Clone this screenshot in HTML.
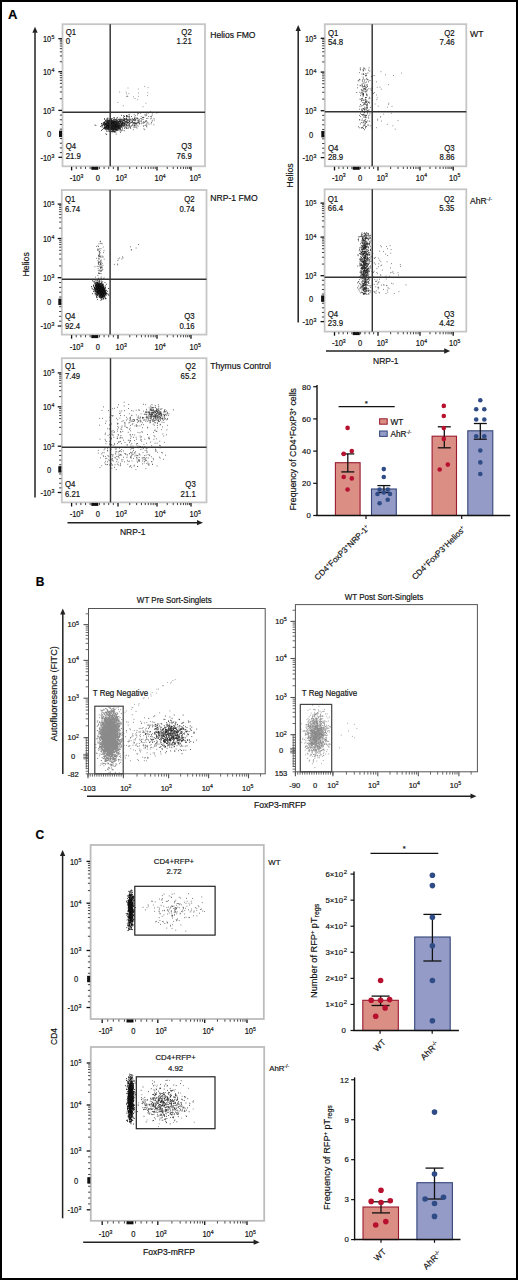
<!DOCTYPE html>
<html><head><meta charset="utf-8"><style>
html,body{margin:0;padding:0;background:#fff;}
text{font-variant-ligatures:none;stroke:#111;stroke-width:0.18px;paint-order:stroke;}
#fig{position:relative;width:518px;height:1280px;overflow:hidden;background:#fff;}
#fig svg{position:absolute;left:0;top:0;}
#brd{position:absolute;left:0;top:0;width:518px;height:1280px;box-sizing:border-box;border:2px solid #000;}
text{font-family:"Liberation Sans", sans-serif;}
</style></head><body><div id="fig">
<svg width="518" height="1280" viewBox="0 0 518 1280" font-family="Liberation Sans, sans-serif">
<text x="8.00" y="18.50" font-size="13" text-anchor="start" font-weight="bold" fill="#000">A</text>
<text x="35.70" y="586.10" font-size="12" text-anchor="start" font-weight="bold" fill="#000">B</text>
<text x="35.50" y="839.00" font-size="12" text-anchor="start" font-weight="bold" fill="#000">C</text>
<line x1="35.00" y1="32.30" x2="35.00" y2="497.50" stroke="#222" stroke-width="1.5"/>
<path d="M32.35,32.80 L35.00,26.80 L37.65,32.80 Z" fill="#222"/>
<line x1="67.50" y1="522.70" x2="197.50" y2="522.70" stroke="#222" stroke-width="1.5"/>
<path d="M197.00,520.05 L203.00,522.70 L197.00,525.35 Z" fill="#222"/>
<text x="0" y="0" font-size="9.9" text-anchor="middle" font-weight="normal" fill="#111" transform="translate(28.85 264.40) rotate(-90) scale(0.89 1)">Helios</text>
<text x="0" y="0" font-size="9.9" text-anchor="middle" font-weight="normal" fill="#111" transform="translate(132.70 534.80) rotate(0) scale(0.86 1)">NRP-1</text>
<rect x="62.50" y="24.20" width="142.50" height="142.10" fill="none" stroke="#c6c6c6" stroke-width="1.8"/>
<line x1="58.40" y1="157.30" x2="62.00" y2="157.30" stroke="#111" stroke-width="1.3"/>
<line x1="58.40" y1="110.40" x2="62.00" y2="110.40" stroke="#111" stroke-width="1.3"/>
<line x1="58.40" y1="71.70" x2="62.00" y2="71.70" stroke="#111" stroke-width="1.3"/>
<line x1="58.40" y1="38.70" x2="62.00" y2="38.70" stroke="#111" stroke-width="1.3"/>
<line x1="59.80" y1="129.16" x2="62.00" y2="129.16" stroke="#111" stroke-width="0.8"/>
<line x1="59.80" y1="138.54" x2="62.00" y2="138.54" stroke="#111" stroke-width="0.8"/>
<line x1="59.80" y1="124.47" x2="62.00" y2="124.47" stroke="#111" stroke-width="0.8"/>
<line x1="59.80" y1="143.23" x2="62.00" y2="143.23" stroke="#111" stroke-width="0.8"/>
<line x1="59.80" y1="119.78" x2="62.00" y2="119.78" stroke="#111" stroke-width="0.8"/>
<line x1="59.80" y1="147.92" x2="62.00" y2="147.92" stroke="#111" stroke-width="0.8"/>
<line x1="59.80" y1="115.09" x2="62.00" y2="115.09" stroke="#111" stroke-width="0.8"/>
<line x1="59.80" y1="152.61" x2="62.00" y2="152.61" stroke="#111" stroke-width="0.8"/>
<line x1="59.80" y1="131.97" x2="62.00" y2="131.97" stroke="#111" stroke-width="0.8"/>
<line x1="59.80" y1="135.73" x2="62.00" y2="135.73" stroke="#111" stroke-width="0.8"/>
<line x1="59.80" y1="98.75" x2="62.00" y2="98.75" stroke="#111" stroke-width="0.8"/>
<line x1="59.80" y1="61.77" x2="62.00" y2="61.77" stroke="#111" stroke-width="0.8"/>
<line x1="59.80" y1="91.94" x2="62.00" y2="91.94" stroke="#111" stroke-width="0.8"/>
<line x1="59.80" y1="55.95" x2="62.00" y2="55.95" stroke="#111" stroke-width="0.8"/>
<line x1="59.80" y1="87.10" x2="62.00" y2="87.10" stroke="#111" stroke-width="0.8"/>
<line x1="59.80" y1="51.83" x2="62.00" y2="51.83" stroke="#111" stroke-width="0.8"/>
<line x1="59.80" y1="83.35" x2="62.00" y2="83.35" stroke="#111" stroke-width="0.8"/>
<line x1="59.80" y1="48.63" x2="62.00" y2="48.63" stroke="#111" stroke-width="0.8"/>
<line x1="59.80" y1="80.29" x2="62.00" y2="80.29" stroke="#111" stroke-width="0.8"/>
<line x1="59.80" y1="46.02" x2="62.00" y2="46.02" stroke="#111" stroke-width="0.8"/>
<line x1="59.80" y1="77.69" x2="62.00" y2="77.69" stroke="#111" stroke-width="0.8"/>
<line x1="59.80" y1="43.81" x2="62.00" y2="43.81" stroke="#111" stroke-width="0.8"/>
<line x1="59.80" y1="75.45" x2="62.00" y2="75.45" stroke="#111" stroke-width="0.8"/>
<line x1="59.80" y1="41.90" x2="62.00" y2="41.90" stroke="#111" stroke-width="0.8"/>
<line x1="59.80" y1="73.47" x2="62.00" y2="73.47" stroke="#111" stroke-width="0.8"/>
<line x1="59.80" y1="40.21" x2="62.00" y2="40.21" stroke="#111" stroke-width="0.8"/>
<rect x="59.00" y="130.65" width="3.00" height="6.40" fill="#111" stroke="none" stroke-width="1"/>
<line x1="71.60" y1="166.80" x2="71.60" y2="170.40" stroke="#111" stroke-width="1.3"/>
<line x1="118.00" y1="166.80" x2="118.00" y2="170.40" stroke="#111" stroke-width="1.3"/>
<line x1="157.00" y1="166.80" x2="157.00" y2="170.40" stroke="#111" stroke-width="1.3"/>
<line x1="191.00" y1="166.80" x2="191.00" y2="170.40" stroke="#111" stroke-width="1.3"/>
<line x1="99.44" y1="166.80" x2="99.44" y2="169.00" stroke="#111" stroke-width="0.8"/>
<line x1="90.16" y1="166.80" x2="90.16" y2="169.00" stroke="#111" stroke-width="0.8"/>
<line x1="104.08" y1="166.80" x2="104.08" y2="169.00" stroke="#111" stroke-width="0.8"/>
<line x1="85.52" y1="166.80" x2="85.52" y2="169.00" stroke="#111" stroke-width="0.8"/>
<line x1="108.72" y1="166.80" x2="108.72" y2="169.00" stroke="#111" stroke-width="0.8"/>
<line x1="80.88" y1="166.80" x2="80.88" y2="169.00" stroke="#111" stroke-width="0.8"/>
<line x1="113.36" y1="166.80" x2="113.36" y2="169.00" stroke="#111" stroke-width="0.8"/>
<line x1="76.24" y1="166.80" x2="76.24" y2="169.00" stroke="#111" stroke-width="0.8"/>
<line x1="96.66" y1="166.80" x2="96.66" y2="169.00" stroke="#111" stroke-width="0.8"/>
<line x1="92.94" y1="166.80" x2="92.94" y2="169.00" stroke="#111" stroke-width="0.8"/>
<line x1="129.74" y1="166.80" x2="129.74" y2="169.00" stroke="#111" stroke-width="0.8"/>
<line x1="167.24" y1="166.80" x2="167.24" y2="169.00" stroke="#111" stroke-width="0.8"/>
<line x1="136.61" y1="166.80" x2="136.61" y2="169.00" stroke="#111" stroke-width="0.8"/>
<line x1="173.22" y1="166.80" x2="173.22" y2="169.00" stroke="#111" stroke-width="0.8"/>
<line x1="141.48" y1="166.80" x2="141.48" y2="169.00" stroke="#111" stroke-width="0.8"/>
<line x1="177.47" y1="166.80" x2="177.47" y2="169.00" stroke="#111" stroke-width="0.8"/>
<line x1="145.26" y1="166.80" x2="145.26" y2="169.00" stroke="#111" stroke-width="0.8"/>
<line x1="180.76" y1="166.80" x2="180.76" y2="169.00" stroke="#111" stroke-width="0.8"/>
<line x1="148.35" y1="166.80" x2="148.35" y2="169.00" stroke="#111" stroke-width="0.8"/>
<line x1="183.46" y1="166.80" x2="183.46" y2="169.00" stroke="#111" stroke-width="0.8"/>
<line x1="150.96" y1="166.80" x2="150.96" y2="169.00" stroke="#111" stroke-width="0.8"/>
<line x1="185.73" y1="166.80" x2="185.73" y2="169.00" stroke="#111" stroke-width="0.8"/>
<line x1="153.22" y1="166.80" x2="153.22" y2="169.00" stroke="#111" stroke-width="0.8"/>
<line x1="187.71" y1="166.80" x2="187.71" y2="169.00" stroke="#111" stroke-width="0.8"/>
<line x1="155.22" y1="166.80" x2="155.22" y2="169.00" stroke="#111" stroke-width="0.8"/>
<line x1="189.44" y1="166.80" x2="189.44" y2="169.00" stroke="#111" stroke-width="0.8"/>
<rect x="91.30" y="166.80" width="7.00" height="3.00" fill="#111" stroke="none" stroke-width="1"/>
<text x="0" y="0" font-size="8.3" text-anchor="end" font-weight="normal" fill="#111" transform="translate(51.30 42.09) rotate(0) scale(0.91 1)">10</text>
<text x="0" y="0" font-size="5.8100000000000005" text-anchor="start" font-weight="normal" fill="#111" transform="translate(51.50 39.10) rotate(0) scale(0.91 1)">5</text>
<text x="0" y="0" font-size="8.3" text-anchor="end" font-weight="normal" fill="#111" transform="translate(51.30 75.09) rotate(0) scale(0.91 1)">10</text>
<text x="0" y="0" font-size="5.8100000000000005" text-anchor="start" font-weight="normal" fill="#111" transform="translate(51.50 72.10) rotate(0) scale(0.91 1)">4</text>
<text x="0" y="0" font-size="8.3" text-anchor="end" font-weight="normal" fill="#111" transform="translate(51.30 113.79) rotate(0) scale(0.91 1)">10</text>
<text x="0" y="0" font-size="5.8100000000000005" text-anchor="start" font-weight="normal" fill="#111" transform="translate(51.50 110.80) rotate(0) scale(0.91 1)">3</text>
<text x="0" y="0" font-size="8.3" text-anchor="end" font-weight="normal" fill="#111" transform="translate(51.30 137.24) rotate(0) scale(0.91 1)">0</text>
<text x="0" y="0" font-size="8.3" text-anchor="end" font-weight="normal" fill="#111" transform="translate(51.30 160.69) rotate(0) scale(0.91 1)">-10</text>
<text x="0" y="0" font-size="5.8100000000000005" text-anchor="start" font-weight="normal" fill="#111" transform="translate(51.50 157.70) rotate(0) scale(0.91 1)">3</text>
<text x="0" y="0" font-size="8.3" text-anchor="middle" font-weight="normal" fill="#111" transform="translate(76.50 181.49) rotate(0) scale(0.91 1)">-10<tspan font-size="5.64" dy="-3.15">3</tspan></text>
<text x="0" y="0" font-size="8.3" text-anchor="middle" font-weight="normal" fill="#111" transform="translate(97.90 181.49) rotate(0) scale(0.91 1)">0</text>
<text x="0" y="0" font-size="8.3" text-anchor="middle" font-weight="normal" fill="#111" transform="translate(121.20 181.49) rotate(0) scale(0.91 1)">10<tspan font-size="5.64" dy="-3.15">3</tspan></text>
<text x="0" y="0" font-size="8.3" text-anchor="middle" font-weight="normal" fill="#111" transform="translate(160.10 181.49) rotate(0) scale(0.91 1)">10<tspan font-size="5.64" dy="-3.15">4</tspan></text>
<text x="0" y="0" font-size="8.3" text-anchor="middle" font-weight="normal" fill="#111" transform="translate(195.20 181.49) rotate(0) scale(0.91 1)">10<tspan font-size="5.64" dy="-3.15">5</tspan></text>
<path d="M111.0,126.6h0M111.1,124.6h0M108.4,124.6h0M116.3,126.7h0M116.0,126.3h0M113.5,126.0h0M105.5,127.1h0M114.0,126.8h0M105.4,120.6h0M108.5,124.0h0M113.2,125.4h0M114.0,123.9h0M113.2,126.5h0M109.4,129.5h0M114.2,128.5h0M109.6,123.4h0M110.7,125.0h0M114.5,126.2h0M110.3,122.9h0M110.0,128.3h0M108.8,125.8h0M113.7,121.8h0M112.2,128.7h0M104.1,124.1h0M111.6,123.3h0M113.9,125.4h0M106.3,127.1h0M114.6,127.9h0M117.6,126.7h0M112.5,122.2h0M114.4,124.0h0M110.2,122.1h0M108.2,123.8h0M117.0,120.7h0M106.3,125.6h0M117.6,127.2h0M104.6,118.7h0M113.4,123.7h0M107.6,127.6h0M116.3,126.1h0M113.0,126.5h0M118.2,127.3h0M114.0,126.9h0M105.9,128.2h0M115.7,127.0h0M104.3,123.3h0M115.3,121.1h0M111.3,127.9h0M106.9,129.1h0M114.2,125.2h0M113.3,127.1h0M112.5,128.3h0M109.4,124.2h0M116.1,125.7h0M108.6,127.5h0M117.7,124.7h0M106.6,124.7h0M111.4,124.6h0M117.5,123.2h0M116.9,122.6h0M108.9,126.8h0M116.4,127.8h0M113.3,125.8h0M112.6,126.9h0M111.3,126.0h0M114.2,125.5h0M115.0,127.0h0M119.8,126.7h0M110.3,124.4h0M111.9,127.7h0M110.7,126.3h0M119.2,119.5h0M107.6,125.7h0M113.6,126.1h0M110.3,126.9h0M113.1,124.2h0M121.5,126.9h0M109.8,125.0h0M111.1,125.2h0M101.4,123.5h0M115.9,122.7h0M111.7,127.8h0M115.3,129.3h0M105.4,124.1h0M110.7,126.9h0M116.3,119.0h0M116.2,122.1h0M114.7,121.9h0M112.7,128.4h0M111.4,125.8h0M115.1,126.0h0M111.7,129.2h0M116.1,124.9h0M122.7,123.2h0M115.6,125.0h0M112.5,127.2h0M112.9,127.0h0M106.0,121.3h0M114.4,123.2h0M108.0,121.5h0M116.9,127.6h0M117.7,123.4h0M112.0,122.6h0M115.0,129.5h0M108.5,129.1h0M115.9,125.2h0M104.3,128.4h0M111.6,123.9h0M113.6,126.5h0M117.8,123.2h0M116.4,129.4h0M117.7,125.3h0M109.1,127.7h0M112.4,125.7h0M117.6,125.1h0M103.0,123.9h0M104.8,127.0h0M113.2,124.0h0M112.0,127.5h0M112.3,128.7h0M111.8,128.0h0M117.8,129.8h0M109.4,127.4h0M104.7,122.2h0M104.3,127.6h0M107.2,125.1h0M111.3,125.3h0M109.7,125.8h0M119.0,126.0h0M114.1,128.0h0M111.2,122.2h0M109.8,127.9h0M105.6,123.5h0M115.9,127.6h0M112.0,127.4h0M112.6,122.5h0M105.9,123.4h0M115.6,124.2h0M108.5,123.3h0M106.0,124.7h0M107.4,126.0h0M102.8,125.6h0M109.5,120.4h0M114.8,124.9h0M103.3,122.7h0M113.1,124.3h0M115.0,127.5h0M114.6,126.4h0M117.2,127.4h0M113.8,120.3h0M115.5,128.9h0M110.8,124.2h0M119.6,121.5h0M113.8,131.5h0M108.4,126.9h0M119.4,125.6h0M114.2,127.8h0M108.5,125.0h0M113.1,127.5h0M111.9,124.9h0M108.0,124.3h0M115.5,125.9h0M108.7,123.1h0M122.4,128.9h0M114.5,119.1h0M114.4,126.8h0M118.6,126.9h0M111.7,126.7h0M104.4,127.5h0M113.3,123.7h0M117.2,130.2h0M106.5,123.4h0M113.1,125.9h0M110.4,122.9h0M120.3,128.5h0M107.3,121.8h0M118.6,128.3h0M119.1,127.9h0M108.6,125.8h0M103.6,123.0h0M111.8,126.7h0M109.2,124.9h0M113.8,126.5h0M114.5,126.1h0M110.7,127.3h0M112.2,123.4h0M109.6,125.2h0M111.6,125.8h0M112.0,125.8h0M111.5,122.2h0M113.6,128.1h0M113.7,125.0h0M113.7,123.1h0M104.6,125.1h0M108.4,127.0h0M107.8,118.6h0M107.9,129.1h0M110.5,121.9h0M109.0,126.5h0M113.9,126.0h0M117.8,127.5h0M111.9,126.9h0M118.5,128.2h0M116.0,123.0h0M111.4,127.2h0M110.8,128.0h0M114.3,127.8h0M111.2,131.7h0M116.8,125.2h0M112.4,131.9h0M110.7,127.5h0M115.8,125.7h0M107.4,125.6h0M113.4,128.3h0M115.1,125.7h0M115.3,127.0h0M112.8,125.6h0M111.1,127.0h0M107.9,123.6h0M112.0,121.8h0M110.3,120.3h0M109.3,126.6h0M114.2,125.4h0M111.1,121.8h0M119.1,127.1h0M116.3,123.5h0M111.3,120.8h0M115.0,127.9h0M104.6,124.8h0M114.5,121.2h0M104.9,122.3h0M109.5,121.8h0M112.1,126.0h0M114.5,127.3h0M117.9,128.7h0M106.9,123.8h0M107.9,122.5h0M111.7,125.4h0M113.9,121.6h0M107.2,125.0h0M111.2,124.6h0M111.8,123.5h0M114.7,126.5h0M111.7,123.7h0M111.3,118.6h0M108.2,125.2h0M106.1,125.5h0M112.6,122.0h0M111.0,124.6h0M113.8,127.0h0M111.9,123.3h0M111.4,125.2h0M114.9,126.3h0M109.2,121.9h0M110.5,123.5h0M107.7,124.8h0M110.1,125.5h0M114.0,124.5h0M121.1,125.2h0M116.3,126.0h0M116.4,119.8h0M109.1,125.8h0M114.3,131.4h0M113.3,128.7h0M115.0,127.9h0M114.0,125.1h0M114.0,122.8h0M116.6,123.2h0M113.0,130.7h0M111.1,125.4h0M116.5,125.8h0M108.9,125.8h0M114.3,127.3h0M109.0,129.6h0M118.5,125.9h0M113.0,124.4h0M117.5,124.0h0M114.6,124.4h0M109.3,127.0h0M117.2,125.7h0M109.4,127.2h0M111.8,126.2h0M117.9,128.6h0M110.0,131.0h0M112.0,127.4h0M109.5,125.1h0M105.2,129.4h0M117.3,122.7h0M106.1,121.0h0M116.6,124.6h0M111.8,124.6h0M111.5,122.7h0M112.1,121.8h0M111.7,126.2h0M113.8,124.9h0M108.5,125.6h0M110.1,129.2h0M115.0,125.3h0M110.2,123.5h0M108.3,124.3h0M113.1,126.8h0M114.2,130.8h0M109.3,125.3h0M122.9,121.5h0M110.0,125.7h0M112.6,126.5h0M111.1,126.3h0M112.2,127.3h0M104.6,122.7h0M112.0,122.8h0M107.9,126.7h0M109.5,126.8h0M114.9,126.3h0M114.0,125.3h0M106.5,125.0h0M113.8,124.2h0M111.6,127.2h0M108.6,126.8h0M119.3,124.5h0M112.6,125.1h0M118.0,126.6h0M115.5,123.9h0M111.9,125.4h0M105.1,128.5h0M115.5,121.3h0M114.9,125.3h0M113.7,126.4h0M106.2,124.5h0M117.8,124.3h0M108.0,121.8h0M107.2,125.9h0M118.6,126.9h0M113.0,131.0h0M110.0,123.6h0M114.1,126.9h0M108.0,122.2h0M113.1,126.1h0M106.9,124.6h0M109.9,126.4h0M111.5,125.2h0M110.6,127.9h0M117.4,124.8h0M115.3,123.7h0M112.3,127.3h0M117.9,124.8h0M111.7,125.9h0M106.2,125.1h0M109.4,126.2h0M107.6,120.2h0M112.1,126.1h0M109.9,127.5h0M110.9,123.8h0M113.9,121.6h0M109.4,125.2h0M115.3,125.2h0M113.2,123.8h0M113.2,129.6h0M109.3,131.1h0M109.5,125.3h0M112.7,128.0h0M107.2,119.9h0M114.4,127.5h0M114.4,132.1h0M112.8,126.1h0M115.6,126.5h0M118.5,122.7h0M110.5,116.7h0M115.2,124.7h0M115.6,131.0h0M112.0,124.8h0M110.1,123.2h0M109.5,126.8h0M112.1,125.6h0M111.3,127.6h0M113.9,125.2h0M114.6,125.2h0M107.5,128.7h0M113.8,123.1h0M116.2,126.5h0M105.9,129.0h0M113.3,127.7h0M112.8,125.1h0M106.0,127.4h0M112.1,124.7h0M113.4,125.7h0M114.6,124.6h0M111.9,120.1h0M110.3,127.0h0M117.2,124.8h0M111.5,129.3h0M110.7,127.1h0M118.5,125.9h0M116.8,123.9h0M112.8,125.3h0M112.4,128.2h0M121.3,124.3h0M109.8,126.5h0M107.9,126.4h0M114.2,124.9h0M114.1,121.7h0M115.0,121.7h0M109.3,123.8h0M110.4,127.4h0M112.3,124.4h0M114.1,129.5h0M112.0,126.3h0M116.8,126.4h0M107.0,131.3h0M120.6,121.0h0M111.8,126.4h0M115.8,127.3h0M110.9,122.7h0M112.4,128.0h0M107.8,122.6h0M111.9,120.6h0M111.0,124.2h0M113.8,123.8h0M108.6,124.2h0M111.8,123.7h0M112.0,127.3h0M116.6,129.9h0M108.9,124.2h0M102.3,129.5h0M109.2,125.1h0M114.0,122.2h0M113.8,125.5h0M104.9,125.7h0M116.7,121.1h0M115.1,126.1h0M113.9,126.6h0M117.1,125.2h0M115.4,124.6h0M114.8,123.6h0M111.6,129.7h0M113.7,125.1h0M107.5,123.1h0M112.8,127.8h0M113.7,126.8h0M111.8,128.8h0M110.5,123.9h0M115.5,125.8h0M110.9,123.9h0M111.0,126.9h0M113.4,122.5h0M113.7,126.0h0M108.1,127.1h0M110.9,124.5h0M115.1,128.9h0M109.3,126.3h0M108.6,130.9h0M110.1,128.2h0M109.5,127.3h0M120.7,119.6h0M110.3,126.5h0M111.6,123.7h0M120.4,126.1h0M105.6,127.1h0M105.3,127.8h0M109.7,125.6h0M116.9,126.0h0M106.6,120.8h0M116.6,127.5h0M108.8,127.3h0M113.9,127.1h0M103.2,124.1h0M115.5,127.4h0M115.4,119.5h0M112.7,126.7h0M122.0,123.7h0M110.7,125.4h0M115.5,124.5h0M116.5,123.7h0M113.0,124.2h0M112.6,123.7h0M105.8,127.7h0M113.2,124.1h0M112.8,127.9h0M108.2,124.9h0M114.1,126.8h0M110.7,120.1h0M116.8,126.5h0M112.1,124.7h0M113.0,124.4h0M108.0,123.3h0M109.7,123.7h0M107.5,126.7h0M106.9,126.7h0M108.0,126.0h0M117.4,126.2h0M109.1,125.3h0M112.6,121.1h0M109.6,125.7h0M110.2,125.5h0M114.9,127.5h0M115.5,127.1h0M110.9,125.3h0M110.9,124.6h0M111.3,121.1h0M110.7,125.3h0M108.2,125.1h0M114.0,125.1h0M120.1,119.4h0M111.2,120.8h0M115.8,132.2h0M102.2,125.1h0M114.0,124.8h0M114.2,120.0h0M115.3,126.5h0M112.1,123.9h0M114.5,124.4h0M112.9,124.2h0M103.2,124.8h0M112.8,127.3h0M108.6,125.1h0M114.4,125.9h0M116.8,130.7h0M108.5,120.4h0M115.3,129.4h0M115.6,127.7h0M109.6,123.5h0M115.5,123.4h0M104.9,122.5h0M121.7,130.8h0M109.3,123.4h0M112.9,123.6h0M117.1,125.5h0M107.8,128.4h0M109.7,125.8h0M112.0,124.6h0M113.3,123.8h0M104.8,119.4h0M107.1,123.2h0M111.9,125.5h0M114.2,125.8h0M108.9,123.4h0M103.7,124.4h0M113.9,126.8h0M111.5,124.9h0M115.7,125.7h0M114.9,127.0h0M112.8,128.7h0M109.8,124.4h0M108.8,123.2h0M118.1,130.2h0M112.1,126.8h0M116.6,127.7h0M116.7,122.6h0M109.5,126.4h0M117.6,126.0h0M108.7,124.3h0M109.4,123.1h0M117.9,124.2h0M112.1,130.8h0M116.6,126.5h0M109.6,126.3h0M118.3,127.4h0M116.9,126.0h0M114.0,125.0h0M113.7,128.7h0M106.4,124.9h0M112.9,124.0h0M110.8,127.3h0M119.8,127.5h0M113.3,121.6h0M119.5,126.1h0M111.9,122.6h0M111.8,122.7h0M112.3,126.6h0M112.1,126.1h0M108.7,128.7h0M109.5,120.7h0M111.3,123.5h0M108.1,124.3h0M113.1,122.5h0M111.5,128.9h0M114.7,125.2h0M112.5,125.1h0M111.8,127.2h0M111.6,119.4h0M111.9,123.2h0M114.5,124.0h0M112.6,130.9h0M107.9,122.3h0M106.5,119.1h0M104.7,125.8h0M109.5,120.6h0M106.2,126.6h0M109.0,124.3h0M113.3,128.9h0M119.6,128.5h0M112.6,125.9h0M119.0,129.4h0M110.8,126.5h0M113.1,125.6h0M110.0,122.0h0M109.9,121.4h0M116.8,127.0h0M107.3,128.6h0M115.5,120.9h0M119.2,127.9h0M120.1,122.9h0M114.1,126.6h0M112.8,125.9h0M116.1,121.9h0M107.2,121.6h0M109.8,123.8h0M113.4,126.2h0M112.1,123.7h0M110.3,127.7h0M115.0,125.8h0M110.7,129.2h0M109.7,126.9h0M116.5,125.0h0M115.2,122.8h0M115.9,126.1h0M105.8,126.7h0M108.5,128.4h0M109.4,124.8h0M113.1,124.6h0M113.0,124.1h0M114.6,125.6h0M112.8,118.6h0M116.5,125.8h0M105.0,125.2h0M113.8,128.2h0M107.8,129.0h0M111.4,131.3h0M111.4,127.1h0M110.6,122.5h0M116.3,127.9h0M118.0,127.9h0M109.8,121.1h0M109.5,123.6h0M108.8,126.6h0M113.3,124.8h0M112.7,125.1h0M112.8,127.3h0M115.7,123.9h0M106.1,128.6h0M112.4,128.2h0M105.6,124.2h0M112.1,121.8h0M110.0,127.1h0M116.2,129.6h0M108.6,121.7h0M114.0,127.9h0M112.8,122.2h0M115.1,127.6h0M114.2,124.3h0M113.2,127.4h0M109.8,120.7h0M113.3,126.7h0M112.1,127.6h0M109.7,125.0h0M110.8,126.7h0M118.2,125.2h0M120.0,129.7h0M115.1,127.1h0M118.9,125.4h0M111.6,122.7h0M113.8,128.9h0M114.1,126.6h0M111.2,125.8h0M106.4,127.7h0M110.4,122.5h0M109.1,123.2h0M115.3,128.2h0M106.7,127.4h0M115.5,124.2h0M106.2,123.2h0M109.5,126.1h0M110.6,120.3h0M112.9,121.6h0M115.5,122.6h0M109.3,123.1h0M109.9,128.5h0M115.3,127.1h0M113.2,121.6h0M110.0,123.9h0M108.2,126.4h0M109.1,123.4h0M107.9,120.0h0M114.3,128.9h0M112.7,123.0h0M101.5,125.2h0M116.7,126.4h0M115.6,129.3h0M116.4,124.6h0M116.1,127.6h0M106.0,124.0h0M106.4,124.8h0M114.3,122.9h0M104.0,128.1h0M113.5,129.2h0M106.8,127.7h0M120.1,130.9h0M111.2,126.0h0M111.4,127.8h0M116.0,125.9h0M106.7,126.9h0M110.2,126.8h0M113.0,129.5h0M116.4,124.6h0M113.4,129.9h0M109.9,126.3h0M116.6,128.8h0M114.0,122.2h0M107.1,125.7h0M113.5,131.8h0M108.6,128.0h0M115.0,121.4h0M108.8,125.6h0M110.1,124.9h0M113.8,123.5h0M113.8,123.9h0M109.9,126.6h0M109.8,126.0h0M118.2,125.9h0M111.4,127.2h0M110.6,128.0h0M107.0,126.6h0M110.0,123.3h0M118.9,123.7h0M118.9,127.5h0M117.7,123.3h0M116.7,129.3h0M111.5,125.0h0M121.6,126.5h0M110.4,123.7h0M113.7,126.3h0M112.7,129.7h0M110.7,126.5h0M117.7,123.3h0M116.1,130.2h0M106.7,122.3h0M108.0,120.5h0M113.8,120.9h0M113.9,129.1h0M105.7,124.2h0M104.5,126.9h0M109.1,124.6h0M112.2,126.8h0M110.6,125.4h0M109.9,125.5h0M107.4,125.3h0M104.5,123.7h0M119.5,126.1h0M107.1,125.7h0M108.2,121.0h0M109.1,127.0h0" stroke="#111" stroke-width="1.00" stroke-linecap="round" opacity="1.0"/>
<path d="M123.9,122.7h0M114.1,121.0h0M131.1,122.6h0M113.9,117.6h0M110.7,133.6h0M112.4,124.7h0M122.6,122.7h0M118.9,119.2h0M113.1,130.5h0M115.3,127.3h0M108.3,124.7h0M123.0,126.7h0M112.6,126.9h0M123.9,120.5h0M124.6,119.9h0M115.0,124.4h0M100.6,126.5h0M113.5,119.8h0M117.8,126.6h0M118.0,128.3h0M112.3,120.5h0M132.6,122.9h0M128.1,119.5h0M127.0,123.4h0M125.9,122.8h0M130.0,119.8h0M113.8,119.7h0M129.7,119.5h0M113.2,121.6h0M117.7,119.8h0M118.8,121.8h0M116.9,121.0h0M121.3,121.9h0M121.9,124.2h0M123.6,115.7h0M117.0,121.5h0M126.8,117.2h0M115.6,123.4h0M118.5,127.3h0M117.7,127.3h0M110.0,119.2h0M130.1,123.4h0M124.7,123.3h0M124.6,118.8h0M128.1,120.5h0M128.4,122.6h0M106.2,121.6h0M129.5,121.6h0M118.0,124.8h0M117.8,122.2h0M121.8,123.9h0M132.4,121.7h0M135.1,127.2h0M133.9,124.9h0M122.0,123.8h0M119.9,121.2h0M120.5,121.4h0M133.3,123.2h0M117.7,117.6h0M120.6,122.2h0M112.9,121.0h0M104.1,128.3h0M120.5,132.3h0M120.8,123.0h0M131.8,122.1h0M122.3,122.0h0M116.5,129.3h0M128.5,128.0h0M118.4,124.0h0M114.4,127.9h0M110.6,127.2h0M129.2,126.9h0M114.0,128.4h0M115.6,121.8h0M111.1,129.1h0M133.4,119.4h0M115.3,123.3h0M139.8,123.7h0M116.9,118.1h0M116.0,128.4h0M135.0,120.2h0M115.8,122.7h0M106.9,128.9h0M112.9,128.5h0M108.2,121.4h0M123.2,120.6h0M126.9,122.5h0M112.2,127.1h0M127.3,116.0h0M134.7,122.9h0M126.7,116.3h0M115.6,123.2h0M129.1,117.2h0M114.4,117.8h0M119.2,125.0h0M108.4,123.6h0M124.8,128.2h0M126.0,121.6h0M112.2,121.8h0M116.0,124.8h0M120.6,129.2h0M123.2,119.5h0M132.6,124.8h0M121.8,120.9h0M107.0,122.4h0M127.8,119.6h0M111.1,125.8h0M122.8,125.2h0M125.9,127.4h0M114.7,127.9h0M113.6,127.1h0M122.3,124.1h0M128.3,122.2h0M129.3,125.1h0M122.0,121.4h0M115.3,122.7h0M119.5,123.7h0M143.4,121.9h0M126.8,119.6h0M115.7,123.3h0M122.4,119.8h0M133.1,119.6h0M129.1,114.3h0M120.9,124.4h0M122.4,125.3h0M123.1,123.7h0M106.8,123.5h0M103.4,128.6h0M123.3,122.5h0M114.8,122.6h0M134.8,127.0h0M120.6,127.9h0M109.1,119.0h0M117.4,121.2h0M116.8,124.8h0M143.7,117.5h0M121.4,124.4h0M120.7,126.7h0M134.3,117.1h0M122.2,122.4h0M123.7,117.9h0M107.8,117.9h0M124.9,123.5h0M121.6,115.4h0M118.2,121.4h0M110.4,122.2h0M126.2,124.5h0M120.8,125.3h0M116.5,124.5h0M121.3,125.3h0M120.5,123.1h0M120.0,121.5h0M137.8,122.4h0M124.2,130.7h0M131.5,116.5h0M126.2,125.4h0M135.1,125.6h0M126.8,118.6h0M114.5,125.5h0M124.8,119.4h0M118.1,122.6h0M121.5,124.6h0M118.8,119.7h0M130.3,127.3h0M120.2,127.1h0M124.3,125.2h0M124.6,120.3h0M125.3,126.2h0M114.3,131.3h0M136.7,127.0h0M135.9,123.5h0M118.5,121.9h0M114.9,124.9h0M120.8,125.8h0M105.9,133.8h0M138.1,120.5h0M126.1,124.3h0M123.1,122.5h0M120.1,120.9h0M122.3,123.2h0M123.4,120.2h0M121.3,123.6h0M125.5,119.2h0M124.1,126.3h0M125.5,121.5h0M117.3,123.3h0M126.5,127.8h0M119.8,121.5h0M123.8,123.7h0M114.2,122.2h0M120.2,125.9h0M112.1,121.6h0M124.7,118.7h0M121.8,124.6h0M120.2,120.2h0M120.6,122.5h0M123.5,120.2h0M129.2,116.5h0M119.7,123.7h0M128.2,120.2h0M125.1,120.9h0M126.5,128.4h0M118.0,125.5h0M114.0,128.0h0M130.1,122.1h0M112.5,126.3h0M129.6,125.7h0M127.1,116.3h0M115.9,129.2h0M111.8,128.9h0M135.1,123.7h0M129.4,121.0h0M111.8,124.7h0M119.5,123.6h0M126.2,122.1h0M122.4,124.7h0M121.0,129.7h0M124.3,123.2h0M119.4,121.7h0M131.1,122.3h0M112.9,123.0h0M120.0,122.2h0M129.1,118.2h0M124.7,123.4h0M112.2,125.1h0M120.3,125.3h0M117.6,125.1h0M108.5,121.9h0M126.9,126.0h0M120.9,121.5h0M129.1,115.1h0M115.0,126.8h0M125.9,119.2h0M106.8,130.8h0M122.1,120.3h0M121.4,126.5h0M101.6,130.5h0M126.6,115.5h0M126.8,116.5h0M129.5,123.4h0M137.9,118.6h0M121.0,127.0h0M116.2,121.9h0M118.2,123.7h0M112.9,126.5h0M125.1,123.1h0M133.8,120.3h0M130.8,120.0h0M126.7,116.0h0M122.5,122.7h0M117.3,122.1h0M118.4,121.5h0M104.6,124.3h0M116.9,122.4h0M113.1,124.4h0M126.9,121.7h0M117.3,128.7h0M128.3,125.4h0M129.7,120.9h0M120.0,127.4h0M116.8,123.8h0M123.8,124.3h0M118.9,127.2h0M119.7,126.2h0M129.0,124.4h0M126.5,118.7h0M111.2,123.1h0M124.6,128.0h0M111.8,126.1h0M114.6,122.1h0M118.9,126.2h0M122.6,127.2h0M113.6,127.7h0M128.0,122.6h0M124.6,121.0h0M112.8,123.5h0M116.2,134.1h0M117.4,129.7h0M122.5,124.3h0M126.6,119.9h0M127.9,123.6h0M109.6,127.4h0M125.1,124.3h0M132.9,120.1h0M124.8,125.4h0M114.2,128.7h0M110.1,120.9h0M124.9,119.2h0M120.1,118.1h0M121.5,119.6h0M123.6,117.9h0M124.4,122.0h0M121.5,123.2h0M122.0,118.9h0M101.8,126.8h0M114.0,123.1h0M124.2,116.3h0M115.3,122.4h0M113.1,125.9h0M119.9,120.9h0M113.6,127.5h0M116.1,126.3h0M124.4,116.5h0M112.9,124.9h0M123.6,125.7h0M127.0,126.0h0M118.2,123.3h0M126.8,121.1h0M128.9,116.8h0M125.9,122.1h0M106.2,129.3h0M123.3,123.2h0M112.9,123.3h0M132.3,118.8h0M95.0,125.0h0M112.0,124.6h0M118.1,120.9h0M114.7,128.1h0M110.2,131.9h0M116.9,120.5h0M126.9,124.4h0M113.2,127.3h0M107.2,122.7h0M129.4,121.2h0M111.2,126.9h0M127.9,122.3h0M107.4,124.6h0M124.1,125.6h0M134.9,120.3h0M117.4,124.0h0M130.0,118.8h0M130.8,112.6h0M127.0,120.2h0M124.4,125.2h0M112.1,124.7h0M122.8,125.2h0M114.0,121.3h0M106.6,134.5h0M119.6,123.0h0M109.8,128.5h0M117.0,129.0h0M127.4,122.5h0M126.5,118.8h0M118.6,122.0h0M111.5,125.2h0M119.9,128.5h0M95.9,125.5h0M114.1,123.1h0M124.2,124.3h0M121.2,121.9h0M124.7,124.1h0M107.2,124.9h0M110.7,121.2h0M122.1,123.5h0M121.9,120.4h0M119.5,120.7h0M123.9,125.3h0M134.2,125.6h0M115.0,123.0h0M114.0,125.7h0M135.9,123.4h0M104.5,122.0h0M111.3,126.9h0M121.0,124.5h0M134.4,118.5h0M114.6,131.2h0M123.6,120.4h0M105.8,120.9h0M102.7,126.8h0M121.3,126.8h0M120.0,121.3h0M115.4,130.8h0M107.8,126.3h0M121.2,125.5h0M118.0,125.7h0M127.1,122.0h0M117.6,123.4h0M113.8,124.0h0M118.7,124.6h0M131.0,126.2h0" stroke="#222" stroke-width="0.90" stroke-linecap="round" opacity="1.0"/>
<path d="M135.0,124.0h0M141.7,123.7h0M139.2,122.0h0M134.8,118.4h0M146.8,125.1h0M145.0,121.9h0M141.4,118.9h0M123.0,125.9h0M140.8,118.5h0M130.3,127.3h0M122.8,130.3h0M144.8,129.7h0M132.5,121.8h0M134.4,122.3h0M137.1,118.3h0M148.7,116.5h0M134.4,123.9h0M134.2,119.9h0M142.2,119.1h0M127.8,122.2h0M137.0,128.1h0M129.1,126.3h0M131.9,120.6h0M136.1,122.5h0M146.8,126.9h0M133.3,127.1h0M148.0,123.0h0M132.2,125.6h0M138.0,122.6h0M136.6,124.0h0M149.0,124.1h0M137.2,125.2h0M152.1,115.4h0M152.3,113.8h0M143.9,122.7h0M152.3,120.2h0M134.7,118.4h0M127.7,125.6h0M136.9,118.4h0M143.8,117.3h0M135.1,119.7h0M153.9,124.8h0M137.6,114.9h0M141.5,120.9h0M142.1,122.8h0M136.1,125.1h0M146.5,120.8h0M135.3,119.6h0M145.2,115.7h0M137.6,118.2h0M126.5,125.2h0M138.8,121.2h0M146.9,113.9h0M138.4,122.2h0M146.5,115.6h0M145.4,121.0h0M151.2,123.9h0M143.9,128.9h0M139.0,119.3h0M135.9,117.7h0M138.7,113.5h0M138.2,122.8h0M147.9,118.4h0M151.5,116.6h0M137.8,113.6h0M132.1,118.8h0M152.1,121.2h0M129.3,124.4h0M143.2,119.5h0M139.2,119.8h0M134.2,114.7h0M138.2,126.1h0M151.6,118.1h0M132.4,121.1h0M146.9,121.3h0M133.9,123.1h0M137.2,123.3h0M135.4,115.7h0M139.5,123.9h0M129.3,121.9h0M146.7,118.5h0M133.3,129.7h0M146.3,124.0h0M130.7,128.5h0M124.5,121.0h0M145.5,125.3h0M130.9,119.6h0M140.7,113.2h0M144.6,122.4h0M135.1,123.6h0M145.8,121.3h0M143.6,126.3h0M134.8,122.2h0M134.4,125.7h0M135.4,123.3h0M140.2,121.1h0M154.0,118.6h0M151.4,122.5h0M150.5,118.8h0M147.1,122.8h0M133.7,122.8h0M137.9,121.0h0M150.3,116.6h0M124.4,116.3h0M135.1,119.1h0M139.1,123.2h0M154.3,120.1h0M143.0,117.6h0M144.0,125.5h0M150.6,111.8h0M146.7,126.0h0M146.2,114.2h0M136.3,123.6h0M142.6,117.4h0M131.3,125.8h0M127.4,128.2h0M139.2,122.1h0M127.4,120.3h0M145.0,114.5h0M156.9,113.1h0M128.4,122.6h0M143.2,123.2h0M135.8,120.7h0M137.0,119.1h0M116.7,127.8h0M141.2,121.3h0M133.6,122.7h0M138.9,120.7h0M148.6,113.0h0M141.2,116.6h0" stroke="#333" stroke-width="0.80" stroke-linecap="round" opacity="1.0"/>
<path d="M126.1,92.0h0M133.5,96.9h0M127.8,96.5h0M138.3,89.0h0M145.9,103.2h0M126.5,96.4h0M135.0,98.5h0M123.3,105.7h0M127.4,96.1h0M148.1,87.6h0M144.7,86.4h0M147.8,92.8h0M143.0,106.7h0M138.6,93.0h0M126.5,93.8h0M147.5,95.6h0M137.7,99.7h0M128.0,88.0h0M117.9,102.5h0M138.7,96.3h0M119.7,92.0h0M128.9,93.6h0" stroke="#666" stroke-width="0.80" stroke-linecap="round" opacity="1.0"/>
<line x1="110.20" y1="24.20" x2="110.20" y2="166.30" stroke="#333" stroke-width="1.45"/>
<line x1="62.50" y1="112.30" x2="205.00" y2="112.30" stroke="#333" stroke-width="1.45"/>
<text x="0" y="0" font-size="8.4" text-anchor="start" font-weight="normal" fill="#111" transform="translate(65.70 34.62) rotate(0) scale(0.93 1)">Q1</text>
<text x="0" y="0" font-size="8.4" text-anchor="start" font-weight="normal" fill="#111" transform="translate(65.70 44.12) rotate(0) scale(0.93 1)">0</text>
<text x="0" y="0" font-size="8.4" text-anchor="end" font-weight="normal" fill="#111" transform="translate(191.80 34.62) rotate(0) scale(0.93 1)">Q2</text>
<text x="0" y="0" font-size="8.4" text-anchor="end" font-weight="normal" fill="#111" transform="translate(191.80 44.12) rotate(0) scale(0.93 1)">1.21</text>
<text x="0" y="0" font-size="8.4" text-anchor="end" font-weight="normal" fill="#111" transform="translate(191.80 149.22) rotate(0) scale(0.93 1)">Q3</text>
<text x="0" y="0" font-size="8.4" text-anchor="end" font-weight="normal" fill="#111" transform="translate(191.80 158.92) rotate(0) scale(0.93 1)">76.9</text>
<text x="0" y="0" font-size="8.4" text-anchor="start" font-weight="normal" fill="#111" transform="translate(65.70 149.22) rotate(0) scale(0.93 1)">Q4</text>
<text x="0" y="0" font-size="8.4" text-anchor="start" font-weight="normal" fill="#111" transform="translate(65.70 158.92) rotate(0) scale(0.93 1)">21.9</text>
<text x="210.20" y="38.10" font-size="8.6" text-anchor="start" font-weight="normal" fill="#111">Helios FMO</text>
<rect x="61.80" y="190.00" width="144.70" height="144.60" fill="none" stroke="#c6c6c6" stroke-width="1.8"/>
<line x1="57.70" y1="326.00" x2="61.30" y2="326.00" stroke="#111" stroke-width="1.3"/>
<line x1="57.70" y1="277.70" x2="61.30" y2="277.70" stroke="#111" stroke-width="1.3"/>
<line x1="57.70" y1="238.50" x2="61.30" y2="238.50" stroke="#111" stroke-width="1.3"/>
<line x1="57.70" y1="204.10" x2="61.30" y2="204.10" stroke="#111" stroke-width="1.3"/>
<line x1="59.10" y1="297.02" x2="61.30" y2="297.02" stroke="#111" stroke-width="0.8"/>
<line x1="59.10" y1="306.68" x2="61.30" y2="306.68" stroke="#111" stroke-width="0.8"/>
<line x1="59.10" y1="292.19" x2="61.30" y2="292.19" stroke="#111" stroke-width="0.8"/>
<line x1="59.10" y1="311.51" x2="61.30" y2="311.51" stroke="#111" stroke-width="0.8"/>
<line x1="59.10" y1="287.36" x2="61.30" y2="287.36" stroke="#111" stroke-width="0.8"/>
<line x1="59.10" y1="316.34" x2="61.30" y2="316.34" stroke="#111" stroke-width="0.8"/>
<line x1="59.10" y1="282.53" x2="61.30" y2="282.53" stroke="#111" stroke-width="0.8"/>
<line x1="59.10" y1="321.17" x2="61.30" y2="321.17" stroke="#111" stroke-width="0.8"/>
<line x1="59.10" y1="299.92" x2="61.30" y2="299.92" stroke="#111" stroke-width="0.8"/>
<line x1="59.10" y1="303.78" x2="61.30" y2="303.78" stroke="#111" stroke-width="0.8"/>
<line x1="59.10" y1="265.90" x2="61.30" y2="265.90" stroke="#111" stroke-width="0.8"/>
<line x1="59.10" y1="228.14" x2="61.30" y2="228.14" stroke="#111" stroke-width="0.8"/>
<line x1="59.10" y1="259.00" x2="61.30" y2="259.00" stroke="#111" stroke-width="0.8"/>
<line x1="59.10" y1="222.09" x2="61.30" y2="222.09" stroke="#111" stroke-width="0.8"/>
<line x1="59.10" y1="254.10" x2="61.30" y2="254.10" stroke="#111" stroke-width="0.8"/>
<line x1="59.10" y1="217.79" x2="61.30" y2="217.79" stroke="#111" stroke-width="0.8"/>
<line x1="59.10" y1="250.30" x2="61.30" y2="250.30" stroke="#111" stroke-width="0.8"/>
<line x1="59.10" y1="214.46" x2="61.30" y2="214.46" stroke="#111" stroke-width="0.8"/>
<line x1="59.10" y1="247.20" x2="61.30" y2="247.20" stroke="#111" stroke-width="0.8"/>
<line x1="59.10" y1="211.73" x2="61.30" y2="211.73" stroke="#111" stroke-width="0.8"/>
<line x1="59.10" y1="244.57" x2="61.30" y2="244.57" stroke="#111" stroke-width="0.8"/>
<line x1="59.10" y1="209.43" x2="61.30" y2="209.43" stroke="#111" stroke-width="0.8"/>
<line x1="59.10" y1="242.30" x2="61.30" y2="242.30" stroke="#111" stroke-width="0.8"/>
<line x1="59.10" y1="207.43" x2="61.30" y2="207.43" stroke="#111" stroke-width="0.8"/>
<line x1="59.10" y1="240.29" x2="61.30" y2="240.29" stroke="#111" stroke-width="0.8"/>
<line x1="59.10" y1="205.67" x2="61.30" y2="205.67" stroke="#111" stroke-width="0.8"/>
<rect x="58.30" y="298.65" width="3.00" height="6.40" fill="#111" stroke="none" stroke-width="1"/>
<line x1="71.60" y1="335.10" x2="71.60" y2="338.70" stroke="#111" stroke-width="1.3"/>
<line x1="118.00" y1="335.10" x2="118.00" y2="338.70" stroke="#111" stroke-width="1.3"/>
<line x1="157.00" y1="335.10" x2="157.00" y2="338.70" stroke="#111" stroke-width="1.3"/>
<line x1="191.00" y1="335.10" x2="191.00" y2="338.70" stroke="#111" stroke-width="1.3"/>
<line x1="99.44" y1="335.10" x2="99.44" y2="337.30" stroke="#111" stroke-width="0.8"/>
<line x1="90.16" y1="335.10" x2="90.16" y2="337.30" stroke="#111" stroke-width="0.8"/>
<line x1="104.08" y1="335.10" x2="104.08" y2="337.30" stroke="#111" stroke-width="0.8"/>
<line x1="85.52" y1="335.10" x2="85.52" y2="337.30" stroke="#111" stroke-width="0.8"/>
<line x1="108.72" y1="335.10" x2="108.72" y2="337.30" stroke="#111" stroke-width="0.8"/>
<line x1="80.88" y1="335.10" x2="80.88" y2="337.30" stroke="#111" stroke-width="0.8"/>
<line x1="113.36" y1="335.10" x2="113.36" y2="337.30" stroke="#111" stroke-width="0.8"/>
<line x1="76.24" y1="335.10" x2="76.24" y2="337.30" stroke="#111" stroke-width="0.8"/>
<line x1="96.66" y1="335.10" x2="96.66" y2="337.30" stroke="#111" stroke-width="0.8"/>
<line x1="92.94" y1="335.10" x2="92.94" y2="337.30" stroke="#111" stroke-width="0.8"/>
<line x1="129.74" y1="335.10" x2="129.74" y2="337.30" stroke="#111" stroke-width="0.8"/>
<line x1="167.24" y1="335.10" x2="167.24" y2="337.30" stroke="#111" stroke-width="0.8"/>
<line x1="136.61" y1="335.10" x2="136.61" y2="337.30" stroke="#111" stroke-width="0.8"/>
<line x1="173.22" y1="335.10" x2="173.22" y2="337.30" stroke="#111" stroke-width="0.8"/>
<line x1="141.48" y1="335.10" x2="141.48" y2="337.30" stroke="#111" stroke-width="0.8"/>
<line x1="177.47" y1="335.10" x2="177.47" y2="337.30" stroke="#111" stroke-width="0.8"/>
<line x1="145.26" y1="335.10" x2="145.26" y2="337.30" stroke="#111" stroke-width="0.8"/>
<line x1="180.76" y1="335.10" x2="180.76" y2="337.30" stroke="#111" stroke-width="0.8"/>
<line x1="148.35" y1="335.10" x2="148.35" y2="337.30" stroke="#111" stroke-width="0.8"/>
<line x1="183.46" y1="335.10" x2="183.46" y2="337.30" stroke="#111" stroke-width="0.8"/>
<line x1="150.96" y1="335.10" x2="150.96" y2="337.30" stroke="#111" stroke-width="0.8"/>
<line x1="185.73" y1="335.10" x2="185.73" y2="337.30" stroke="#111" stroke-width="0.8"/>
<line x1="153.22" y1="335.10" x2="153.22" y2="337.30" stroke="#111" stroke-width="0.8"/>
<line x1="187.71" y1="335.10" x2="187.71" y2="337.30" stroke="#111" stroke-width="0.8"/>
<line x1="155.22" y1="335.10" x2="155.22" y2="337.30" stroke="#111" stroke-width="0.8"/>
<line x1="189.44" y1="335.10" x2="189.44" y2="337.30" stroke="#111" stroke-width="0.8"/>
<rect x="91.30" y="335.10" width="7.00" height="3.00" fill="#111" stroke="none" stroke-width="1"/>
<text x="0" y="0" font-size="8.3" text-anchor="end" font-weight="normal" fill="#111" transform="translate(51.30 207.49) rotate(0) scale(0.91 1)">10</text>
<text x="0" y="0" font-size="5.8100000000000005" text-anchor="start" font-weight="normal" fill="#111" transform="translate(51.50 204.50) rotate(0) scale(0.91 1)">5</text>
<text x="0" y="0" font-size="8.3" text-anchor="end" font-weight="normal" fill="#111" transform="translate(51.30 241.89) rotate(0) scale(0.91 1)">10</text>
<text x="0" y="0" font-size="5.8100000000000005" text-anchor="start" font-weight="normal" fill="#111" transform="translate(51.50 238.90) rotate(0) scale(0.91 1)">4</text>
<text x="0" y="0" font-size="8.3" text-anchor="end" font-weight="normal" fill="#111" transform="translate(51.30 281.09) rotate(0) scale(0.91 1)">10</text>
<text x="0" y="0" font-size="5.8100000000000005" text-anchor="start" font-weight="normal" fill="#111" transform="translate(51.50 278.10) rotate(0) scale(0.91 1)">3</text>
<text x="0" y="0" font-size="8.3" text-anchor="end" font-weight="normal" fill="#111" transform="translate(51.30 305.24) rotate(0) scale(0.91 1)">0</text>
<text x="0" y="0" font-size="8.3" text-anchor="end" font-weight="normal" fill="#111" transform="translate(51.30 329.39) rotate(0) scale(0.91 1)">-10</text>
<text x="0" y="0" font-size="5.8100000000000005" text-anchor="start" font-weight="normal" fill="#111" transform="translate(51.50 326.40) rotate(0) scale(0.91 1)">3</text>
<text x="0" y="0" font-size="8.3" text-anchor="middle" font-weight="normal" fill="#111" transform="translate(76.50 349.69) rotate(0) scale(0.91 1)">-10<tspan font-size="5.64" dy="-3.15">3</tspan></text>
<text x="0" y="0" font-size="8.3" text-anchor="middle" font-weight="normal" fill="#111" transform="translate(97.90 349.69) rotate(0) scale(0.91 1)">0</text>
<text x="0" y="0" font-size="8.3" text-anchor="middle" font-weight="normal" fill="#111" transform="translate(121.20 349.69) rotate(0) scale(0.91 1)">10<tspan font-size="5.64" dy="-3.15">3</tspan></text>
<text x="0" y="0" font-size="8.3" text-anchor="middle" font-weight="normal" fill="#111" transform="translate(160.10 349.69) rotate(0) scale(0.91 1)">10<tspan font-size="5.64" dy="-3.15">4</tspan></text>
<text x="0" y="0" font-size="8.3" text-anchor="middle" font-weight="normal" fill="#111" transform="translate(195.20 349.69) rotate(0) scale(0.91 1)">10<tspan font-size="5.64" dy="-3.15">5</tspan></text>
<path d="M97.3,290.8h0M97.7,287.4h0M101.6,292.1h0M103.0,288.5h0M104.5,296.4h0M100.3,291.5h0M98.2,288.5h0M96.7,288.7h0M100.8,294.7h0M102.8,293.9h0M99.3,288.8h0M99.4,290.3h0M95.1,290.2h0M96.1,286.3h0M100.4,288.3h0M104.8,291.7h0M104.5,295.9h0M99.0,290.7h0M103.8,290.5h0M100.5,288.3h0M100.5,288.9h0M100.5,293.4h0M104.0,292.2h0M100.8,293.1h0M99.5,286.1h0M103.3,288.3h0M102.8,287.9h0M105.2,288.8h0M102.6,296.0h0M97.7,293.7h0M98.1,283.1h0M102.2,293.2h0M99.8,281.3h0M100.2,288.9h0M99.3,288.6h0M95.5,285.9h0M105.1,297.4h0M99.3,287.2h0M101.4,294.0h0M102.2,287.0h0M100.7,290.7h0M104.2,295.8h0M101.7,294.7h0M99.2,294.6h0M99.2,290.8h0M102.8,288.1h0M98.4,283.3h0M100.7,290.0h0M99.4,291.3h0M94.6,287.3h0M100.5,289.2h0M102.4,296.8h0M99.1,286.3h0M98.7,289.6h0M101.9,287.9h0M103.0,287.8h0M102.5,292.4h0M101.5,297.8h0M99.6,289.1h0M101.6,293.5h0M96.7,289.3h0M98.3,291.2h0M104.0,291.9h0M100.0,290.5h0M92.4,288.9h0M101.8,291.2h0M99.2,287.1h0M99.8,293.8h0M100.0,294.4h0M93.4,285.3h0M101.0,290.3h0M95.8,285.7h0M103.7,287.3h0M97.6,285.1h0M98.8,291.5h0M101.9,284.0h0M104.2,289.8h0M98.7,294.8h0M100.1,285.8h0M98.6,286.8h0M97.6,287.6h0M102.7,292.3h0M96.6,297.6h0M97.6,289.2h0M100.4,292.6h0M99.4,291.1h0M106.0,292.9h0M97.4,289.7h0M98.1,287.8h0M100.8,291.4h0M99.5,292.5h0M99.8,285.4h0M102.7,289.9h0M103.6,289.3h0M101.8,291.8h0M93.1,281.7h0M97.3,293.3h0M95.2,290.7h0M103.2,293.0h0M102.1,289.2h0M100.3,290.7h0M101.4,292.9h0M99.7,287.4h0M98.8,290.7h0M95.8,283.8h0M99.2,287.6h0M99.6,280.8h0M99.4,288.7h0M102.4,284.4h0M99.5,291.2h0M101.6,294.6h0M103.1,287.8h0M102.0,289.7h0M98.1,294.1h0M98.6,286.4h0M99.2,286.7h0M103.0,292.5h0M104.1,293.1h0M98.6,292.7h0M98.5,287.6h0M99.8,289.9h0M103.5,289.5h0M101.2,290.3h0M96.9,284.8h0M99.7,291.1h0M101.2,292.0h0M100.4,288.6h0M101.4,287.2h0M96.7,287.2h0M96.4,286.5h0M98.3,287.2h0M100.2,287.3h0M99.2,283.8h0M100.7,287.2h0M101.4,281.1h0M98.1,289.8h0M93.7,285.7h0M100.6,290.5h0M96.3,288.9h0M100.7,286.9h0M102.3,290.8h0M100.4,288.5h0M101.8,291.0h0M103.4,292.9h0M98.6,288.5h0M102.8,289.9h0M101.3,292.2h0M99.8,282.0h0M100.7,290.9h0M100.7,287.6h0M103.6,291.1h0M98.6,286.8h0M101.3,286.8h0M97.6,295.5h0M103.8,295.2h0M104.0,293.7h0M95.7,291.9h0M103.7,293.2h0M95.0,291.7h0M104.0,290.1h0M100.6,292.8h0M100.1,293.6h0M100.5,292.4h0M100.5,285.1h0M97.6,299.4h0M101.1,294.8h0M103.4,297.2h0M101.8,288.7h0M100.4,283.6h0M99.8,292.8h0M94.4,287.9h0M102.5,295.5h0M97.8,286.6h0M95.2,284.2h0M101.8,297.6h0M97.2,293.2h0M101.5,288.9h0M106.3,284.3h0M100.1,290.7h0M106.1,298.7h0M106.5,293.3h0M103.0,295.8h0M101.7,291.9h0M99.8,288.4h0M97.0,295.0h0M99.1,282.4h0M101.0,290.2h0M100.8,296.3h0M100.0,289.0h0M98.3,289.0h0M99.1,290.1h0M108.8,295.3h0M98.0,295.4h0M102.7,293.8h0M102.2,293.7h0M102.1,295.6h0M103.0,295.8h0M98.9,289.4h0M98.3,292.3h0M102.6,289.5h0M101.9,299.6h0M103.7,287.8h0M100.0,292.0h0M100.2,291.3h0M103.5,292.6h0M97.3,291.0h0M100.0,290.3h0M98.8,284.6h0M96.9,287.2h0M97.4,279.5h0M103.4,287.5h0M98.3,290.9h0M93.7,291.5h0M98.2,291.3h0M99.0,290.4h0M100.6,290.1h0M95.3,282.7h0M100.2,294.7h0M98.8,291.1h0M100.7,291.8h0M103.0,286.2h0M101.0,289.7h0M99.4,286.7h0M98.2,285.5h0M97.3,297.1h0M104.9,292.2h0M102.3,287.6h0M92.7,280.3h0M100.7,295.0h0M100.2,286.6h0M99.6,286.3h0M96.5,287.5h0M99.2,286.8h0M97.9,285.7h0M100.9,295.0h0M99.7,297.3h0M95.9,288.9h0M97.1,288.0h0M100.6,292.0h0M103.4,289.6h0M96.9,287.8h0M101.1,288.0h0M102.7,296.8h0M96.4,289.4h0M103.1,284.8h0M100.9,289.5h0M96.4,292.6h0M100.9,288.7h0M101.5,292.7h0M102.4,292.9h0M101.4,286.5h0M99.2,289.9h0M92.7,293.7h0M99.3,286.0h0M95.3,288.5h0M100.4,288.1h0M99.2,286.5h0M98.3,288.7h0M98.5,291.5h0M99.9,290.3h0M101.4,294.8h0M101.9,291.5h0M99.9,287.1h0M99.4,291.9h0M100.9,289.0h0M96.7,283.1h0M101.2,293.9h0M101.3,285.8h0M99.7,290.5h0M97.8,290.0h0M99.8,286.9h0M96.9,291.2h0M101.3,287.5h0M97.5,291.7h0M101.9,289.7h0M104.6,291.0h0M97.4,292.4h0M99.8,290.9h0M100.4,286.7h0M97.1,287.8h0M104.1,288.4h0M104.0,292.5h0M97.3,289.5h0M101.8,287.7h0M94.5,288.5h0M97.3,290.1h0M95.1,287.1h0M98.1,284.0h0M99.6,290.3h0M98.8,285.3h0M100.9,284.4h0M101.8,292.3h0M104.9,295.1h0M101.3,291.3h0M100.4,285.6h0M104.3,293.6h0M99.5,285.8h0M104.3,293.7h0M97.1,290.8h0M105.5,292.3h0M101.4,289.1h0M98.6,292.8h0M108.7,294.3h0M100.0,292.5h0M99.5,292.1h0M102.6,287.6h0M97.4,288.4h0M102.6,292.0h0M103.7,286.9h0M101.6,288.5h0M100.6,291.2h0M97.7,288.0h0M97.1,289.4h0M98.0,287.3h0M100.9,288.1h0M103.4,289.3h0M102.6,292.0h0M97.5,288.0h0M98.0,287.7h0M99.6,295.8h0M99.2,294.7h0M101.5,286.2h0M94.0,289.4h0M94.9,289.9h0M103.1,292.6h0M99.7,288.9h0M101.0,289.3h0M98.8,288.1h0M103.5,289.4h0M101.3,286.6h0M98.4,284.5h0M99.8,292.0h0M101.1,288.7h0M102.0,289.6h0M101.3,291.4h0M101.8,282.4h0M96.8,291.0h0M100.0,297.4h0M99.7,287.9h0M104.3,293.7h0M105.4,294.1h0M99.7,292.2h0M98.2,287.5h0M98.8,288.6h0M102.4,289.4h0M101.2,288.7h0M102.7,281.9h0M99.7,290.3h0M97.4,292.0h0M100.9,294.6h0M102.9,293.4h0M99.9,286.2h0M99.7,288.2h0M101.0,288.8h0M108.6,288.5h0M103.5,289.9h0M99.6,292.8h0M100.3,285.9h0M101.4,289.9h0M94.7,288.1h0M97.4,286.2h0M101.6,291.6h0M99.5,296.9h0M101.4,288.5h0M100.9,289.9h0M94.3,282.0h0M96.5,295.2h0M99.8,288.8h0M98.8,292.6h0M100.4,295.7h0M102.4,296.5h0M100.0,291.1h0M99.1,288.9h0M95.6,285.9h0M97.7,286.6h0M103.6,292.4h0M103.6,294.4h0M102.8,294.5h0M98.7,291.9h0M99.4,287.8h0M103.5,298.7h0M97.7,294.6h0M102.5,288.2h0M101.0,291.6h0M101.3,289.3h0M96.8,288.5h0M102.6,293.7h0M102.1,294.5h0M97.6,288.6h0M101.2,293.8h0M100.7,291.9h0M100.7,297.2h0M94.4,287.2h0M107.0,293.9h0M95.4,288.2h0M96.4,285.9h0M100.9,296.0h0M101.5,292.8h0M103.0,291.9h0M98.0,288.6h0M101.2,289.5h0M98.5,288.0h0M96.3,284.7h0M100.1,288.7h0M100.4,294.7h0M101.1,290.3h0M97.1,284.9h0M101.3,287.6h0M101.5,287.0h0M100.7,289.9h0M103.0,289.9h0M99.3,290.4h0M100.4,295.7h0M99.6,287.9h0M99.4,291.2h0M100.9,292.6h0M96.6,296.5h0M105.3,292.2h0M97.0,289.0h0M101.4,283.1h0M100.3,285.1h0M101.5,295.2h0M103.1,286.3h0M104.0,294.7h0M99.3,291.2h0M104.4,290.8h0M100.3,288.1h0M103.4,284.3h0M104.1,288.5h0M102.8,285.7h0M97.8,286.8h0M102.5,285.6h0M101.9,288.6h0M103.6,290.5h0M101.6,290.0h0M105.1,291.0h0M100.2,296.6h0M100.5,292.4h0M98.3,289.7h0M94.2,287.5h0M98.6,284.2h0M96.5,292.0h0M101.4,285.5h0M105.2,289.9h0M99.3,290.4h0M97.2,283.2h0M98.3,293.0h0M102.9,285.9h0M103.5,291.6h0M101.6,290.8h0M101.4,287.2h0M97.9,286.5h0M99.3,291.6h0M97.0,293.8h0M98.6,287.2h0M102.2,292.3h0M99.4,286.0h0M97.6,283.4h0M103.4,295.0h0M105.3,294.0h0M101.2,292.9h0M102.9,290.3h0M101.2,297.6h0M95.7,283.2h0M97.7,291.3h0M103.5,290.4h0M102.1,290.7h0M101.1,288.6h0M100.2,290.0h0M103.3,298.9h0M95.4,289.5h0M100.3,293.2h0M103.2,293.9h0M102.5,287.8h0M95.7,293.4h0M103.6,288.3h0M103.8,293.8h0M93.7,289.9h0M97.6,292.7h0M98.5,286.7h0M96.1,287.3h0M103.0,289.0h0M95.3,294.8h0M105.3,294.6h0M98.9,285.3h0M95.9,289.8h0M103.8,288.1h0M100.3,289.1h0M99.6,291.4h0M105.9,290.5h0M102.6,294.7h0M99.5,289.1h0M96.7,291.9h0M98.9,287.2h0M100.5,287.2h0M97.5,287.7h0M104.3,291.2h0M101.7,285.8h0M95.0,293.6h0M99.2,284.4h0M100.0,291.9h0M95.6,284.9h0M101.0,287.2h0M102.5,294.2h0M101.5,289.1h0M100.2,287.8h0M99.9,290.9h0M99.5,292.9h0M107.3,291.4h0M101.2,293.2h0M102.0,290.0h0M99.0,292.8h0M102.0,292.5h0M98.1,291.1h0M102.4,290.4h0M102.0,298.1h0M95.2,289.7h0M97.1,284.0h0M99.7,291.5h0M100.4,286.2h0M96.4,286.3h0M100.3,287.2h0M96.2,294.0h0M98.0,288.4h0M98.8,287.4h0M100.4,289.1h0M102.0,286.8h0M96.3,294.7h0M100.1,292.5h0M103.5,293.3h0M100.4,284.8h0M96.0,291.3h0M102.1,292.8h0M95.8,280.8h0M97.4,284.7h0M100.7,286.8h0M104.6,289.9h0M98.8,292.2h0M101.2,287.4h0M102.5,297.5h0M97.0,287.6h0M97.4,282.1h0M102.0,293.1h0M102.9,292.7h0M94.8,287.4h0M98.5,285.2h0M97.3,291.2h0M99.5,296.2h0M101.6,284.2h0M102.7,295.3h0M100.4,286.0h0M105.1,287.8h0M100.1,283.5h0M96.9,282.7h0M103.3,295.3h0M99.2,284.9h0M100.1,291.2h0M96.1,284.2h0M100.0,292.2h0M100.5,291.6h0M96.9,280.0h0M101.2,287.3h0M100.0,288.6h0M101.6,288.0h0M104.2,291.9h0M101.7,292.8h0M103.1,292.7h0M95.5,285.7h0M105.4,294.0h0M101.8,292.3h0M98.5,286.9h0M98.5,293.1h0M101.3,296.5h0M101.7,297.0h0M101.6,286.6h0M105.1,293.4h0M103.6,292.2h0M99.4,290.2h0M97.2,284.5h0M97.9,287.1h0M96.6,287.9h0M101.1,297.3h0M105.4,292.2h0M102.7,290.4h0M101.4,290.4h0M98.8,289.6h0M96.2,289.6h0M99.5,285.9h0M99.3,291.4h0M98.4,290.8h0M101.9,296.0h0M97.3,288.2h0M101.7,295.8h0M101.0,292.9h0M96.3,286.1h0M104.9,291.1h0M106.3,290.3h0M99.5,284.2h0M102.1,291.7h0M105.9,293.1h0M99.6,284.9h0M100.1,293.1h0M102.3,295.1h0M102.7,290.9h0M102.0,291.4h0M96.6,294.2h0M101.3,286.9h0M101.4,291.5h0M103.1,296.2h0M91.9,288.0h0M104.5,288.7h0M95.2,288.6h0M101.2,291.6h0M97.2,287.0h0M100.8,292.8h0M106.4,293.8h0M98.6,281.1h0M103.3,290.9h0M100.0,286.5h0M102.3,284.8h0M100.6,290.6h0M101.1,294.9h0M100.0,290.2h0M102.7,285.8h0M99.5,289.9h0M103.0,288.5h0M102.5,292.4h0M96.2,283.0h0M96.3,288.6h0M100.9,292.8h0M102.6,289.2h0M103.3,294.2h0M101.6,292.3h0M96.7,289.6h0M97.4,284.6h0M99.3,290.0h0M100.2,288.8h0M97.5,289.4h0M98.2,284.2h0M100.6,295.1h0M99.2,285.8h0M104.2,297.7h0M99.5,288.9h0M100.9,300.4h0M100.7,293.6h0M101.5,284.3h0M97.2,284.3h0M101.5,290.9h0M105.3,291.4h0M101.2,290.7h0M100.7,298.2h0M101.1,295.4h0M103.9,289.6h0M102.2,289.6h0M100.6,290.7h0M100.4,288.4h0M104.6,291.1h0M102.3,296.7h0M102.0,294.4h0M104.2,295.6h0M105.1,287.3h0M105.8,292.6h0M95.4,285.5h0M96.4,288.1h0M96.1,284.6h0M101.1,290.9h0M98.1,288.2h0M100.0,290.1h0M100.3,289.2h0M102.8,285.6h0M98.9,289.8h0M99.2,287.6h0M99.1,290.2h0M103.8,291.0h0M99.6,290.9h0M99.6,283.0h0M101.1,289.0h0M98.7,291.4h0M100.4,288.1h0M94.2,281.2h0M100.3,289.6h0M101.5,291.3h0M99.0,285.0h0M97.2,288.1h0M97.1,291.1h0M96.6,282.1h0M99.8,283.6h0M104.9,288.7h0M100.2,289.1h0M98.0,282.8h0M95.1,290.6h0M103.2,298.8h0M96.2,290.0h0M100.3,292.9h0M98.9,291.8h0M102.8,293.3h0M104.4,291.3h0M104.6,289.6h0M105.0,282.6h0M100.3,287.2h0M100.3,293.6h0M102.3,291.3h0M105.1,287.1h0M98.0,294.2h0M101.2,283.2h0M101.3,286.3h0M104.4,295.9h0M98.8,293.8h0M98.0,292.1h0M101.9,290.3h0M96.3,287.2h0M93.9,285.1h0M95.1,291.8h0M97.6,280.3h0M101.9,292.0h0M98.9,296.7h0M102.5,291.2h0M98.5,278.9h0M101.6,293.9h0M98.6,284.3h0M100.2,284.2h0M100.3,292.7h0M104.5,292.9h0M100.9,292.9h0M104.2,290.7h0M96.9,285.7h0M96.8,285.3h0M100.0,291.0h0M100.7,290.4h0M99.3,291.0h0M102.8,293.8h0M104.5,290.9h0M99.6,295.5h0M100.9,291.7h0M99.4,292.9h0M99.2,286.0h0M100.1,288.4h0M102.6,289.8h0M100.6,289.4h0M101.3,288.3h0M103.4,286.5h0M99.2,287.0h0M102.1,291.0h0M101.7,289.5h0M98.3,285.2h0M99.4,287.7h0M101.1,291.6h0M103.0,290.9h0M98.2,285.4h0M100.5,291.3h0M105.8,293.2h0M105.2,298.8h0M97.4,292.8h0M103.5,296.1h0M100.3,293.3h0M99.0,289.1h0M100.4,296.2h0M99.7,293.0h0M100.5,287.6h0M101.0,292.6h0M98.3,291.3h0M98.3,286.0h0M100.9,289.5h0M97.5,283.1h0M100.4,290.9h0M99.0,290.1h0M96.0,289.4h0M101.5,291.5h0M98.6,289.5h0M100.7,293.9h0M101.1,291.2h0M98.3,292.1h0M103.6,289.8h0M102.1,291.9h0M100.2,285.5h0M105.2,285.8h0M101.1,289.1h0M103.5,290.0h0M100.4,292.2h0M101.6,288.8h0M102.2,292.2h0M103.1,289.5h0M100.2,288.6h0M98.0,289.8h0M101.4,295.4h0M99.4,290.9h0M103.5,291.1h0M100.5,290.5h0M98.4,285.7h0M103.4,292.0h0M100.1,285.6h0M100.6,294.2h0M97.1,285.4h0M103.4,296.4h0M104.6,290.1h0M102.0,288.2h0M101.8,289.4h0M100.8,294.9h0M101.2,289.6h0M100.5,291.0h0M98.9,290.1h0M102.0,296.2h0M94.6,283.2h0M96.9,291.4h0M107.1,293.8h0M100.6,294.1h0M93.5,286.2h0M91.6,286.5h0M98.9,287.7h0M101.2,288.4h0M103.4,291.4h0M101.4,299.2h0M99.1,292.6h0M98.0,293.2h0M103.0,291.7h0M103.1,296.8h0M104.1,291.8h0M100.1,293.7h0M96.2,286.0h0M101.6,292.6h0M105.5,298.4h0M101.2,291.9h0M96.6,287.7h0M101.0,289.6h0M100.5,292.2h0M97.7,286.8h0M95.4,291.7h0M97.4,282.8h0M102.4,290.3h0M103.0,290.0h0M106.2,295.2h0M100.7,290.6h0M99.7,292.5h0M105.8,291.1h0M97.3,290.7h0M103.3,286.3h0M98.4,285.7h0M101.9,292.5h0M98.3,285.2h0M102.2,283.8h0M102.1,290.3h0M105.6,295.9h0M98.7,288.3h0M99.5,287.2h0M100.5,293.4h0M96.1,287.3h0M104.4,294.4h0M98.1,286.2h0M97.9,283.4h0M103.5,291.7h0" stroke="#111" stroke-width="0.94" stroke-linecap="round" opacity="1.0"/>
<path d="M98.4,246.5h0M99.0,256.5h0M103.2,257.0h0M100.0,273.6h0M101.1,260.0h0M95.5,277.2h0M101.0,257.3h0M99.6,251.7h0M98.0,245.9h0M100.8,267.6h0M100.1,270.4h0M100.9,263.3h0M98.1,268.4h0M102.1,268.8h0M102.3,256.9h0M97.9,275.5h0M98.7,264.6h0M99.4,262.2h0M99.3,256.2h0M100.2,241.2h0M98.0,249.8h0M100.9,279.7h0M99.3,270.0h0M101.0,248.6h0M102.2,243.8h0M98.7,258.1h0M102.3,263.3h0M99.6,253.3h0M100.0,262.5h0M101.2,277.0h0M101.2,262.2h0M99.5,279.3h0M100.2,261.8h0M103.3,278.9h0M100.9,260.8h0M98.6,273.5h0M98.9,272.3h0M98.3,263.1h0M100.6,263.6h0M100.3,266.1h0M97.6,250.1h0M99.5,281.4h0M99.6,252.0h0M98.5,262.4h0M102.1,255.9h0M100.9,264.0h0M99.1,251.8h0M99.5,254.2h0M100.9,243.1h0M102.0,270.2h0M100.9,278.1h0M101.0,243.6h0M99.9,266.8h0M98.5,249.9h0M100.6,267.5h0M99.0,259.4h0M98.8,255.9h0M99.7,273.5h0M96.7,258.3h0M103.0,265.4h0M100.1,271.0h0M97.8,249.0h0M96.6,246.4h0M100.3,271.1h0M99.0,254.7h0M100.6,268.6h0M100.3,241.6h0M100.3,252.9h0M98.5,278.1h0M102.4,267.2h0M100.3,263.9h0M98.7,261.5h0M103.5,252.6h0M98.5,263.7h0M101.5,270.9h0M97.9,260.6h0M99.3,248.8h0M100.0,256.9h0M101.6,266.6h0M98.3,262.9h0M99.1,255.2h0M98.9,273.4h0M99.0,243.7h0M98.3,270.6h0M104.0,250.7h0M99.1,258.5h0M97.1,266.3h0M99.7,265.0h0M104.2,259.2h0M101.3,270.9h0M98.6,255.7h0M102.8,269.7h0M100.1,250.3h0M101.5,267.6h0M104.1,277.8h0M101.4,264.9h0M99.9,256.1h0M100.4,264.6h0M101.1,273.6h0M100.4,256.2h0M101.4,278.6h0M98.2,266.5h0M100.9,267.7h0M100.8,261.0h0M99.6,280.0h0M103.2,247.0h0M94.9,266.7h0" stroke="#333" stroke-width="0.80" stroke-linecap="round" opacity="1.0"/>
<path d="M131.3,249.6h0M121.9,259.1h0M122.6,256.9h0M130.4,246.8h0M131.3,250.1h0M117.7,264.9h0M114.3,264.4h0M138.5,244.5h0M117.6,264.1h0M136.1,248.0h0M119.7,258.0h0M117.9,260.4h0M118.2,258.8h0M123.0,257.8h0" stroke="#444" stroke-width="0.90" stroke-linecap="round" opacity="1.0"/>
<line x1="110.10" y1="190.00" x2="110.10" y2="334.60" stroke="#333" stroke-width="1.45"/>
<line x1="61.80" y1="279.30" x2="206.50" y2="279.30" stroke="#333" stroke-width="1.45"/>
<text x="0" y="0" font-size="8.4" text-anchor="start" font-weight="normal" fill="#111" transform="translate(65.00 201.92) rotate(0) scale(0.93 1)">Q1</text>
<text x="0" y="0" font-size="8.4" text-anchor="start" font-weight="normal" fill="#111" transform="translate(65.00 211.52) rotate(0) scale(0.93 1)">6.74</text>
<text x="0" y="0" font-size="8.4" text-anchor="end" font-weight="normal" fill="#111" transform="translate(194.70 201.92) rotate(0) scale(0.93 1)">Q2</text>
<text x="0" y="0" font-size="8.4" text-anchor="end" font-weight="normal" fill="#111" transform="translate(194.70 211.52) rotate(0) scale(0.93 1)">0.74</text>
<text x="0" y="0" font-size="8.4" text-anchor="end" font-weight="normal" fill="#111" transform="translate(194.70 319.32) rotate(0) scale(0.93 1)">Q3</text>
<text x="0" y="0" font-size="8.4" text-anchor="end" font-weight="normal" fill="#111" transform="translate(194.70 329.02) rotate(0) scale(0.93 1)">0.16</text>
<text x="0" y="0" font-size="8.4" text-anchor="start" font-weight="normal" fill="#111" transform="translate(65.00 319.32) rotate(0) scale(0.93 1)">Q4</text>
<text x="0" y="0" font-size="8.4" text-anchor="start" font-weight="normal" fill="#111" transform="translate(65.00 329.02) rotate(0) scale(0.93 1)">92.4</text>
<text x="210.30" y="201.40" font-size="8.6" text-anchor="start" font-weight="normal" fill="#111">NRP-1 FMO</text>
<rect x="61.80" y="358.20" width="144.70" height="144.20" fill="none" stroke="#c6c6c6" stroke-width="1.8"/>
<line x1="57.70" y1="492.50" x2="61.30" y2="492.50" stroke="#111" stroke-width="1.3"/>
<line x1="57.70" y1="446.20" x2="61.30" y2="446.20" stroke="#111" stroke-width="1.3"/>
<line x1="57.70" y1="406.80" x2="61.30" y2="406.80" stroke="#111" stroke-width="1.3"/>
<line x1="57.70" y1="372.90" x2="61.30" y2="372.90" stroke="#111" stroke-width="1.3"/>
<line x1="59.10" y1="464.72" x2="61.30" y2="464.72" stroke="#111" stroke-width="0.8"/>
<line x1="59.10" y1="473.98" x2="61.30" y2="473.98" stroke="#111" stroke-width="0.8"/>
<line x1="59.10" y1="460.09" x2="61.30" y2="460.09" stroke="#111" stroke-width="0.8"/>
<line x1="59.10" y1="478.61" x2="61.30" y2="478.61" stroke="#111" stroke-width="0.8"/>
<line x1="59.10" y1="455.46" x2="61.30" y2="455.46" stroke="#111" stroke-width="0.8"/>
<line x1="59.10" y1="483.24" x2="61.30" y2="483.24" stroke="#111" stroke-width="0.8"/>
<line x1="59.10" y1="450.83" x2="61.30" y2="450.83" stroke="#111" stroke-width="0.8"/>
<line x1="59.10" y1="487.87" x2="61.30" y2="487.87" stroke="#111" stroke-width="0.8"/>
<line x1="59.10" y1="467.50" x2="61.30" y2="467.50" stroke="#111" stroke-width="0.8"/>
<line x1="59.10" y1="471.20" x2="61.30" y2="471.20" stroke="#111" stroke-width="0.8"/>
<line x1="59.10" y1="434.34" x2="61.30" y2="434.34" stroke="#111" stroke-width="0.8"/>
<line x1="59.10" y1="396.60" x2="61.30" y2="396.60" stroke="#111" stroke-width="0.8"/>
<line x1="59.10" y1="427.40" x2="61.30" y2="427.40" stroke="#111" stroke-width="0.8"/>
<line x1="59.10" y1="390.63" x2="61.30" y2="390.63" stroke="#111" stroke-width="0.8"/>
<line x1="59.10" y1="422.48" x2="61.30" y2="422.48" stroke="#111" stroke-width="0.8"/>
<line x1="59.10" y1="386.39" x2="61.30" y2="386.39" stroke="#111" stroke-width="0.8"/>
<line x1="59.10" y1="418.66" x2="61.30" y2="418.66" stroke="#111" stroke-width="0.8"/>
<line x1="59.10" y1="383.10" x2="61.30" y2="383.10" stroke="#111" stroke-width="0.8"/>
<line x1="59.10" y1="415.54" x2="61.30" y2="415.54" stroke="#111" stroke-width="0.8"/>
<line x1="59.10" y1="380.42" x2="61.30" y2="380.42" stroke="#111" stroke-width="0.8"/>
<line x1="59.10" y1="412.90" x2="61.30" y2="412.90" stroke="#111" stroke-width="0.8"/>
<line x1="59.10" y1="378.15" x2="61.30" y2="378.15" stroke="#111" stroke-width="0.8"/>
<line x1="59.10" y1="410.62" x2="61.30" y2="410.62" stroke="#111" stroke-width="0.8"/>
<line x1="59.10" y1="376.19" x2="61.30" y2="376.19" stroke="#111" stroke-width="0.8"/>
<line x1="59.10" y1="408.60" x2="61.30" y2="408.60" stroke="#111" stroke-width="0.8"/>
<line x1="59.10" y1="374.45" x2="61.30" y2="374.45" stroke="#111" stroke-width="0.8"/>
<rect x="58.30" y="466.15" width="3.00" height="6.40" fill="#111" stroke="none" stroke-width="1"/>
<line x1="71.60" y1="502.90" x2="71.60" y2="506.50" stroke="#111" stroke-width="1.3"/>
<line x1="118.00" y1="502.90" x2="118.00" y2="506.50" stroke="#111" stroke-width="1.3"/>
<line x1="157.00" y1="502.90" x2="157.00" y2="506.50" stroke="#111" stroke-width="1.3"/>
<line x1="191.00" y1="502.90" x2="191.00" y2="506.50" stroke="#111" stroke-width="1.3"/>
<line x1="99.44" y1="502.90" x2="99.44" y2="505.10" stroke="#111" stroke-width="0.8"/>
<line x1="90.16" y1="502.90" x2="90.16" y2="505.10" stroke="#111" stroke-width="0.8"/>
<line x1="104.08" y1="502.90" x2="104.08" y2="505.10" stroke="#111" stroke-width="0.8"/>
<line x1="85.52" y1="502.90" x2="85.52" y2="505.10" stroke="#111" stroke-width="0.8"/>
<line x1="108.72" y1="502.90" x2="108.72" y2="505.10" stroke="#111" stroke-width="0.8"/>
<line x1="80.88" y1="502.90" x2="80.88" y2="505.10" stroke="#111" stroke-width="0.8"/>
<line x1="113.36" y1="502.90" x2="113.36" y2="505.10" stroke="#111" stroke-width="0.8"/>
<line x1="76.24" y1="502.90" x2="76.24" y2="505.10" stroke="#111" stroke-width="0.8"/>
<line x1="96.66" y1="502.90" x2="96.66" y2="505.10" stroke="#111" stroke-width="0.8"/>
<line x1="92.94" y1="502.90" x2="92.94" y2="505.10" stroke="#111" stroke-width="0.8"/>
<line x1="129.74" y1="502.90" x2="129.74" y2="505.10" stroke="#111" stroke-width="0.8"/>
<line x1="167.24" y1="502.90" x2="167.24" y2="505.10" stroke="#111" stroke-width="0.8"/>
<line x1="136.61" y1="502.90" x2="136.61" y2="505.10" stroke="#111" stroke-width="0.8"/>
<line x1="173.22" y1="502.90" x2="173.22" y2="505.10" stroke="#111" stroke-width="0.8"/>
<line x1="141.48" y1="502.90" x2="141.48" y2="505.10" stroke="#111" stroke-width="0.8"/>
<line x1="177.47" y1="502.90" x2="177.47" y2="505.10" stroke="#111" stroke-width="0.8"/>
<line x1="145.26" y1="502.90" x2="145.26" y2="505.10" stroke="#111" stroke-width="0.8"/>
<line x1="180.76" y1="502.90" x2="180.76" y2="505.10" stroke="#111" stroke-width="0.8"/>
<line x1="148.35" y1="502.90" x2="148.35" y2="505.10" stroke="#111" stroke-width="0.8"/>
<line x1="183.46" y1="502.90" x2="183.46" y2="505.10" stroke="#111" stroke-width="0.8"/>
<line x1="150.96" y1="502.90" x2="150.96" y2="505.10" stroke="#111" stroke-width="0.8"/>
<line x1="185.73" y1="502.90" x2="185.73" y2="505.10" stroke="#111" stroke-width="0.8"/>
<line x1="153.22" y1="502.90" x2="153.22" y2="505.10" stroke="#111" stroke-width="0.8"/>
<line x1="187.71" y1="502.90" x2="187.71" y2="505.10" stroke="#111" stroke-width="0.8"/>
<line x1="155.22" y1="502.90" x2="155.22" y2="505.10" stroke="#111" stroke-width="0.8"/>
<line x1="189.44" y1="502.90" x2="189.44" y2="505.10" stroke="#111" stroke-width="0.8"/>
<rect x="91.30" y="502.90" width="7.00" height="3.00" fill="#111" stroke="none" stroke-width="1"/>
<text x="0" y="0" font-size="8.3" text-anchor="end" font-weight="normal" fill="#111" transform="translate(51.30 376.29) rotate(0) scale(0.91 1)">10</text>
<text x="0" y="0" font-size="5.8100000000000005" text-anchor="start" font-weight="normal" fill="#111" transform="translate(51.50 373.30) rotate(0) scale(0.91 1)">5</text>
<text x="0" y="0" font-size="8.3" text-anchor="end" font-weight="normal" fill="#111" transform="translate(51.30 410.19) rotate(0) scale(0.91 1)">10</text>
<text x="0" y="0" font-size="5.8100000000000005" text-anchor="start" font-weight="normal" fill="#111" transform="translate(51.50 407.20) rotate(0) scale(0.91 1)">4</text>
<text x="0" y="0" font-size="8.3" text-anchor="end" font-weight="normal" fill="#111" transform="translate(51.30 449.59) rotate(0) scale(0.91 1)">10</text>
<text x="0" y="0" font-size="5.8100000000000005" text-anchor="start" font-weight="normal" fill="#111" transform="translate(51.50 446.60) rotate(0) scale(0.91 1)">3</text>
<text x="0" y="0" font-size="8.3" text-anchor="end" font-weight="normal" fill="#111" transform="translate(51.30 472.74) rotate(0) scale(0.91 1)">0</text>
<text x="0" y="0" font-size="8.3" text-anchor="end" font-weight="normal" fill="#111" transform="translate(51.30 495.89) rotate(0) scale(0.91 1)">-10</text>
<text x="0" y="0" font-size="5.8100000000000005" text-anchor="start" font-weight="normal" fill="#111" transform="translate(51.50 492.90) rotate(0) scale(0.91 1)">3</text>
<text x="0" y="0" font-size="8.3" text-anchor="middle" font-weight="normal" fill="#111" transform="translate(76.50 516.99) rotate(0) scale(0.91 1)">-10<tspan font-size="5.64" dy="-3.15">3</tspan></text>
<text x="0" y="0" font-size="8.3" text-anchor="middle" font-weight="normal" fill="#111" transform="translate(97.90 516.99) rotate(0) scale(0.91 1)">0</text>
<text x="0" y="0" font-size="8.3" text-anchor="middle" font-weight="normal" fill="#111" transform="translate(121.20 516.99) rotate(0) scale(0.91 1)">10<tspan font-size="5.64" dy="-3.15">3</tspan></text>
<text x="0" y="0" font-size="8.3" text-anchor="middle" font-weight="normal" fill="#111" transform="translate(160.10 516.99) rotate(0) scale(0.91 1)">10<tspan font-size="5.64" dy="-3.15">4</tspan></text>
<text x="0" y="0" font-size="8.3" text-anchor="middle" font-weight="normal" fill="#111" transform="translate(195.20 516.99) rotate(0) scale(0.91 1)">10<tspan font-size="5.64" dy="-3.15">5</tspan></text>
<path d="M104.1,452.7h0M163.6,412.0h0M140.1,420.5h0M119.9,418.1h0M139.9,426.0h0M111.9,431.2h0M142.5,417.7h0M142.5,427.7h0M117.5,407.3h0M107.7,428.8h0M110.7,468.6h0M137.9,455.6h0M133.0,446.1h0M130.4,440.5h0M138.0,420.9h0M141.1,439.5h0M132.1,421.4h0M109.4,441.3h0M120.5,464.9h0M154.4,420.8h0M164.5,414.9h0M122.8,431.4h0M105.6,433.1h0M124.7,423.0h0M118.2,451.9h0M164.3,442.4h0M98.2,450.4h0M123.5,440.2h0M138.5,416.0h0M138.4,421.3h0M111.5,444.7h0M139.1,453.8h0M114.4,467.4h0M144.7,461.5h0M163.8,436.0h0M137.3,422.6h0M158.7,421.1h0M134.4,440.6h0M120.6,431.5h0M103.6,406.9h0M104.1,449.8h0M131.9,453.7h0M107.7,448.7h0M122.6,437.9h0M154.9,436.7h0M134.5,452.8h0M118.2,434.6h0M142.5,463.9h0M124.1,402.3h0M140.0,432.7h0M157.4,427.8h0M140.8,440.3h0M143.5,404.3h0M149.7,455.0h0M111.9,468.2h0M133.5,450.6h0M146.1,455.2h0M118.0,423.4h0M141.9,449.1h0M146.5,443.3h0M121.6,459.9h0M144.1,459.0h0M117.3,438.6h0M121.8,429.3h0M137.6,443.5h0M114.6,447.7h0M113.1,445.3h0M124.3,415.6h0M130.6,434.9h0M155.7,407.2h0M112.3,460.6h0M154.3,425.3h0M114.6,443.6h0M99.6,425.2h0M147.0,452.6h0M158.3,404.7h0M102.5,418.3h0M109.8,429.2h0M137.9,445.9h0M167.5,412.3h0M153.9,439.3h0M105.1,439.3h0M115.6,457.9h0M164.0,422.5h0M111.6,438.9h0M108.0,455.6h0M137.2,419.3h0M116.7,451.8h0M114.3,431.7h0M152.6,464.5h0M148.6,438.0h0M143.4,448.6h0M150.6,442.1h0M118.6,441.8h0M125.0,442.4h0M161.0,409.6h0M140.9,437.8h0M136.6,439.2h0M124.2,406.0h0M143.9,444.5h0M146.8,463.4h0M111.1,444.8h0M132.6,452.0h0M128.9,422.9h0M138.9,447.4h0M109.7,465.0h0M160.5,445.8h0M130.4,430.8h0M109.6,425.0h0M156.9,415.8h0M120.5,454.9h0M159.5,421.6h0M142.3,446.6h0M105.7,458.6h0M139.5,410.2h0M102.4,452.8h0M117.3,423.3h0M119.4,448.2h0M116.2,469.7h0M130.5,466.1h0M113.8,437.2h0M141.8,431.7h0M157.1,466.0h0M111.3,424.0h0M142.4,432.2h0M134.9,425.9h0M131.0,446.7h0M150.9,418.8h0M130.3,419.2h0M128.7,404.4h0M155.9,450.8h0M130.1,421.0h0M122.0,421.4h0M105.0,448.7h0M121.1,437.9h0M132.9,423.7h0M129.6,429.4h0M162.9,434.0h0M132.2,424.4h0M117.8,419.8h0M159.8,441.2h0M138.0,432.4h0M106.7,441.5h0M138.1,447.0h0M137.8,425.8h0M144.1,459.8h0M125.6,447.3h0M157.6,425.4h0M137.1,419.7h0M147.5,427.9h0M160.5,419.2h0M112.8,416.1h0M148.9,417.2h0M145.4,404.7h0M132.4,420.0h0M152.4,464.2h0M109.9,428.5h0M139.4,446.4h0M105.5,440.8h0M130.4,456.9h0M120.9,429.0h0M150.3,422.2h0M153.2,458.4h0M156.2,431.5h0M113.1,430.4h0M149.0,438.7h0M147.0,448.6h0M111.8,415.4h0M167.6,425.3h0M113.0,415.5h0M156.2,411.1h0M112.1,459.1h0M136.1,437.2h0M117.6,431.1h0M121.0,435.5h0M151.5,408.0h0M132.7,434.7h0M157.1,443.1h0M153.4,432.3h0M130.1,434.8h0M149.1,437.2h0M111.9,434.1h0M156.9,431.3h0M130.1,428.2h0M163.5,459.3h0M131.3,448.3h0M109.8,460.4h0M166.5,434.8h0M124.9,425.3h0M128.4,408.5h0M132.6,448.2h0M140.4,446.5h0M148.2,458.0h0M105.5,423.3h0M107.4,450.4h0M141.3,436.7h0M117.4,443.6h0M133.8,419.6h0M141.0,421.4h0M155.8,449.8h0M116.5,448.9h0M134.6,420.5h0M105.9,443.6h0M162.0,422.2h0M136.8,443.6h0M151.7,445.7h0M162.4,452.9h0M114.7,444.7h0M133.5,448.7h0M125.8,454.3h0M164.7,417.5h0M120.0,441.7h0M144.8,439.2h0M152.9,410.0h0M151.6,461.7h0M159.6,445.4h0M127.3,444.8h0M118.5,435.1h0M120.6,415.5h0M127.4,427.8h0M134.7,434.9h0M137.1,457.9h0M136.3,444.9h0M123.4,450.9h0M124.9,422.3h0M103.2,455.6h0M120.3,441.4h0M160.1,447.8h0M155.9,451.3h0M117.3,437.0h0M119.4,413.5h0M140.2,419.0h0M119.9,438.0h0M120.6,437.2h0M118.4,404.7h0M136.7,425.8h0M129.5,442.6h0M99.7,418.4h0M111.6,463.7h0M107.6,461.8h0M131.1,436.7h0M165.4,455.2h0M155.5,412.5h0M130.5,425.4h0M106.8,458.4h0M140.1,436.1h0M154.0,435.6h0M154.2,414.0h0M166.9,429.9h0M162.4,426.9h0M142.6,461.1h0M111.4,438.1h0M112.9,454.7h0M118.5,427.8h0M128.1,461.6h0M108.0,435.4h0M125.1,423.9h0M114.1,432.5h0M138.6,409.9h0M109.8,434.5h0M126.9,457.6h0M139.1,459.5h0M120.1,450.7h0M107.5,464.5h0M131.3,421.1h0M112.7,408.7h0M108.6,410.6h0M131.8,443.7h0M129.1,440.3h0M161.4,429.7h0M138.8,421.0h0M127.0,445.0h0M110.0,437.6h0M129.5,461.2h0M109.7,444.6h0M138.7,447.8h0M146.0,420.2h0M118.9,442.3h0M136.3,414.9h0M110.6,444.2h0M117.8,426.5h0M156.7,438.8h0M130.4,438.3h0M104.9,462.9h0M115.0,464.8h0M122.0,426.0h0M117.7,424.2h0M147.7,427.3h0M106.1,421.2h0M130.1,441.4h0M117.3,464.2h0M110.0,420.3h0M144.9,446.6h0M123.6,457.2h0M134.3,465.2h0M128.2,440.3h0M155.1,443.2h0M137.7,466.5h0M110.3,429.5h0M136.5,426.2h0M155.5,449.2h0M133.4,437.4h0M141.7,441.3h0M115.6,453.2h0M113.2,435.1h0M124.4,410.7h0M147.5,434.5h0M105.1,434.3h0M100.0,467.5h0M119.4,451.5h0M109.8,417.3h0M130.9,445.0h0M155.1,430.1h0M159.4,457.2h0M112.0,432.1h0M119.8,455.4h0M154.9,430.4h0M121.4,443.6h0M114.5,408.3h0M109.9,443.4h0M105.4,461.3h0M149.6,438.8h0M120.3,413.0h0M117.3,438.5h0M149.1,464.0h0M126.6,420.0h0M125.0,426.6h0M121.8,427.2h0M112.2,434.9h0M120.8,432.3h0M99.9,439.2h0M146.7,450.2h0M119.9,411.1h0M102.0,410.4h0M117.7,429.2h0M115.8,454.1h0M126.5,427.4h0M128.2,432.3h0M130.4,418.8h0M141.5,424.7h0M146.7,412.4h0M121.8,410.9h0M143.5,424.7h0" stroke="#444" stroke-width="0.90" stroke-linecap="round" opacity="1.0"/>
<path d="M159.6,412.1h0M160.5,415.1h0M157.5,415.2h0M153.5,412.9h0M158.0,417.6h0M153.2,424.2h0M164.9,409.5h0M161.5,414.2h0M156.8,411.1h0M164.6,410.9h0M155.0,411.4h0M166.2,419.9h0M148.2,412.6h0M157.5,412.6h0M153.5,409.8h0M156.9,409.8h0M160.1,424.9h0M153.7,421.6h0M157.6,411.6h0M153.6,410.3h0M156.1,417.5h0M160.6,413.3h0M148.9,414.2h0M164.7,415.7h0M155.2,405.5h0M153.1,416.9h0M150.3,420.3h0M152.4,410.7h0M152.3,414.1h0M161.0,412.1h0M145.7,414.2h0M158.4,421.2h0M149.3,420.9h0M159.2,416.5h0M151.3,410.7h0M150.2,418.5h0M156.7,419.1h0M165.5,414.6h0M155.2,422.8h0M148.3,412.6h0M153.5,412.9h0M156.3,410.9h0M161.9,408.6h0M151.0,407.2h0M147.8,417.1h0M159.0,413.7h0M160.2,417.2h0M152.3,414.3h0M157.5,423.2h0M153.1,416.1h0M158.5,419.8h0M157.8,419.1h0M149.6,413.4h0M144.8,414.3h0M168.3,415.6h0M156.0,415.7h0M156.3,408.8h0M151.7,413.8h0M156.4,410.8h0M154.9,411.4h0M148.2,411.7h0M151.1,418.1h0M162.9,417.0h0M154.3,412.1h0M146.9,412.3h0M164.1,419.5h0M156.7,413.5h0M155.5,416.3h0M155.5,416.4h0M151.3,414.7h0M153.6,419.2h0M148.7,420.1h0M155.0,412.4h0M155.6,415.1h0M154.2,416.3h0M152.3,407.3h0M159.3,414.4h0M164.7,416.2h0M144.5,419.9h0M151.7,416.9h0M167.7,419.2h0M149.5,414.1h0M146.7,417.4h0M158.6,410.1h0M158.0,418.5h0M159.9,411.7h0M151.7,409.7h0M148.4,415.9h0M155.7,420.1h0M157.0,413.2h0M147.7,421.2h0M156.4,414.4h0M150.0,410.0h0M159.0,410.4h0M158.7,417.2h0M153.4,407.6h0M157.8,420.6h0M151.0,409.1h0M161.5,415.2h0M152.1,419.8h0M154.0,416.5h0M153.3,411.3h0M156.7,410.9h0M145.7,412.2h0M162.3,419.2h0M167.5,418.8h0M164.4,415.6h0M153.1,416.5h0M150.3,417.7h0M153.0,415.6h0M150.8,414.0h0M160.9,413.6h0M151.8,415.8h0M160.3,413.7h0M149.1,407.9h0M148.1,419.1h0M155.0,416.6h0M161.4,415.8h0M158.1,412.4h0M146.7,417.2h0M155.0,417.0h0M149.6,413.9h0M166.6,411.0h0M156.0,420.1h0M154.2,415.1h0M143.8,417.9h0M153.1,420.0h0M155.0,413.0h0M157.9,413.5h0M152.7,421.1h0M160.9,415.0h0M159.9,418.1h0M158.7,414.7h0M155.9,416.3h0M158.6,416.1h0M152.5,414.2h0M158.0,410.4h0M155.5,417.8h0M156.4,413.3h0M155.4,412.5h0M160.9,413.0h0M146.4,409.4h0M157.1,415.4h0M152.9,409.0h0M154.7,411.0h0M151.9,414.6h0M151.3,415.9h0M151.4,412.6h0M154.3,420.7h0M164.1,418.5h0M151.5,414.6h0M160.5,418.0h0M146.6,414.3h0M151.4,417.7h0M159.0,412.3h0M167.2,413.4h0M168.9,413.9h0M155.0,422.6h0M152.6,412.6h0M163.6,414.4h0M158.1,409.3h0M165.3,418.7h0M157.5,417.5h0M152.8,412.6h0M146.9,416.1h0M162.3,418.2h0M160.5,417.6h0M150.5,409.1h0M159.0,415.3h0M160.9,413.4h0M150.7,416.4h0M152.4,407.7h0M152.2,410.9h0M149.4,412.3h0M160.7,424.4h0M165.0,412.8h0M161.8,414.3h0M157.7,411.7h0M155.1,407.5h0M165.3,411.4h0M158.7,412.1h0M157.0,409.6h0M153.4,418.4h0M158.8,406.4h0M160.2,409.1h0M157.1,416.7h0M152.0,413.2h0M154.2,416.3h0M160.5,420.3h0M157.3,422.9h0M150.3,422.0h0M154.1,417.8h0M154.8,414.9h0M150.5,416.2h0M166.6,415.2h0M155.4,414.6h0M159.4,413.7h0M155.5,415.5h0M162.6,418.6h0M149.7,411.9h0M155.6,418.1h0M160.8,413.7h0M167.2,413.9h0M163.2,420.5h0M164.2,415.4h0M158.7,408.2h0M145.7,412.0h0M159.4,419.0h0M154.9,418.9h0M158.7,420.9h0M146.8,411.1h0M150.3,410.2h0M164.5,410.7h0M151.0,412.9h0M160.3,412.6h0M159.5,416.9h0M152.0,404.7h0M150.5,409.4h0M164.5,411.6h0M149.6,416.1h0M155.8,410.7h0M161.5,418.4h0M157.0,411.4h0M150.7,406.0h0M157.6,416.2h0M150.5,414.7h0M173.5,409.9h0M146.1,417.1h0M153.2,412.5h0M158.9,414.0h0M161.0,416.7h0M161.9,415.1h0M143.7,420.2h0M146.2,418.9h0M156.9,408.8h0M155.9,418.2h0M149.9,414.7h0M151.4,410.4h0M152.1,419.9h0M159.3,414.4h0" stroke="#333" stroke-width="0.90" stroke-linecap="round" opacity="1.0"/>
<path d="M139.2,418.4h0M142.8,418.6h0M123.2,420.7h0M131.6,410.6h0M146.9,414.6h0M138.6,417.8h0M134.2,419.6h0M137.3,417.2h0M130.6,417.2h0M129.8,418.2h0M153.0,420.9h0M144.2,414.1h0M150.1,420.7h0M160.2,411.6h0M140.2,417.1h0M150.7,414.9h0M136.3,424.7h0M149.8,412.3h0M140.2,421.9h0M133.9,419.7h0M141.0,413.9h0M133.8,421.3h0M151.6,416.3h0M151.1,416.0h0M142.4,418.0h0M127.7,418.9h0M136.2,410.2h0M131.9,415.6h0M131.8,415.2h0M133.2,411.0h0M148.8,418.2h0M142.5,417.3h0M140.6,417.3h0M129.3,413.7h0M140.7,420.9h0M142.3,422.6h0M126.6,417.3h0M133.9,421.5h0M156.7,416.5h0M147.2,417.3h0M130.2,417.7h0M129.8,422.5h0M145.8,421.4h0M143.5,411.1h0M147.9,418.3h0M116.6,418.3h0M149.9,422.9h0M129.9,420.3h0M143.3,417.5h0M137.2,419.5h0" stroke="#444" stroke-width="0.84" stroke-linecap="round" opacity="1.0"/>
<path d="M137.1,461.2h0M121.6,451.7h0M148.8,464.2h0M119.1,457.9h0M140.7,449.6h0M135.9,469.6h0M132.3,454.6h0M160.2,458.1h0M131.3,456.0h0M130.8,449.4h0M107.8,451.0h0M142.2,457.6h0M146.1,448.3h0M118.6,465.0h0M115.5,449.1h0M116.3,456.4h0M127.8,464.3h0M148.9,465.4h0M137.1,455.6h0M120.2,450.9h0M148.0,464.0h0M129.4,453.7h0M138.6,460.4h0M130.4,452.4h0M131.8,455.3h0M139.6,460.9h0M134.9,456.0h0M152.0,461.7h0M147.9,462.0h0M138.4,459.9h0M111.2,449.3h0M113.3,461.0h0M142.3,458.9h0M129.4,466.8h0M121.8,449.5h0M103.7,456.5h0M139.0,461.5h0M124.5,461.9h0M127.2,454.5h0M122.1,461.6h0M143.0,452.6h0M112.5,458.6h0M161.4,452.4h0M108.3,460.0h0M136.0,455.1h0M127.6,460.3h0M100.6,457.9h0M137.4,462.4h0M146.3,457.7h0M105.4,464.4h0M140.1,455.0h0M144.2,463.0h0M120.7,454.4h0M114.9,457.6h0M111.0,459.9h0M157.6,452.3h0M144.3,455.5h0M136.5,457.4h0M148.1,454.6h0M139.5,454.3h0M131.6,457.9h0M145.1,450.4h0M106.9,464.7h0M134.1,466.1h0M111.9,459.0h0M137.5,466.5h0M127.2,455.9h0M139.2,457.5h0M116.3,461.7h0M98.2,453.1h0M149.3,455.6h0M122.9,459.8h0M145.6,460.5h0M112.9,455.3h0M144.4,457.4h0M118.1,462.2h0M145.9,468.4h0M111.2,454.6h0M117.2,459.7h0M120.5,463.3h0M117.9,456.7h0M136.9,459.0h0M112.2,465.2h0M137.0,455.6h0M131.3,452.7h0M108.8,456.6h0M133.7,458.5h0M115.9,451.4h0M101.8,465.7h0M133.8,454.2h0M146.5,460.6h0M121.5,455.1h0M145.8,459.6h0M153.5,459.7h0M118.9,455.1h0M117.0,459.2h0M132.0,460.9h0M135.0,453.0h0M124.8,453.5h0M135.5,451.7h0M118.9,453.9h0M118.4,456.8h0M151.6,456.8h0M105.6,456.6h0M139.7,460.7h0M131.7,467.6h0M145.3,458.4h0M147.0,451.6h0M125.4,453.8h0M130.8,465.8h0M120.3,465.6h0M112.1,464.8h0M101.6,453.9h0M143.5,457.6h0M130.3,457.9h0M130.8,457.1h0M112.8,456.6h0M129.7,453.7h0" stroke="#444" stroke-width="0.84" stroke-linecap="round" opacity="1.0"/>
<line x1="110.50" y1="358.20" x2="110.50" y2="502.40" stroke="#333" stroke-width="1.45"/>
<line x1="61.80" y1="447.30" x2="206.50" y2="447.30" stroke="#333" stroke-width="1.45"/>
<text x="0" y="0" font-size="8.4" text-anchor="start" font-weight="normal" fill="#111" transform="translate(65.00 369.12) rotate(0) scale(0.93 1)">Q1</text>
<text x="0" y="0" font-size="8.4" text-anchor="start" font-weight="normal" fill="#111" transform="translate(65.00 378.92) rotate(0) scale(0.93 1)">7.49</text>
<text x="0" y="0" font-size="8.4" text-anchor="end" font-weight="normal" fill="#111" transform="translate(195.80 369.12) rotate(0) scale(0.93 1)">Q2</text>
<text x="0" y="0" font-size="8.4" text-anchor="end" font-weight="normal" fill="#111" transform="translate(195.80 378.92) rotate(0) scale(0.93 1)">65.2</text>
<text x="0" y="0" font-size="8.4" text-anchor="end" font-weight="normal" fill="#111" transform="translate(195.80 487.02) rotate(0) scale(0.93 1)">Q3</text>
<text x="0" y="0" font-size="8.4" text-anchor="end" font-weight="normal" fill="#111" transform="translate(195.80 497.02) rotate(0) scale(0.93 1)">21.1</text>
<text x="0" y="0" font-size="8.4" text-anchor="start" font-weight="normal" fill="#111" transform="translate(65.00 487.02) rotate(0) scale(0.93 1)">Q4</text>
<text x="0" y="0" font-size="8.4" text-anchor="start" font-weight="normal" fill="#111" transform="translate(65.00 497.02) rotate(0) scale(0.93 1)">6.21</text>
<text x="210.30" y="369.40" font-size="8.6" text-anchor="start" font-weight="normal" fill="#111">Thymus Control</text>
<line x1="298.20" y1="30.50" x2="298.20" y2="322.50" stroke="#222" stroke-width="1.5"/>
<path d="M295.55,31.00 L298.20,25.00 L300.85,31.00 Z" fill="#222"/>
<line x1="326.00" y1="351.00" x2="444.70" y2="351.00" stroke="#222" stroke-width="1.5"/>
<path d="M444.20,348.35 L450.20,351.00 L444.20,353.65 Z" fill="#222"/>
<text x="0" y="0" font-size="9.9" text-anchor="middle" font-weight="normal" fill="#111" transform="translate(293.10 175.50) rotate(-90) scale(0.89 1)">Helios</text>
<text x="0" y="0" font-size="9.9" text-anchor="middle" font-weight="normal" fill="#111" transform="translate(385.80 364.00) rotate(0) scale(0.86 1)">NRP-1</text>
<rect x="324.80" y="24.20" width="141.50" height="142.10" fill="none" stroke="#c6c6c6" stroke-width="1.8"/>
<line x1="320.70" y1="157.60" x2="324.30" y2="157.60" stroke="#111" stroke-width="1.3"/>
<line x1="320.70" y1="110.70" x2="324.30" y2="110.70" stroke="#111" stroke-width="1.3"/>
<line x1="320.70" y1="72.10" x2="324.30" y2="72.10" stroke="#111" stroke-width="1.3"/>
<line x1="320.70" y1="38.30" x2="324.30" y2="38.30" stroke="#111" stroke-width="1.3"/>
<line x1="322.10" y1="129.46" x2="324.30" y2="129.46" stroke="#111" stroke-width="0.8"/>
<line x1="322.10" y1="138.84" x2="324.30" y2="138.84" stroke="#111" stroke-width="0.8"/>
<line x1="322.10" y1="124.77" x2="324.30" y2="124.77" stroke="#111" stroke-width="0.8"/>
<line x1="322.10" y1="143.53" x2="324.30" y2="143.53" stroke="#111" stroke-width="0.8"/>
<line x1="322.10" y1="120.08" x2="324.30" y2="120.08" stroke="#111" stroke-width="0.8"/>
<line x1="322.10" y1="148.22" x2="324.30" y2="148.22" stroke="#111" stroke-width="0.8"/>
<line x1="322.10" y1="115.39" x2="324.30" y2="115.39" stroke="#111" stroke-width="0.8"/>
<line x1="322.10" y1="152.91" x2="324.30" y2="152.91" stroke="#111" stroke-width="0.8"/>
<line x1="322.10" y1="132.27" x2="324.30" y2="132.27" stroke="#111" stroke-width="0.8"/>
<line x1="322.10" y1="136.03" x2="324.30" y2="136.03" stroke="#111" stroke-width="0.8"/>
<line x1="322.10" y1="99.08" x2="324.30" y2="99.08" stroke="#111" stroke-width="0.8"/>
<line x1="322.10" y1="61.93" x2="324.30" y2="61.93" stroke="#111" stroke-width="0.8"/>
<line x1="322.10" y1="92.28" x2="324.30" y2="92.28" stroke="#111" stroke-width="0.8"/>
<line x1="322.10" y1="55.97" x2="324.30" y2="55.97" stroke="#111" stroke-width="0.8"/>
<line x1="322.10" y1="87.46" x2="324.30" y2="87.46" stroke="#111" stroke-width="0.8"/>
<line x1="322.10" y1="51.75" x2="324.30" y2="51.75" stroke="#111" stroke-width="0.8"/>
<line x1="322.10" y1="83.72" x2="324.30" y2="83.72" stroke="#111" stroke-width="0.8"/>
<line x1="322.10" y1="48.47" x2="324.30" y2="48.47" stroke="#111" stroke-width="0.8"/>
<line x1="322.10" y1="80.66" x2="324.30" y2="80.66" stroke="#111" stroke-width="0.8"/>
<line x1="322.10" y1="45.80" x2="324.30" y2="45.80" stroke="#111" stroke-width="0.8"/>
<line x1="322.10" y1="78.08" x2="324.30" y2="78.08" stroke="#111" stroke-width="0.8"/>
<line x1="322.10" y1="43.54" x2="324.30" y2="43.54" stroke="#111" stroke-width="0.8"/>
<line x1="322.10" y1="75.84" x2="324.30" y2="75.84" stroke="#111" stroke-width="0.8"/>
<line x1="322.10" y1="41.58" x2="324.30" y2="41.58" stroke="#111" stroke-width="0.8"/>
<line x1="322.10" y1="73.87" x2="324.30" y2="73.87" stroke="#111" stroke-width="0.8"/>
<line x1="322.10" y1="39.85" x2="324.30" y2="39.85" stroke="#111" stroke-width="0.8"/>
<rect x="321.30" y="130.95" width="3.00" height="6.40" fill="#111" stroke="none" stroke-width="1"/>
<line x1="334.50" y1="166.80" x2="334.50" y2="170.40" stroke="#111" stroke-width="1.3"/>
<line x1="378.00" y1="166.80" x2="378.00" y2="170.40" stroke="#111" stroke-width="1.3"/>
<line x1="420.00" y1="166.80" x2="420.00" y2="170.40" stroke="#111" stroke-width="1.3"/>
<line x1="453.20" y1="166.80" x2="453.20" y2="170.40" stroke="#111" stroke-width="1.3"/>
<line x1="360.60" y1="166.80" x2="360.60" y2="169.00" stroke="#111" stroke-width="0.8"/>
<line x1="351.90" y1="166.80" x2="351.90" y2="169.00" stroke="#111" stroke-width="0.8"/>
<line x1="364.95" y1="166.80" x2="364.95" y2="169.00" stroke="#111" stroke-width="0.8"/>
<line x1="347.55" y1="166.80" x2="347.55" y2="169.00" stroke="#111" stroke-width="0.8"/>
<line x1="369.30" y1="166.80" x2="369.30" y2="169.00" stroke="#111" stroke-width="0.8"/>
<line x1="343.20" y1="166.80" x2="343.20" y2="169.00" stroke="#111" stroke-width="0.8"/>
<line x1="373.65" y1="166.80" x2="373.65" y2="169.00" stroke="#111" stroke-width="0.8"/>
<line x1="338.85" y1="166.80" x2="338.85" y2="169.00" stroke="#111" stroke-width="0.8"/>
<line x1="357.99" y1="166.80" x2="357.99" y2="169.00" stroke="#111" stroke-width="0.8"/>
<line x1="354.51" y1="166.80" x2="354.51" y2="169.00" stroke="#111" stroke-width="0.8"/>
<line x1="390.64" y1="166.80" x2="390.64" y2="169.00" stroke="#111" stroke-width="0.8"/>
<line x1="429.99" y1="166.80" x2="429.99" y2="169.00" stroke="#111" stroke-width="0.8"/>
<line x1="398.04" y1="166.80" x2="398.04" y2="169.00" stroke="#111" stroke-width="0.8"/>
<line x1="435.84" y1="166.80" x2="435.84" y2="169.00" stroke="#111" stroke-width="0.8"/>
<line x1="403.29" y1="166.80" x2="403.29" y2="169.00" stroke="#111" stroke-width="0.8"/>
<line x1="439.99" y1="166.80" x2="439.99" y2="169.00" stroke="#111" stroke-width="0.8"/>
<line x1="407.36" y1="166.80" x2="407.36" y2="169.00" stroke="#111" stroke-width="0.8"/>
<line x1="443.21" y1="166.80" x2="443.21" y2="169.00" stroke="#111" stroke-width="0.8"/>
<line x1="410.68" y1="166.80" x2="410.68" y2="169.00" stroke="#111" stroke-width="0.8"/>
<line x1="445.83" y1="166.80" x2="445.83" y2="169.00" stroke="#111" stroke-width="0.8"/>
<line x1="413.49" y1="166.80" x2="413.49" y2="169.00" stroke="#111" stroke-width="0.8"/>
<line x1="448.06" y1="166.80" x2="448.06" y2="169.00" stroke="#111" stroke-width="0.8"/>
<line x1="415.93" y1="166.80" x2="415.93" y2="169.00" stroke="#111" stroke-width="0.8"/>
<line x1="449.98" y1="166.80" x2="449.98" y2="169.00" stroke="#111" stroke-width="0.8"/>
<line x1="418.08" y1="166.80" x2="418.08" y2="169.00" stroke="#111" stroke-width="0.8"/>
<line x1="451.68" y1="166.80" x2="451.68" y2="169.00" stroke="#111" stroke-width="0.8"/>
<rect x="352.75" y="166.80" width="7.00" height="3.00" fill="#111" stroke="none" stroke-width="1"/>
<text x="0" y="0" font-size="8.3" text-anchor="end" font-weight="normal" fill="#111" transform="translate(313.30 41.69) rotate(0) scale(0.91 1)">10</text>
<text x="0" y="0" font-size="5.8100000000000005" text-anchor="start" font-weight="normal" fill="#111" transform="translate(313.50 38.70) rotate(0) scale(0.91 1)">5</text>
<text x="0" y="0" font-size="8.3" text-anchor="end" font-weight="normal" fill="#111" transform="translate(313.30 75.49) rotate(0) scale(0.91 1)">10</text>
<text x="0" y="0" font-size="5.8100000000000005" text-anchor="start" font-weight="normal" fill="#111" transform="translate(313.50 72.50) rotate(0) scale(0.91 1)">4</text>
<text x="0" y="0" font-size="8.3" text-anchor="end" font-weight="normal" fill="#111" transform="translate(313.30 114.09) rotate(0) scale(0.91 1)">10</text>
<text x="0" y="0" font-size="5.8100000000000005" text-anchor="start" font-weight="normal" fill="#111" transform="translate(313.50 111.10) rotate(0) scale(0.91 1)">3</text>
<text x="0" y="0" font-size="8.3" text-anchor="end" font-weight="normal" fill="#111" transform="translate(313.30 137.54) rotate(0) scale(0.91 1)">0</text>
<text x="0" y="0" font-size="8.3" text-anchor="end" font-weight="normal" fill="#111" transform="translate(313.30 160.99) rotate(0) scale(0.91 1)">-10</text>
<text x="0" y="0" font-size="5.8100000000000005" text-anchor="start" font-weight="normal" fill="#111" transform="translate(313.50 158.00) rotate(0) scale(0.91 1)">3</text>
<text x="0" y="0" font-size="8.3" text-anchor="middle" font-weight="normal" fill="#111" transform="translate(338.80 180.59) rotate(0) scale(0.91 1)">-10<tspan font-size="5.64" dy="-3.15">3</tspan></text>
<text x="0" y="0" font-size="8.3" text-anchor="middle" font-weight="normal" fill="#111" transform="translate(360.00 180.59) rotate(0) scale(0.91 1)">0</text>
<text x="0" y="0" font-size="8.3" text-anchor="middle" font-weight="normal" fill="#111" transform="translate(382.30 180.59) rotate(0) scale(0.91 1)">10<tspan font-size="5.64" dy="-3.15">3</tspan></text>
<text x="0" y="0" font-size="8.3" text-anchor="middle" font-weight="normal" fill="#111" transform="translate(421.40 180.59) rotate(0) scale(0.91 1)">10<tspan font-size="5.64" dy="-3.15">4</tspan></text>
<text x="0" y="0" font-size="8.3" text-anchor="middle" font-weight="normal" fill="#111" transform="translate(454.70 180.59) rotate(0) scale(0.91 1)">10<tspan font-size="5.64" dy="-3.15">5</tspan></text>
<path d="M360.1,85.7h0M363.8,104.6h0M364.9,79.7h0M364.5,104.2h0M360.3,123.9h0M363.7,83.2h0M360.9,93.7h0M364.4,81.0h0M366.7,122.4h0M365.4,116.6h0M366.7,93.2h0M362.6,93.9h0M371.3,76.7h0M367.1,106.6h0M363.8,125.0h0M369.9,113.9h0M364.4,109.4h0M366.4,87.6h0M364.9,120.9h0M363.7,117.1h0M365.5,128.0h0M361.9,86.0h0M362.1,108.8h0M363.6,94.0h0M369.8,71.0h0M368.9,115.4h0M365.9,75.9h0M360.5,104.5h0M366.8,111.2h0M365.8,117.4h0M362.9,100.2h0M364.9,88.9h0M366.0,121.5h0M366.9,90.9h0M366.0,89.2h0M358.2,80.4h0M363.6,94.5h0M365.9,99.8h0M370.9,125.9h0M359.6,115.4h0M367.8,110.4h0M363.3,70.9h0M371.3,90.4h0M365.7,100.1h0M364.2,100.1h0M367.3,86.7h0M360.3,67.9h0M364.5,112.4h0M366.6,91.1h0M366.1,108.8h0M369.2,102.1h0M365.0,123.1h0M367.9,73.0h0M363.3,94.8h0M367.5,104.8h0M368.8,118.2h0M361.3,105.8h0M365.1,86.4h0M366.7,78.4h0M364.4,129.7h0M360.7,116.6h0M359.3,72.7h0M361.3,101.0h0M366.5,102.3h0M367.1,107.3h0M364.0,120.6h0M364.0,108.6h0M367.4,84.8h0M360.6,69.9h0M366.0,101.6h0M364.9,120.1h0M361.0,99.5h0M368.2,79.9h0M359.9,106.3h0M363.3,95.9h0M362.0,120.4h0M361.3,122.5h0M362.2,119.0h0M365.8,101.3h0M369.1,109.9h0M362.2,127.4h0M362.4,85.7h0M364.6,110.1h0M364.2,114.9h0M361.9,110.6h0M369.0,98.8h0M363.1,109.0h0M368.8,125.1h0M363.0,69.8h0M363.6,93.3h0M362.1,84.7h0M364.4,86.3h0M362.4,90.3h0M359.8,127.8h0M367.0,94.7h0M363.5,93.5h0M362.9,79.5h0M366.0,107.8h0M363.0,96.0h0M367.3,79.4h0M365.8,126.7h0M365.5,123.7h0M365.9,121.9h0M364.8,68.5h0M361.8,109.5h0M360.4,95.6h0M363.0,122.9h0M361.3,114.5h0M365.1,125.1h0M364.4,103.4h0M363.9,67.8h0M366.6,115.4h0M362.2,94.4h0M363.8,89.9h0M366.2,109.8h0M362.7,115.1h0M369.3,97.3h0M364.1,113.0h0M366.7,100.9h0M365.4,89.7h0M363.1,77.0h0M366.4,85.1h0M366.1,117.8h0M368.3,117.0h0M363.5,122.2h0M364.6,125.0h0M362.8,102.5h0M365.6,91.9h0M365.6,127.1h0M361.4,100.6h0M360.3,85.4h0M367.1,79.7h0M369.7,121.2h0M367.0,107.5h0M364.9,86.0h0M364.1,88.4h0M363.2,115.1h0M363.3,78.2h0M365.7,119.6h0M363.4,114.5h0M361.9,92.6h0M365.0,89.7h0M366.2,122.1h0M363.3,100.2h0M364.0,121.9h0M362.8,127.2h0M359.6,119.7h0M360.0,99.2h0M366.5,82.0h0M363.6,70.6h0M362.1,92.7h0M365.4,75.6h0M366.2,115.7h0M365.4,101.8h0M361.3,89.5h0M361.6,127.9h0M365.8,115.5h0M365.4,99.2h0M366.7,105.7h0M364.9,84.2h0M359.9,92.3h0M368.4,70.1h0M362.0,127.9h0M359.6,109.2h0M363.4,68.9h0M359.9,79.7h0M357.6,87.8h0M370.6,107.4h0M365.5,87.9h0M365.8,73.7h0M368.6,102.1h0M366.0,109.0h0M367.8,125.0h0M363.6,128.5h0M363.5,108.6h0M369.1,67.8h0M361.8,90.3h0M368.9,88.7h0M365.1,91.7h0M366.4,126.6h0M369.9,98.2h0M366.5,97.6h0M364.7,111.5h0M364.5,115.8h0M362.3,98.8h0M362.7,87.0h0M362.4,110.5h0M367.6,113.8h0M363.3,89.0h0M362.9,105.6h0M366.0,102.4h0M367.2,105.3h0M360.2,69.1h0M367.8,120.9h0M365.8,97.6h0M357.7,84.9h0M364.6,112.0h0M366.7,94.9h0M362.1,91.7h0M370.0,80.5h0M367.5,108.2h0M366.6,94.8h0M363.9,91.2h0M365.5,97.5h0M363.7,73.4h0M365.3,115.1h0M369.6,103.1h0M359.8,119.9h0M370.9,88.9h0M362.4,98.3h0M356.8,92.5h0M366.2,74.1h0M359.5,79.4h0M368.0,110.7h0M363.2,95.1h0M367.3,86.3h0M362.1,83.9h0M365.8,104.3h0M364.3,85.9h0M364.7,107.2h0M364.2,109.1h0M362.7,114.7h0M364.9,117.4h0M364.1,88.3h0M367.1,101.3h0M363.8,74.5h0M365.1,82.6h0M358.6,126.8h0M363.3,74.5h0M360.4,113.2h0M362.3,80.7h0M358.9,81.0h0M368.2,102.5h0M363.7,125.9h0M367.4,103.8h0M367.4,89.9h0M365.6,102.7h0M368.4,81.8h0M365.7,104.1h0M367.5,112.5h0M368.0,111.2h0M363.3,86.6h0M366.4,75.6h0M367.2,95.8h0M362.0,74.1h0M366.7,104.7h0M363.8,104.0h0M365.1,88.3h0M365.1,69.8h0M361.7,98.5h0M365.1,111.3h0M362.9,81.8h0M364.1,102.6h0" stroke="#333" stroke-width="0.90" stroke-linecap="round" opacity="1.0"/>
<path d="M385.5,74.9h0M372.4,113.0h0M380.4,117.1h0M393.4,75.5h0M377.7,120.2h0M372.5,119.4h0M381.5,121.1h0M373.0,75.5h0M372.4,128.9h0M372.7,93.7h0M375.1,104.0h0M395.2,129.2h0M376.6,127.7h0M401.4,73.1h0M372.0,88.1h0M381.3,89.2h0M376.6,95.0h0M372.3,75.9h0M387.2,111.5h0M372.2,100.2h0M373.3,93.6h0M383.7,114.2h0M380.0,87.2h0M398.0,120.6h0M373.4,93.3h0M388.9,103.2h0M377.2,87.3h0M374.7,75.6h0M391.7,113.3h0M378.2,106.2h0M377.7,119.2h0M392.0,106.4h0M374.4,92.5h0M388.6,84.7h0M387.5,107.2h0M392.9,125.8h0M376.8,99.6h0M381.0,71.7h0M377.2,97.9h0M387.3,124.4h0M388.4,104.3h0M380.7,116.7h0M372.3,128.8h0M372.3,117.1h0M376.4,81.8h0" stroke="#555" stroke-width="0.80" stroke-linecap="round" opacity="1.0"/>
<line x1="372.20" y1="24.20" x2="372.20" y2="166.30" stroke="#333" stroke-width="1.45"/>
<line x1="324.80" y1="111.70" x2="466.30" y2="111.70" stroke="#333" stroke-width="1.45"/>
<text x="0" y="0" font-size="8.4" text-anchor="start" font-weight="normal" fill="#111" transform="translate(328.00 35.92) rotate(0) scale(0.93 1)">Q1</text>
<text x="0" y="0" font-size="8.4" text-anchor="start" font-weight="normal" fill="#111" transform="translate(328.00 45.32) rotate(0) scale(0.93 1)">54.8</text>
<text x="0" y="0" font-size="8.4" text-anchor="end" font-weight="normal" fill="#111" transform="translate(454.60 35.92) rotate(0) scale(0.93 1)">Q2</text>
<text x="0" y="0" font-size="8.4" text-anchor="end" font-weight="normal" fill="#111" transform="translate(454.60 45.32) rotate(0) scale(0.93 1)">7.46</text>
<text x="0" y="0" font-size="8.4" text-anchor="end" font-weight="normal" fill="#111" transform="translate(454.60 150.62) rotate(0) scale(0.93 1)">Q3</text>
<text x="0" y="0" font-size="8.4" text-anchor="end" font-weight="normal" fill="#111" transform="translate(454.60 160.32) rotate(0) scale(0.93 1)">8.86</text>
<text x="0" y="0" font-size="8.4" text-anchor="start" font-weight="normal" fill="#111" transform="translate(328.00 150.62) rotate(0) scale(0.93 1)">Q4</text>
<text x="0" y="0" font-size="8.4" text-anchor="start" font-weight="normal" fill="#111" transform="translate(328.00 160.32) rotate(0) scale(0.93 1)">28.9</text>
<text x="470.10" y="37.00" font-size="8.6" text-anchor="start" font-weight="normal" fill="#111">WT</text>
<rect x="324.60" y="189.30" width="141.70" height="142.30" fill="none" stroke="#c6c6c6" stroke-width="1.8"/>
<line x1="320.50" y1="321.60" x2="324.10" y2="321.60" stroke="#111" stroke-width="1.3"/>
<line x1="320.50" y1="275.70" x2="324.10" y2="275.70" stroke="#111" stroke-width="1.3"/>
<line x1="320.50" y1="237.10" x2="324.10" y2="237.10" stroke="#111" stroke-width="1.3"/>
<line x1="320.50" y1="203.10" x2="324.10" y2="203.10" stroke="#111" stroke-width="1.3"/>
<line x1="321.90" y1="294.06" x2="324.10" y2="294.06" stroke="#111" stroke-width="0.8"/>
<line x1="321.90" y1="303.24" x2="324.10" y2="303.24" stroke="#111" stroke-width="0.8"/>
<line x1="321.90" y1="289.47" x2="324.10" y2="289.47" stroke="#111" stroke-width="0.8"/>
<line x1="321.90" y1="307.83" x2="324.10" y2="307.83" stroke="#111" stroke-width="0.8"/>
<line x1="321.90" y1="284.88" x2="324.10" y2="284.88" stroke="#111" stroke-width="0.8"/>
<line x1="321.90" y1="312.42" x2="324.10" y2="312.42" stroke="#111" stroke-width="0.8"/>
<line x1="321.90" y1="280.29" x2="324.10" y2="280.29" stroke="#111" stroke-width="0.8"/>
<line x1="321.90" y1="317.01" x2="324.10" y2="317.01" stroke="#111" stroke-width="0.8"/>
<line x1="321.90" y1="296.81" x2="324.10" y2="296.81" stroke="#111" stroke-width="0.8"/>
<line x1="321.90" y1="300.49" x2="324.10" y2="300.49" stroke="#111" stroke-width="0.8"/>
<line x1="321.90" y1="264.08" x2="324.10" y2="264.08" stroke="#111" stroke-width="0.8"/>
<line x1="321.90" y1="226.86" x2="324.10" y2="226.86" stroke="#111" stroke-width="0.8"/>
<line x1="321.90" y1="257.28" x2="324.10" y2="257.28" stroke="#111" stroke-width="0.8"/>
<line x1="321.90" y1="220.88" x2="324.10" y2="220.88" stroke="#111" stroke-width="0.8"/>
<line x1="321.90" y1="252.46" x2="324.10" y2="252.46" stroke="#111" stroke-width="0.8"/>
<line x1="321.90" y1="216.63" x2="324.10" y2="216.63" stroke="#111" stroke-width="0.8"/>
<line x1="321.90" y1="248.72" x2="324.10" y2="248.72" stroke="#111" stroke-width="0.8"/>
<line x1="321.90" y1="213.34" x2="324.10" y2="213.34" stroke="#111" stroke-width="0.8"/>
<line x1="321.90" y1="245.66" x2="324.10" y2="245.66" stroke="#111" stroke-width="0.8"/>
<line x1="321.90" y1="210.64" x2="324.10" y2="210.64" stroke="#111" stroke-width="0.8"/>
<line x1="321.90" y1="243.08" x2="324.10" y2="243.08" stroke="#111" stroke-width="0.8"/>
<line x1="321.90" y1="208.37" x2="324.10" y2="208.37" stroke="#111" stroke-width="0.8"/>
<line x1="321.90" y1="240.84" x2="324.10" y2="240.84" stroke="#111" stroke-width="0.8"/>
<line x1="321.90" y1="206.39" x2="324.10" y2="206.39" stroke="#111" stroke-width="0.8"/>
<line x1="321.90" y1="238.87" x2="324.10" y2="238.87" stroke="#111" stroke-width="0.8"/>
<line x1="321.90" y1="204.66" x2="324.10" y2="204.66" stroke="#111" stroke-width="0.8"/>
<rect x="321.10" y="295.45" width="3.00" height="6.40" fill="#111" stroke="none" stroke-width="1"/>
<line x1="334.50" y1="332.10" x2="334.50" y2="335.70" stroke="#111" stroke-width="1.3"/>
<line x1="378.00" y1="332.10" x2="378.00" y2="335.70" stroke="#111" stroke-width="1.3"/>
<line x1="420.00" y1="332.10" x2="420.00" y2="335.70" stroke="#111" stroke-width="1.3"/>
<line x1="453.20" y1="332.10" x2="453.20" y2="335.70" stroke="#111" stroke-width="1.3"/>
<line x1="360.60" y1="332.10" x2="360.60" y2="334.30" stroke="#111" stroke-width="0.8"/>
<line x1="351.90" y1="332.10" x2="351.90" y2="334.30" stroke="#111" stroke-width="0.8"/>
<line x1="364.95" y1="332.10" x2="364.95" y2="334.30" stroke="#111" stroke-width="0.8"/>
<line x1="347.55" y1="332.10" x2="347.55" y2="334.30" stroke="#111" stroke-width="0.8"/>
<line x1="369.30" y1="332.10" x2="369.30" y2="334.30" stroke="#111" stroke-width="0.8"/>
<line x1="343.20" y1="332.10" x2="343.20" y2="334.30" stroke="#111" stroke-width="0.8"/>
<line x1="373.65" y1="332.10" x2="373.65" y2="334.30" stroke="#111" stroke-width="0.8"/>
<line x1="338.85" y1="332.10" x2="338.85" y2="334.30" stroke="#111" stroke-width="0.8"/>
<line x1="357.99" y1="332.10" x2="357.99" y2="334.30" stroke="#111" stroke-width="0.8"/>
<line x1="354.51" y1="332.10" x2="354.51" y2="334.30" stroke="#111" stroke-width="0.8"/>
<line x1="390.64" y1="332.10" x2="390.64" y2="334.30" stroke="#111" stroke-width="0.8"/>
<line x1="429.99" y1="332.10" x2="429.99" y2="334.30" stroke="#111" stroke-width="0.8"/>
<line x1="398.04" y1="332.10" x2="398.04" y2="334.30" stroke="#111" stroke-width="0.8"/>
<line x1="435.84" y1="332.10" x2="435.84" y2="334.30" stroke="#111" stroke-width="0.8"/>
<line x1="403.29" y1="332.10" x2="403.29" y2="334.30" stroke="#111" stroke-width="0.8"/>
<line x1="439.99" y1="332.10" x2="439.99" y2="334.30" stroke="#111" stroke-width="0.8"/>
<line x1="407.36" y1="332.10" x2="407.36" y2="334.30" stroke="#111" stroke-width="0.8"/>
<line x1="443.21" y1="332.10" x2="443.21" y2="334.30" stroke="#111" stroke-width="0.8"/>
<line x1="410.68" y1="332.10" x2="410.68" y2="334.30" stroke="#111" stroke-width="0.8"/>
<line x1="445.83" y1="332.10" x2="445.83" y2="334.30" stroke="#111" stroke-width="0.8"/>
<line x1="413.49" y1="332.10" x2="413.49" y2="334.30" stroke="#111" stroke-width="0.8"/>
<line x1="448.06" y1="332.10" x2="448.06" y2="334.30" stroke="#111" stroke-width="0.8"/>
<line x1="415.93" y1="332.10" x2="415.93" y2="334.30" stroke="#111" stroke-width="0.8"/>
<line x1="449.98" y1="332.10" x2="449.98" y2="334.30" stroke="#111" stroke-width="0.8"/>
<line x1="418.08" y1="332.10" x2="418.08" y2="334.30" stroke="#111" stroke-width="0.8"/>
<line x1="451.68" y1="332.10" x2="451.68" y2="334.30" stroke="#111" stroke-width="0.8"/>
<rect x="352.75" y="332.10" width="7.00" height="3.00" fill="#111" stroke="none" stroke-width="1"/>
<text x="0" y="0" font-size="8.3" text-anchor="end" font-weight="normal" fill="#111" transform="translate(313.30 206.49) rotate(0) scale(0.91 1)">10</text>
<text x="0" y="0" font-size="5.8100000000000005" text-anchor="start" font-weight="normal" fill="#111" transform="translate(313.50 203.50) rotate(0) scale(0.91 1)">5</text>
<text x="0" y="0" font-size="8.3" text-anchor="end" font-weight="normal" fill="#111" transform="translate(313.30 240.49) rotate(0) scale(0.91 1)">10</text>
<text x="0" y="0" font-size="5.8100000000000005" text-anchor="start" font-weight="normal" fill="#111" transform="translate(313.50 237.50) rotate(0) scale(0.91 1)">4</text>
<text x="0" y="0" font-size="8.3" text-anchor="end" font-weight="normal" fill="#111" transform="translate(313.30 279.09) rotate(0) scale(0.91 1)">10</text>
<text x="0" y="0" font-size="5.8100000000000005" text-anchor="start" font-weight="normal" fill="#111" transform="translate(313.50 276.10) rotate(0) scale(0.91 1)">3</text>
<text x="0" y="0" font-size="8.3" text-anchor="end" font-weight="normal" fill="#111" transform="translate(313.30 302.04) rotate(0) scale(0.91 1)">0</text>
<text x="0" y="0" font-size="8.3" text-anchor="end" font-weight="normal" fill="#111" transform="translate(313.30 324.99) rotate(0) scale(0.91 1)">-10</text>
<text x="0" y="0" font-size="5.8100000000000005" text-anchor="start" font-weight="normal" fill="#111" transform="translate(313.50 322.00) rotate(0) scale(0.91 1)">3</text>
<text x="0" y="0" font-size="8.3" text-anchor="middle" font-weight="normal" fill="#111" transform="translate(338.80 345.89) rotate(0) scale(0.91 1)">-10<tspan font-size="5.64" dy="-3.15">3</tspan></text>
<text x="0" y="0" font-size="8.3" text-anchor="middle" font-weight="normal" fill="#111" transform="translate(360.00 345.89) rotate(0) scale(0.91 1)">0</text>
<text x="0" y="0" font-size="8.3" text-anchor="middle" font-weight="normal" fill="#111" transform="translate(382.30 345.89) rotate(0) scale(0.91 1)">10<tspan font-size="5.64" dy="-3.15">3</tspan></text>
<text x="0" y="0" font-size="8.3" text-anchor="middle" font-weight="normal" fill="#111" transform="translate(421.40 345.89) rotate(0) scale(0.91 1)">10<tspan font-size="5.64" dy="-3.15">4</tspan></text>
<text x="0" y="0" font-size="8.3" text-anchor="middle" font-weight="normal" fill="#111" transform="translate(454.70 345.89) rotate(0) scale(0.91 1)">10<tspan font-size="5.64" dy="-3.15">5</tspan></text>
<path d="M365.8,258.6h0M363.6,290.5h0M365.2,282.0h0M364.9,254.0h0M366.1,282.1h0M364.8,265.8h0M367.3,247.1h0M366.2,263.1h0M365.3,283.8h0M360.9,263.3h0M364.8,270.0h0M370.8,250.6h0M365.3,284.7h0M359.5,283.7h0M367.1,254.8h0M364.3,252.1h0M368.3,250.7h0M361.3,249.4h0M362.9,268.6h0M365.0,288.0h0M360.0,272.2h0M364.2,266.6h0M363.1,256.6h0M366.3,290.9h0M360.8,275.7h0M362.4,280.7h0M364.0,235.6h0M362.9,267.2h0M367.7,269.8h0M366.2,259.5h0M368.7,247.5h0M362.2,287.3h0M361.1,271.8h0M368.2,272.9h0M366.6,270.3h0M365.7,238.0h0M369.5,259.8h0M363.8,270.7h0M368.5,260.0h0M364.7,288.6h0M366.8,257.8h0M364.1,267.3h0M362.7,242.1h0M363.0,236.5h0M370.5,246.7h0M363.9,271.0h0M368.3,250.2h0M365.6,268.1h0M362.9,258.6h0M361.7,234.1h0M366.7,254.5h0M364.8,262.2h0M365.0,245.4h0M365.7,289.5h0M365.3,246.5h0M364.3,285.0h0M366.8,277.2h0M365.5,245.9h0M365.7,238.0h0M364.8,256.0h0M365.8,293.0h0M365.2,282.6h0M364.4,253.5h0M366.8,263.8h0M361.5,265.6h0M364.5,275.0h0M366.2,249.9h0M369.6,238.3h0M361.9,262.0h0M365.5,291.2h0M363.9,257.9h0M364.3,264.3h0M362.1,253.8h0M363.0,283.4h0M363.5,257.5h0M370.7,268.0h0M365.4,276.3h0M366.1,267.5h0M367.3,255.9h0M368.8,239.9h0M365.8,248.2h0M365.1,280.1h0M367.5,277.5h0M365.3,285.3h0M362.2,273.2h0M363.6,240.5h0M365.2,278.4h0M362.7,234.9h0M359.5,259.1h0M364.3,274.1h0M363.6,265.7h0M366.3,236.0h0M364.5,241.0h0M365.6,287.2h0M368.2,246.6h0M364.2,291.1h0M361.0,284.8h0M366.0,248.9h0M365.5,263.1h0M358.7,281.8h0M363.6,255.1h0M365.2,239.4h0M365.7,268.1h0M363.0,253.3h0M367.7,272.5h0M370.5,266.0h0M365.7,272.5h0M369.6,243.6h0M368.3,290.9h0M365.5,255.3h0M364.5,244.0h0M363.3,245.6h0M369.5,261.0h0M363.5,270.7h0M365.4,262.4h0M363.3,272.5h0M363.7,274.7h0M366.4,256.0h0M364.0,267.5h0M366.2,241.3h0M362.3,267.0h0M365.3,263.7h0M367.0,272.2h0M363.8,277.5h0M359.0,237.1h0M364.9,236.5h0M361.6,254.2h0M364.7,270.5h0M368.8,274.2h0M365.4,264.8h0M369.8,245.2h0M364.0,293.3h0M364.0,267.0h0M368.4,278.0h0M362.7,238.5h0M364.5,277.2h0M368.2,254.2h0M367.7,264.0h0M364.2,245.9h0M361.8,234.6h0M365.6,260.9h0M366.9,237.9h0M364.6,271.2h0M369.5,244.4h0M364.8,264.0h0M361.0,265.1h0M365.9,261.7h0M364.3,285.5h0M361.5,252.7h0M367.4,259.7h0M363.3,239.4h0M368.5,252.7h0M361.4,277.3h0M366.0,264.8h0M365.5,246.7h0M362.0,289.9h0M363.2,286.6h0M363.3,247.2h0M366.3,263.6h0M364.8,256.1h0M366.3,246.3h0M365.8,265.7h0M365.6,238.7h0M362.5,259.1h0M366.4,259.7h0M369.1,252.3h0M364.3,251.5h0M358.7,286.0h0M361.8,268.3h0M366.0,258.3h0M366.1,287.8h0M361.5,273.0h0M360.9,287.8h0M367.1,273.2h0M367.1,279.5h0M366.0,236.1h0M360.0,266.0h0M363.7,283.7h0M362.2,288.6h0M366.9,294.4h0M363.3,245.5h0M364.9,246.9h0M361.0,247.9h0M365.4,234.4h0M366.9,266.7h0M366.4,232.9h0M365.2,281.0h0M365.7,282.1h0M364.4,267.6h0M362.4,286.8h0M366.5,291.0h0M366.1,246.7h0M362.6,251.4h0M361.9,278.9h0M368.7,278.1h0M366.5,282.0h0M364.5,243.4h0M364.9,260.6h0M364.6,261.3h0M364.6,257.7h0M363.4,276.0h0M363.0,275.8h0M361.0,236.4h0M362.0,260.4h0M363.6,274.0h0M363.0,247.4h0M367.5,255.0h0M363.2,283.7h0M365.9,254.4h0M361.6,248.0h0M364.8,270.5h0M368.9,237.0h0M360.5,260.6h0M368.1,281.5h0M366.4,288.2h0M363.5,253.4h0M366.5,271.6h0M364.4,289.3h0M367.7,251.7h0M362.6,238.1h0M363.9,280.5h0M365.1,245.8h0M361.5,272.8h0M365.3,281.8h0M366.1,275.6h0M368.5,291.2h0M366.2,264.1h0M363.2,268.6h0M357.4,282.9h0M363.3,275.7h0M361.1,258.3h0M363.3,254.7h0M366.9,289.2h0M361.0,247.2h0M373.5,272.3h0M365.2,260.9h0M365.8,284.7h0M368.4,234.6h0M364.0,242.3h0M365.9,282.1h0M364.2,240.2h0M364.3,272.8h0M364.6,258.0h0M365.2,276.0h0M364.2,270.0h0M364.2,257.7h0M363.5,263.5h0M367.7,265.8h0M361.8,245.6h0M366.2,247.3h0M364.5,278.7h0M364.3,283.7h0M367.4,244.1h0M369.6,257.7h0M367.6,253.8h0M368.0,258.7h0M368.9,235.7h0M367.1,258.7h0M363.2,251.6h0M362.4,274.2h0M365.5,273.5h0M366.2,278.2h0M368.6,239.0h0M369.9,266.7h0M366.9,270.0h0M366.2,253.0h0M361.4,264.7h0M369.9,254.5h0M362.2,239.9h0M362.2,256.0h0M369.9,243.0h0M367.3,279.0h0M362.8,246.7h0M367.2,264.8h0M366.7,288.2h0M363.0,276.5h0M363.9,242.2h0M362.2,243.7h0M365.9,281.9h0M367.6,263.3h0M366.2,284.7h0M362.1,278.1h0M363.2,249.3h0M363.8,272.3h0M363.1,248.2h0M361.9,260.9h0M365.8,238.3h0M365.1,271.2h0M363.1,272.4h0M367.0,270.2h0M362.9,261.3h0M367.0,254.2h0M365.9,243.2h0M367.1,242.1h0M366.4,247.2h0M363.6,262.0h0M362.6,243.4h0M367.4,251.1h0M365.7,279.8h0M367.9,269.6h0M364.9,281.5h0M359.2,250.7h0M366.2,249.8h0M365.1,257.8h0M365.4,251.5h0M363.8,260.9h0M363.1,253.7h0M361.2,252.2h0M358.1,255.6h0M368.4,282.0h0M360.6,251.1h0M360.8,284.0h0M364.0,279.5h0M361.0,286.2h0M360.5,243.8h0M365.6,274.1h0M363.4,268.5h0M364.9,255.3h0M365.1,270.2h0M363.8,276.6h0M363.5,289.5h0M368.3,255.1h0M362.2,242.0h0M362.8,289.8h0M363.7,241.3h0M364.0,236.4h0M367.1,290.8h0M362.7,245.2h0M364.1,272.9h0M363.4,274.3h0M363.5,264.8h0M365.5,272.7h0M364.4,247.3h0M365.6,279.7h0M362.7,251.3h0M365.3,244.1h0M367.9,261.6h0M364.8,282.6h0M362.8,267.1h0M365.8,268.5h0M366.4,280.8h0M362.1,281.9h0M365.4,251.4h0M364.7,248.5h0M370.5,249.9h0M365.5,256.2h0M364.0,233.5h0M364.3,288.5h0M366.7,251.7h0M360.7,254.1h0M363.7,278.5h0M368.8,267.9h0M363.9,249.5h0M363.1,266.7h0M362.6,249.3h0M363.0,238.3h0M365.4,258.3h0M363.3,271.9h0M363.4,248.5h0M369.8,285.9h0M364.6,270.8h0M364.6,279.2h0M365.8,284.4h0M368.8,276.3h0M364.9,259.2h0M365.7,245.1h0M365.3,263.2h0M363.6,288.4h0M370.3,287.4h0M362.6,251.8h0M364.5,258.3h0M366.6,275.1h0M368.4,248.0h0M367.6,233.9h0M364.6,267.5h0M369.1,235.8h0M367.3,254.6h0M364.0,253.5h0M363.6,253.1h0M365.5,288.6h0M366.3,263.2h0M368.5,264.1h0M366.7,270.4h0M370.7,235.3h0M369.2,263.4h0M362.6,262.3h0M364.7,293.3h0M363.2,285.2h0M364.9,253.2h0M370.8,258.9h0M364.0,284.1h0M359.5,253.4h0M369.0,294.0h0M367.1,265.4h0M369.8,255.4h0M364.5,232.9h0M362.8,254.3h0M362.3,238.8h0M364.8,268.7h0M366.9,288.8h0M360.3,254.1h0M360.8,236.4h0M364.6,263.7h0M367.4,271.8h0M367.8,279.9h0M365.8,267.5h0M364.2,276.9h0M360.0,276.5h0M363.2,284.3h0M366.9,233.0h0M363.6,266.7h0M365.0,264.0h0M366.1,272.5h0M363.7,277.4h0M368.9,253.8h0M367.2,271.7h0M361.2,257.7h0M362.4,278.6h0M366.6,263.2h0M361.2,275.8h0M366.4,261.3h0M364.9,288.1h0M369.2,290.3h0M368.2,270.3h0M362.5,248.9h0M362.9,281.9h0M364.5,283.2h0M364.1,248.1h0M366.0,238.7h0M360.1,259.8h0M364.6,288.2h0M367.2,273.5h0M360.1,261.3h0M363.9,247.8h0M365.1,247.8h0M363.0,238.7h0M361.7,261.5h0M367.0,269.3h0M366.1,293.9h0M359.7,279.6h0M363.6,262.3h0M365.8,265.1h0M368.1,281.8h0M365.5,271.4h0M366.0,260.4h0M365.9,272.4h0M365.7,278.9h0M366.1,282.7h0M361.4,252.4h0M369.7,270.9h0M365.2,279.9h0M362.4,274.4h0M365.2,257.5h0M363.5,248.5h0M361.2,267.9h0M368.0,275.5h0M370.3,242.0h0M361.7,259.4h0M364.1,293.9h0M361.6,235.7h0M365.0,247.6h0M364.3,249.8h0M364.6,291.7h0M364.9,289.1h0M361.6,271.7h0M368.0,239.9h0M363.0,239.6h0M365.6,247.8h0M364.3,260.3h0M363.5,263.9h0M367.2,249.4h0M367.4,243.7h0M374.2,262.9h0M362.1,249.5h0M358.7,281.7h0M368.1,285.6h0M364.1,293.5h0M361.3,259.8h0M366.2,272.9h0M362.1,250.5h0M367.3,258.6h0M362.4,274.5h0M367.2,279.7h0M364.9,257.6h0M366.3,253.4h0M365.0,252.0h0M362.4,265.6h0M369.1,262.7h0M365.3,284.4h0M360.8,278.2h0M363.2,262.0h0M370.6,249.2h0M361.9,282.0h0M368.4,283.1h0M368.3,264.3h0M359.7,264.9h0M363.0,265.3h0M365.6,256.4h0M364.4,270.1h0M362.4,252.0h0M372.1,271.5h0M366.1,235.8h0M363.4,261.7h0M365.5,293.7h0M364.6,270.6h0M366.9,275.3h0M370.1,261.3h0M363.2,264.1h0M364.0,248.4h0M365.3,268.2h0M360.4,259.1h0M365.9,264.0h0M364.4,289.8h0M359.7,247.9h0M367.4,235.8h0M359.6,249.4h0M362.1,268.0h0M361.6,292.1h0M365.5,248.0h0M366.1,252.8h0M366.0,251.2h0M369.1,283.3h0M362.8,271.4h0M364.3,269.2h0M362.1,292.6h0M371.0,240.2h0M362.2,258.9h0M365.9,244.7h0M363.6,290.0h0M362.2,266.0h0M361.2,265.2h0M363.3,294.0h0M364.7,253.3h0M363.8,293.9h0M367.2,260.2h0M360.7,264.2h0M368.0,268.6h0M360.8,273.0h0M364.1,265.6h0M364.3,245.8h0M362.4,285.5h0M366.1,243.2h0M359.9,288.2h0M366.4,268.1h0M360.7,256.7h0M366.4,274.5h0M366.4,234.9h0M366.9,290.9h0M363.4,287.2h0M363.9,264.8h0M364.8,260.9h0M365.1,292.0h0M368.6,279.0h0M366.4,238.5h0M364.2,275.5h0M365.1,255.0h0M362.2,286.0h0M372.7,278.2h0M365.3,289.8h0M363.6,285.9h0M370.8,257.0h0M361.1,264.0h0M367.8,243.8h0M364.3,256.2h0M368.7,243.9h0M366.8,265.9h0M359.7,263.2h0M362.1,261.5h0M363.0,262.1h0M364.5,269.8h0M366.4,243.4h0M368.5,293.8h0M363.6,293.2h0M365.9,242.3h0M360.9,270.4h0M365.7,235.3h0M364.2,259.7h0M361.8,264.2h0M363.8,243.7h0M365.9,253.9h0M365.1,280.9h0M365.8,286.8h0M370.1,235.9h0M362.5,292.6h0M362.1,249.4h0M365.5,247.5h0M363.9,268.1h0M364.1,251.9h0M362.9,240.9h0M370.3,290.9h0M363.9,251.6h0M364.1,271.2h0M361.7,268.8h0M358.5,240.8h0M361.8,253.9h0M364.4,257.4h0M365.1,291.1h0M371.9,256.3h0M365.8,257.9h0M365.2,252.6h0M363.5,271.4h0M368.7,268.2h0M364.6,258.7h0M361.2,242.1h0M365.0,285.4h0M365.0,245.3h0M364.4,285.0h0M364.7,287.7h0M360.6,272.1h0M364.8,276.6h0M366.1,290.5h0M366.8,285.4h0M363.6,254.6h0M364.8,265.5h0M361.4,287.2h0M369.8,278.9h0M366.2,276.2h0M366.5,270.1h0M362.3,268.9h0M364.6,266.4h0M367.2,270.9h0M363.7,243.9h0M364.0,289.0h0M365.8,267.2h0M366.2,266.6h0M369.4,254.6h0M364.1,263.2h0M366.0,279.8h0M364.5,264.6h0M366.6,244.5h0M364.2,246.2h0M364.3,238.7h0M358.8,289.2h0M365.8,288.3h0M367.0,238.1h0M358.6,239.0h0M364.0,259.6h0M365.9,272.0h0M361.8,236.7h0M359.0,236.5h0M361.9,252.1h0M367.0,254.2h0M365.2,248.9h0M364.0,261.5h0M370.5,238.1h0M361.7,274.6h0M362.1,242.7h0M365.7,241.1h0M368.6,278.8h0M363.2,261.3h0M365.0,268.2h0M364.7,249.0h0M369.1,271.7h0M363.5,285.0h0M363.2,261.7h0M367.5,238.5h0M364.2,262.9h0M365.7,241.2h0M361.5,257.5h0M362.2,267.6h0M364.4,267.9h0M365.2,239.8h0M363.7,268.8h0M368.2,271.0h0M363.4,294.1h0M366.5,237.7h0M364.6,282.0h0M363.3,274.4h0M364.1,273.5h0M363.8,244.3h0M367.0,266.5h0M363.9,237.4h0M363.9,261.0h0M362.3,236.8h0M362.0,240.5h0M367.7,282.4h0M363.3,240.0h0M364.3,274.2h0M362.9,260.1h0M367.5,257.7h0M363.5,290.8h0M364.4,262.2h0M361.9,286.4h0M365.3,256.4h0M364.3,294.0h0M364.3,259.9h0M365.0,265.4h0M367.3,257.0h0M363.4,247.6h0M365.0,234.2h0M364.3,258.4h0M364.0,251.0h0M362.1,267.9h0M358.2,239.5h0M369.2,269.0h0M365.0,242.2h0M365.8,243.8h0M364.8,269.2h0M369.1,259.9h0M364.1,258.5h0M371.2,261.2h0M367.1,246.3h0M362.2,275.8h0M366.2,276.4h0M367.5,258.0h0M368.9,271.4h0M364.1,275.6h0M365.0,260.7h0M366.2,246.0h0M365.9,256.8h0M357.6,287.8h0M364.4,257.7h0M361.1,274.1h0M363.8,288.9h0M370.0,252.9h0M360.3,292.9h0M365.5,270.4h0M364.8,251.9h0M366.7,287.0h0M358.0,254.7h0M366.3,288.2h0M364.7,247.2h0M365.7,255.1h0M365.9,246.3h0M366.5,283.8h0M357.8,266.1h0M360.4,288.0h0M359.2,290.9h0M363.8,263.0h0M365.0,244.7h0M364.8,247.0h0M370.9,285.7h0M365.1,271.9h0M360.7,253.1h0M367.7,266.8h0M362.9,240.0h0M365.2,263.2h0M362.3,268.5h0M362.1,255.1h0M360.9,268.7h0M362.1,251.1h0M367.2,260.4h0M360.5,259.1h0M360.4,265.4h0M368.5,290.2h0M361.7,270.2h0M368.0,244.2h0M364.6,240.7h0M363.9,281.6h0M369.1,243.2h0M363.0,254.6h0M368.8,238.8h0M368.4,233.4h0M365.0,282.8h0M365.0,233.7h0M364.2,287.4h0M370.2,237.6h0M367.7,275.3h0M362.5,246.6h0M366.1,252.6h0M367.2,269.5h0M364.5,235.6h0M363.3,253.5h0M369.3,280.2h0M362.8,249.5h0M364.8,264.8h0M370.3,250.0h0M362.4,256.0h0M363.4,285.7h0M364.9,252.5h0M364.0,246.2h0M364.2,262.2h0M369.4,241.8h0M368.3,264.9h0M365.9,237.5h0M363.6,254.1h0M361.6,267.4h0M368.2,288.5h0M365.0,240.5h0M366.7,270.7h0M363.5,275.6h0M362.8,265.0h0M365.6,278.6h0M363.6,273.6h0M366.8,243.0h0M367.7,245.1h0M368.1,268.9h0M365.5,234.0h0M362.6,269.6h0M365.5,261.0h0M362.9,277.0h0M367.2,273.9h0M365.2,238.1h0M362.3,246.1h0M362.0,232.9h0M364.5,242.9h0M364.9,274.7h0M362.8,237.5h0M367.2,284.7h0M364.2,244.6h0M366.0,270.1h0M367.3,268.5h0M363.0,247.2h0M362.5,284.0h0M366.9,277.1h0M368.5,258.2h0M363.0,267.3h0M367.2,243.0h0M370.0,292.4h0M361.3,245.9h0M366.7,272.4h0M367.8,274.2h0M364.4,253.6h0M365.9,275.5h0" stroke="#222" stroke-width="0.90" stroke-linecap="round" opacity="1.0"/>
<path d="M380.4,275.1h0M389.4,276.2h0M377.9,287.3h0M375.5,264.2h0M391.5,263.6h0M375.1,291.9h0M374.2,284.4h0M383.4,251.6h0M372.5,277.9h0M372.9,253.5h0M377.9,283.1h0M392.9,271.7h0M376.0,293.4h0M379.4,277.2h0M379.6,279.2h0M393.1,283.8h0M378.8,287.9h0M372.3,277.5h0M386.2,279.1h0M393.8,273.4h0M374.2,257.9h0M381.4,285.1h0M384.1,285.1h0M391.1,249.6h0M390.5,267.9h0M380.8,261.7h0M386.6,246.4h0M376.9,277.3h0M377.6,273.7h0M373.8,276.8h0M372.4,263.7h0M375.4,257.4h0M374.2,271.2h0M378.7,258.2h0M383.6,284.9h0M379.5,251.1h0M379.5,292.9h0M387.0,285.7h0M380.8,274.9h0M377.2,284.4h0M376.3,290.9h0M390.6,272.8h0M386.1,276.1h0M378.8,263.8h0M381.5,246.8h0M373.9,291.7h0M378.3,266.7h0M391.5,283.3h0M398.0,272.7h0M381.0,265.7h0M379.0,292.3h0M400.3,264.6h0M387.4,248.7h0M375.8,286.8h0M374.8,279.6h0M376.8,272.5h0M394.2,293.5h0M398.9,291.7h0M382.3,270.0h0M379.0,281.9h0M390.1,245.6h0M379.7,260.2h0M390.8,253.2h0M385.7,254.1h0M378.2,288.9h0M406.0,284.9h0M392.0,272.5h0M377.2,280.0h0M383.5,289.4h0M380.3,245.7h0M378.7,282.3h0M378.6,287.3h0M388.0,287.7h0M387.7,255.5h0M387.8,292.2h0M374.7,258.5h0M376.6,281.4h0M381.7,265.1h0M398.5,275.0h0M400.5,266.4h0M372.6,290.4h0M374.6,292.2h0M387.4,290.1h0M372.1,248.3h0M387.1,261.8h0M375.5,281.4h0M376.9,268.6h0M389.0,288.7h0M386.5,285.4h0M386.0,293.5h0" stroke="#444" stroke-width="0.80" stroke-linecap="round" opacity="1.0"/>
<line x1="372.30" y1="189.30" x2="372.30" y2="331.60" stroke="#333" stroke-width="1.45"/>
<line x1="324.60" y1="277.20" x2="466.30" y2="277.20" stroke="#333" stroke-width="1.45"/>
<text x="0" y="0" font-size="8.4" text-anchor="start" font-weight="normal" fill="#111" transform="translate(327.80 202.02) rotate(0) scale(0.93 1)">Q1</text>
<text x="0" y="0" font-size="8.4" text-anchor="start" font-weight="normal" fill="#111" transform="translate(327.80 211.22) rotate(0) scale(0.93 1)">66.4</text>
<text x="0" y="0" font-size="8.4" text-anchor="end" font-weight="normal" fill="#111" transform="translate(454.40 202.02) rotate(0) scale(0.93 1)">Q2</text>
<text x="0" y="0" font-size="8.4" text-anchor="end" font-weight="normal" fill="#111" transform="translate(454.40 211.22) rotate(0) scale(0.93 1)">5.35</text>
<text x="0" y="0" font-size="8.4" text-anchor="end" font-weight="normal" fill="#111" transform="translate(454.40 316.82) rotate(0) scale(0.93 1)">Q3</text>
<text x="0" y="0" font-size="8.4" text-anchor="end" font-weight="normal" fill="#111" transform="translate(454.40 326.42) rotate(0) scale(0.93 1)">4.42</text>
<text x="0" y="0" font-size="8.4" text-anchor="start" font-weight="normal" fill="#111" transform="translate(327.80 316.82) rotate(0) scale(0.93 1)">Q4</text>
<text x="0" y="0" font-size="8.4" text-anchor="start" font-weight="normal" fill="#111" transform="translate(327.80 326.42) rotate(0) scale(0.93 1)">23.9</text>
<text x="470.10" y="204.10" font-size="8.6" text-anchor="start" font-weight="normal" fill="#111">AhR<tspan font-size="5.5" dy="-3">-/-</tspan></text>
<rect x="335.40" y="462.70" width="24.70" height="52.80" fill="#da8e84" stroke="#9a1a30" stroke-width="1.1"/>
<rect x="371.50" y="489.00" width="24.80" height="26.50" fill="#939bc6" stroke="#34467a" stroke-width="1.1"/>
<rect x="432.10" y="436.20" width="24.40" height="79.30" fill="#da8e84" stroke="#9a1a30" stroke-width="1.1"/>
<rect x="467.80" y="430.80" width="25.00" height="84.70" fill="#939bc6" stroke="#34467a" stroke-width="1.1"/>
<line x1="347.80" y1="453.90" x2="347.80" y2="471.90" stroke="#111" stroke-width="1.3"/>
<line x1="341.30" y1="453.90" x2="354.30" y2="453.90" stroke="#111" stroke-width="1.3"/>
<line x1="341.30" y1="471.90" x2="354.30" y2="471.90" stroke="#111" stroke-width="1.3"/>
<line x1="383.90" y1="485.60" x2="383.90" y2="492.50" stroke="#111" stroke-width="1.3"/>
<line x1="377.40" y1="485.60" x2="390.40" y2="485.60" stroke="#111" stroke-width="1.3"/>
<line x1="377.40" y1="492.50" x2="390.40" y2="492.50" stroke="#111" stroke-width="1.3"/>
<line x1="444.30" y1="426.80" x2="444.30" y2="447.80" stroke="#111" stroke-width="1.3"/>
<line x1="437.80" y1="426.80" x2="450.80" y2="426.80" stroke="#111" stroke-width="1.3"/>
<line x1="437.80" y1="447.80" x2="450.80" y2="447.80" stroke="#111" stroke-width="1.3"/>
<line x1="480.30" y1="423.50" x2="480.30" y2="439.20" stroke="#111" stroke-width="1.3"/>
<line x1="473.80" y1="423.50" x2="486.80" y2="423.50" stroke="#111" stroke-width="1.3"/>
<line x1="473.80" y1="439.20" x2="486.80" y2="439.20" stroke="#111" stroke-width="1.3"/>
<circle cx="347.6" cy="427.9" r="2.3" fill="#b8102f"/>
<circle cx="343.7" cy="453.9" r="2.3" fill="#b8102f"/>
<circle cx="351.8" cy="451.1" r="2.3" fill="#b8102f"/>
<circle cx="343.7" cy="477.0" r="2.3" fill="#b8102f"/>
<circle cx="351.8" cy="478.4" r="2.3" fill="#b8102f"/>
<circle cx="347.6" cy="489.5" r="2.3" fill="#b8102f"/>
<circle cx="383.8" cy="469.1" r="2.3" fill="#2f4c86"/>
<circle cx="383.8" cy="477.0" r="2.3" fill="#2f4c86"/>
<circle cx="379.6" cy="489.5" r="2.3" fill="#2f4c86"/>
<circle cx="387.9" cy="489.5" r="2.3" fill="#2f4c86"/>
<circle cx="383.8" cy="492.5" r="2.3" fill="#2f4c86"/>
<circle cx="377.5" cy="494.0" r="2.3" fill="#2f4c86"/>
<circle cx="390.0" cy="494.0" r="2.3" fill="#2f4c86"/>
<circle cx="379.6" cy="503.2" r="2.3" fill="#2f4c86"/>
<circle cx="387.7" cy="499.7" r="2.3" fill="#2f4c86"/>
<circle cx="443.8" cy="405.9" r="2.3" fill="#b8102f"/>
<circle cx="443.8" cy="416.0" r="2.3" fill="#b8102f"/>
<circle cx="443.8" cy="428.1" r="2.3" fill="#b8102f"/>
<circle cx="443.8" cy="438.9" r="2.3" fill="#b8102f"/>
<circle cx="447.8" cy="464.6" r="2.3" fill="#b8102f"/>
<circle cx="439.7" cy="469.5" r="2.3" fill="#b8102f"/>
<circle cx="480.3" cy="400.3" r="2.3" fill="#2f4c86"/>
<circle cx="476.2" cy="409.2" r="2.3" fill="#2f4c86"/>
<circle cx="484.3" cy="409.2" r="2.3" fill="#2f4c86"/>
<circle cx="476.2" cy="419.5" r="2.3" fill="#2f4c86"/>
<circle cx="484.3" cy="419.5" r="2.3" fill="#2f4c86"/>
<circle cx="476.2" cy="436.2" r="2.3" fill="#2f4c86"/>
<circle cx="484.3" cy="436.2" r="2.3" fill="#2f4c86"/>
<circle cx="480.3" cy="450.5" r="2.3" fill="#2f4c86"/>
<circle cx="480.3" cy="462.4" r="2.3" fill="#2f4c86"/>
<circle cx="480.3" cy="474.0" r="2.3" fill="#2f4c86"/>
<line x1="317.00" y1="385.00" x2="317.00" y2="516.10" stroke="#111" stroke-width="1.4"/>
<line x1="316.30" y1="515.50" x2="510.20" y2="515.50" stroke="#111" stroke-width="1.5"/>
<line x1="313.20" y1="515.50" x2="317.00" y2="515.50" stroke="#111" stroke-width="1.2"/>
<text x="310.80" y="518.30" font-size="7.8" text-anchor="end" font-weight="normal" fill="#111">0</text>
<line x1="313.20" y1="483.30" x2="317.00" y2="483.30" stroke="#111" stroke-width="1.2"/>
<text x="310.80" y="486.10" font-size="7.8" text-anchor="end" font-weight="normal" fill="#111">20</text>
<line x1="313.20" y1="451.10" x2="317.00" y2="451.10" stroke="#111" stroke-width="1.2"/>
<text x="310.80" y="453.90" font-size="7.8" text-anchor="end" font-weight="normal" fill="#111">40</text>
<line x1="313.20" y1="418.90" x2="317.00" y2="418.90" stroke="#111" stroke-width="1.2"/>
<text x="310.80" y="421.70" font-size="7.8" text-anchor="end" font-weight="normal" fill="#111">60</text>
<line x1="313.20" y1="386.70" x2="317.00" y2="386.70" stroke="#111" stroke-width="1.2"/>
<text x="310.80" y="389.50" font-size="7.8" text-anchor="end" font-weight="normal" fill="#111">80</text>
<line x1="366.00" y1="515.50" x2="366.00" y2="519.00" stroke="#111" stroke-width="1.2"/>
<line x1="461.70" y1="515.50" x2="461.70" y2="519.00" stroke="#111" stroke-width="1.2"/>
<line x1="338.60" y1="406.60" x2="394.70" y2="406.60" stroke="#111" stroke-width="1.2"/>
<text x="366.40" y="406.00" font-size="8" text-anchor="middle" font-weight="normal" fill="#111">*</text>
<rect x="379.60" y="418.80" width="7.60" height="5.40" fill="#da8e84" stroke="#9a1a30" stroke-width="1"/>
<rect x="379.60" y="431.00" width="7.60" height="5.40" fill="#939bc6" stroke="#34467a" stroke-width="1"/>
<text x="390.50" y="424.80" font-size="8.2" text-anchor="start" font-weight="normal" fill="#111">WT</text>
<text x="390.50" y="436.60" font-size="8.2" text-anchor="start" font-weight="normal" fill="#111">AhR<tspan font-size="5.3" dy="-3">-/-</tspan></text>
<text x="0" y="0" font-size="9.6" text-anchor="middle" font-weight="normal" fill="#111" transform="translate(295.70 449.25) rotate(-90) scale(0.915 1)">Frequency of CD4<tspan font-size="5.6" dy="-3">+</tspan><tspan dy="3">FoxP3</tspan><tspan font-size="5.6" dy="-3">+</tspan><tspan dy="3"> cells</tspan></text>
<text x="370.00" y="528.50" font-size="8.2" text-anchor="end" font-weight="normal" fill="#111" transform="rotate(-45 370.00 528.50)">CD4<tspan font-size="5.2" dy="-2.8">+</tspan><tspan dy="2.8">FoxP3</tspan><tspan font-size="5.2" dy="-2.8">+</tspan><tspan dy="2.8">NRP-1</tspan><tspan font-size="5.2" dy="-2.8">+</tspan></text>
<text x="466.00" y="529.50" font-size="8.2" text-anchor="end" font-weight="normal" fill="#111" transform="rotate(-45 466.00 529.50)">CD4<tspan font-size="5.2" dy="-2.8">+</tspan><tspan dy="2.8">FoxP3</tspan><tspan font-size="5.2" dy="-2.8">+</tspan><tspan dy="2.8">Helios</tspan><tspan font-size="5.2" dy="-2.8">+</tspan></text>
<line x1="62.80" y1="614.10" x2="62.80" y2="774.00" stroke="#222" stroke-width="1.5"/>
<path d="M60.15,614.60 L62.80,608.60 L65.45,614.60 Z" fill="#222"/>
<line x1="87.00" y1="796.20" x2="471.00" y2="796.20" stroke="#222" stroke-width="1.5"/>
<path d="M470.50,793.55 L476.50,796.20 L470.50,798.85 Z" fill="#222"/>
<text x="0" y="0" font-size="8.9" text-anchor="middle" font-weight="normal" fill="#111" transform="translate(57.40 693.70) rotate(-90) scale(1.03 1)">Autofluoresence (FITC)</text>
<text x="280.00" y="807.60" font-size="8.6" text-anchor="middle" font-weight="normal" fill="#111">FoxP3-mRFP</text>
<rect x="88.50" y="608.50" width="176.70" height="165.30" fill="none" stroke="#555" stroke-width="1"/>
<line x1="83.50" y1="737.70" x2="88.50" y2="737.70" stroke="#555" stroke-width="1.1"/>
<line x1="83.50" y1="698.20" x2="88.50" y2="698.20" stroke="#555" stroke-width="1.1"/>
<line x1="83.50" y1="660.40" x2="88.50" y2="660.40" stroke="#555" stroke-width="1.1"/>
<line x1="83.50" y1="624.60" x2="88.50" y2="624.60" stroke="#555" stroke-width="1.1"/>
<line x1="85.70" y1="725.81" x2="88.50" y2="725.81" stroke="#555" stroke-width="0.9"/>
<line x1="85.70" y1="718.85" x2="88.50" y2="718.85" stroke="#555" stroke-width="0.9"/>
<line x1="85.70" y1="713.92" x2="88.50" y2="713.92" stroke="#555" stroke-width="0.9"/>
<line x1="85.70" y1="710.09" x2="88.50" y2="710.09" stroke="#555" stroke-width="0.9"/>
<line x1="85.70" y1="706.96" x2="88.50" y2="706.96" stroke="#555" stroke-width="0.9"/>
<line x1="85.70" y1="704.32" x2="88.50" y2="704.32" stroke="#555" stroke-width="0.9"/>
<line x1="85.70" y1="702.03" x2="88.50" y2="702.03" stroke="#555" stroke-width="0.9"/>
<line x1="85.70" y1="700.01" x2="88.50" y2="700.01" stroke="#555" stroke-width="0.9"/>
<line x1="85.70" y1="686.82" x2="88.50" y2="686.82" stroke="#555" stroke-width="0.9"/>
<line x1="85.70" y1="680.16" x2="88.50" y2="680.16" stroke="#555" stroke-width="0.9"/>
<line x1="85.70" y1="675.44" x2="88.50" y2="675.44" stroke="#555" stroke-width="0.9"/>
<line x1="85.70" y1="671.78" x2="88.50" y2="671.78" stroke="#555" stroke-width="0.9"/>
<line x1="85.70" y1="668.79" x2="88.50" y2="668.79" stroke="#555" stroke-width="0.9"/>
<line x1="85.70" y1="666.26" x2="88.50" y2="666.26" stroke="#555" stroke-width="0.9"/>
<line x1="85.70" y1="664.06" x2="88.50" y2="664.06" stroke="#555" stroke-width="0.9"/>
<line x1="85.70" y1="662.13" x2="88.50" y2="662.13" stroke="#555" stroke-width="0.9"/>
<line x1="85.70" y1="649.62" x2="88.50" y2="649.62" stroke="#555" stroke-width="0.9"/>
<line x1="85.70" y1="643.32" x2="88.50" y2="643.32" stroke="#555" stroke-width="0.9"/>
<line x1="85.70" y1="638.85" x2="88.50" y2="638.85" stroke="#555" stroke-width="0.9"/>
<line x1="85.70" y1="635.38" x2="88.50" y2="635.38" stroke="#555" stroke-width="0.9"/>
<line x1="85.70" y1="632.54" x2="88.50" y2="632.54" stroke="#555" stroke-width="0.9"/>
<line x1="85.70" y1="630.15" x2="88.50" y2="630.15" stroke="#555" stroke-width="0.9"/>
<line x1="85.70" y1="628.07" x2="88.50" y2="628.07" stroke="#555" stroke-width="0.9"/>
<line x1="85.70" y1="626.24" x2="88.50" y2="626.24" stroke="#555" stroke-width="0.9"/>
<line x1="85.70" y1="613.82" x2="88.50" y2="613.82" stroke="#555" stroke-width="0.9"/>
<line x1="85.70" y1="737.70" x2="88.50" y2="737.70" stroke="#555" stroke-width="0.9"/>
<line x1="85.70" y1="740.28" x2="88.50" y2="740.28" stroke="#555" stroke-width="0.9"/>
<line x1="85.70" y1="742.86" x2="88.50" y2="742.86" stroke="#555" stroke-width="0.9"/>
<line x1="85.70" y1="745.44" x2="88.50" y2="745.44" stroke="#555" stroke-width="0.9"/>
<line x1="85.70" y1="748.01" x2="88.50" y2="748.01" stroke="#555" stroke-width="0.9"/>
<line x1="85.70" y1="750.59" x2="88.50" y2="750.59" stroke="#555" stroke-width="0.9"/>
<line x1="85.70" y1="753.17" x2="88.50" y2="753.17" stroke="#555" stroke-width="0.9"/>
<line x1="85.70" y1="755.75" x2="88.50" y2="755.75" stroke="#555" stroke-width="0.9"/>
<line x1="85.70" y1="758.33" x2="88.50" y2="758.33" stroke="#555" stroke-width="0.9"/>
<line x1="85.70" y1="760.91" x2="88.50" y2="760.91" stroke="#555" stroke-width="0.9"/>
<line x1="85.70" y1="763.49" x2="88.50" y2="763.49" stroke="#555" stroke-width="0.9"/>
<line x1="85.70" y1="766.06" x2="88.50" y2="766.06" stroke="#555" stroke-width="0.9"/>
<line x1="85.70" y1="768.64" x2="88.50" y2="768.64" stroke="#555" stroke-width="0.9"/>
<line x1="85.70" y1="771.22" x2="88.50" y2="771.22" stroke="#555" stroke-width="0.9"/>
<line x1="85.70" y1="773.80" x2="88.50" y2="773.80" stroke="#555" stroke-width="0.9"/>
<line x1="86.30" y1="737.70" x2="86.30" y2="768.80" stroke="#555" stroke-width="0.8"/>
<line x1="83.30" y1="754.40" x2="88.50" y2="754.40" stroke="#555" stroke-width="0.8"/>
<line x1="83.30" y1="755.80" x2="88.50" y2="755.80" stroke="#555" stroke-width="0.8"/>
<line x1="83.30" y1="757.40" x2="88.50" y2="757.40" stroke="#555" stroke-width="0.8"/>
<line x1="83.30" y1="758.80" x2="88.50" y2="758.80" stroke="#555" stroke-width="0.8"/>
<line x1="123.40" y1="773.80" x2="123.40" y2="778.30" stroke="#555" stroke-width="1.1"/>
<line x1="168.60" y1="773.80" x2="168.60" y2="778.30" stroke="#555" stroke-width="1.1"/>
<line x1="208.60" y1="773.80" x2="208.60" y2="778.30" stroke="#555" stroke-width="1.1"/>
<line x1="248.50" y1="773.80" x2="248.50" y2="778.30" stroke="#555" stroke-width="1.1"/>
<line x1="137.01" y1="773.80" x2="137.01" y2="776.60" stroke="#555" stroke-width="0.9"/>
<line x1="144.97" y1="773.80" x2="144.97" y2="776.60" stroke="#555" stroke-width="0.9"/>
<line x1="150.61" y1="773.80" x2="150.61" y2="776.60" stroke="#555" stroke-width="0.9"/>
<line x1="154.99" y1="773.80" x2="154.99" y2="776.60" stroke="#555" stroke-width="0.9"/>
<line x1="158.57" y1="773.80" x2="158.57" y2="776.60" stroke="#555" stroke-width="0.9"/>
<line x1="161.60" y1="773.80" x2="161.60" y2="776.60" stroke="#555" stroke-width="0.9"/>
<line x1="164.22" y1="773.80" x2="164.22" y2="776.60" stroke="#555" stroke-width="0.9"/>
<line x1="166.53" y1="773.80" x2="166.53" y2="776.60" stroke="#555" stroke-width="0.9"/>
<line x1="180.64" y1="773.80" x2="180.64" y2="776.60" stroke="#555" stroke-width="0.9"/>
<line x1="187.68" y1="773.80" x2="187.68" y2="776.60" stroke="#555" stroke-width="0.9"/>
<line x1="192.68" y1="773.80" x2="192.68" y2="776.60" stroke="#555" stroke-width="0.9"/>
<line x1="196.56" y1="773.80" x2="196.56" y2="776.60" stroke="#555" stroke-width="0.9"/>
<line x1="199.73" y1="773.80" x2="199.73" y2="776.60" stroke="#555" stroke-width="0.9"/>
<line x1="202.40" y1="773.80" x2="202.40" y2="776.60" stroke="#555" stroke-width="0.9"/>
<line x1="204.72" y1="773.80" x2="204.72" y2="776.60" stroke="#555" stroke-width="0.9"/>
<line x1="206.77" y1="773.80" x2="206.77" y2="776.60" stroke="#555" stroke-width="0.9"/>
<line x1="220.61" y1="773.80" x2="220.61" y2="776.60" stroke="#555" stroke-width="0.9"/>
<line x1="227.64" y1="773.80" x2="227.64" y2="776.60" stroke="#555" stroke-width="0.9"/>
<line x1="232.62" y1="773.80" x2="232.62" y2="776.60" stroke="#555" stroke-width="0.9"/>
<line x1="236.49" y1="773.80" x2="236.49" y2="776.60" stroke="#555" stroke-width="0.9"/>
<line x1="239.65" y1="773.80" x2="239.65" y2="776.60" stroke="#555" stroke-width="0.9"/>
<line x1="242.32" y1="773.80" x2="242.32" y2="776.60" stroke="#555" stroke-width="0.9"/>
<line x1="244.63" y1="773.80" x2="244.63" y2="776.60" stroke="#555" stroke-width="0.9"/>
<line x1="246.67" y1="773.80" x2="246.67" y2="776.60" stroke="#555" stroke-width="0.9"/>
<line x1="260.51" y1="773.80" x2="260.51" y2="776.60" stroke="#555" stroke-width="0.9"/>
<line x1="88.00" y1="773.80" x2="88.00" y2="776.60" stroke="#555" stroke-width="0.9"/>
<line x1="90.21" y1="773.80" x2="90.21" y2="776.60" stroke="#555" stroke-width="0.9"/>
<line x1="92.42" y1="773.80" x2="92.42" y2="776.60" stroke="#555" stroke-width="0.9"/>
<line x1="94.64" y1="773.80" x2="94.64" y2="776.60" stroke="#555" stroke-width="0.9"/>
<line x1="96.85" y1="773.80" x2="96.85" y2="776.60" stroke="#555" stroke-width="0.9"/>
<line x1="99.06" y1="773.80" x2="99.06" y2="776.60" stroke="#555" stroke-width="0.9"/>
<line x1="101.28" y1="773.80" x2="101.28" y2="776.60" stroke="#555" stroke-width="0.9"/>
<line x1="103.49" y1="773.80" x2="103.49" y2="776.60" stroke="#555" stroke-width="0.9"/>
<line x1="105.70" y1="773.80" x2="105.70" y2="776.60" stroke="#555" stroke-width="0.9"/>
<line x1="107.91" y1="773.80" x2="107.91" y2="776.60" stroke="#555" stroke-width="0.9"/>
<line x1="110.12" y1="773.80" x2="110.12" y2="776.60" stroke="#555" stroke-width="0.9"/>
<line x1="112.34" y1="773.80" x2="112.34" y2="776.60" stroke="#555" stroke-width="0.9"/>
<line x1="114.55" y1="773.80" x2="114.55" y2="776.60" stroke="#555" stroke-width="0.9"/>
<line x1="116.76" y1="773.80" x2="116.76" y2="776.60" stroke="#555" stroke-width="0.9"/>
<line x1="118.98" y1="773.80" x2="118.98" y2="776.60" stroke="#555" stroke-width="0.9"/>
<line x1="121.19" y1="773.80" x2="121.19" y2="776.60" stroke="#555" stroke-width="0.9"/>
<line x1="123.40" y1="773.80" x2="123.40" y2="776.60" stroke="#555" stroke-width="0.9"/>
<line x1="88.00" y1="773.80" x2="88.00" y2="778.30" stroke="#555" stroke-width="1.1"/>
<text x="73.20" y="627.34" font-size="7.6" text-anchor="middle" font-weight="normal" fill="#111">10<tspan font-size="5.3" dy="-2.8">5</tspan></text>
<text x="73.20" y="663.14" font-size="7.6" text-anchor="middle" font-weight="normal" fill="#111">10<tspan font-size="5.3" dy="-2.8">4</tspan></text>
<text x="73.20" y="700.94" font-size="7.6" text-anchor="middle" font-weight="normal" fill="#111">10<tspan font-size="5.3" dy="-2.8">3</tspan></text>
<text x="73.20" y="740.44" font-size="7.6" text-anchor="middle" font-weight="normal" fill="#111">10<tspan font-size="5.3" dy="-2.8">2</tspan></text>
<text x="73.20" y="759.34" font-size="7.6" text-anchor="middle" font-weight="normal" fill="#111">0</text>
<text x="73.20" y="776.74" font-size="7.6" text-anchor="middle" font-weight="normal" fill="#111">-82</text>
<text x="88.20" y="790.74" font-size="7.6" text-anchor="middle" font-weight="normal" fill="#111">-103</text>
<text x="125.80" y="790.74" font-size="7.6" text-anchor="middle" font-weight="normal" fill="#111">10<tspan font-size="5.17" dy="-2.89">2</tspan></text>
<text x="166.30" y="790.74" font-size="7.6" text-anchor="middle" font-weight="normal" fill="#111">10<tspan font-size="5.17" dy="-2.89">3</tspan></text>
<text x="207.30" y="790.74" font-size="7.6" text-anchor="middle" font-weight="normal" fill="#111">10<tspan font-size="5.17" dy="-2.89">4</tspan></text>
<text x="247.70" y="790.74" font-size="7.6" text-anchor="middle" font-weight="normal" fill="#111">10<tspan font-size="5.17" dy="-2.89">5</tspan></text>
<path d="M111.9,750.6h0M107.2,758.3h0M114.7,742.0h0M110.6,732.4h0M107.4,736.9h0M103.0,749.3h0M118.7,753.3h0M109.9,757.0h0M109.1,715.4h0M111.4,752.9h0M107.3,746.1h0M112.2,733.4h0M105.8,742.9h0M114.4,744.8h0M114.0,751.6h0M114.3,742.7h0M120.5,749.2h0M114.1,731.7h0M107.6,726.4h0M105.8,731.0h0M108.0,714.9h0M111.3,730.2h0M107.7,724.6h0M118.2,748.9h0M111.7,724.3h0M109.6,742.0h0M110.0,743.4h0M105.8,733.2h0M114.9,741.0h0M110.6,745.7h0M103.2,739.8h0M113.8,745.4h0M111.9,717.4h0M109.0,714.2h0M109.7,751.4h0M109.9,742.5h0M110.7,733.7h0M107.9,739.6h0M109.1,772.3h0M115.2,724.3h0M113.2,731.7h0M108.7,730.9h0M113.8,735.0h0M102.0,734.0h0M107.3,711.7h0M112.5,741.4h0M113.8,708.4h0M100.0,753.9h0M111.1,722.8h0M111.4,739.3h0M108.3,728.3h0M107.7,737.1h0M102.7,730.8h0M111.3,738.1h0M102.9,719.0h0M107.0,744.7h0M108.9,728.8h0M102.3,734.0h0M119.9,725.3h0M120.6,709.7h0M103.9,751.5h0M104.7,727.7h0M113.7,718.7h0M105.7,715.2h0M114.9,739.4h0M115.5,740.8h0M112.2,735.6h0M111.4,722.0h0M107.3,720.2h0M115.0,719.8h0M108.0,745.3h0M112.1,743.2h0M110.4,740.1h0M108.0,727.3h0M107.5,725.6h0M101.8,750.8h0M99.6,747.8h0M109.0,755.9h0M109.4,734.7h0M114.0,714.5h0M108.7,756.2h0M115.6,729.1h0M104.6,727.1h0M112.5,721.4h0M114.1,719.5h0M112.6,740.0h0M108.6,763.7h0M111.3,743.8h0M117.9,729.7h0M111.8,748.6h0M110.4,733.4h0M109.1,745.9h0M110.3,750.5h0M104.8,736.0h0M114.7,720.9h0M113.6,734.2h0M114.2,728.0h0M109.9,719.3h0M113.3,732.6h0M110.0,727.8h0M114.9,737.8h0M114.5,726.3h0M108.4,746.1h0M118.6,759.4h0M114.0,748.6h0M113.3,725.2h0M108.7,719.7h0M103.2,734.8h0M111.5,743.8h0M119.0,720.8h0M105.5,728.7h0M112.6,731.0h0M104.5,742.3h0M108.6,726.8h0M115.9,747.2h0M107.2,737.8h0M107.8,729.9h0M106.8,733.1h0M106.4,740.0h0M113.4,733.5h0M102.8,746.6h0M107.5,755.7h0M113.3,735.8h0M117.3,724.1h0M110.3,744.6h0M110.6,736.4h0M104.9,751.9h0M107.2,748.1h0M110.1,732.8h0M109.7,741.0h0M108.1,728.5h0M108.2,727.0h0M113.5,734.8h0M112.7,728.5h0M104.4,763.5h0M116.0,742.9h0M112.0,734.4h0M114.3,711.7h0M110.6,748.6h0M113.6,730.2h0M107.5,728.8h0M113.9,751.6h0M104.8,732.2h0M110.2,723.2h0M116.6,726.0h0M111.8,734.4h0M109.0,726.0h0M104.4,745.6h0M113.1,742.0h0M107.2,726.1h0M109.2,725.7h0M108.5,721.9h0M118.7,721.7h0M114.4,721.2h0M116.9,724.8h0M115.1,742.9h0M115.2,733.4h0M120.1,717.5h0M118.5,726.9h0M108.3,711.3h0M106.6,729.0h0M102.0,721.9h0M107.4,750.3h0M116.7,725.9h0M104.9,730.0h0M117.4,726.5h0M109.3,756.3h0M109.6,727.0h0M102.1,732.7h0M105.7,760.5h0M107.2,730.7h0M105.7,733.0h0M110.0,753.1h0M104.4,725.8h0M107.1,737.3h0M109.1,729.4h0M112.0,728.1h0M107.3,717.3h0M103.9,731.7h0M111.2,758.3h0M110.7,724.3h0M111.0,741.8h0M110.4,761.0h0M110.0,746.2h0M111.2,721.7h0M111.0,739.4h0M116.5,715.2h0M99.8,744.5h0M112.1,744.1h0M112.3,737.2h0M111.1,739.7h0M106.5,735.8h0M101.6,737.2h0M109.0,717.3h0M105.4,725.9h0M105.4,717.4h0M113.9,726.0h0M109.1,723.5h0M110.1,743.1h0M116.3,745.0h0M104.2,748.2h0M110.3,737.1h0M107.6,719.1h0M109.8,726.4h0M109.1,754.3h0M110.8,744.3h0M115.4,718.3h0M108.9,760.2h0M118.0,736.2h0M100.7,743.8h0M116.7,723.6h0M114.9,732.7h0M105.5,748.2h0M108.4,718.7h0M111.5,750.7h0M118.0,724.6h0M118.4,740.1h0M111.9,729.3h0M108.2,729.4h0M111.1,733.5h0M102.6,734.1h0M107.7,751.0h0M111.8,752.4h0M113.6,711.0h0M106.9,743.5h0M103.9,742.9h0M105.2,735.5h0M111.6,731.6h0M103.5,727.2h0M105.9,711.7h0M112.9,732.0h0M111.8,755.1h0M107.7,763.1h0M101.9,730.3h0M111.0,723.2h0M110.2,721.1h0M115.3,736.5h0M122.2,738.7h0M113.7,740.5h0M107.1,735.1h0M106.4,725.6h0M112.8,737.0h0M118.6,760.9h0M106.2,737.9h0M110.9,718.9h0M112.8,708.5h0M106.6,753.9h0M109.5,735.7h0M114.7,747.1h0M111.8,736.6h0M106.0,742.2h0M115.3,749.7h0M106.0,745.9h0M113.1,739.3h0M118.3,725.7h0M112.4,743.4h0M114.1,731.5h0M115.4,730.3h0M106.7,728.2h0M106.5,743.7h0M104.9,734.3h0M104.1,732.8h0M105.7,743.0h0M113.5,735.6h0M110.7,738.2h0M104.4,718.7h0M110.9,741.9h0M111.0,735.8h0M108.7,745.8h0M106.0,758.8h0M108.1,727.7h0M112.3,718.5h0M113.2,718.7h0M111.7,755.6h0M109.6,717.6h0M109.4,721.3h0M110.2,712.9h0M115.2,751.4h0M109.5,731.5h0M109.2,712.2h0M105.8,737.5h0M117.9,736.0h0M117.3,733.4h0M116.1,737.0h0M108.8,744.0h0M105.3,736.9h0M113.9,718.7h0M107.5,738.4h0M111.6,738.4h0M116.5,720.5h0M114.5,734.9h0M105.6,731.0h0M108.6,723.7h0M105.8,737.9h0M116.8,756.3h0M119.4,711.7h0M106.9,732.6h0M107.2,734.7h0M103.7,723.7h0M114.9,737.6h0M103.1,742.4h0M121.7,746.8h0M107.4,769.2h0M103.5,732.3h0M112.5,737.0h0M115.3,741.7h0M112.7,736.3h0M109.1,727.5h0M107.0,734.3h0M106.6,728.6h0M110.4,759.4h0M110.9,730.1h0M112.9,746.6h0M108.2,730.4h0M109.4,716.6h0M114.9,746.1h0M102.4,743.7h0M108.3,742.2h0M110.8,728.0h0M105.3,724.1h0M115.3,739.5h0M116.2,731.0h0M111.3,737.7h0M107.1,742.5h0M102.6,724.8h0M112.0,738.3h0M112.4,732.8h0M105.8,726.3h0M108.3,735.8h0M112.7,737.5h0M105.1,749.9h0M117.7,741.2h0M112.7,744.6h0M114.9,737.0h0M108.9,752.4h0M106.7,742.4h0M105.8,731.8h0M110.8,734.7h0M119.3,731.1h0M119.7,749.5h0M101.0,744.2h0M113.7,741.5h0M106.6,736.6h0M110.9,722.3h0M108.8,738.6h0M113.5,731.7h0M107.9,741.7h0M100.9,731.2h0M111.2,727.8h0M108.3,750.8h0M114.4,728.0h0M108.7,736.8h0M117.4,745.8h0M107.9,729.5h0M108.3,721.7h0M111.3,731.2h0M115.9,733.2h0M109.6,745.2h0M113.2,745.2h0M114.6,723.1h0M106.4,748.3h0M105.8,737.3h0M107.7,755.0h0M102.4,718.4h0M105.3,724.8h0M108.5,743.5h0M114.5,731.8h0M102.0,747.4h0M106.6,746.9h0M108.5,748.5h0M110.6,717.3h0M108.0,736.8h0M111.0,735.2h0M107.0,745.4h0M105.2,745.7h0M114.2,737.6h0M106.8,740.3h0M109.6,745.7h0M115.0,729.5h0M104.4,743.3h0M108.6,750.2h0M111.6,729.6h0M113.7,717.6h0M115.8,732.6h0M116.9,727.9h0M108.5,744.0h0M108.1,734.1h0M112.9,731.1h0M103.3,732.7h0M111.7,727.9h0M107.6,720.6h0M107.9,740.0h0M110.0,746.2h0M101.6,743.5h0M111.7,717.0h0M113.9,726.1h0M120.7,757.5h0M115.4,751.1h0M112.2,754.6h0M108.7,745.7h0M107.8,760.4h0M107.2,733.5h0M117.8,743.4h0M108.4,721.2h0M115.0,713.5h0M105.4,725.0h0M112.0,741.1h0M113.2,742.8h0M107.5,753.0h0M105.0,727.7h0M108.3,742.3h0M110.0,750.2h0M99.8,745.6h0M109.1,747.9h0M108.1,719.5h0M117.4,743.8h0M103.7,735.3h0M112.1,740.2h0M113.3,741.8h0M115.6,733.3h0M112.9,744.4h0M106.9,738.1h0M110.0,733.8h0M109.6,734.0h0M109.6,720.8h0M111.2,728.7h0M109.2,752.8h0M99.5,746.9h0M100.2,747.3h0M109.2,725.1h0M108.7,738.1h0M107.3,738.4h0M106.1,736.0h0M110.3,718.6h0M116.1,748.0h0M113.2,718.7h0M104.8,729.2h0M115.6,765.9h0M106.4,726.9h0M108.3,725.6h0M104.0,729.2h0M103.8,722.8h0M114.8,731.5h0M112.7,748.3h0M113.4,741.0h0M113.3,733.2h0M114.2,709.5h0M116.2,722.2h0M109.0,724.8h0M113.4,742.0h0M104.9,725.8h0M109.7,739.7h0M112.9,744.5h0M112.0,748.0h0M111.2,731.4h0M109.0,737.0h0M105.0,727.8h0M106.6,741.3h0M103.3,747.0h0M114.0,734.7h0M117.6,730.9h0M112.4,769.4h0M112.8,742.9h0M112.4,739.9h0M109.4,726.1h0M112.6,728.0h0M102.7,746.4h0M109.4,743.4h0M111.6,745.6h0M110.1,718.8h0M103.3,743.9h0M112.1,748.2h0M106.1,732.9h0M111.0,744.1h0M111.1,733.5h0M108.9,715.3h0M109.9,746.0h0M110.1,723.0h0M113.3,735.0h0M103.1,726.9h0M111.7,727.6h0M106.4,749.2h0M107.6,721.9h0M106.5,723.2h0M110.6,728.5h0M104.7,746.3h0M110.4,742.3h0M104.6,734.1h0M112.7,726.0h0M112.4,728.4h0M111.5,721.6h0M110.7,750.0h0M114.0,734.6h0M107.1,736.5h0M111.3,719.5h0M111.2,723.5h0M113.2,733.8h0M109.2,749.4h0M111.8,752.5h0M106.7,728.1h0M111.2,747.7h0M114.9,737.6h0M105.4,744.5h0M111.9,731.3h0M102.4,717.0h0M115.6,734.6h0M110.6,743.3h0M119.3,735.2h0M108.1,733.9h0M114.5,733.9h0M110.1,749.0h0M107.3,736.2h0M111.2,712.4h0M105.4,732.1h0M101.1,748.4h0M105.1,745.8h0M111.4,726.1h0M107.7,737.4h0M111.7,747.8h0M104.9,732.6h0M114.9,741.0h0M108.2,730.7h0M107.6,753.6h0M105.4,747.2h0M108.6,726.4h0M109.8,719.6h0M119.2,772.7h0M107.2,747.7h0M107.1,723.1h0M101.5,713.1h0M114.3,739.3h0M106.4,725.3h0M115.4,741.0h0M113.0,738.4h0M112.1,770.0h0M101.3,742.3h0M105.1,736.1h0M103.0,723.5h0M112.0,742.4h0M112.5,730.5h0M113.6,731.9h0M107.1,738.3h0M119.3,741.8h0M99.5,737.9h0M107.0,714.8h0M110.7,739.4h0M106.9,721.3h0M110.7,745.1h0M110.2,735.6h0M103.2,722.4h0M112.0,726.1h0M109.3,752.8h0M113.9,738.2h0M105.1,739.1h0M101.4,729.0h0M102.2,739.7h0M109.7,748.3h0M108.2,739.8h0M102.6,748.9h0M113.5,752.3h0M114.0,730.6h0M113.8,733.5h0M118.3,730.4h0M107.0,736.1h0M107.1,741.5h0M104.1,738.1h0M103.7,754.2h0M109.4,721.5h0M111.4,727.9h0M108.5,729.4h0M117.7,748.8h0M99.1,731.2h0M105.0,722.3h0M114.4,720.2h0M101.1,736.3h0M105.5,735.9h0M111.4,738.8h0M105.2,733.5h0M110.9,711.9h0M110.3,733.3h0M117.5,737.4h0M103.3,729.3h0M108.0,729.5h0M104.6,750.0h0M108.9,721.2h0M117.9,729.0h0M107.0,732.6h0M107.9,745.5h0M118.9,716.4h0M111.9,739.4h0M115.1,738.2h0M118.3,727.1h0M107.4,730.6h0M112.1,740.8h0M116.8,734.4h0M112.0,727.0h0M113.3,747.8h0M109.7,711.3h0M117.0,734.2h0M105.0,729.9h0M112.0,744.0h0M114.3,733.0h0M108.3,729.5h0M110.4,728.0h0M107.5,726.4h0M103.1,727.2h0M112.6,743.5h0M111.5,721.4h0M104.2,756.7h0M119.6,745.9h0M107.7,719.8h0M108.3,731.3h0M113.9,734.2h0M104.8,722.9h0M112.3,746.2h0M113.5,734.6h0M112.7,718.8h0M108.9,723.2h0M109.1,730.7h0M105.8,744.4h0M109.6,751.4h0M110.3,732.7h0M105.7,728.0h0M112.5,737.4h0M118.1,742.6h0M107.2,724.8h0M108.0,749.2h0M107.2,757.5h0M104.7,736.1h0M112.2,738.5h0M108.0,733.8h0M107.4,735.4h0M108.5,756.2h0M114.8,724.0h0M109.5,756.3h0M108.6,739.2h0M117.1,726.8h0M113.4,733.3h0M113.0,733.5h0M113.5,745.3h0M118.7,725.8h0M114.1,743.0h0M103.6,752.2h0M119.5,756.5h0M106.3,726.1h0M117.6,734.7h0M109.1,723.7h0M115.0,709.6h0M106.9,742.0h0M101.5,747.0h0M109.5,737.2h0M109.8,738.0h0M108.1,724.1h0M110.0,751.2h0M112.9,738.4h0M106.8,737.1h0M117.9,734.3h0M109.8,726.9h0M120.3,735.0h0M113.8,713.6h0M112.9,740.6h0M105.8,735.1h0M109.1,746.7h0M111.8,732.3h0M108.1,758.2h0M112.4,738.0h0M111.4,740.5h0M111.0,733.1h0M115.9,731.3h0M106.9,726.2h0M109.6,731.7h0M108.9,736.3h0M109.9,743.5h0M108.5,729.5h0M109.0,728.0h0M111.2,723.9h0M103.8,753.9h0M99.7,722.5h0M111.6,730.9h0M109.4,754.4h0M112.6,729.6h0M115.6,734.7h0M117.3,726.6h0M110.1,735.5h0M110.1,757.0h0M115.8,746.6h0M112.3,735.0h0M108.9,743.6h0M108.7,748.4h0M108.8,723.1h0M106.8,748.1h0M112.9,736.4h0M101.9,734.8h0M103.1,744.7h0M113.4,733.2h0M109.9,737.0h0M107.9,728.2h0M108.6,751.3h0M119.7,722.9h0M104.9,724.9h0M106.3,739.4h0M108.8,730.7h0M112.2,727.0h0M107.4,743.9h0M108.4,733.4h0M120.2,734.3h0M105.2,723.4h0M115.3,747.4h0M115.9,739.5h0M118.2,759.3h0M114.6,738.2h0M109.2,750.2h0M118.6,740.5h0M106.5,741.3h0M104.2,736.8h0M117.0,731.0h0M111.3,747.4h0M104.1,737.0h0M114.9,732.0h0M106.0,735.8h0M115.6,741.4h0M109.4,736.3h0M115.3,772.4h0M108.6,753.0h0M110.3,741.6h0M112.4,745.4h0M114.1,766.4h0M109.5,720.0h0M117.3,734.8h0M108.3,744.0h0M107.9,742.6h0M109.7,747.7h0M106.8,729.2h0M109.7,717.1h0M105.5,712.2h0M107.9,749.0h0M115.6,717.2h0M104.4,729.9h0M114.4,739.9h0M106.7,721.1h0M116.4,728.6h0M105.7,755.9h0M110.8,729.2h0M111.7,731.8h0M111.6,747.6h0M103.1,753.3h0M108.5,742.9h0M114.1,737.0h0M110.0,732.9h0M112.2,740.9h0M113.2,733.4h0M108.8,744.7h0M106.4,739.0h0M111.9,726.0h0M109.3,731.0h0M110.0,728.1h0M114.3,748.2h0M112.7,744.8h0M104.8,747.7h0M114.7,742.0h0M111.3,750.6h0M110.3,740.6h0M113.3,754.2h0M116.7,747.0h0M115.5,740.8h0M105.3,727.5h0M107.9,743.8h0M103.6,752.3h0M113.4,744.8h0M114.1,741.9h0M114.8,726.0h0M103.8,734.7h0M111.4,712.2h0M113.1,721.4h0M107.9,738.1h0M103.5,763.6h0M106.4,735.0h0M101.7,742.2h0M112.8,732.8h0M104.1,749.3h0M104.0,733.0h0M112.5,733.4h0M108.1,727.3h0M110.1,722.9h0M113.9,725.9h0M105.3,759.1h0M113.6,729.5h0M100.4,723.9h0M105.7,751.0h0M105.1,734.3h0M109.0,754.6h0M111.1,743.0h0M106.3,739.5h0M114.8,747.0h0M103.5,741.8h0M112.3,741.5h0M117.3,736.4h0M119.6,730.1h0M111.6,731.1h0M111.3,738.3h0M109.3,726.8h0M112.2,744.4h0M110.8,759.2h0M109.4,716.0h0M114.5,755.5h0M105.0,734.3h0M104.1,718.3h0M109.5,711.7h0M102.6,746.9h0M118.9,736.9h0M105.0,742.0h0M106.9,724.8h0M113.8,744.9h0M109.4,746.2h0M104.5,745.0h0M108.1,724.1h0M101.8,749.8h0M105.3,745.2h0M104.5,729.4h0M108.5,739.7h0M109.6,733.7h0M113.2,740.5h0M107.6,737.2h0M107.0,720.0h0M120.4,747.2h0M114.3,733.5h0M117.6,752.3h0M112.8,735.1h0M121.5,728.4h0M116.0,763.3h0M112.0,719.5h0M102.4,736.3h0M108.4,736.1h0M105.5,743.9h0M119.2,731.0h0M106.3,751.5h0M112.9,744.4h0M111.2,743.2h0M110.8,736.4h0M106.4,745.8h0M109.7,742.2h0M102.8,726.8h0M105.1,750.3h0M116.7,749.0h0M107.4,738.4h0M111.8,735.4h0M122.3,732.7h0M113.4,733.5h0M109.8,741.4h0M102.2,735.5h0M111.1,753.4h0M105.1,737.2h0M106.8,752.3h0M108.1,768.3h0M112.6,734.2h0M107.2,748.5h0M106.1,734.7h0M109.2,741.1h0M117.9,744.0h0M110.3,750.3h0M112.6,749.6h0M116.1,717.3h0M112.4,762.8h0M103.6,740.4h0M114.1,739.3h0M106.0,746.1h0M108.4,730.3h0M107.5,734.9h0M106.3,720.2h0M113.5,739.5h0M107.8,740.2h0M112.8,738.4h0M103.2,732.2h0M101.8,737.9h0M115.4,747.2h0M110.1,729.3h0M107.9,738.7h0M106.9,720.2h0M112.5,739.5h0M116.7,733.6h0M110.8,749.7h0M114.1,744.1h0M103.8,747.6h0M104.8,740.4h0M101.4,724.8h0M106.8,741.0h0M112.9,741.3h0M111.1,729.1h0M112.4,716.6h0M106.7,733.6h0M119.7,740.3h0M107.4,730.1h0M108.4,743.9h0M111.3,736.9h0M110.5,757.1h0M111.3,751.7h0M103.1,738.7h0M110.4,743.5h0M106.5,726.4h0M115.9,726.4h0M109.2,739.8h0M111.8,730.6h0M100.3,744.4h0M110.8,727.6h0M109.4,723.0h0M110.4,736.0h0M112.3,718.2h0M114.1,745.7h0M114.4,742.1h0M104.4,721.4h0M118.7,744.2h0M115.0,715.5h0M112.7,725.9h0M106.0,712.4h0M109.1,732.8h0M111.9,740.3h0M113.1,762.5h0M117.1,717.2h0M107.2,723.1h0M111.6,740.2h0M119.6,726.2h0M112.3,735.4h0M100.7,749.7h0M109.9,717.4h0M114.0,729.6h0M111.4,726.8h0M110.5,735.6h0M117.9,727.1h0M115.2,734.7h0M112.1,740.4h0M102.2,732.1h0M103.9,742.7h0M114.8,746.5h0M103.0,722.8h0M106.5,738.4h0M111.4,737.8h0M109.3,736.2h0M114.6,731.0h0M103.2,754.2h0M102.1,735.3h0M113.4,743.9h0M112.9,759.9h0M117.1,724.6h0M107.6,760.2h0M113.6,737.1h0M117.9,739.1h0M113.5,745.8h0M114.3,733.3h0M115.9,734.7h0M106.8,745.9h0M114.1,726.4h0M112.9,731.8h0M112.0,749.8h0M115.2,724.8h0M104.8,727.6h0M105.8,744.9h0M119.6,724.0h0M109.0,735.7h0M114.5,748.2h0M109.4,738.5h0M107.8,729.1h0M107.9,737.5h0M113.9,723.4h0M114.0,717.4h0M115.0,749.2h0M117.5,717.7h0M113.2,729.5h0M112.2,749.4h0M106.0,734.1h0M104.5,729.4h0M98.8,734.7h0M97.9,730.8h0M113.1,752.7h0M104.2,745.9h0M106.8,712.6h0M115.8,738.5h0M112.7,741.1h0M113.4,726.7h0M112.2,733.5h0M110.3,729.0h0M114.6,748.9h0M111.8,750.4h0M106.2,758.0h0M107.0,734.1h0M110.0,750.5h0M112.2,742.2h0M106.6,749.6h0M115.7,724.0h0M108.7,746.7h0M114.2,720.3h0M106.8,740.2h0M108.9,741.4h0M106.5,727.4h0M112.1,740.9h0M105.4,748.2h0M112.3,737.7h0M110.7,747.2h0M111.4,736.1h0M110.1,752.7h0M106.5,708.9h0M107.0,732.4h0M105.8,742.7h0M110.8,741.0h0M103.5,734.5h0M112.6,719.6h0M101.8,736.9h0M109.3,744.0h0M116.6,743.5h0M108.6,737.0h0M112.5,738.6h0M113.2,729.1h0M111.7,732.1h0M107.1,735.3h0M114.8,738.3h0M111.3,737.5h0M110.2,734.8h0M108.7,712.6h0M111.2,729.1h0M107.4,726.6h0M112.8,734.9h0M111.4,740.0h0M112.1,739.2h0M114.0,749.2h0M113.8,740.8h0M115.2,731.8h0M104.9,735.4h0M102.0,729.0h0M111.0,753.5h0M111.9,730.1h0M112.8,742.8h0M111.5,746.6h0M106.7,749.2h0M102.7,736.6h0M113.3,742.9h0M107.8,714.5h0M103.7,724.7h0M111.0,758.6h0M107.6,752.7h0M106.8,737.1h0M111.4,762.3h0M111.4,713.5h0M107.5,744.7h0M109.1,745.5h0M109.3,740.4h0M113.3,763.7h0M109.7,728.6h0M114.2,745.8h0M102.6,745.2h0M107.4,738.0h0M115.5,751.0h0M107.4,741.8h0M107.8,710.9h0M109.5,718.1h0M106.5,740.9h0M105.3,729.9h0M103.4,723.6h0M112.1,745.3h0M101.2,747.5h0M109.6,730.0h0M104.8,741.6h0M107.3,727.8h0M110.7,742.4h0M103.2,742.0h0M110.1,746.2h0M114.8,738.2h0M105.8,749.9h0M112.9,727.3h0M106.8,735.1h0M114.2,738.8h0M118.4,723.1h0M114.9,728.6h0M109.0,733.3h0M116.7,753.3h0M102.2,741.6h0M112.9,742.5h0M111.7,722.7h0M114.8,749.8h0M106.9,743.3h0M113.5,742.3h0M112.9,724.4h0M107.5,740.8h0M113.3,749.4h0M106.1,728.4h0M107.6,730.6h0M117.4,753.2h0M110.6,752.2h0M108.2,739.4h0M110.4,738.1h0M107.1,721.8h0M113.1,732.2h0M106.6,726.0h0M100.7,725.2h0M110.9,727.3h0M101.4,726.3h0M100.3,742.2h0M98.7,736.5h0M116.9,737.9h0M112.2,721.4h0M119.3,733.8h0M113.8,765.7h0M104.2,737.0h0M105.7,738.4h0M108.5,740.6h0M110.1,732.2h0M112.9,744.4h0M106.1,744.4h0M105.7,729.2h0M113.0,748.6h0M111.5,765.8h0M106.3,741.2h0M109.1,716.1h0M113.1,738.9h0M111.4,737.8h0M111.9,735.4h0M102.7,740.2h0M109.9,730.5h0M102.2,738.5h0M111.7,756.7h0M109.0,743.2h0M111.2,732.7h0M107.6,730.5h0M111.0,747.6h0M112.9,715.0h0M107.6,747.3h0M110.1,749.6h0M112.6,741.7h0M113.6,752.8h0M108.7,728.8h0M104.5,741.7h0M116.7,741.4h0M109.6,742.1h0M106.4,741.6h0M116.4,740.6h0M107.8,740.9h0M115.1,740.3h0M115.2,739.1h0M109.9,729.6h0M111.4,744.2h0M115.3,748.8h0M108.3,719.9h0M107.4,755.5h0M100.7,732.9h0M112.5,750.1h0M106.9,741.3h0M108.3,737.9h0M107.8,740.4h0M111.7,728.8h0M113.6,721.6h0M100.9,722.8h0M112.6,726.9h0M112.4,736.4h0M110.5,735.8h0M117.4,741.8h0M103.3,725.5h0M111.7,739.7h0M113.2,751.8h0M109.9,724.8h0M113.2,726.9h0M110.2,725.9h0M112.4,755.9h0M104.2,733.5h0M114.9,741.5h0M121.2,745.1h0M114.0,749.2h0M110.4,734.6h0M110.2,744.3h0M114.4,726.9h0M110.6,746.1h0M111.4,733.4h0M111.8,729.9h0M108.1,718.8h0M108.6,749.9h0M110.5,720.6h0M102.6,728.5h0M101.8,732.2h0M107.2,744.0h0M102.9,710.4h0M110.9,760.4h0M113.0,727.5h0M114.5,738.5h0M107.3,734.5h0M110.0,764.5h0M112.6,738.8h0M114.8,755.9h0M117.3,713.9h0M109.6,734.7h0M115.1,736.8h0M116.1,732.5h0M104.2,728.0h0M108.0,738.7h0M109.7,745.0h0M115.9,758.5h0M108.5,737.1h0M121.0,722.1h0M111.6,726.9h0M104.9,754.4h0M103.2,726.7h0M118.9,729.5h0M116.4,745.5h0M115.5,724.9h0M106.1,742.0h0M109.5,736.2h0M103.3,749.2h0M110.5,772.1h0M113.8,730.8h0M109.4,750.3h0M107.6,729.9h0M107.6,742.3h0M113.4,744.0h0M110.7,725.1h0M110.1,736.9h0M107.5,740.3h0M115.4,732.7h0M106.3,738.1h0M112.3,729.1h0M113.4,739.0h0M106.7,726.3h0M116.4,737.4h0M111.2,761.6h0M108.2,732.7h0M113.4,728.8h0M110.8,741.9h0M100.7,733.8h0M105.5,751.0h0M100.9,743.4h0M116.3,752.2h0M121.9,739.8h0M105.5,736.0h0M106.2,749.2h0M112.1,747.8h0M112.3,745.6h0M105.2,735.7h0M113.2,723.7h0M108.0,742.3h0M108.4,724.3h0M111.1,731.2h0M112.1,725.8h0M113.8,740.0h0M113.8,709.6h0M108.2,726.0h0M110.5,750.1h0M111.2,733.3h0M111.9,720.8h0M111.0,725.4h0M116.0,733.7h0M108.8,749.9h0M111.7,724.9h0M106.4,737.9h0M114.2,734.2h0M105.5,728.4h0M109.4,727.4h0M106.2,755.8h0M110.1,747.6h0M97.2,753.2h0M107.5,727.7h0M110.7,733.1h0M105.4,734.0h0M112.1,722.2h0M105.5,737.3h0M107.4,741.1h0M116.3,753.0h0M117.0,751.1h0M107.1,735.4h0M115.9,737.6h0M105.8,727.3h0M105.0,753.2h0M105.7,729.5h0M105.0,748.5h0M106.0,732.8h0M106.3,748.0h0M113.7,741.7h0M122.0,740.9h0M119.6,732.7h0M112.6,727.5h0M108.1,752.4h0M109.7,744.5h0M112.3,746.7h0M113.5,726.6h0M109.3,730.7h0M105.6,743.9h0M103.7,735.3h0M118.6,744.8h0M110.6,764.3h0M112.0,715.0h0M108.0,741.5h0M109.9,738.4h0M109.4,730.3h0M102.2,718.4h0M116.4,737.9h0M104.6,735.2h0M112.7,749.2h0M112.6,729.2h0M109.5,731.9h0M109.6,731.0h0M116.5,744.6h0M114.6,752.4h0M117.1,742.9h0M120.3,762.4h0M104.2,733.0h0M116.8,764.3h0M115.2,735.4h0M108.8,740.0h0M111.7,720.9h0M118.8,739.0h0M106.0,737.1h0M109.4,725.5h0M108.7,759.5h0M114.7,715.7h0M97.3,726.3h0M105.1,745.6h0M113.8,748.2h0M106.4,728.3h0M106.1,735.4h0M110.5,737.9h0M112.9,739.7h0M110.8,737.8h0M101.8,742.1h0M118.7,720.0h0M116.2,737.2h0M113.9,728.4h0M109.5,735.5h0M117.4,744.5h0M97.3,730.5h0M106.5,721.5h0M111.2,715.0h0M104.4,709.7h0M105.2,724.1h0M110.7,746.5h0M110.7,734.8h0M110.1,731.2h0M110.8,733.9h0M119.5,741.4h0M108.9,725.2h0M107.2,745.6h0M111.3,724.7h0M109.0,732.7h0M109.3,724.5h0M105.9,742.0h0M115.5,758.7h0M106.1,726.1h0M106.3,736.5h0M104.9,733.5h0M105.7,718.9h0M107.5,723.1h0M106.8,728.5h0M112.8,729.5h0M105.9,726.0h0M111.6,732.4h0M116.2,742.0h0M107.9,728.2h0M105.4,725.4h0M104.9,735.1h0M110.4,727.4h0M114.2,718.4h0M102.4,727.3h0M104.4,724.4h0M116.6,752.9h0M117.0,723.9h0M110.3,731.4h0M104.6,742.3h0M109.9,750.7h0M112.4,737.7h0M113.3,750.6h0M109.9,733.6h0M114.2,737.8h0M113.5,757.3h0M119.4,735.5h0M105.7,760.8h0M117.9,740.5h0M108.7,746.4h0M105.7,748.8h0M109.5,735.1h0M110.2,729.0h0M108.4,742.5h0M107.8,744.2h0M107.2,742.8h0M103.2,750.2h0M107.6,730.8h0M112.8,737.0h0M112.1,733.5h0M113.8,737.1h0M109.5,722.8h0M109.9,746.1h0M115.9,741.5h0M117.3,747.9h0M118.3,734.6h0M111.9,741.1h0M112.5,743.2h0M112.9,747.5h0M109.2,721.4h0M114.8,740.9h0M110.9,743.5h0M107.0,739.8h0M112.6,735.2h0M97.3,721.9h0M114.3,729.0h0M110.7,732.4h0M113.8,736.5h0M118.2,746.1h0M112.5,736.2h0M108.8,752.0h0M108.6,732.2h0M107.5,742.9h0M118.5,738.5h0M109.9,739.6h0M107.2,750.2h0M112.9,754.7h0M115.0,741.8h0M106.9,745.0h0M114.4,736.5h0M108.7,734.8h0M107.7,731.5h0M111.9,748.9h0M112.8,728.8h0M119.6,751.7h0M105.8,720.0h0M109.5,730.1h0M114.5,725.0h0M108.6,715.4h0M113.1,755.2h0M109.5,742.7h0M107.0,743.8h0M111.5,716.9h0M110.0,733.9h0M99.8,738.3h0M106.2,748.9h0M111.8,725.3h0M118.1,748.4h0M106.8,739.3h0M102.7,724.2h0M109.4,756.2h0M104.1,748.2h0M116.3,726.9h0M108.7,747.1h0M114.3,741.4h0M107.9,763.7h0M101.9,741.5h0M115.5,726.1h0M110.4,743.1h0M112.5,757.1h0M106.8,749.4h0M108.4,732.4h0M110.0,722.9h0M112.7,740.7h0M109.9,734.5h0M108.8,744.1h0M109.5,730.9h0M103.9,740.0h0M114.9,730.1h0M111.3,733.2h0M111.0,728.4h0M98.2,725.3h0M108.8,730.1h0M109.8,735.3h0M103.0,745.4h0M112.7,749.3h0M115.0,759.6h0M110.9,756.6h0M113.5,741.5h0M115.3,730.0h0M99.4,741.2h0M108.1,733.9h0M105.2,742.8h0M114.4,738.6h0M109.7,732.0h0M104.5,746.2h0M106.5,736.6h0M119.0,750.2h0M114.4,735.5h0M111.5,747.6h0M117.8,750.7h0M118.6,752.4h0M118.4,752.5h0M112.2,721.4h0M108.7,743.9h0M108.5,751.4h0M109.8,739.7h0M106.7,754.9h0M109.9,728.6h0M110.6,747.2h0M105.9,760.3h0M109.4,736.4h0M102.6,747.2h0M117.5,735.4h0M108.0,741.3h0M110.9,740.3h0M117.7,738.4h0M103.0,718.1h0M118.0,741.3h0M112.7,728.2h0M111.3,734.6h0M101.3,736.1h0M105.9,727.7h0M108.1,723.0h0M108.3,749.3h0M117.3,744.1h0M102.6,743.5h0M111.8,736.4h0M101.6,716.7h0M102.8,729.1h0M111.5,726.9h0M110.6,721.8h0M115.5,728.4h0M116.5,734.5h0M109.5,713.4h0M109.4,723.0h0M102.8,712.6h0M98.6,748.2h0M111.2,742.7h0M117.3,731.8h0M116.5,735.3h0M109.3,728.8h0M107.3,736.2h0M116.6,731.1h0M107.6,735.4h0M108.2,759.1h0M113.3,761.6h0M105.2,755.4h0M109.8,723.7h0M107.6,709.6h0M107.6,748.5h0M109.0,740.8h0M115.5,718.0h0M113.9,750.6h0M107.0,748.9h0M112.8,746.4h0M114.1,743.7h0M103.8,729.9h0M110.5,757.6h0M106.1,732.7h0M110.1,731.3h0M105.8,727.5h0M112.7,735.5h0M112.5,728.4h0M105.5,719.1h0M113.2,729.7h0M110.0,734.8h0M115.8,728.3h0M104.4,736.2h0M105.7,738.1h0M104.0,736.3h0M112.4,720.8h0M103.7,756.7h0M107.4,743.3h0M104.5,736.8h0M113.9,742.4h0M107.2,722.1h0M110.6,742.1h0M110.2,742.8h0M117.8,737.6h0M108.1,754.2h0M121.5,746.9h0M117.1,716.5h0M105.2,736.1h0M107.9,738.7h0M102.8,763.0h0M112.8,733.1h0M115.0,722.0h0M109.1,732.7h0M109.3,745.0h0M105.5,747.6h0M113.2,741.0h0M114.5,732.8h0M102.4,741.5h0M113.2,752.4h0M108.7,742.7h0M115.8,736.6h0M111.8,733.4h0M108.1,747.5h0M115.3,740.7h0M109.6,736.5h0M107.4,738.5h0M110.3,755.0h0M110.9,738.1h0M109.6,738.6h0M111.2,728.0h0M112.2,744.0h0M117.9,749.4h0M114.0,746.9h0M115.3,741.7h0M112.2,745.5h0M109.8,720.4h0M112.0,751.0h0M110.0,749.2h0M114.6,730.3h0M104.4,720.5h0M115.6,749.8h0M112.2,711.8h0M107.2,738.1h0M106.7,725.0h0M114.2,733.5h0M111.1,749.1h0M109.8,740.7h0M112.0,761.7h0M111.0,746.0h0M114.6,755.0h0M107.3,728.6h0M108.0,726.9h0M102.6,738.7h0M113.2,723.3h0M113.3,748.3h0M106.1,734.5h0M117.4,739.7h0M111.8,751.5h0M110.4,725.2h0M107.6,729.5h0M109.0,740.3h0M115.9,725.4h0M113.1,747.6h0M107.4,736.3h0M108.4,732.7h0M110.1,738.9h0M112.8,731.4h0M111.8,745.4h0M108.4,735.0h0M111.7,722.8h0M115.9,713.2h0M107.2,724.3h0M105.6,716.9h0M113.9,730.5h0M110.8,739.8h0M118.1,743.3h0M111.0,724.3h0M105.0,720.2h0M111.4,723.1h0M113.0,748.0h0M111.1,751.3h0M109.0,727.8h0M115.4,749.2h0M109.2,718.0h0M114.3,741.4h0M107.3,731.7h0M106.6,724.0h0M116.6,719.9h0M117.7,713.5h0M110.8,744.6h0M113.4,758.7h0M111.9,746.7h0M112.7,729.1h0M112.6,753.2h0M117.8,741.0h0M104.7,733.7h0M101.3,733.8h0M108.1,722.6h0M102.5,724.5h0M110.7,731.9h0M107.6,739.2h0M116.9,742.1h0M109.9,729.6h0M105.3,743.1h0M110.6,730.5h0M116.6,744.0h0M113.3,722.5h0M104.7,758.4h0M109.8,741.8h0M115.5,725.0h0M106.4,727.2h0M107.4,737.8h0M116.8,748.7h0M105.0,720.7h0M100.3,736.1h0M116.0,744.3h0M104.1,750.3h0M110.0,739.7h0M107.2,710.8h0M118.1,722.7h0M111.6,718.2h0M104.9,712.8h0M112.7,733.3h0M105.5,729.2h0M107.4,749.1h0M111.7,745.8h0M111.1,753.4h0M99.8,738.7h0M112.6,728.9h0M114.0,749.6h0M116.5,744.4h0M114.8,734.2h0M116.6,746.5h0M113.6,737.7h0M109.3,738.1h0M111.7,745.3h0M104.1,737.7h0M119.9,742.7h0M114.7,734.5h0M103.8,739.8h0M110.6,747.7h0M120.2,744.3h0M107.7,752.1h0M111.9,744.2h0M119.2,754.0h0M106.1,739.9h0M102.1,742.0h0M106.1,736.2h0M109.3,732.2h0M105.3,756.6h0M109.2,719.3h0M112.1,722.8h0M106.7,744.7h0M110.2,735.7h0M117.2,750.5h0M106.7,737.3h0M103.5,741.9h0M112.8,719.7h0M106.2,721.0h0M113.4,731.5h0M113.5,742.3h0M114.2,731.6h0M108.9,737.8h0M109.7,735.3h0M105.8,745.2h0M108.6,753.9h0M111.1,721.2h0M115.9,730.3h0M105.7,727.3h0M104.1,732.9h0M112.7,728.0h0M105.1,743.0h0M110.8,732.0h0M110.8,725.1h0M109.3,731.1h0M117.4,736.2h0M108.3,706.9h0M101.8,710.4h0M101.7,737.4h0M113.2,732.6h0M113.0,741.2h0M113.0,715.5h0M109.9,737.0h0M108.7,738.2h0M103.5,736.4h0M110.5,740.4h0M108.1,736.3h0M113.9,744.5h0M99.4,755.8h0M105.5,743.8h0M105.7,744.4h0M111.2,740.1h0M111.8,743.2h0M113.0,745.6h0M111.2,741.8h0M107.3,714.1h0M109.5,754.9h0M110.7,733.8h0M109.7,752.3h0M104.8,760.1h0M117.0,722.0h0M107.0,737.2h0M111.1,731.4h0M103.0,737.8h0M111.1,727.7h0M108.2,723.5h0M117.7,731.2h0M109.1,730.7h0M103.0,710.6h0M105.3,720.0h0M111.0,745.6h0M111.3,732.7h0M114.6,730.8h0M109.8,735.1h0M108.6,736.3h0M116.1,746.7h0M110.6,743.3h0M103.1,731.6h0M112.0,736.5h0M100.7,746.9h0M112.3,719.6h0M107.9,742.8h0M118.2,720.6h0M104.8,753.0h0M107.8,731.9h0M106.6,734.9h0M114.4,742.2h0M104.2,732.1h0M108.7,725.8h0M103.9,716.5h0M121.8,719.4h0M110.9,725.0h0M113.2,741.4h0M113.9,720.3h0M113.9,740.7h0M112.6,728.4h0M105.9,738.2h0M109.4,716.2h0M113.1,736.8h0M105.7,725.0h0M109.5,741.2h0M110.1,739.7h0M119.2,739.9h0M113.5,719.9h0M107.5,730.6h0M106.8,735.5h0M110.6,739.6h0M105.7,734.5h0M113.0,730.0h0M110.1,734.0h0M111.9,741.7h0M115.2,733.9h0M111.9,739.3h0M108.8,728.3h0M112.0,745.5h0M111.4,720.1h0M112.5,735.9h0M114.5,749.7h0M106.2,729.0h0M111.1,742.4h0M99.6,737.9h0M119.0,727.3h0M113.7,745.0h0M110.6,737.0h0M113.1,749.5h0M100.0,727.8h0M117.5,731.7h0M115.8,745.1h0M119.5,721.2h0M109.4,740.3h0M104.6,718.4h0M110.5,721.6h0M111.0,734.5h0M112.5,741.6h0M122.1,734.6h0M109.5,742.3h0M109.0,740.1h0M109.0,747.8h0M97.7,735.8h0M98.6,724.6h0M114.4,728.3h0M102.5,732.0h0M101.7,725.8h0M117.0,712.5h0M103.3,729.3h0M115.7,749.0h0M104.0,734.4h0M107.6,742.1h0M113.3,734.8h0M109.0,733.4h0M108.0,739.7h0M113.5,719.0h0M107.8,744.3h0M108.9,756.0h0M114.7,714.7h0M104.5,735.2h0M107.6,731.3h0M112.5,727.5h0M111.2,752.3h0M102.5,754.1h0M108.9,756.0h0M102.1,735.4h0M105.7,723.0h0M104.3,729.5h0M114.4,742.2h0M111.4,739.3h0M106.2,732.9h0M105.3,734.2h0M106.3,751.1h0M113.5,736.2h0M113.1,723.4h0M111.2,750.2h0M105.5,725.1h0M112.0,731.6h0M108.6,731.8h0M116.0,751.0h0M107.7,744.0h0M121.7,738.8h0M106.9,734.5h0M110.9,737.1h0M106.8,745.0h0M103.5,738.9h0M104.1,736.6h0M111.2,734.9h0M109.6,716.8h0M109.0,744.3h0M113.8,730.1h0M109.3,741.2h0M116.0,739.6h0M112.3,741.4h0M120.6,741.0h0M108.7,725.9h0M107.9,745.1h0M110.7,735.2h0M109.3,745.6h0M109.0,720.3h0M119.2,740.4h0M111.9,726.7h0M110.7,730.1h0M115.5,747.8h0M108.5,747.2h0M111.2,743.9h0M106.1,744.6h0M111.3,738.1h0M114.2,729.4h0M116.2,735.8h0M108.6,749.5h0M116.8,750.9h0M104.3,744.3h0M116.3,751.9h0M113.1,740.4h0M118.7,743.6h0M105.7,732.3h0M99.1,749.5h0M105.9,728.4h0M107.1,733.9h0M107.7,731.8h0M110.5,750.8h0M113.7,729.5h0M111.4,745.5h0M108.8,723.6h0M108.7,751.1h0M100.3,728.8h0M119.6,759.7h0M104.1,739.4h0M112.4,740.8h0M111.0,735.4h0M108.6,726.0h0M110.9,736.0h0M108.6,731.2h0M98.6,733.1h0M114.5,735.9h0M106.1,758.4h0M97.3,738.7h0M115.1,745.4h0M114.7,712.3h0M117.6,731.3h0M95.8,744.4h0M102.0,723.9h0M114.6,744.6h0M112.8,764.8h0M103.9,742.7h0M114.8,723.3h0M113.6,729.1h0M108.0,745.7h0M106.6,739.4h0M102.7,750.2h0M109.3,719.7h0M105.8,736.9h0M111.4,743.3h0M103.5,736.5h0M101.7,743.7h0M119.0,718.9h0M101.5,714.9h0M106.8,743.0h0M111.0,720.4h0M107.8,733.1h0M111.2,739.8h0M108.8,742.9h0M107.8,732.3h0M104.1,737.4h0M114.1,737.3h0M115.7,734.0h0M115.7,735.3h0M112.3,733.6h0M106.6,747.6h0M108.5,735.1h0M117.3,745.5h0M107.4,735.4h0M105.9,746.2h0M109.9,737.5h0M110.1,721.0h0M108.3,733.8h0M114.6,727.3h0M112.4,741.9h0M115.4,735.1h0M109.1,743.0h0M107.6,728.5h0M110.5,731.1h0M105.8,726.2h0M107.7,731.6h0M109.9,748.5h0M109.4,725.6h0M117.8,730.9h0M117.8,731.4h0M111.1,728.2h0M108.3,747.0h0M108.0,742.6h0M103.6,734.5h0M112.3,730.0h0M108.5,737.0h0M103.8,740.2h0M117.8,749.4h0M108.9,748.8h0M109.1,749.2h0M110.6,721.1h0M118.2,707.5h0M108.4,742.4h0M113.9,740.2h0M110.1,735.8h0M108.8,738.6h0M114.8,743.9h0M108.4,754.4h0M110.2,734.4h0M107.6,757.2h0M106.0,756.2h0M106.7,719.4h0M107.9,748.3h0M114.6,730.2h0M113.3,734.7h0M111.7,743.8h0M102.7,750.3h0M110.3,750.8h0M110.8,751.1h0M120.2,730.6h0M115.1,734.6h0M119.9,746.3h0M110.2,739.4h0M117.5,720.7h0M116.6,733.7h0M112.1,731.8h0M110.5,744.6h0M114.6,729.4h0M108.6,742.5h0M115.0,724.1h0M111.8,733.5h0M107.8,740.7h0M110.1,741.5h0M103.1,742.4h0M113.4,727.2h0M119.7,721.0h0M113.8,739.4h0M110.7,739.1h0M116.5,714.5h0M113.1,744.0h0M103.9,765.7h0M109.8,740.2h0M108.7,731.3h0M111.5,726.1h0M106.5,740.4h0M111.0,720.8h0M111.4,725.7h0M112.9,724.7h0M104.7,733.4h0M105.4,747.5h0M118.2,744.1h0M110.8,742.1h0M115.8,732.7h0M108.5,721.5h0M109.5,734.8h0M108.3,735.2h0M106.4,732.1h0M111.6,745.2h0M104.7,741.8h0M104.9,745.5h0M113.0,741.1h0M111.0,736.5h0M110.0,733.9h0M110.9,739.7h0M96.0,747.2h0M110.9,745.1h0M109.5,724.0h0M107.8,726.7h0M102.8,736.0h0M110.2,724.1h0M115.0,748.6h0M108.9,727.0h0M112.4,734.6h0M109.4,760.9h0M104.1,737.7h0M110.1,734.0h0M112.4,739.3h0M100.8,710.0h0M106.9,737.5h0M113.0,727.1h0M113.4,744.8h0M119.8,736.6h0M106.2,737.9h0M113.7,723.2h0M114.1,741.1h0M98.9,743.1h0M111.5,715.9h0M117.8,718.8h0M111.9,742.6h0M105.5,722.2h0M115.6,713.5h0M98.8,732.8h0M121.3,713.4h0M110.8,727.1h0M105.4,739.4h0M108.5,734.0h0M115.2,739.6h0M107.3,737.4h0M108.1,728.9h0M114.2,733.5h0M104.5,746.8h0M104.3,726.1h0M113.7,718.6h0M116.0,734.1h0M112.7,736.8h0M113.5,742.9h0M103.5,736.9h0M114.8,759.6h0M102.8,741.2h0M116.0,724.2h0M120.3,753.7h0M111.4,755.4h0M106.1,730.5h0M108.8,738.7h0M121.0,741.9h0M107.6,727.7h0M115.3,733.9h0M113.0,740.3h0M108.4,728.6h0M106.5,713.6h0M111.7,736.0h0M102.1,757.4h0M110.9,736.6h0M109.8,739.3h0M117.4,746.3h0M105.8,740.3h0M108.7,735.2h0M118.5,738.7h0M106.9,725.3h0M107.9,735.7h0M105.4,728.3h0M117.1,732.9h0M105.9,734.5h0M106.5,729.1h0M110.0,729.8h0M114.0,744.9h0M112.1,730.4h0M113.3,711.9h0M109.6,742.1h0M106.9,739.8h0M111.5,751.1h0M104.9,734.7h0M100.0,730.8h0M111.6,746.3h0M112.5,737.1h0M108.1,732.1h0M110.7,739.8h0M115.7,720.3h0M101.1,732.9h0M113.0,743.4h0M111.1,737.1h0M110.1,747.2h0M113.8,712.4h0M112.7,731.6h0M110.2,747.4h0M115.7,755.5h0M109.0,737.5h0M114.2,725.2h0M111.9,735.1h0M112.6,759.9h0M111.6,767.9h0M108.0,723.7h0M114.8,738.0h0M112.2,746.8h0M110.1,740.7h0M104.6,737.8h0M115.2,729.2h0M109.2,711.5h0M114.5,735.5h0M107.6,751.9h0M106.5,729.5h0M111.0,732.4h0M107.5,730.1h0M110.6,710.7h0M116.2,725.2h0M106.8,724.2h0M105.5,729.0h0M107.7,740.2h0M116.1,757.5h0M106.0,726.9h0M110.3,733.5h0M109.3,716.4h0M110.2,741.4h0M109.6,740.5h0M115.0,713.5h0M102.5,741.2h0M111.5,716.2h0M110.8,747.6h0M110.8,733.6h0M105.3,738.4h0M111.6,737.4h0M104.5,719.6h0M108.3,737.4h0M105.4,719.4h0M117.7,754.2h0M113.7,722.7h0M111.4,736.4h0M121.0,733.1h0M113.8,759.1h0M113.5,738.3h0M108.7,742.2h0M113.0,749.8h0M111.0,747.1h0M109.8,733.1h0M113.8,734.9h0M116.2,730.7h0M110.6,748.0h0M105.5,745.1h0M106.0,718.8h0M110.2,741.1h0M115.9,726.8h0M110.0,729.3h0M110.0,733.0h0M108.2,732.8h0M110.5,731.5h0M109.5,737.5h0M109.2,739.9h0M106.4,746.3h0M108.8,747.0h0M115.4,737.4h0M118.4,727.5h0M110.5,729.6h0M108.2,736.1h0M111.9,737.1h0M113.2,743.0h0M114.0,721.8h0M111.9,720.0h0M107.8,726.7h0M106.6,740.4h0M108.0,736.2h0M110.7,756.5h0M104.9,718.0h0M114.8,711.9h0M106.0,744.9h0M107.6,734.3h0M114.7,748.9h0M108.6,734.9h0M110.8,716.9h0M116.9,718.6h0M114.0,758.1h0M103.5,735.0h0M104.6,728.1h0M120.4,742.9h0M102.9,752.1h0M112.3,734.2h0M107.7,730.6h0M114.5,736.4h0M112.2,743.8h0M114.2,756.8h0M110.7,728.4h0M111.9,736.4h0M114.0,721.7h0M105.8,720.0h0M113.1,717.7h0M106.3,733.9h0M102.2,747.1h0M110.7,752.7h0M115.8,749.9h0M118.9,732.9h0M112.2,734.1h0M107.2,728.4h0M113.7,727.2h0M105.9,726.0h0M103.0,752.2h0M108.7,724.4h0M112.4,724.0h0M117.1,719.5h0M108.0,744.0h0M103.6,746.1h0M106.7,728.7h0M101.0,715.2h0M110.7,735.3h0M112.7,745.2h0M105.3,751.6h0M108.5,736.2h0M112.3,743.6h0M107.9,743.6h0M114.9,733.5h0M104.1,755.7h0M112.4,731.9h0M106.4,748.4h0M107.5,737.1h0M108.0,729.7h0M117.2,729.3h0M103.5,735.5h0M109.0,738.6h0M108.9,737.0h0M113.9,731.3h0M110.0,730.8h0M111.1,731.1h0M113.6,752.2h0M115.4,744.1h0M110.6,745.7h0M107.1,745.8h0M108.7,722.5h0M109.3,707.8h0M117.8,719.7h0M114.7,725.9h0M109.8,751.3h0M101.4,752.0h0M110.6,736.8h0M104.5,721.4h0M114.2,743.7h0M114.4,743.6h0M118.7,739.1h0M105.5,739.7h0M104.4,731.7h0M107.2,738.8h0M103.4,745.5h0M109.9,720.2h0M114.6,735.4h0M117.8,740.6h0M107.8,735.2h0M106.2,735.0h0M114.2,739.4h0M103.5,723.5h0M114.6,739.4h0M107.2,745.7h0M105.8,721.5h0M103.1,739.4h0M115.0,736.0h0M109.2,725.3h0M113.6,723.6h0M111.7,739.4h0M108.1,734.7h0M106.3,747.6h0M112.6,745.3h0M113.7,742.6h0M114.3,761.5h0M121.6,739.6h0M114.8,722.8h0M105.8,751.8h0M116.5,733.2h0M111.4,722.0h0M112.7,724.6h0M115.7,728.5h0M117.8,755.8h0M106.5,747.6h0M111.8,725.4h0M109.1,742.5h0M115.6,741.6h0M117.7,714.3h0M118.0,728.8h0M104.1,749.5h0M106.9,735.6h0M104.8,743.1h0M101.0,763.3h0M110.1,752.6h0M111.3,753.8h0M113.4,730.8h0M111.0,741.3h0M107.1,745.7h0M107.4,724.9h0M108.2,737.3h0M105.7,728.2h0M109.7,733.6h0M111.9,735.8h0M113.7,734.1h0M107.6,754.1h0M120.2,733.4h0M108.5,749.3h0M104.2,713.8h0M102.5,730.3h0M109.5,741.5h0M110.1,722.3h0M111.3,738.7h0M108.5,741.1h0M110.9,718.9h0M118.2,737.2h0M108.6,730.4h0M108.4,738.1h0M114.0,736.7h0M113.9,738.2h0M114.2,724.1h0M106.8,735.3h0M106.3,751.3h0M111.0,733.5h0M112.9,713.1h0M116.0,721.6h0M105.7,750.4h0M111.6,729.4h0M101.3,736.7h0M108.5,738.6h0M109.9,738.1h0M104.9,761.6h0M105.2,736.4h0M108.1,733.0h0M108.2,731.1h0M111.1,735.3h0M111.4,731.6h0M109.5,737.3h0M118.0,732.4h0M115.8,747.3h0M105.1,747.7h0M100.3,736.7h0M113.0,762.2h0M109.6,725.0h0M119.4,743.6h0M111.7,740.0h0M108.4,741.8h0M107.5,737.2h0M107.6,721.5h0M110.0,715.1h0M106.7,754.1h0M111.6,744.9h0M105.5,738.3h0M118.2,728.4h0M111.5,739.3h0M102.3,742.5h0M105.2,739.0h0M110.1,733.5h0M109.6,732.1h0M108.3,736.9h0M109.1,733.5h0M107.0,749.5h0M110.0,714.3h0M109.1,730.1h0M122.0,735.6h0M111.2,734.5h0M114.3,733.0h0M109.0,753.0h0M105.5,735.6h0M96.3,753.1h0M112.3,741.0h0M107.7,730.0h0M111.6,748.1h0M107.7,740.7h0M106.9,721.2h0M105.5,731.5h0M113.0,750.4h0M113.3,730.0h0M111.6,732.2h0M113.6,747.4h0M114.4,741.0h0M112.7,714.4h0M120.5,734.5h0M106.9,751.7h0M101.0,726.6h0M117.2,726.5h0M105.7,750.7h0M106.1,720.3h0M101.3,731.3h0M110.6,754.9h0M110.3,713.4h0M111.8,745.2h0M109.4,741.2h0M115.7,741.8h0M110.3,745.1h0M111.7,729.4h0M111.1,729.1h0M102.8,743.7h0M105.0,737.1h0M101.8,735.1h0M106.0,717.4h0M106.1,736.7h0M114.3,752.1h0M110.4,745.9h0M113.3,738.7h0M112.1,744.3h0M107.3,754.7h0M108.0,725.2h0M107.2,724.1h0M103.2,741.8h0M115.3,735.6h0M112.9,740.5h0M118.0,747.7h0M108.0,739.8h0M112.6,732.6h0M114.2,747.0h0M106.3,720.4h0M110.4,741.4h0M114.0,732.6h0M110.6,731.3h0M115.6,729.3h0M107.8,749.9h0M112.6,737.1h0M110.3,754.7h0M108.3,745.8h0M108.4,739.4h0M101.1,734.4h0M109.1,734.8h0M114.4,722.6h0M112.3,739.7h0M113.0,748.0h0M110.6,742.7h0M112.3,758.5h0M111.0,738.4h0M115.4,733.6h0M109.4,716.7h0M107.6,737.7h0M116.5,734.2h0M104.2,727.9h0M114.3,730.4h0M105.7,734.9h0M102.4,736.6h0M105.1,740.8h0M112.3,732.3h0M115.7,745.7h0M111.4,745.1h0M114.6,743.0h0M118.2,746.5h0M111.7,736.1h0M101.3,715.1h0M116.9,747.2h0M105.9,732.9h0M112.6,735.0h0M108.5,731.6h0M107.3,742.6h0M115.9,733.5h0M111.0,748.6h0M116.5,721.2h0M115.2,735.8h0M109.8,728.0h0M115.2,736.7h0M112.5,746.7h0M110.0,729.8h0M105.8,744.7h0M109.8,752.8h0M111.3,728.9h0M101.8,742.0h0M111.8,727.3h0M110.6,740.9h0M111.8,748.2h0M111.3,738.3h0M110.8,751.3h0M114.0,730.1h0M106.6,737.7h0M108.7,713.2h0M115.3,742.7h0M110.9,725.9h0M110.5,756.5h0M113.6,740.4h0M104.1,723.8h0M112.9,721.6h0M110.0,727.5h0M117.6,728.1h0M109.6,719.3h0M105.9,726.3h0M110.0,719.6h0M108.1,746.4h0M118.7,726.4h0M112.6,717.2h0M109.1,740.0h0M112.6,734.5h0M110.1,731.0h0M111.0,740.0h0M114.2,749.1h0M106.2,733.4h0M116.4,735.8h0M110.0,719.9h0M112.6,747.0h0M98.8,750.2h0M110.6,727.4h0M113.4,741.7h0M105.5,717.8h0M107.9,746.9h0M105.5,731.3h0M109.6,731.2h0M112.1,738.9h0M103.2,746.4h0M114.6,752.2h0M103.7,728.7h0M113.1,724.8h0M109.1,758.7h0M97.6,758.4h0M116.8,730.7h0M112.7,727.2h0M107.3,744.4h0M122.1,738.5h0M111.8,719.7h0M115.4,740.8h0M105.2,731.3h0M111.4,742.2h0M102.6,739.9h0M116.7,745.0h0M107.3,738.7h0M117.5,728.3h0M106.8,746.7h0M110.1,734.4h0M107.2,716.9h0M110.9,733.1h0M111.9,728.6h0M103.7,717.0h0M103.7,727.0h0M114.0,714.9h0M112.7,732.4h0M113.0,722.0h0M116.3,736.2h0M107.0,750.4h0M97.6,726.0h0M116.9,730.9h0M104.0,736.6h0M110.2,743.5h0M107.0,746.5h0M101.9,748.1h0M104.1,733.3h0M101.6,760.6h0M106.3,743.9h0M107.2,740.9h0M109.0,745.8h0M118.5,709.2h0M106.7,734.4h0M111.5,750.5h0M117.7,740.9h0M105.5,734.7h0M109.0,745.2h0M108.5,740.7h0M115.0,723.3h0M110.7,735.1h0M107.1,739.4h0M106.1,716.7h0M115.8,735.2h0M102.6,739.8h0M105.4,728.5h0M114.6,740.6h0M107.7,732.6h0M105.0,753.5h0M107.5,747.0h0M107.8,728.0h0M110.8,739.1h0M113.8,740.2h0M116.3,719.4h0M106.9,736.6h0M97.8,720.8h0M108.9,723.6h0M109.0,731.2h0M113.3,729.7h0M114.8,722.9h0M112.0,719.9h0M102.9,730.1h0M115.8,725.5h0M107.5,728.3h0M110.9,741.0h0M109.8,741.1h0M105.1,730.9h0M113.2,746.3h0M108.6,726.0h0M107.7,728.8h0M105.0,731.2h0M109.6,752.9h0M111.1,750.4h0M110.1,733.0h0M117.4,734.9h0M111.3,742.1h0M113.5,725.6h0M104.3,750.7h0M100.0,733.2h0M109.5,731.1h0M106.3,730.9h0M108.2,729.6h0M112.1,724.4h0M100.0,727.3h0M114.0,723.7h0M104.1,730.8h0M112.8,730.9h0M106.7,720.3h0M110.1,707.5h0M105.7,731.9h0M112.6,716.1h0M115.4,739.0h0M108.7,740.4h0M113.0,739.8h0M103.1,746.8h0M117.0,750.5h0M103.7,724.2h0M116.9,734.7h0M120.6,743.8h0M113.6,729.4h0M118.0,737.8h0M104.4,727.2h0M109.1,733.4h0M109.3,731.5h0M98.7,724.1h0M111.4,726.8h0M107.7,743.7h0M108.6,718.9h0M110.6,736.3h0M106.1,749.2h0M114.9,751.6h0M116.1,760.0h0M111.1,741.9h0M105.0,751.9h0M104.9,732.3h0M106.9,741.3h0M111.2,750.7h0M113.9,728.2h0M99.4,728.4h0M112.9,749.6h0M103.8,738.1h0M109.9,747.9h0M108.7,738.8h0M107.0,717.9h0M108.0,733.2h0M103.0,758.2h0M115.4,756.5h0M112.9,721.8h0M107.4,740.0h0M118.0,737.0h0M106.5,747.3h0M108.0,741.8h0M107.4,730.9h0M112.3,742.7h0M110.5,744.4h0M114.6,731.1h0M110.2,750.6h0M106.7,727.4h0M109.6,714.5h0M115.0,724.4h0M112.5,746.8h0M107.8,739.1h0M108.6,735.0h0M107.7,735.8h0M111.9,754.3h0M103.4,740.1h0M104.8,747.2h0M113.6,751.3h0M105.6,770.5h0M110.2,751.0h0M108.1,754.5h0M111.0,735.8h0M109.7,734.5h0M110.3,752.5h0M112.6,737.5h0M105.9,741.6h0M113.1,738.5h0M115.8,732.8h0M120.0,744.8h0M110.3,727.6h0M106.5,746.4h0M112.3,732.5h0M118.1,737.6h0M116.6,731.1h0M105.7,750.2h0M111.6,743.1h0M112.1,742.9h0M108.7,743.0h0M109.3,739.3h0M110.2,749.5h0M101.7,735.0h0M114.2,727.7h0M115.5,732.2h0M114.9,731.2h0M107.0,747.6h0M115.0,735.9h0M109.7,716.2h0M113.6,722.2h0M106.2,744.2h0M109.5,731.4h0M111.6,748.8h0M106.4,748.3h0M105.2,726.8h0M116.1,734.7h0M115.4,722.6h0M104.3,737.0h0M117.7,720.9h0M108.3,748.1h0M113.2,750.1h0M113.6,739.5h0M105.6,721.8h0M105.4,746.1h0M104.1,734.2h0M111.3,732.9h0M107.1,731.8h0M103.6,739.1h0M108.8,726.1h0M110.5,731.7h0M113.0,742.8h0M105.6,731.0h0M109.3,721.2h0M107.8,743.9h0M112.9,735.0h0M115.8,765.3h0M116.3,716.4h0M116.7,755.2h0M111.6,746.5h0M107.1,725.2h0M114.6,733.5h0M113.2,750.7h0M106.6,723.7h0M110.0,741.8h0M102.8,734.6h0M113.9,733.2h0M110.8,731.5h0M111.1,731.3h0M106.4,732.8h0M112.9,736.5h0M113.3,746.1h0M106.7,726.8h0M108.8,751.4h0M108.2,744.9h0M110.1,736.0h0M106.8,713.7h0M114.3,739.5h0M102.0,729.8h0M108.5,727.7h0M105.1,738.8h0M111.3,711.2h0M108.3,728.8h0M115.8,755.2h0M115.7,743.9h0M107.5,732.8h0M102.6,715.0h0M114.0,745.6h0M111.1,752.5h0M115.8,735.9h0M106.7,729.1h0M105.4,725.6h0M108.0,723.0h0M107.6,731.9h0M114.0,744.9h0M115.6,740.0h0M107.0,726.8h0M107.6,738.2h0M111.5,755.0h0M111.7,742.7h0M112.8,728.9h0M109.8,725.1h0M107.5,739.4h0M116.8,718.5h0M101.3,726.3h0M116.8,725.8h0M105.8,746.1h0M110.9,733.3h0M110.6,753.9h0M115.0,747.8h0M113.8,737.5h0M115.6,729.5h0M112.3,727.6h0M111.0,748.5h0M108.3,749.7h0M115.4,746.2h0M116.5,740.6h0M99.7,717.6h0M109.1,741.9h0M101.8,717.3h0M104.0,736.1h0M105.5,721.5h0M116.5,746.5h0M108.0,754.6h0M106.2,733.0h0M106.1,735.0h0M113.8,731.5h0M105.3,737.6h0M112.6,739.2h0M107.2,743.2h0M115.0,747.5h0M111.6,743.1h0M118.7,723.9h0M108.2,734.3h0M110.2,751.9h0M100.8,751.3h0M110.3,741.5h0M101.3,760.5h0M107.4,741.4h0M108.3,769.8h0M109.5,721.9h0M102.6,735.7h0M114.9,746.6h0M113.3,754.4h0M109.6,726.8h0M111.0,739.4h0M114.7,733.3h0M115.2,725.9h0M108.0,726.6h0M107.4,723.2h0M110.1,750.0h0M101.9,719.8h0M106.1,734.3h0M112.6,734.0h0M112.3,739.0h0M99.8,731.4h0M107.5,749.9h0M115.8,730.7h0M108.8,755.7h0M109.7,768.5h0M106.9,742.1h0M99.7,742.9h0M109.1,728.3h0M114.7,732.2h0M108.0,733.8h0M117.8,749.3h0M108.9,757.9h0M106.1,742.5h0M108.3,723.8h0M114.5,744.8h0M102.0,749.1h0M114.7,746.3h0M110.6,749.5h0M111.8,748.4h0M114.8,719.0h0M114.6,720.8h0M111.3,722.9h0M110.0,738.0h0M109.1,740.1h0M113.1,717.0h0M113.4,732.1h0M107.1,721.5h0M115.1,731.3h0M109.2,734.9h0M110.8,728.5h0M110.9,733.2h0M114.0,739.7h0M108.6,741.7h0M111.3,725.4h0M112.1,753.3h0M106.9,735.8h0M112.4,715.7h0M107.4,739.6h0M117.7,717.5h0M118.7,743.3h0M109.2,741.8h0M104.2,725.9h0M113.6,747.4h0M107.0,724.1h0M107.9,755.7h0M111.2,756.0h0M116.0,751.4h0M110.3,735.9h0M117.0,723.1h0M104.6,751.0h0M97.6,742.7h0M112.2,710.2h0M111.0,730.3h0M111.9,726.6h0M109.4,754.9h0M114.0,715.2h0M112.4,744.8h0M112.5,753.0h0M116.0,721.7h0M112.1,748.3h0M111.6,722.8h0M114.6,739.4h0M114.9,726.1h0M110.8,739.5h0M110.5,764.0h0M103.4,731.9h0M108.4,740.0h0M113.8,746.8h0M110.9,734.4h0M114.0,744.2h0M105.0,746.3h0M110.0,754.1h0M113.3,733.6h0M101.6,721.9h0M116.1,751.4h0M114.3,731.3h0M104.4,726.9h0M106.6,724.7h0M112.2,719.2h0M104.4,729.0h0M115.0,731.1h0M111.8,736.1h0M109.5,739.1h0M109.0,745.8h0M116.6,727.6h0M111.6,710.0h0M110.8,729.9h0M106.5,744.7h0M108.9,752.0h0M114.2,743.2h0M102.2,722.6h0M114.2,738.7h0M113.5,757.5h0M106.8,750.2h0M108.0,733.8h0M105.8,715.5h0M116.3,735.7h0M99.1,743.4h0M113.9,759.4h0M104.8,746.6h0M101.3,734.9h0M117.2,746.5h0M113.1,748.7h0M110.4,740.5h0M114.4,728.2h0M103.9,756.3h0M102.8,732.9h0M113.9,728.8h0M111.7,747.8h0M103.2,727.9h0M104.3,734.0h0M113.6,736.8h0M108.0,742.9h0M109.9,741.5h0M117.5,742.2h0M108.6,749.3h0M108.0,746.7h0M114.1,738.4h0M116.6,721.4h0M103.7,756.6h0M105.6,728.0h0M103.4,751.4h0M103.6,709.2h0M110.3,743.9h0M109.3,740.3h0M116.2,724.9h0M108.6,728.6h0M110.0,723.1h0M113.1,736.8h0M102.8,742.8h0M111.9,716.8h0M110.8,733.4h0M117.4,737.8h0M113.9,741.0h0M107.5,744.4h0M105.1,749.3h0M110.8,730.8h0M109.4,727.2h0M113.8,710.9h0M111.7,718.0h0M116.4,731.5h0M117.3,745.0h0M115.0,736.1h0M101.4,754.5h0M112.4,753.4h0M119.9,728.9h0M118.5,753.8h0M121.6,728.6h0M109.2,754.0h0M105.9,734.5h0M105.2,738.4h0M116.5,747.4h0M103.9,735.5h0M108.4,727.2h0M110.9,719.8h0M108.6,735.8h0M109.8,733.2h0M113.5,728.2h0M111.8,739.4h0M113.1,712.8h0M110.5,742.6h0M121.5,723.9h0M101.6,750.9h0M104.9,743.0h0M108.5,729.1h0M106.8,741.1h0M113.2,732.8h0M108.0,754.2h0M115.4,737.6h0M108.9,736.8h0M107.3,745.2h0M114.9,719.2h0M112.7,720.7h0M106.0,761.4h0M117.9,737.7h0M107.8,757.5h0M110.5,738.3h0M105.6,751.2h0M107.2,733.2h0M109.9,725.3h0M110.4,726.8h0M111.6,742.9h0M106.4,743.7h0M112.0,743.7h0M105.2,722.6h0M117.6,748.4h0M109.5,743.0h0M113.1,754.3h0M116.0,734.1h0M106.1,723.3h0M102.8,743.6h0M109.9,720.4h0M111.7,723.3h0M112.0,725.1h0M111.3,726.2h0M108.0,733.1h0M114.6,737.8h0M107.4,728.3h0M110.6,737.8h0M109.7,719.4h0M119.7,734.5h0M106.7,735.2h0M104.6,741.0h0M111.2,745.6h0M111.0,710.7h0M116.6,747.7h0M106.3,728.5h0M104.4,740.7h0M105.9,731.7h0M107.4,737.8h0M113.6,728.6h0M112.2,733.8h0M109.2,730.2h0M115.7,742.1h0M102.2,721.9h0M112.7,762.3h0M111.7,726.2h0M103.0,745.8h0M112.9,729.8h0M118.4,736.9h0M107.3,744.2h0M109.4,746.3h0M114.4,710.1h0M114.3,760.5h0M112.9,734.2h0M106.1,746.9h0M115.9,745.9h0M110.7,745.7h0M112.1,758.7h0M109.6,720.8h0M107.9,722.8h0M104.1,750.9h0M99.6,746.4h0M108.6,744.8h0M108.9,749.1h0M114.4,759.0h0M112.7,757.0h0M108.9,735.8h0M115.6,748.3h0M111.7,739.9h0M107.3,742.4h0M113.6,730.3h0M113.3,734.5h0M111.6,728.1h0M105.8,728.7h0M107.4,752.8h0M105.5,725.9h0M108.5,743.9h0M106.1,723.6h0M113.0,749.1h0M111.9,758.8h0M115.2,738.0h0M107.7,740.6h0M116.6,725.2h0M108.7,729.6h0M111.8,733.4h0M110.8,744.2h0M111.4,744.9h0M110.6,739.9h0M114.1,706.9h0M102.2,730.5h0M101.8,718.4h0M107.2,735.5h0M109.6,732.4h0M111.8,732.2h0M106.0,730.4h0M111.1,745.6h0M109.3,743.6h0M113.4,733.4h0M112.7,732.5h0M105.4,764.5h0M110.8,753.2h0M116.4,750.9h0M109.5,736.6h0M109.5,742.7h0M117.8,734.5h0M107.8,736.0h0M111.8,740.8h0M103.6,727.8h0M114.8,727.5h0M110.0,735.1h0M109.9,730.8h0M98.7,742.8h0M114.2,722.0h0M106.1,738.0h0M105.9,736.6h0M105.7,738.9h0M104.6,714.7h0M105.7,742.5h0M114.8,734.2h0M111.3,737.9h0M107.0,739.6h0M112.1,739.7h0M102.9,730.2h0M114.7,728.2h0M114.2,745.7h0M110.9,746.3h0M108.9,731.6h0M103.9,720.9h0M111.4,731.5h0M104.3,738.7h0M106.2,738.1h0M115.1,739.7h0M104.8,749.3h0M110.2,742.0h0M108.3,728.0h0M108.3,717.7h0M108.0,733.1h0M114.2,746.1h0M110.7,739.1h0M115.1,739.8h0M104.2,729.5h0M108.3,717.8h0M108.4,735.4h0M110.8,749.9h0M109.0,751.9h0M108.6,732.6h0M112.4,754.3h0M106.8,734.5h0M109.6,732.7h0M114.6,747.4h0M112.8,728.9h0M110.6,708.5h0M108.2,751.5h0M103.9,733.7h0M113.2,710.0h0M111.5,737.6h0M111.8,737.5h0M109.1,735.1h0M109.7,730.2h0M117.2,734.4h0M108.2,723.7h0M111.2,739.6h0M112.1,732.1h0M114.3,746.3h0M108.8,738.3h0M109.4,730.1h0M110.5,745.4h0M111.4,731.2h0M104.1,732.1h0M117.2,730.0h0M101.2,734.7h0M108.1,742.3h0M98.8,748.6h0M105.3,752.7h0M116.6,717.9h0M110.3,743.6h0M108.6,763.2h0M111.6,740.3h0M108.8,714.6h0M112.4,726.0h0M106.3,739.3h0M110.0,731.8h0M111.9,751.3h0M108.6,734.8h0M119.2,747.8h0M107.3,744.1h0M109.0,723.3h0M96.4,738.7h0M117.1,747.4h0M101.9,735.3h0M114.5,746.8h0M113.6,742.7h0M107.1,743.1h0M107.5,719.9h0M111.3,746.9h0M99.8,729.4h0M113.6,737.7h0M101.8,738.7h0M106.5,749.3h0M104.1,727.8h0M107.7,735.8h0M108.3,735.7h0M105.2,737.6h0M103.9,730.2h0M113.1,730.3h0M110.0,735.6h0M116.5,745.2h0M119.7,726.5h0M109.3,740.6h0M113.3,731.6h0M111.5,725.8h0M121.0,759.9h0M106.1,753.5h0M107.7,752.6h0M108.6,730.6h0M111.5,719.4h0M100.3,765.2h0M105.3,720.2h0M112.5,754.9h0M110.0,750.8h0M102.7,714.5h0M106.8,723.5h0M116.8,729.2h0M111.3,746.0h0M102.8,728.0h0M106.1,734.8h0M118.8,727.8h0M104.1,737.7h0M109.0,742.8h0M101.3,738.8h0M111.1,742.4h0M107.3,710.6h0M107.7,741.2h0M115.0,758.2h0M113.4,744.4h0M106.2,738.3h0M107.5,743.8h0M102.2,736.1h0M108.8,731.5h0M116.5,743.2h0M105.4,731.6h0M105.3,728.3h0M108.1,743.6h0M118.9,726.9h0M108.7,733.6h0M114.0,729.8h0M109.7,726.3h0M111.3,728.2h0M112.9,759.5h0M112.7,730.3h0M117.2,747.1h0M108.5,726.5h0M115.6,749.8h0M108.0,733.2h0M108.2,731.7h0M114.7,730.0h0M106.3,734.8h0M101.2,736.7h0M115.6,744.6h0M112.4,717.4h0M105.9,743.8h0M117.7,725.1h0M102.8,749.2h0M112.2,748.7h0M116.3,732.9h0M107.0,760.9h0M109.4,730.3h0M112.0,738.1h0M105.9,742.5h0M107.2,743.0h0M106.6,728.0h0M107.9,733.6h0M108.9,729.5h0M113.3,719.1h0M105.5,708.2h0M110.5,747.0h0M116.2,730.2h0M111.9,730.9h0M113.8,723.2h0M110.4,741.8h0M102.1,720.6h0M114.6,734.0h0M109.3,747.7h0M101.6,727.8h0M105.8,763.6h0M103.0,733.1h0M109.2,728.8h0M109.7,721.2h0M111.3,737.3h0M111.7,719.1h0M110.2,715.6h0M108.7,767.4h0M109.9,730.1h0M114.3,729.4h0M108.5,754.8h0M107.1,747.6h0M109.0,722.5h0M109.9,743.6h0M112.1,722.0h0M101.3,746.1h0M111.6,724.7h0M109.7,735.9h0M112.8,735.0h0M111.5,735.7h0M111.6,748.6h0M105.5,726.4h0M110.1,731.9h0M106.2,748.2h0M102.4,737.9h0M115.5,715.0h0M120.0,736.8h0M111.3,741.1h0M120.8,722.9h0M104.9,718.6h0M110.5,723.8h0M112.4,724.6h0M103.4,751.8h0M107.6,739.6h0M107.6,743.8h0M119.7,748.2h0M112.0,737.1h0M115.8,728.4h0M119.4,753.7h0M115.2,747.8h0M108.7,742.0h0M104.0,738.6h0M115.5,743.4h0M112.8,743.0h0M111.3,746.8h0M106.4,745.0h0M106.2,731.8h0M115.0,716.4h0M119.6,744.0h0M110.7,739.1h0M115.4,732.0h0M111.5,718.2h0M103.9,726.5h0M108.8,727.9h0M110.0,745.9h0M111.0,721.8h0M115.4,716.8h0M115.1,743.8h0M112.7,745.5h0M117.3,743.9h0M115.1,717.8h0M109.8,727.1h0M109.4,749.0h0M108.3,743.9h0M114.9,731.4h0M109.8,749.5h0M111.4,734.3h0M105.7,731.0h0M107.2,733.5h0M101.9,711.3h0M107.8,727.1h0M112.4,747.7h0M110.3,738.3h0M102.1,725.2h0M112.1,733.5h0M109.0,714.4h0M108.8,739.7h0M111.3,720.7h0M110.1,727.9h0M113.3,769.8h0M104.2,743.5h0M109.7,732.7h0M113.3,749.8h0M106.5,731.9h0M109.3,745.4h0M97.9,737.8h0M113.8,758.6h0M110.6,737.1h0M112.8,748.4h0M105.0,728.5h0M111.2,746.6h0M108.9,735.3h0M103.4,712.9h0M118.0,728.8h0M111.8,736.9h0M111.2,711.2h0M113.2,735.1h0M105.8,729.8h0M117.9,740.8h0M106.4,736.5h0M113.6,741.5h0M105.2,728.6h0M103.8,740.9h0M104.5,753.2h0M111.1,737.7h0M119.0,721.3h0M106.5,727.8h0M101.7,747.0h0M100.6,740.5h0M106.9,736.2h0M105.7,736.8h0M104.1,732.0h0M109.1,739.0h0M112.2,755.4h0M115.4,745.5h0M107.7,722.1h0M111.7,734.9h0M108.2,739.3h0M109.8,750.4h0M114.8,728.7h0M115.8,724.2h0M108.1,715.5h0M109.1,720.3h0M114.4,716.2h0M104.9,744.1h0M112.4,739.3h0M110.2,724.3h0M108.6,739.2h0M112.4,743.9h0M119.2,725.4h0M108.2,725.4h0M108.0,732.0h0M110.1,751.7h0M109.4,732.5h0M100.3,739.8h0M111.0,737.7h0M112.8,740.4h0M114.3,743.9h0M104.6,734.1h0M104.7,757.6h0M105.7,748.3h0M115.0,756.8h0M107.4,725.5h0M108.5,744.3h0M112.0,740.2h0M110.9,738.9h0M104.6,724.4h0M115.4,725.8h0M119.3,737.4h0M113.0,741.7h0M121.2,742.3h0M107.9,739.2h0M109.5,732.4h0M105.2,738.7h0M116.1,738.8h0M115.5,736.1h0M105.2,756.4h0M104.4,739.8h0M112.9,747.2h0M110.3,745.2h0M111.8,746.0h0M113.6,735.2h0M120.5,739.6h0M105.9,731.8h0M109.6,756.2h0M113.2,745.9h0M112.3,737.1h0M113.2,738.2h0M113.2,744.3h0M108.6,731.5h0M107.2,758.6h0M105.9,708.8h0M109.3,732.7h0M100.3,731.9h0M109.7,756.1h0M114.0,748.1h0M108.8,755.6h0M103.5,728.8h0M117.1,739.6h0M103.3,736.9h0M111.5,732.0h0M113.2,725.9h0M109.4,728.4h0M112.3,742.6h0M112.8,731.8h0M106.8,754.8h0M104.2,727.2h0M111.0,722.8h0M102.1,739.7h0M107.1,737.3h0M111.4,745.2h0M108.7,721.2h0M114.9,731.8h0M117.1,748.2h0M110.5,757.5h0M111.4,731.8h0M118.2,736.7h0M107.8,730.2h0M117.8,731.7h0M105.6,741.2h0M112.1,728.7h0M114.4,723.3h0M102.4,731.2h0M104.5,720.9h0M108.9,739.8h0M110.4,724.8h0M108.7,742.1h0M107.5,731.5h0M112.9,724.7h0M103.2,745.7h0M112.7,728.5h0M103.2,737.3h0M107.3,734.2h0M105.0,742.3h0M108.0,750.1h0M101.3,731.0h0M108.2,730.2h0M113.6,741.7h0M108.1,727.0h0M112.3,718.3h0M108.5,744.7h0M110.6,748.2h0M112.6,724.4h0M103.5,735.5h0M107.3,738.6h0M110.0,742.0h0M116.1,729.5h0M106.4,731.2h0M105.4,732.6h0M113.7,731.5h0M111.0,734.9h0M107.3,713.4h0M104.9,744.7h0M102.2,744.7h0M117.6,744.7h0M110.3,733.8h0M116.8,744.4h0M109.6,727.0h0M110.0,736.2h0M109.3,744.6h0M107.8,745.9h0M117.7,733.8h0M102.0,745.7h0M106.5,718.1h0M113.5,727.9h0M110.1,727.2h0M106.8,738.3h0M100.7,737.7h0M108.3,724.7h0M108.4,745.6h0M111.1,754.5h0M110.3,738.1h0M112.8,742.5h0M107.3,729.9h0M103.7,733.4h0M108.6,741.0h0M118.4,729.0h0M112.5,733.4h0M110.0,731.7h0M102.3,746.3h0M109.2,726.5h0M99.9,744.7h0M106.1,750.3h0M108.4,722.7h0M107.6,741.0h0M114.2,716.3h0M109.8,726.7h0M108.4,741.1h0M109.7,741.2h0M113.8,749.3h0M109.3,719.1h0M115.0,738.9h0M118.2,750.2h0M112.8,751.0h0M107.7,736.8h0M113.2,739.6h0M106.6,747.5h0M107.9,751.5h0M114.4,735.3h0M103.2,747.5h0M110.3,711.0h0M110.6,746.6h0M112.7,727.0h0M115.2,726.9h0M111.2,722.2h0M110.6,746.3h0M111.0,736.4h0M113.7,730.7h0M112.9,724.8h0M115.2,739.4h0M121.3,745.0h0M111.8,734.0h0M103.4,733.3h0M113.5,734.0h0M105.6,745.1h0M100.6,746.5h0M115.6,738.1h0M115.9,749.4h0M106.0,744.0h0M107.1,733.4h0M115.6,727.6h0M114.3,736.3h0M113.1,732.1h0M108.6,737.1h0M112.0,734.0h0M107.5,733.1h0M119.0,723.7h0M109.3,730.0h0M114.9,738.3h0M105.7,741.2h0M112.2,732.5h0M105.0,743.9h0M108.6,733.9h0M105.5,732.8h0M117.2,733.0h0M112.9,725.0h0M111.5,765.3h0M116.7,727.7h0M112.6,741.0h0M111.9,738.3h0M111.6,720.7h0M108.0,741.8h0M107.1,742.9h0M102.8,743.6h0M111.1,743.5h0M118.9,736.4h0M108.3,736.8h0M112.7,728.0h0M106.5,757.1h0M107.0,734.5h0M113.6,724.8h0M110.0,738.6h0M107.1,746.8h0M105.4,712.9h0M117.5,725.0h0M116.4,760.1h0M107.8,748.9h0M109.5,739.8h0M101.4,732.8h0M114.8,754.1h0M106.1,729.7h0M117.5,745.1h0M113.1,727.7h0M108.2,751.5h0M110.4,723.7h0M105.5,738.7h0M111.5,750.3h0M111.6,744.1h0M110.7,725.3h0M110.0,734.1h0M107.7,724.5h0M109.5,744.9h0M119.5,763.6h0M105.1,736.5h0M111.0,728.4h0M100.6,730.9h0M113.1,741.5h0M104.5,721.3h0M106.0,715.4h0M108.9,718.8h0M107.4,749.7h0M110.4,747.5h0M107.0,731.4h0M104.7,740.7h0M109.2,735.1h0M112.7,758.0h0M100.9,739.9h0M113.5,736.8h0M116.3,734.3h0M106.6,742.4h0M105.5,725.5h0M110.1,733.6h0M110.3,765.7h0M112.9,733.9h0M114.1,746.3h0M109.5,755.9h0M115.1,723.1h0M113.9,734.7h0M112.3,740.3h0M117.7,720.1h0M108.3,734.6h0M104.1,733.3h0M107.3,741.5h0M114.5,740.9h0M107.2,740.4h0M101.5,736.0h0M107.8,750.9h0M116.1,737.0h0M111.0,721.1h0M106.4,744.6h0M103.5,727.6h0M107.5,744.6h0M108.4,731.2h0M110.7,720.9h0M106.8,725.4h0M109.6,752.2h0M111.8,755.2h0M112.1,719.6h0M103.8,726.1h0M103.4,731.1h0M120.7,724.1h0M107.0,720.0h0M115.9,726.6h0M105.7,721.2h0M104.7,744.1h0M109.8,745.6h0M109.1,719.3h0M113.0,740.5h0M106.1,731.5h0M115.3,724.9h0M110.6,736.0h0M110.7,746.2h0M108.2,750.4h0M106.7,742.1h0M111.8,731.1h0M112.2,752.0h0M114.8,729.9h0M110.1,719.2h0M109.3,742.8h0M105.8,737.3h0M111.2,724.6h0M107.0,745.2h0M109.9,749.8h0M111.9,733.6h0M106.8,735.3h0M112.9,744.9h0M105.0,734.8h0M114.3,736.4h0M111.0,746.1h0M103.1,732.3h0M113.9,744.7h0M108.5,728.9h0M100.2,729.8h0M117.6,723.4h0M121.7,740.9h0M112.2,733.0h0M106.0,714.7h0M112.4,740.9h0M112.8,730.2h0M107.7,728.8h0M111.0,725.4h0M105.0,755.8h0M112.4,745.5h0M108.5,738.8h0M106.2,759.6h0M103.2,733.3h0M105.4,732.4h0M112.4,756.1h0M102.8,729.8h0M100.1,734.1h0M112.2,718.4h0M105.1,729.5h0M106.2,728.0h0M110.3,714.0h0M117.4,750.4h0M107.0,733.8h0M106.1,721.2h0M102.2,764.3h0M115.8,738.1h0M111.2,748.1h0M110.7,735.9h0M106.6,754.9h0M107.3,749.4h0M116.1,740.8h0M117.1,756.1h0M112.5,726.3h0M115.7,748.8h0M112.3,731.6h0M111.7,709.3h0M115.8,765.1h0M112.6,725.2h0M117.0,742.4h0M104.4,713.9h0M101.8,716.9h0M112.9,726.4h0M110.4,742.8h0M109.9,754.6h0M107.8,747.4h0M118.6,754.3h0M111.8,755.5h0M108.2,752.0h0M106.5,733.3h0M100.1,746.4h0M108.1,741.7h0M114.0,756.3h0M116.1,708.0h0M115.4,746.3h0M113.2,727.7h0M107.3,734.2h0M106.5,760.1h0M111.8,726.6h0M109.0,737.7h0M107.9,732.1h0M115.1,746.0h0M105.2,720.8h0M111.6,746.6h0M108.2,742.0h0M115.3,742.2h0M112.6,729.7h0M105.8,736.8h0M110.2,758.3h0M108.5,726.8h0M111.6,764.4h0M109.3,726.4h0M104.6,744.0h0M108.5,721.6h0M110.2,729.6h0M115.5,713.9h0M104.8,725.1h0M111.1,735.7h0M109.9,739.2h0M110.2,753.2h0M103.6,736.9h0M106.4,731.6h0M108.3,722.9h0M108.6,733.9h0M107.9,750.2h0M107.3,741.6h0M110.0,733.4h0M101.6,744.9h0M109.9,725.3h0M118.6,734.8h0M107.9,728.9h0M107.6,738.2h0M107.9,734.5h0M105.4,741.3h0M113.0,745.0h0M99.4,739.7h0M109.7,748.5h0M105.7,734.0h0M110.8,733.6h0M104.4,739.5h0M115.6,760.7h0M115.3,747.2h0M103.9,743.7h0M109.9,708.0h0M111.1,750.0h0M106.2,746.8h0M113.4,723.0h0M108.1,734.6h0M113.2,733.7h0M113.3,743.3h0M109.3,745.3h0M110.9,725.1h0M113.7,723.8h0M102.3,738.2h0M109.6,739.1h0M106.9,719.9h0M104.5,746.9h0M114.0,747.2h0M108.0,724.0h0M104.0,732.9h0M111.7,735.7h0M109.1,748.3h0M107.7,730.5h0M109.2,724.4h0M108.9,733.6h0M108.3,733.2h0M115.6,738.9h0M103.3,763.4h0M111.8,723.6h0M114.0,758.3h0M109.1,730.9h0M112.7,723.0h0M109.7,747.0h0M114.7,740.5h0M107.6,725.9h0M106.2,741.8h0M118.8,749.5h0M116.1,758.1h0M114.3,734.0h0M117.0,727.7h0M104.1,737.7h0M106.4,722.2h0M112.2,733.7h0M105.4,726.7h0M115.1,748.5h0M113.1,722.3h0M114.1,734.7h0M111.4,733.2h0M106.2,739.6h0M110.6,749.4h0M108.3,739.2h0M111.3,725.0h0M108.2,750.3h0M111.6,721.4h0M109.7,737.5h0M110.3,736.0h0M109.8,725.1h0M109.7,745.9h0M105.8,740.4h0M112.1,740.1h0M107.0,727.7h0M107.6,732.8h0M114.1,728.6h0M107.0,731.0h0M113.7,754.9h0M99.8,737.9h0M102.2,722.9h0M115.1,720.5h0M97.9,736.5h0M110.3,718.5h0M109.5,723.8h0M121.2,741.8h0M116.2,756.4h0M99.3,722.4h0M114.9,744.9h0M114.2,749.6h0M116.0,732.6h0M109.7,749.7h0M109.2,752.1h0M101.8,726.0h0M107.4,730.7h0M105.1,736.7h0M110.2,738.8h0M99.8,733.4h0M104.5,742.0h0M106.5,732.7h0M117.9,747.5h0M106.1,720.9h0M108.9,727.2h0M113.1,750.4h0M112.6,740.1h0M106.0,731.0h0M102.9,733.8h0M107.4,721.8h0M112.1,738.3h0M109.4,742.5h0M111.8,738.3h0M107.4,727.0h0M109.1,732.3h0M105.5,734.5h0M115.6,754.3h0M104.2,718.7h0M108.4,752.5h0M106.7,721.9h0M104.7,747.8h0M113.9,735.5h0M115.4,744.6h0M111.9,715.5h0M109.1,767.5h0M108.4,721.4h0M104.2,732.0h0M111.5,730.4h0M116.5,731.3h0M109.1,740.1h0M116.9,748.1h0M108.2,712.2h0M108.9,735.5h0M103.1,716.1h0M107.8,734.8h0M111.4,742.9h0M103.6,758.6h0M116.4,724.1h0M111.2,742.2h0M111.2,742.8h0M103.3,723.7h0M107.6,724.0h0M116.4,741.4h0M109.7,734.6h0M117.9,729.1h0M102.5,744.2h0M113.6,734.1h0M110.2,730.2h0M108.9,716.9h0M110.0,759.2h0M115.9,736.3h0M105.6,751.0h0M116.4,720.9h0M111.2,733.1h0M112.2,729.7h0M111.7,727.8h0M109.9,732.9h0M101.0,732.4h0M106.6,754.6h0M112.5,711.1h0M117.4,748.0h0M114.4,742.7h0M106.9,729.5h0M112.2,765.8h0M111.2,719.0h0M115.0,761.2h0M110.3,714.9h0M110.6,733.7h0M113.2,725.0h0M111.2,733.0h0M112.5,738.8h0M110.2,741.2h0M112.5,745.1h0M104.1,732.4h0M109.3,725.4h0M120.4,755.9h0M104.0,725.9h0M115.1,736.5h0M116.6,721.5h0M108.7,744.4h0M111.1,733.7h0M115.4,732.3h0M114.1,721.7h0M110.1,729.8h0M113.3,722.0h0M107.2,735.5h0M103.5,744.3h0M113.0,724.9h0M104.4,752.0h0M105.9,723.6h0M106.3,734.7h0M116.0,729.6h0M113.1,741.6h0M121.3,746.1h0M109.2,732.2h0M109.8,740.8h0M106.8,741.5h0M107.3,719.0h0M109.4,715.9h0M104.3,735.2h0M104.8,727.6h0M112.9,715.9h0M112.4,746.1h0M110.7,734.8h0M107.9,739.8h0M105.9,742.8h0M107.7,739.7h0M101.0,729.7h0M115.3,740.8h0M99.2,714.7h0M105.7,760.1h0M102.2,740.0h0M114.9,724.6h0M105.8,748.5h0M113.6,749.1h0M107.2,740.7h0M113.6,746.6h0M107.4,744.7h0M111.9,730.3h0M108.8,723.3h0M110.3,731.7h0M106.8,741.3h0M114.8,742.6h0M115.4,718.9h0M115.6,742.1h0M115.2,735.4h0M112.5,746.2h0M114.4,720.7h0M109.2,734.6h0M108.3,763.1h0M108.0,736.1h0M112.8,737.8h0M108.1,730.2h0M106.9,742.5h0M109.5,730.5h0M110.1,749.1h0M115.3,738.1h0M107.4,743.0h0M109.9,734.0h0M113.3,736.1h0M116.2,757.3h0M110.6,748.0h0M99.5,732.8h0M108.0,735.0h0M112.4,750.8h0M107.4,732.3h0M102.3,736.6h0M97.9,741.0h0M114.0,720.9h0M111.1,727.8h0M110.0,729.7h0M116.3,755.6h0M114.0,746.8h0M112.5,741.7h0M107.9,728.7h0M109.6,748.5h0M114.1,746.0h0M107.2,745.3h0M108.0,726.5h0M101.6,744.7h0M116.7,734.2h0M114.5,751.7h0M117.7,733.7h0M114.5,743.2h0M106.1,722.9h0M107.2,739.5h0M105.1,742.7h0M107.8,738.2h0M110.0,741.9h0M104.9,741.3h0M108.1,753.2h0M114.2,728.6h0M111.9,745.3h0M104.9,740.3h0M115.8,733.6h0M109.1,721.1h0M109.1,746.0h0M119.1,726.1h0M114.2,731.5h0M114.5,747.7h0M109.4,727.8h0M110.7,728.7h0M112.1,762.6h0M107.4,748.6h0M116.2,749.9h0M105.8,745.0h0M108.7,753.7h0M105.9,731.1h0M105.4,732.0h0M99.1,737.7h0M111.0,733.8h0M108.7,754.6h0M104.6,742.6h0M109.9,732.8h0M110.7,734.8h0M107.8,742.5h0M112.0,748.8h0M117.9,752.2h0M106.6,732.7h0M105.3,738.7h0M112.9,740.8h0M111.0,733.6h0M115.7,749.9h0M112.5,726.7h0M110.0,746.8h0M112.2,747.7h0M103.9,734.1h0M106.2,745.9h0M116.9,747.5h0M112.6,731.7h0M112.3,745.8h0M111.2,724.3h0M107.6,743.0h0M104.0,744.5h0M109.2,733.0h0M114.0,742.3h0M112.9,725.1h0M110.0,731.3h0M117.7,733.0h0M99.7,721.9h0M108.3,715.1h0M104.0,725.8h0M117.9,716.8h0M109.7,738.5h0M106.3,726.0h0M107.2,742.3h0M113.9,746.5h0M108.8,748.4h0M115.1,720.9h0M111.1,746.3h0M114.0,722.3h0M111.9,722.1h0M110.9,742.2h0M109.8,746.6h0M111.4,738.7h0M110.8,736.3h0M101.3,743.9h0" stroke="#8a8a8a" stroke-width="1.10" stroke-linecap="round" opacity="1.0"/>
<path d="M170.7,735.5h0M179.5,736.6h0M170.3,727.9h0M178.0,735.8h0M178.7,731.2h0M156.7,736.9h0M156.4,732.2h0M174.9,743.6h0M172.0,736.9h0M156.3,728.7h0M164.6,740.8h0M173.5,738.1h0M175.6,734.8h0M157.9,744.1h0M158.8,731.3h0M148.6,740.1h0M183.3,728.5h0M161.6,739.5h0M178.2,742.5h0M162.1,744.2h0M163.5,740.0h0M174.4,739.8h0M158.0,726.9h0M171.2,729.1h0M176.2,729.5h0M179.0,730.8h0M167.5,738.5h0M182.2,727.3h0M165.6,728.0h0M169.4,739.5h0M170.4,728.6h0M168.9,729.6h0M165.7,732.2h0M171.9,730.2h0M179.3,725.7h0M159.6,739.4h0M173.1,734.3h0M181.0,746.5h0M158.4,731.5h0M148.6,725.0h0M170.4,740.9h0M181.9,733.2h0M182.5,734.9h0M181.8,723.4h0M182.4,723.0h0M168.2,733.6h0M181.7,728.5h0M169.1,732.9h0M171.5,737.4h0M177.4,730.4h0M159.1,733.3h0M166.5,737.0h0M191.8,736.6h0M174.9,727.2h0M166.9,742.9h0M157.1,727.9h0M165.3,716.0h0M180.2,739.7h0M177.5,734.8h0M156.4,743.8h0M180.3,743.7h0M163.6,740.5h0M188.4,734.7h0M171.8,731.0h0M156.6,735.5h0M159.0,735.6h0M171.6,727.3h0M157.7,727.7h0M183.8,728.8h0M177.7,730.1h0M157.1,731.9h0M166.3,729.8h0M155.1,734.1h0M157.1,730.0h0M166.6,751.4h0M169.8,733.5h0M184.4,734.1h0M159.8,732.5h0M179.1,740.5h0M166.2,738.3h0M196.7,729.1h0M160.8,735.9h0M172.7,730.7h0M170.6,730.8h0M165.3,742.3h0M164.0,746.3h0M176.2,732.1h0M164.5,727.1h0M180.6,739.1h0M164.5,739.6h0M149.4,742.6h0M166.6,735.1h0M167.1,731.1h0M152.4,726.8h0M185.6,726.8h0M185.1,730.0h0M181.1,731.6h0M167.2,739.2h0M174.9,725.6h0M176.1,749.0h0M165.0,741.1h0M181.2,735.8h0M172.8,745.2h0M182.4,732.0h0M159.4,726.0h0M164.3,739.8h0M177.1,735.4h0M169.2,733.4h0M166.9,730.0h0M169.2,736.1h0M172.1,718.4h0M181.8,738.3h0M178.6,731.9h0M179.0,735.3h0M179.9,737.5h0M169.8,739.6h0M155.7,724.4h0M174.2,715.1h0M161.3,744.4h0M175.7,738.1h0M158.0,736.1h0M169.9,725.8h0M160.3,741.2h0M175.7,738.0h0M157.6,725.2h0M182.4,738.0h0M167.0,734.0h0M188.1,734.2h0M160.4,751.8h0M169.1,728.7h0M165.3,734.9h0M171.3,728.6h0M176.8,738.0h0M173.9,741.1h0M158.7,732.1h0M174.0,746.8h0M162.0,734.8h0M156.2,731.9h0M163.6,733.6h0M170.3,732.2h0M176.0,742.0h0M180.3,728.7h0M173.4,735.8h0M157.2,727.6h0M152.2,736.8h0M180.0,743.6h0M177.2,734.0h0M168.1,732.6h0M173.6,737.6h0M158.7,734.2h0M185.2,746.1h0M162.5,732.9h0M171.8,730.5h0M176.0,732.4h0M162.3,737.0h0M164.2,745.7h0M157.0,732.3h0M169.8,737.1h0M152.3,741.0h0M181.9,738.8h0M175.1,733.1h0M175.9,722.1h0M148.8,718.4h0M170.0,733.7h0M175.5,731.6h0M187.7,731.2h0M178.3,740.1h0M161.1,723.5h0M182.2,736.7h0M175.5,728.4h0M163.1,729.2h0M154.5,732.4h0M165.1,733.2h0M163.6,738.5h0M175.0,728.2h0M178.0,740.8h0M179.5,719.6h0M190.1,721.8h0M172.8,737.1h0M158.4,732.6h0M167.1,748.3h0M157.1,736.4h0M168.6,735.2h0M178.6,736.3h0M177.0,741.1h0M177.8,738.1h0M164.3,740.7h0M154.1,722.4h0M162.0,733.8h0M183.6,733.7h0M169.8,739.0h0M169.9,722.6h0M168.6,730.7h0M171.2,747.1h0M169.3,728.3h0M170.9,739.6h0M170.8,744.8h0M168.5,739.7h0M181.5,740.5h0M176.2,735.5h0M169.9,717.0h0M170.3,739.8h0M176.5,737.9h0M153.1,725.7h0M167.8,724.6h0M166.9,743.5h0M168.6,734.7h0M177.3,724.4h0M171.3,735.4h0M163.2,735.0h0M174.3,734.1h0M168.1,741.0h0M171.2,740.4h0M145.4,733.4h0M179.3,736.7h0M173.7,737.8h0M186.4,731.5h0M156.2,734.7h0M164.2,741.8h0M168.2,732.9h0M187.6,734.0h0M172.3,734.2h0M165.5,746.4h0M169.5,725.4h0M191.8,727.2h0M164.0,731.0h0M190.5,729.9h0M165.4,731.9h0M177.9,726.8h0M190.2,725.9h0M164.3,733.9h0M167.1,725.0h0M160.4,747.1h0M181.2,732.8h0M170.6,740.6h0M168.9,742.3h0M147.0,739.1h0M172.1,728.5h0M171.0,732.5h0M161.7,727.4h0M171.8,735.4h0M158.8,724.1h0M183.1,715.1h0M181.5,736.0h0M173.6,729.5h0M151.7,739.6h0M173.2,732.6h0M155.5,724.7h0M165.6,739.9h0M161.5,730.8h0M175.0,728.0h0M185.6,737.9h0M163.5,735.7h0M196.7,740.1h0M173.7,725.6h0M178.6,743.5h0M174.1,738.3h0M172.0,723.7h0M176.3,737.3h0M183.5,737.7h0M171.3,733.1h0M174.1,737.0h0M158.9,737.5h0M161.1,732.5h0M169.7,739.2h0M167.2,726.1h0M156.1,729.0h0M175.3,735.0h0M153.4,739.6h0M165.3,729.9h0M180.1,726.0h0M162.5,738.4h0M158.7,733.8h0M186.9,736.0h0M152.6,739.3h0M176.1,737.9h0M162.9,735.0h0M172.7,733.5h0M168.2,729.9h0M179.2,737.5h0M179.7,733.8h0M166.8,729.6h0M183.1,727.9h0M162.1,732.7h0M179.2,740.8h0M166.1,732.2h0M180.9,740.3h0M178.7,742.8h0M165.5,746.5h0M171.0,734.6h0M172.9,732.6h0M182.0,753.7h0M171.0,733.3h0M171.2,726.6h0M146.6,737.8h0M171.3,738.6h0M176.5,732.8h0M172.1,744.8h0M166.7,732.1h0M183.6,722.4h0M172.8,735.0h0M194.2,732.9h0M157.3,725.4h0M164.9,747.5h0M173.4,729.7h0M171.0,727.4h0M182.3,735.0h0M164.0,719.4h0M189.4,740.0h0M174.2,744.0h0M166.1,727.0h0M169.2,743.8h0M177.2,732.6h0M173.6,736.7h0M169.7,724.2h0M173.4,727.7h0M168.0,733.7h0M163.4,732.0h0M161.0,746.4h0M166.5,736.4h0M190.2,728.4h0M173.5,736.4h0M175.2,738.5h0M172.0,726.5h0M179.8,742.2h0M162.3,749.3h0M165.2,737.6h0M164.7,742.4h0M173.9,721.7h0M190.4,749.5h0M174.1,732.0h0M184.5,733.0h0M159.7,735.8h0M152.5,742.5h0M182.8,746.1h0M168.9,726.6h0M163.5,740.8h0M177.5,732.6h0M177.1,738.6h0M167.4,738.1h0M188.3,721.0h0M166.2,740.4h0M188.7,722.2h0M180.2,729.4h0M165.0,732.1h0M174.1,731.6h0M169.3,738.1h0M166.4,731.3h0M179.0,719.3h0M173.5,739.4h0M174.7,726.4h0M167.5,739.7h0M162.1,729.2h0M158.2,729.1h0M177.9,734.8h0M175.0,743.4h0M167.0,743.3h0M182.8,728.3h0M175.8,735.3h0M162.8,729.4h0M155.4,732.1h0M165.5,741.9h0M181.5,729.2h0M164.8,741.6h0M165.9,738.1h0M170.1,742.9h0M146.5,736.1h0M176.1,728.4h0M171.9,731.4h0M168.1,736.8h0M171.4,738.6h0M176.0,736.1h0M158.3,738.5h0M181.5,750.5h0M168.1,740.6h0M181.6,745.2h0M180.1,729.8h0M182.5,740.1h0M165.2,733.1h0M173.5,729.3h0M158.1,732.8h0M166.9,731.3h0M177.0,735.8h0M174.3,735.8h0M189.2,740.0h0M160.8,731.5h0M178.1,736.9h0M167.5,745.8h0M185.7,731.7h0M193.9,733.2h0M174.7,728.5h0M187.5,739.6h0M160.4,727.1h0M168.6,725.4h0M189.1,731.6h0M173.3,728.6h0M165.8,727.6h0M191.4,730.3h0M161.4,737.7h0M167.7,741.5h0M193.6,742.2h0M180.6,733.3h0M174.9,743.8h0M165.5,732.0h0M176.4,731.7h0M155.0,733.5h0M173.0,729.1h0M180.0,730.3h0M185.8,729.5h0M171.7,730.6h0M169.1,729.5h0M145.5,734.5h0M176.4,729.7h0M167.1,739.9h0M177.8,737.8h0M183.7,729.4h0M170.3,740.8h0M164.0,736.9h0M154.4,733.8h0M177.2,732.1h0M181.5,733.7h0M165.7,733.9h0M172.2,738.6h0M149.7,726.8h0M163.6,728.8h0M174.1,733.8h0M170.7,734.8h0M181.3,729.2h0M181.7,737.7h0M178.1,738.1h0M167.6,734.4h0M170.4,750.9h0M165.7,752.8h0M154.2,741.6h0M168.9,735.6h0M165.0,735.7h0M165.2,741.0h0M157.9,729.5h0M155.4,728.5h0M185.8,742.2h0M164.1,732.1h0M164.2,725.6h0M179.2,727.0h0M164.2,734.8h0M171.7,722.0h0M172.6,737.6h0M170.3,739.2h0M169.5,740.6h0M169.0,736.7h0M158.8,732.5h0M167.8,743.4h0M185.9,742.4h0M175.1,742.8h0M166.3,724.9h0M163.7,735.3h0M162.8,738.2h0M175.9,730.9h0M165.7,729.6h0M179.0,728.9h0M182.0,741.5h0M166.1,735.5h0M163.9,744.0h0M158.8,734.9h0M171.6,729.7h0M174.0,737.9h0M170.8,737.3h0M160.6,729.0h0M162.0,748.6h0M187.6,740.5h0M166.6,743.5h0M167.5,731.2h0M172.8,735.8h0M170.3,729.0h0M174.6,733.2h0M161.2,740.1h0M173.7,742.5h0M172.7,742.8h0M164.8,742.1h0M167.4,726.1h0M166.3,739.6h0M171.7,726.1h0M172.9,742.2h0M161.8,724.1h0M194.0,732.0h0M168.2,728.6h0M169.5,726.8h0M178.2,739.6h0M157.6,742.0h0M166.5,740.6h0M178.6,738.2h0M164.5,736.5h0M169.9,730.5h0M166.1,729.9h0M166.9,729.9h0M169.4,747.0h0M160.8,730.0h0M170.0,729.8h0M168.6,745.1h0M162.2,736.6h0M174.2,730.9h0M164.8,736.9h0M174.6,746.6h0M175.1,735.6h0M173.3,733.7h0M172.7,736.3h0M154.7,715.9h0M164.9,741.6h0M164.7,739.9h0M183.8,750.2h0M171.4,736.3h0M156.7,742.4h0M182.6,737.4h0M148.4,728.3h0M174.4,738.8h0M163.5,728.9h0M156.5,736.3h0M182.3,740.5h0M145.3,734.0h0M179.1,730.2h0M171.9,743.6h0M170.7,733.6h0M160.6,738.3h0M177.8,740.5h0M179.7,738.8h0M173.6,741.2h0M174.2,742.6h0M163.5,736.5h0M174.1,732.6h0M166.9,732.5h0M169.1,744.9h0M182.1,729.4h0M175.4,744.0h0M175.3,724.3h0M165.5,739.2h0M175.8,733.6h0M171.6,726.7h0M175.2,723.6h0M170.6,727.0h0M173.8,736.9h0M179.2,734.8h0M180.5,729.8h0M161.6,735.6h0M186.2,742.1h0M184.0,737.3h0M166.2,737.6h0M181.5,741.6h0M173.2,722.6h0M171.5,738.1h0M185.1,740.9h0M175.9,728.5h0M174.9,728.2h0M171.4,731.3h0M156.9,740.8h0M170.7,731.1h0M183.7,739.5h0M156.0,746.0h0M157.8,732.8h0M169.9,730.6h0M151.5,739.9h0M165.2,739.5h0M178.2,737.1h0M177.1,739.3h0M187.0,745.9h0M166.7,722.6h0M160.2,739.8h0M165.3,730.1h0M176.1,738.3h0M186.8,731.1h0M179.3,739.6h0M160.7,742.8h0M173.7,740.3h0M176.9,734.3h0M187.0,727.5h0M166.2,734.7h0M149.9,725.3h0M177.8,743.2h0M189.5,742.3h0M177.0,731.7h0M173.3,738.5h0M177.4,738.7h0M179.8,745.0h0M169.9,739.2h0M163.3,734.8h0M173.0,727.9h0M166.5,731.6h0M163.1,732.1h0M183.7,740.0h0M164.9,734.2h0M168.4,720.8h0M169.3,745.1h0M173.1,731.5h0M172.1,722.4h0M150.4,731.6h0M174.2,731.7h0M169.9,743.1h0M168.4,731.5h0M171.0,734.0h0M170.6,738.9h0M178.7,731.8h0M180.8,733.2h0M167.9,742.5h0M165.7,732.3h0M169.7,740.1h0M167.9,734.4h0M185.2,729.6h0M171.3,744.7h0M182.1,740.3h0M147.2,731.1h0M161.3,736.2h0M168.7,721.5h0M175.9,722.7h0M166.4,734.9h0M162.7,735.6h0M169.9,734.1h0M169.1,735.3h0M172.2,737.2h0M181.8,726.7h0M176.7,738.8h0M165.6,746.8h0M178.6,750.7h0M167.4,740.8h0M164.0,745.8h0M183.6,739.9h0M167.9,734.9h0M173.3,730.1h0M174.4,730.6h0M177.7,736.1h0M161.2,738.3h0M181.6,731.4h0M170.8,728.7h0M172.0,733.5h0M190.8,741.5h0M170.5,739.3h0M164.3,739.1h0M161.9,732.1h0M178.3,744.6h0M159.3,747.4h0M161.3,734.0h0M172.8,730.5h0M158.9,731.5h0M176.6,732.4h0M154.2,737.5h0M177.3,731.6h0M177.4,734.1h0M168.7,728.1h0M185.0,740.3h0M174.8,751.4h0M165.9,730.7h0M154.6,729.2h0M163.7,741.4h0M172.6,736.8h0M170.6,720.2h0M168.6,727.8h0M177.4,740.1h0M180.1,749.7h0M155.7,738.5h0M172.9,726.8h0M172.7,743.0h0M162.9,730.6h0M167.2,730.5h0M160.6,733.9h0M170.3,729.7h0M176.1,727.6h0M176.8,735.9h0M159.2,736.0h0M181.0,732.2h0M169.2,726.8h0M164.4,728.0h0M159.4,734.1h0M166.5,731.9h0M177.4,724.8h0M155.7,726.5h0M183.0,738.9h0M171.2,720.6h0M165.4,732.4h0M150.6,739.0h0M168.8,737.6h0M168.4,730.1h0M167.5,738.4h0M175.8,731.0h0M156.6,737.3h0M177.9,742.5h0M167.8,744.9h0M172.5,739.4h0M155.0,729.4h0M186.4,732.0h0M162.5,729.8h0M155.0,725.9h0M169.8,734.8h0M174.1,744.7h0M177.0,745.8h0M169.5,738.8h0M162.5,745.3h0M183.7,725.7h0M167.2,733.2h0M163.7,741.7h0M165.6,729.4h0M164.9,719.5h0" stroke="#222" stroke-width="0.90" stroke-linecap="round" opacity="1.0"/>
<path d="M128.4,741.8h0M149.9,732.6h0M143.1,730.7h0M140.3,734.6h0M152.5,733.7h0M147.6,746.3h0M135.3,739.9h0M148.1,733.9h0M142.7,732.3h0M144.5,732.2h0M143.0,739.2h0M174.7,750.5h0M146.5,746.1h0M150.7,721.6h0M133.7,749.9h0M134.0,739.9h0M144.6,717.8h0M130.5,737.5h0M162.0,738.0h0M141.1,742.4h0M156.1,738.7h0M148.1,734.4h0M136.0,711.4h0M144.0,748.1h0M150.7,741.8h0M152.5,724.8h0M137.7,759.4h0M155.3,743.9h0M150.4,754.2h0M164.9,740.1h0M147.4,725.2h0M140.7,721.4h0M149.3,727.3h0M137.0,743.4h0M135.8,733.9h0M141.2,739.9h0M133.6,722.3h0M133.8,742.1h0M144.7,723.0h0M141.6,741.4h0M153.1,752.9h0M135.4,745.1h0M157.9,737.7h0M145.4,757.7h0M143.4,745.8h0M139.8,735.8h0M169.9,740.6h0M139.4,739.2h0M162.9,733.5h0M146.4,760.8h0M147.3,749.2h0M136.8,737.1h0M141.5,723.1h0M144.3,760.7h0M131.1,740.7h0M126.3,721.9h0M173.0,736.5h0M156.2,726.9h0M145.6,747.5h0M131.9,736.8h0M126.6,755.2h0M128.2,725.2h0M185.9,750.2h0M123.8,733.1h0M129.3,741.2h0M146.6,728.3h0M156.2,745.5h0M132.9,733.7h0M125.3,758.0h0M125.1,755.9h0M143.4,731.4h0M172.0,747.7h0M147.1,752.8h0M146.1,742.4h0M143.6,732.5h0M138.4,760.5h0M143.5,744.8h0M129.0,746.6h0M128.0,741.6h0M137.6,754.1h0M146.7,733.7h0M158.2,737.4h0M126.5,730.5h0M172.4,729.1h0M151.5,735.1h0M141.6,723.4h0M137.3,746.3h0M159.7,712.8h0M151.7,734.6h0M145.8,745.9h0M136.9,753.6h0M137.0,730.5h0M154.5,745.0h0M150.2,749.0h0M150.7,736.5h0M152.4,721.9h0M157.2,725.2h0M149.6,734.7h0M149.2,731.5h0M169.9,710.9h0M143.0,745.1h0M142.9,742.7h0M139.0,732.1h0M138.0,746.3h0M153.1,747.8h0M129.9,745.6h0M142.8,757.3h0M140.8,728.4h0M140.5,736.8h0M145.2,740.7h0M167.0,723.8h0M161.0,754.0h0M136.8,735.0h0M155.5,743.8h0M148.5,736.2h0M145.0,745.9h0M129.8,728.7h0M156.5,728.8h0M145.3,729.1h0M151.3,734.4h0M153.7,716.7h0M147.5,745.7h0M148.3,757.9h0M151.0,736.8h0M139.3,743.5h0M132.4,735.1h0M139.2,728.4h0M126.7,732.0h0M151.3,744.7h0M142.2,728.5h0M140.1,731.3h0M156.8,749.4h0M159.2,744.1h0M141.0,750.1h0M174.2,744.9h0M147.7,758.3h0M141.5,741.6h0M154.6,746.4h0M141.7,739.3h0M132.2,714.8h0M156.0,731.7h0M130.4,760.8h0M135.6,750.7h0M136.6,744.9h0M149.9,741.8h0M151.6,747.4h0M157.9,738.4h0M139.4,745.9h0M140.2,740.4h0M144.1,742.5h0M146.9,739.6h0M123.8,752.8h0M158.9,734.8h0M125.4,736.7h0M154.7,752.9h0M139.7,749.0h0M146.8,722.5h0M134.2,730.5h0M140.1,732.4h0M128.1,722.2h0M135.7,738.6h0M133.1,735.9h0M145.7,739.8h0M133.0,745.2h0M126.6,745.4h0M124.0,745.4h0M161.3,742.4h0M129.1,740.1h0M130.8,748.8h0M150.7,747.4h0M147.4,757.4h0M130.4,738.0h0M128.9,746.0h0M154.6,754.1h0M153.5,739.5h0M136.7,732.4h0M156.5,725.2h0M155.2,756.0h0M147.0,733.9h0M134.0,743.2h0M145.3,745.0h0M154.0,739.0h0M143.7,735.7h0M144.7,757.9h0M145.8,731.0h0M136.1,735.4h0M155.1,724.5h0M150.2,745.1h0M157.7,723.7h0M139.8,750.7h0M130.6,729.7h0M134.6,742.6h0M145.3,748.2h0M134.0,719.3h0M158.8,728.2h0M143.1,727.5h0M150.9,725.0h0M128.5,755.8h0M147.5,732.0h0M147.4,747.0h0M140.4,751.9h0" stroke="#555" stroke-width="0.80" stroke-linecap="round" opacity="1.0"/>
<path d="M125.0,712.3h0M126.3,710.9h0M131.3,709.4h0M132.0,707.4h0M132.8,707.6h0M134.4,704.6h0M138.7,705.2h0M139.1,703.7h0M143.2,698.6h0M144.1,697.5h0M148.5,698.1h0M150.8,694.2h0M151.2,696.0h0M152.2,692.5h0M156.3,693.2h0M156.9,689.1h0M158.4,689.1h0M163.0,685.5h0M163.1,685.8h0M167.3,682.6h0M170.5,683.2h0M171.7,682.1h0M172.9,680.5h0M175.2,679.6h0" stroke="#777" stroke-width="0.80" stroke-linecap="round" opacity="1.0"/>
<rect x="94.80" y="706.20" width="28.40" height="67.60" fill="none" stroke="#444" stroke-width="1.2"/>
<text x="0" y="0" font-size="8.6" text-anchor="start" font-weight="normal" fill="#111" transform="translate(92.70 696.00) rotate(0) scale(0.93 1)">T Reg Negative</text>
<text x="0" y="0" font-size="8.6" text-anchor="middle" font-weight="normal" fill="#111" transform="translate(174.30 603.00) rotate(0) scale(0.93 1)">WT Pre Sort-Singlets</text>
<rect x="295.40" y="604.60" width="182.00" height="167.20" fill="none" stroke="#555" stroke-width="1"/>
<line x1="290.40" y1="734.70" x2="295.40" y2="734.70" stroke="#555" stroke-width="1.1"/>
<line x1="290.40" y1="697.50" x2="295.40" y2="697.50" stroke="#555" stroke-width="1.1"/>
<line x1="290.40" y1="658.50" x2="295.40" y2="658.50" stroke="#555" stroke-width="1.1"/>
<line x1="290.40" y1="621.40" x2="295.40" y2="621.40" stroke="#555" stroke-width="1.1"/>
<line x1="292.60" y1="723.50" x2="295.40" y2="723.50" stroke="#555" stroke-width="0.9"/>
<line x1="292.60" y1="716.95" x2="295.40" y2="716.95" stroke="#555" stroke-width="0.9"/>
<line x1="292.60" y1="712.30" x2="295.40" y2="712.30" stroke="#555" stroke-width="0.9"/>
<line x1="292.60" y1="708.70" x2="295.40" y2="708.70" stroke="#555" stroke-width="0.9"/>
<line x1="292.60" y1="705.75" x2="295.40" y2="705.75" stroke="#555" stroke-width="0.9"/>
<line x1="292.60" y1="703.26" x2="295.40" y2="703.26" stroke="#555" stroke-width="0.9"/>
<line x1="292.60" y1="701.11" x2="295.40" y2="701.11" stroke="#555" stroke-width="0.9"/>
<line x1="292.60" y1="699.20" x2="295.40" y2="699.20" stroke="#555" stroke-width="0.9"/>
<line x1="292.60" y1="685.76" x2="295.40" y2="685.76" stroke="#555" stroke-width="0.9"/>
<line x1="292.60" y1="678.89" x2="295.40" y2="678.89" stroke="#555" stroke-width="0.9"/>
<line x1="292.60" y1="674.02" x2="295.40" y2="674.02" stroke="#555" stroke-width="0.9"/>
<line x1="292.60" y1="670.24" x2="295.40" y2="670.24" stroke="#555" stroke-width="0.9"/>
<line x1="292.60" y1="667.15" x2="295.40" y2="667.15" stroke="#555" stroke-width="0.9"/>
<line x1="292.60" y1="664.54" x2="295.40" y2="664.54" stroke="#555" stroke-width="0.9"/>
<line x1="292.60" y1="662.28" x2="295.40" y2="662.28" stroke="#555" stroke-width="0.9"/>
<line x1="292.60" y1="660.28" x2="295.40" y2="660.28" stroke="#555" stroke-width="0.9"/>
<line x1="292.60" y1="647.33" x2="295.40" y2="647.33" stroke="#555" stroke-width="0.9"/>
<line x1="292.60" y1="640.80" x2="295.40" y2="640.80" stroke="#555" stroke-width="0.9"/>
<line x1="292.60" y1="636.16" x2="295.40" y2="636.16" stroke="#555" stroke-width="0.9"/>
<line x1="292.60" y1="632.57" x2="295.40" y2="632.57" stroke="#555" stroke-width="0.9"/>
<line x1="292.60" y1="629.63" x2="295.40" y2="629.63" stroke="#555" stroke-width="0.9"/>
<line x1="292.60" y1="627.15" x2="295.40" y2="627.15" stroke="#555" stroke-width="0.9"/>
<line x1="292.60" y1="625.00" x2="295.40" y2="625.00" stroke="#555" stroke-width="0.9"/>
<line x1="292.60" y1="623.10" x2="295.40" y2="623.10" stroke="#555" stroke-width="0.9"/>
<line x1="292.60" y1="610.23" x2="295.40" y2="610.23" stroke="#555" stroke-width="0.9"/>
<line x1="292.60" y1="734.70" x2="295.40" y2="734.70" stroke="#555" stroke-width="0.9"/>
<line x1="292.60" y1="737.35" x2="295.40" y2="737.35" stroke="#555" stroke-width="0.9"/>
<line x1="292.60" y1="740.00" x2="295.40" y2="740.00" stroke="#555" stroke-width="0.9"/>
<line x1="292.60" y1="742.65" x2="295.40" y2="742.65" stroke="#555" stroke-width="0.9"/>
<line x1="292.60" y1="745.30" x2="295.40" y2="745.30" stroke="#555" stroke-width="0.9"/>
<line x1="292.60" y1="747.95" x2="295.40" y2="747.95" stroke="#555" stroke-width="0.9"/>
<line x1="292.60" y1="750.60" x2="295.40" y2="750.60" stroke="#555" stroke-width="0.9"/>
<line x1="292.60" y1="753.25" x2="295.40" y2="753.25" stroke="#555" stroke-width="0.9"/>
<line x1="292.60" y1="755.90" x2="295.40" y2="755.90" stroke="#555" stroke-width="0.9"/>
<line x1="292.60" y1="758.55" x2="295.40" y2="758.55" stroke="#555" stroke-width="0.9"/>
<line x1="292.60" y1="761.20" x2="295.40" y2="761.20" stroke="#555" stroke-width="0.9"/>
<line x1="292.60" y1="763.85" x2="295.40" y2="763.85" stroke="#555" stroke-width="0.9"/>
<line x1="292.60" y1="766.50" x2="295.40" y2="766.50" stroke="#555" stroke-width="0.9"/>
<line x1="292.60" y1="769.15" x2="295.40" y2="769.15" stroke="#555" stroke-width="0.9"/>
<line x1="292.60" y1="771.80" x2="295.40" y2="771.80" stroke="#555" stroke-width="0.9"/>
<line x1="293.20" y1="734.70" x2="293.20" y2="766.80" stroke="#555" stroke-width="0.8"/>
<line x1="290.20" y1="748.40" x2="295.40" y2="748.40" stroke="#555" stroke-width="0.8"/>
<line x1="290.20" y1="749.80" x2="295.40" y2="749.80" stroke="#555" stroke-width="0.8"/>
<line x1="290.20" y1="751.40" x2="295.40" y2="751.40" stroke="#555" stroke-width="0.8"/>
<line x1="290.20" y1="752.80" x2="295.40" y2="752.80" stroke="#555" stroke-width="0.8"/>
<line x1="332.90" y1="771.80" x2="332.90" y2="776.30" stroke="#555" stroke-width="1.1"/>
<line x1="377.80" y1="771.80" x2="377.80" y2="776.30" stroke="#555" stroke-width="1.1"/>
<line x1="418.30" y1="771.80" x2="418.30" y2="776.30" stroke="#555" stroke-width="1.1"/>
<line x1="458.90" y1="771.80" x2="458.90" y2="776.30" stroke="#555" stroke-width="1.1"/>
<line x1="346.42" y1="771.80" x2="346.42" y2="774.60" stroke="#555" stroke-width="0.9"/>
<line x1="354.32" y1="771.80" x2="354.32" y2="774.60" stroke="#555" stroke-width="0.9"/>
<line x1="359.93" y1="771.80" x2="359.93" y2="774.60" stroke="#555" stroke-width="0.9"/>
<line x1="364.28" y1="771.80" x2="364.28" y2="774.60" stroke="#555" stroke-width="0.9"/>
<line x1="367.84" y1="771.80" x2="367.84" y2="774.60" stroke="#555" stroke-width="0.9"/>
<line x1="370.84" y1="771.80" x2="370.84" y2="774.60" stroke="#555" stroke-width="0.9"/>
<line x1="373.45" y1="771.80" x2="373.45" y2="774.60" stroke="#555" stroke-width="0.9"/>
<line x1="375.75" y1="771.80" x2="375.75" y2="774.60" stroke="#555" stroke-width="0.9"/>
<line x1="389.99" y1="771.80" x2="389.99" y2="774.60" stroke="#555" stroke-width="0.9"/>
<line x1="397.12" y1="771.80" x2="397.12" y2="774.60" stroke="#555" stroke-width="0.9"/>
<line x1="402.18" y1="771.80" x2="402.18" y2="774.60" stroke="#555" stroke-width="0.9"/>
<line x1="406.11" y1="771.80" x2="406.11" y2="774.60" stroke="#555" stroke-width="0.9"/>
<line x1="409.32" y1="771.80" x2="409.32" y2="774.60" stroke="#555" stroke-width="0.9"/>
<line x1="412.03" y1="771.80" x2="412.03" y2="774.60" stroke="#555" stroke-width="0.9"/>
<line x1="414.38" y1="771.80" x2="414.38" y2="774.60" stroke="#555" stroke-width="0.9"/>
<line x1="416.45" y1="771.80" x2="416.45" y2="774.60" stroke="#555" stroke-width="0.9"/>
<line x1="430.52" y1="771.80" x2="430.52" y2="774.60" stroke="#555" stroke-width="0.9"/>
<line x1="437.67" y1="771.80" x2="437.67" y2="774.60" stroke="#555" stroke-width="0.9"/>
<line x1="442.74" y1="771.80" x2="442.74" y2="774.60" stroke="#555" stroke-width="0.9"/>
<line x1="446.68" y1="771.80" x2="446.68" y2="774.60" stroke="#555" stroke-width="0.9"/>
<line x1="449.89" y1="771.80" x2="449.89" y2="774.60" stroke="#555" stroke-width="0.9"/>
<line x1="452.61" y1="771.80" x2="452.61" y2="774.60" stroke="#555" stroke-width="0.9"/>
<line x1="454.97" y1="771.80" x2="454.97" y2="774.60" stroke="#555" stroke-width="0.9"/>
<line x1="457.04" y1="771.80" x2="457.04" y2="774.60" stroke="#555" stroke-width="0.9"/>
<line x1="471.12" y1="771.80" x2="471.12" y2="774.60" stroke="#555" stroke-width="0.9"/>
<line x1="295.40" y1="771.80" x2="295.40" y2="774.60" stroke="#555" stroke-width="0.9"/>
<line x1="297.74" y1="771.80" x2="297.74" y2="774.60" stroke="#555" stroke-width="0.9"/>
<line x1="300.09" y1="771.80" x2="300.09" y2="774.60" stroke="#555" stroke-width="0.9"/>
<line x1="302.43" y1="771.80" x2="302.43" y2="774.60" stroke="#555" stroke-width="0.9"/>
<line x1="304.77" y1="771.80" x2="304.77" y2="774.60" stroke="#555" stroke-width="0.9"/>
<line x1="307.12" y1="771.80" x2="307.12" y2="774.60" stroke="#555" stroke-width="0.9"/>
<line x1="309.46" y1="771.80" x2="309.46" y2="774.60" stroke="#555" stroke-width="0.9"/>
<line x1="311.81" y1="771.80" x2="311.81" y2="774.60" stroke="#555" stroke-width="0.9"/>
<line x1="314.15" y1="771.80" x2="314.15" y2="774.60" stroke="#555" stroke-width="0.9"/>
<line x1="316.49" y1="771.80" x2="316.49" y2="774.60" stroke="#555" stroke-width="0.9"/>
<line x1="318.84" y1="771.80" x2="318.84" y2="774.60" stroke="#555" stroke-width="0.9"/>
<line x1="321.18" y1="771.80" x2="321.18" y2="774.60" stroke="#555" stroke-width="0.9"/>
<line x1="323.52" y1="771.80" x2="323.52" y2="774.60" stroke="#555" stroke-width="0.9"/>
<line x1="325.87" y1="771.80" x2="325.87" y2="774.60" stroke="#555" stroke-width="0.9"/>
<line x1="328.21" y1="771.80" x2="328.21" y2="774.60" stroke="#555" stroke-width="0.9"/>
<line x1="330.56" y1="771.80" x2="330.56" y2="774.60" stroke="#555" stroke-width="0.9"/>
<line x1="332.90" y1="771.80" x2="332.90" y2="774.60" stroke="#555" stroke-width="0.9"/>
<line x1="295.40" y1="771.80" x2="295.40" y2="776.30" stroke="#555" stroke-width="1.1"/>
<text x="281.00" y="624.14" font-size="7.6" text-anchor="middle" font-weight="normal" fill="#111">10<tspan font-size="5.3" dy="-2.8">5</tspan></text>
<text x="281.00" y="661.24" font-size="7.6" text-anchor="middle" font-weight="normal" fill="#111">10<tspan font-size="5.3" dy="-2.8">4</tspan></text>
<text x="281.00" y="700.24" font-size="7.6" text-anchor="middle" font-weight="normal" fill="#111">10<tspan font-size="5.3" dy="-2.8">3</tspan></text>
<text x="281.00" y="737.44" font-size="7.6" text-anchor="middle" font-weight="normal" fill="#111">10<tspan font-size="5.3" dy="-2.8">2</tspan></text>
<text x="281.00" y="753.34" font-size="7.6" text-anchor="middle" font-weight="normal" fill="#111">0</text>
<text x="281.00" y="776.04" font-size="7.6" text-anchor="middle" font-weight="normal" fill="#111">153</text>
<text x="294.70" y="788.24" font-size="7.6" text-anchor="middle" font-weight="normal" fill="#111">-90</text>
<text x="315.10" y="788.24" font-size="7.6" text-anchor="middle" font-weight="normal" fill="#111">0</text>
<text x="333.00" y="788.24" font-size="7.6" text-anchor="middle" font-weight="normal" fill="#111">10<tspan font-size="5.17" dy="-2.89">2</tspan></text>
<text x="373.70" y="788.24" font-size="7.6" text-anchor="middle" font-weight="normal" fill="#111">10<tspan font-size="5.17" dy="-2.89">3</tspan></text>
<text x="414.30" y="788.24" font-size="7.6" text-anchor="middle" font-weight="normal" fill="#111">10<tspan font-size="5.17" dy="-2.89">4</tspan></text>
<text x="455.50" y="788.24" font-size="7.6" text-anchor="middle" font-weight="normal" fill="#111">10<tspan font-size="5.17" dy="-2.89">5</tspan></text>
<path d="M312.2,731.7h0M316.3,732.4h0M317.8,738.1h0M315.2,719.8h0M319.6,733.1h0M317.1,738.0h0M321.7,734.8h0M326.4,740.0h0M329.2,732.1h0M313.0,723.4h0M319.8,746.3h0M326.3,744.6h0M322.7,715.9h0M316.0,739.7h0M318.0,727.9h0M315.0,735.1h0M321.1,736.3h0M310.0,743.8h0M322.5,735.3h0M316.7,733.7h0M321.7,727.6h0M316.8,746.1h0M324.4,744.4h0M320.6,738.2h0M311.9,730.8h0M312.9,732.7h0M314.8,758.3h0M313.5,749.5h0M314.5,721.6h0M318.4,742.1h0M306.1,726.0h0M316.7,738.0h0M320.6,733.8h0M314.4,732.6h0M315.4,736.4h0M312.8,716.3h0M319.8,734.9h0M313.9,730.2h0M311.9,742.2h0M316.2,726.6h0M312.5,720.8h0M316.4,719.8h0M321.0,729.6h0M313.6,738.7h0M323.9,729.4h0M315.5,714.6h0M321.5,727.7h0M318.7,732.5h0M315.2,721.2h0M325.8,740.3h0M317.1,730.8h0M319.5,746.6h0M318.1,733.3h0M315.8,732.7h0M309.9,730.0h0M313.6,709.5h0M301.8,742.6h0M313.4,744.4h0M317.2,735.6h0M311.0,723.8h0M311.1,728.6h0M318.0,734.9h0M310.5,726.0h0M315.8,721.8h0M314.5,742.4h0M309.2,716.7h0M313.2,736.8h0M307.4,753.8h0M323.5,727.5h0M317.8,734.9h0M313.2,732.6h0M315.3,727.1h0M308.3,733.2h0M310.0,736.3h0M312.9,722.4h0M317.6,730.9h0M328.4,746.6h0M313.6,743.7h0M317.0,733.4h0M310.1,732.5h0M309.8,740.4h0M306.4,746.1h0M314.6,734.5h0M306.6,734.6h0M329.2,743.7h0M320.0,753.4h0M321.6,734.8h0M314.7,727.0h0M323.6,736.2h0M319.8,731.2h0M321.4,727.5h0M316.4,729.5h0M327.9,741.4h0M317.6,738.1h0M322.5,727.8h0M311.7,745.8h0M314.4,739.0h0M318.2,731.4h0M315.2,736.1h0M308.2,734.5h0M330.1,744.2h0M315.5,741.8h0M321.2,730.4h0M325.9,743.0h0M321.0,719.5h0M321.9,730.9h0M318.1,745.5h0M317.1,727.6h0M320.2,734.0h0M311.6,730.3h0M316.0,745.4h0M316.8,731.5h0M312.2,738.7h0M315.8,740.7h0M319.1,736.2h0M319.1,748.2h0M329.4,726.4h0M326.5,743.8h0M313.1,737.7h0M307.8,726.4h0M311.2,731.8h0M315.2,725.9h0M311.1,747.7h0M310.4,721.2h0M316.9,733.7h0M320.3,742.3h0M322.5,732.9h0M320.1,731.9h0M305.4,754.9h0M327.3,728.5h0M320.9,725.5h0M306.0,745.9h0M308.1,724.3h0M311.6,747.4h0M316.8,755.2h0M320.8,732.1h0M323.9,752.2h0M320.0,736.3h0M318.3,730.4h0M324.1,728.0h0M314.1,733.9h0M316.9,736.9h0M318.8,741.3h0M315.6,726.9h0M310.2,750.1h0M320.8,740.5h0M308.0,737.9h0M317.6,720.8h0M305.4,734.7h0M315.5,732.6h0M314.3,738.0h0M321.6,731.8h0M311.9,734.0h0M325.2,729.5h0M320.7,741.9h0M318.7,735.1h0M315.6,726.8h0M315.9,730.7h0M313.3,720.6h0M317.5,740.0h0M315.3,721.1h0M316.3,740.3h0M316.9,737.0h0M321.9,741.9h0M316.6,718.3h0M319.8,755.8h0M313.9,738.6h0M317.8,723.9h0M313.9,743.4h0M321.0,745.3h0M313.9,726.5h0M318.1,716.9h0M307.0,727.1h0M314.0,730.7h0M310.3,727.0h0M313.2,748.9h0M321.6,733.6h0M318.3,730.3h0M319.2,734.5h0M315.4,741.7h0M310.4,748.0h0M321.7,723.8h0M320.5,733.4h0M319.4,728.3h0M322.6,749.7h0M315.7,718.4h0M316.3,735.2h0M311.3,754.5h0M319.6,738.7h0M319.0,729.6h0M324.2,725.8h0M319.0,744.5h0M324.2,733.9h0M309.1,737.2h0M315.6,742.2h0M308.2,725.3h0M317.2,752.6h0M315.6,737.6h0M316.0,734.7h0M312.3,753.1h0M318.6,748.6h0M310.6,722.5h0M314.7,747.3h0M320.8,731.1h0M326.1,740.7h0M318.2,733.9h0M323.0,731.3h0M321.3,729.3h0M316.6,733.1h0M316.3,722.6h0M319.4,733.1h0M316.3,713.5h0M314.9,729.5h0M319.5,744.1h0M307.5,738.7h0M310.9,736.0h0M319.1,731.1h0M314.3,732.0h0M314.1,721.4h0M319.1,729.8h0M312.9,716.9h0M310.5,735.8h0M310.7,739.0h0M317.1,735.7h0M317.7,728.7h0M309.8,760.0h0M320.5,714.3h0M319.4,740.2h0M323.9,749.2h0M313.4,730.7h0M328.7,730.6h0M321.3,726.9h0M316.7,743.3h0M312.4,742.3h0M319.2,735.2h0M305.1,750.2h0M319.8,735.4h0M316.2,714.1h0M313.4,718.7h0M307.6,733.0h0M312.7,741.9h0M311.6,742.5h0M320.0,755.7h0M317.8,755.4h0M317.9,737.0h0M318.3,728.6h0M310.6,726.7h0M315.6,727.3h0M320.2,745.7h0M313.0,743.9h0M311.6,732.2h0M319.0,720.2h0M315.9,744.4h0M317.2,731.2h0M312.7,747.6h0M315.3,735.2h0M313.0,739.7h0M312.3,742.3h0M320.7,739.1h0M321.9,743.4h0M313.7,739.5h0M324.7,727.1h0M322.2,737.5h0M312.6,735.8h0M319.0,732.9h0M314.8,738.3h0M315.6,745.3h0M309.0,735.7h0M301.6,723.8h0M322.3,734.7h0M316.4,720.7h0M314.3,732.2h0M320.5,737.1h0M317.3,736.6h0M318.0,743.4h0M317.2,719.3h0M315.9,748.9h0M326.0,741.2h0M311.7,745.2h0M320.6,740.2h0M316.8,727.8h0M313.4,747.0h0M313.0,727.6h0M307.0,724.8h0M316.6,732.2h0M314.5,736.9h0M318.7,737.1h0M309.2,743.5h0M326.4,739.0h0M319.4,726.5h0M324.6,709.4h0M305.7,733.8h0M307.2,732.1h0M307.9,710.3h0M314.3,734.1h0M310.2,726.2h0M312.5,726.5h0M323.0,742.1h0M309.8,744.3h0M318.3,709.9h0M324.2,732.5h0M320.7,737.3h0M317.0,728.7h0M320.9,732.3h0M316.0,753.1h0M313.3,740.1h0M321.6,734.2h0M314.0,735.8h0M320.3,719.2h0M314.2,737.9h0M311.8,739.5h0M316.9,732.1h0M318.2,730.6h0M325.6,726.6h0M317.0,718.5h0M321.7,750.4h0M316.0,750.7h0M321.7,742.9h0M312.5,743.0h0M323.2,745.9h0M302.8,738.3h0M313.0,747.0h0M327.6,745.0h0M310.5,739.8h0M317.5,712.5h0M310.3,733.6h0M309.6,725.7h0M313.1,741.3h0M311.6,743.2h0M312.8,705.5h0M319.3,729.3h0M311.6,745.4h0M316.9,736.5h0M321.9,744.9h0M318.0,722.2h0M323.4,727.9h0M324.4,723.4h0M312.8,740.1h0M305.9,740.3h0M319.7,747.8h0M318.2,742.8h0M318.0,743.3h0M313.5,728.5h0M318.9,737.9h0M310.3,715.3h0M317.5,736.0h0M317.4,749.0h0M310.8,734.0h0M306.9,730.6h0M316.2,740.5h0M324.3,743.7h0M322.0,716.1h0M323.3,736.0h0M311.6,744.0h0M321.1,733.3h0M315.4,729.5h0M316.8,727.6h0M324.4,739.1h0M315.3,728.1h0M321.7,754.8h0M312.5,736.6h0M313.5,735.5h0M308.5,745.0h0M317.9,728.6h0M316.3,740.6h0M321.0,744.0h0M316.6,727.1h0M316.1,714.0h0M315.0,725.4h0M317.6,726.1h0M306.5,748.6h0M323.3,753.6h0M310.1,742.9h0M327.0,730.3h0M320.8,731.0h0M325.6,731.2h0M314.3,730.7h0M323.1,741.6h0M310.1,730.6h0M312.6,743.3h0M310.6,728.5h0M313.9,727.1h0M314.5,715.9h0M324.0,728.9h0M317.7,728.9h0M318.5,733.2h0M313.0,732.1h0M310.8,723.6h0M320.1,748.3h0M315.5,737.2h0M321.0,743.8h0M322.4,738.0h0M315.5,734.4h0M319.1,716.3h0M314.7,745.9h0M324.6,725.0h0M320.4,716.1h0M309.1,761.1h0M311.2,713.2h0M309.9,737.9h0M309.7,727.8h0M314.0,741.1h0M321.4,735.0h0M316.8,741.3h0M315.0,746.5h0M315.2,734.4h0M321.8,745.6h0M320.2,734.7h0M316.9,736.9h0M321.9,741.1h0M314.6,740.0h0M311.5,729.3h0M320.8,726.2h0M316.1,722.1h0M310.8,742.9h0M312.9,730.1h0M315.0,714.5h0M315.2,736.5h0M318.4,742.6h0M316.7,726.0h0M321.2,712.7h0M326.3,716.2h0M312.2,735.7h0M320.5,734.1h0M316.4,732.7h0M312.0,732.3h0M310.3,738.7h0M313.5,761.1h0M311.0,723.9h0M320.2,747.8h0M316.7,719.7h0M320.9,734.2h0M308.2,737.0h0M316.4,727.6h0M322.6,742.4h0M314.0,738.2h0M306.9,719.6h0M317.1,734.8h0M308.7,736.9h0M315.0,736.6h0M315.0,727.0h0M313.8,716.1h0M314.8,732.3h0M322.6,735.2h0M309.9,722.1h0M314.0,739.1h0M316.2,718.3h0M320.5,751.8h0M318.7,731.1h0M319.1,736.1h0M308.5,733.1h0M307.8,734.7h0M314.9,747.4h0M320.4,730.4h0M320.6,741.4h0M314.4,712.3h0M323.6,728.8h0M310.1,740.5h0M325.6,714.0h0M323.9,728.3h0M320.4,715.8h0M322.2,734.4h0M309.3,740.7h0M317.2,726.9h0M323.8,729.8h0M320.6,733.5h0M316.9,738.2h0M312.3,756.4h0M313.9,723.5h0M312.8,734.2h0M314.7,748.5h0M316.2,720.5h0M313.5,718.9h0M311.4,726.2h0M316.0,738.9h0M320.4,728.4h0M319.6,721.8h0M314.4,729.0h0M321.5,721.8h0M318.3,729.0h0M307.8,734.6h0M311.7,743.5h0M318.8,738.3h0M313.2,730.2h0M312.3,736.4h0M316.0,728.4h0M313.9,733.2h0M310.0,709.3h0M324.0,721.0h0M318.5,729.3h0M313.0,714.3h0M309.9,745.6h0M316.0,724.1h0M311.0,741.2h0M319.1,716.7h0M311.7,718.4h0M320.5,718.1h0M312.1,743.0h0M314.4,732.7h0M317.5,738.1h0M310.3,738.1h0M314.8,716.7h0M319.5,738.6h0M322.8,747.3h0M310.0,737.9h0M322.0,727.5h0M320.5,754.2h0M321.9,716.2h0M312.9,733.2h0M314.8,731.4h0M318.9,729.8h0M325.1,735.3h0M315.5,735.1h0M315.1,756.7h0M317.7,746.5h0M320.5,736.2h0M314.9,739.1h0M312.1,744.7h0M308.7,721.5h0M317.6,731.1h0M317.6,723.5h0M312.4,745.4h0M319.1,735.2h0M321.8,728.9h0M313.8,733.6h0M317.5,731.2h0M307.3,746.1h0M316.2,727.6h0M319.7,725.4h0M311.8,744.6h0M319.3,742.7h0M314.4,713.9h0M307.1,753.1h0M325.2,729.0h0M322.0,732.0h0M320.6,721.2h0M319.0,731.0h0M315.5,733.1h0M310.7,743.5h0M319.0,749.3h0M313.1,742.3h0M314.2,737.4h0M317.7,740.6h0M327.3,749.7h0M318.5,735.8h0M316.6,751.3h0M314.1,740.7h0M313.6,746.9h0M324.0,735.7h0M312.4,730.8h0M309.5,760.7h0M320.4,742.5h0M322.9,730.8h0M322.2,736.5h0M313.8,733.2h0M322.0,728.5h0M323.4,746.2h0M308.6,726.7h0M311.6,730.7h0M312.8,733.2h0M313.3,750.4h0M312.6,734.4h0M310.5,726.0h0M313.2,732.8h0M314.7,724.7h0M316.3,738.0h0M315.0,751.1h0M306.9,742.8h0M315.4,733.2h0M319.4,739.3h0M308.5,737.2h0M324.7,735.0h0M325.8,754.1h0M320.6,716.7h0M321.9,729.9h0M316.2,737.0h0M308.1,740.5h0M317.0,741.6h0M320.7,722.3h0M314.4,744.9h0M313.5,720.1h0M314.4,756.7h0M313.3,725.4h0M315.5,739.7h0M318.5,738.5h0M322.1,731.3h0M315.0,714.7h0M315.0,749.8h0M309.5,740.5h0M311.2,731.1h0M316.5,745.3h0M315.4,755.0h0M317.5,734.4h0M308.7,735.7h0M318.5,729.0h0M314.7,719.8h0M314.5,722.5h0M323.8,755.5h0M305.9,746.2h0M317.9,734.8h0M311.6,734.3h0M316.6,731.9h0M317.9,729.2h0M315.4,714.1h0M315.5,750.2h0M314.8,731.4h0M311.3,727.7h0M311.2,727.5h0M319.2,733.6h0M316.6,733.7h0M309.3,726.3h0M323.7,734.2h0M310.5,730.7h0M315.8,752.8h0M319.1,731.9h0M324.9,720.9h0M321.7,737.5h0M315.1,741.4h0M321.2,736.1h0M316.9,731.3h0M317.7,751.9h0M312.1,748.6h0M317.7,734.4h0M314.3,741.9h0M317.1,735.4h0M313.8,744.3h0M323.3,723.0h0M318.1,739.0h0M318.2,725.9h0M320.7,718.9h0M321.7,732.8h0M308.1,730.1h0M312.5,729.0h0M314.5,743.3h0M313.6,722.6h0M310.9,734.0h0M313.7,742.9h0M317.7,726.5h0M315.7,732.9h0M325.3,739.5h0M319.0,730.3h0M317.0,741.3h0M310.1,741.7h0M314.0,723.5h0M315.8,740.4h0M311.9,718.5h0M306.3,731.2h0M317.3,732.7h0M312.5,716.0h0M302.9,739.5h0M314.8,754.7h0M322.8,730.3h0M320.0,727.2h0M316.2,728.9h0M314.6,738.5h0M305.4,746.9h0M305.2,735.3h0M321.4,731.6h0M317.5,729.3h0M316.2,738.8h0M314.0,735.6h0M320.0,732.6h0M310.3,730.5h0M322.9,716.5h0M311.5,744.1h0M321.1,734.8h0M319.7,751.3h0M313.1,737.0h0M326.0,737.5h0M319.5,733.0h0M329.2,747.4h0M311.0,730.6h0M327.4,731.6h0M314.1,743.9h0M313.9,735.9h0M316.0,742.0h0M314.9,744.0h0M311.6,745.0h0M317.2,713.3h0M319.6,733.7h0M314.4,709.7h0M326.3,733.3h0M310.8,733.5h0M328.6,741.4h0M320.7,721.8h0M317.9,744.0h0M309.2,719.5h0M311.7,735.1h0M312.0,752.6h0M323.7,733.9h0M312.9,724.9h0M314.9,732.9h0M319.0,734.2h0M312.4,744.0h0M318.8,725.7h0M326.0,735.9h0M318.0,746.2h0M314.9,731.9h0M326.3,725.2h0M317.2,721.2h0M316.8,761.0h0M316.6,722.0h0M318.5,740.2h0M309.3,750.1h0M317.5,728.2h0M321.8,735.8h0M314.2,739.5h0M319.3,748.1h0M316.1,719.2h0M313.2,762.1h0M311.0,737.6h0M316.3,750.6h0M316.7,735.9h0M318.1,713.3h0M316.1,745.6h0M319.9,741.9h0M311.0,755.1h0M311.6,741.0h0M318.8,734.1h0M313.3,721.0h0M316.5,743.2h0M319.1,757.2h0M304.6,730.9h0M316.6,737.1h0M318.0,727.3h0M308.8,723.2h0M320.4,743.1h0M316.4,722.7h0M315.1,735.7h0M319.9,737.6h0M310.3,743.3h0M314.6,724.0h0M322.6,738.2h0M309.5,750.3h0M315.7,726.0h0M317.6,746.6h0M314.4,734.8h0M316.2,723.5h0M315.2,740.3h0M313.6,723.1h0M311.8,737.3h0M308.4,728.3h0M316.6,738.0h0M323.4,749.2h0M316.6,737.9h0M313.1,731.1h0M313.6,749.7h0M314.7,742.4h0M314.8,749.7h0M318.4,749.4h0M309.5,740.5h0M315.2,709.8h0M327.2,713.8h0M309.1,730.5h0M318.6,729.2h0M308.3,738.0h0M307.5,758.3h0M315.7,732.1h0M312.0,730.9h0M316.7,727.0h0M319.1,724.0h0M324.3,744.3h0M318.8,729.5h0M320.3,729.8h0M310.1,747.8h0M310.5,737.6h0M305.2,747.4h0M313.8,735.4h0M320.3,725.2h0M311.0,746.1h0M316.1,733.1h0M324.0,732.6h0M323.6,711.3h0M311.6,737.1h0M316.6,731.4h0M326.1,727.8h0M320.4,750.8h0M304.8,743.3h0M306.6,724.7h0M315.0,731.5h0M317.9,733.6h0M316.9,724.9h0M317.4,747.8h0M317.1,725.5h0M321.6,750.8h0M308.6,726.0h0M321.5,763.6h0M313.1,733.9h0M320.7,748.2h0M328.0,727.8h0M316.0,749.2h0M308.4,732.1h0M323.3,721.9h0M323.7,755.3h0M312.3,734.9h0M318.1,738.6h0M322.9,735.5h0M310.2,741.6h0M312.9,723.7h0M315.9,741.3h0M310.4,725.7h0M317.7,745.5h0M315.0,756.0h0M318.6,751.2h0M315.7,725.9h0M322.6,739.2h0M318.6,731.1h0M319.8,719.3h0M316.3,726.0h0M313.6,740.2h0M312.4,745.1h0M325.5,730.9h0M316.6,733.5h0M314.7,738.8h0M311.3,719.7h0M312.5,720.1h0M305.9,731.0h0M319.5,737.2h0M303.5,730.9h0M314.4,728.3h0M315.2,714.5h0M319.7,736.8h0M330.7,727.0h0M310.6,739.9h0M321.4,746.4h0M311.7,749.7h0M311.7,742.4h0M314.2,734.2h0M319.3,746.0h0M322.3,729.9h0M318.7,732.8h0M320.4,725.7h0M321.1,747.0h0M315.2,751.9h0M315.1,723.7h0M314.0,742.6h0M321.8,734.8h0M316.8,732.3h0M317.8,723.7h0M317.0,749.9h0M325.2,726.5h0M317.9,731.7h0M314.7,723.3h0M319.1,738.1h0M318.7,746.3h0M325.1,721.6h0M308.6,724.5h0M312.4,726.6h0M318.0,729.0h0M316.4,745.7h0M314.7,738.0h0M326.8,740.4h0M314.7,750.8h0M308.8,726.3h0M315.4,749.6h0M317.3,714.3h0M313.7,724.0h0M307.4,729.4h0M308.9,744.6h0M314.8,748.3h0M316.2,734.8h0M326.6,735.5h0M312.5,729.0h0M317.0,736.5h0M307.9,732.2h0M312.8,743.4h0M321.4,727.7h0M317.7,747.2h0M312.6,721.5h0M320.7,740.3h0M325.1,744.1h0M321.6,729.0h0M312.3,763.7h0M313.1,730.5h0M313.9,737.0h0M326.1,728.4h0M320.4,726.0h0M316.0,741.4h0M319.6,728.5h0M319.8,752.2h0M318.9,739.5h0M314.6,733.6h0M308.3,736.9h0M306.8,728.4h0M319.8,742.4h0M308.8,724.6h0M318.4,730.8h0M314.7,743.9h0M321.7,721.4h0M311.6,750.6h0M320.7,742.7h0M318.1,741.2h0M316.9,725.6h0M309.2,749.6h0M309.1,740.5h0M314.2,728.9h0M315.8,731.2h0M313.0,750.5h0M311.7,739.5h0M304.4,730.9h0M327.9,718.0h0M311.7,731.5h0M310.0,755.8h0M319.6,730.6h0M313.8,725.1h0M316.5,743.1h0M314.9,767.5h0M319.4,738.8h0M314.0,732.4h0M314.3,741.0h0M312.1,736.8h0M323.7,742.4h0M310.2,747.2h0M320.6,720.6h0M324.8,750.3h0M311.1,721.5h0M310.0,727.1h0M322.8,740.2h0M316.0,737.2h0M309.5,751.6h0M319.6,733.9h0M312.8,750.7h0M316.1,737.1h0M310.4,739.5h0M320.0,741.1h0M306.0,727.7h0M325.6,741.3h0M319.8,737.8h0M308.4,747.7h0M328.7,725.6h0M308.3,754.0h0M315.5,727.8h0M313.9,720.1h0M323.2,760.7h0M315.4,728.7h0M313.3,719.2h0M317.0,742.5h0M322.8,743.3h0M317.9,712.7h0M315.0,741.7h0M311.0,738.1h0M322.3,732.4h0M316.9,733.1h0M323.1,725.9h0M313.2,760.7h0M317.5,730.8h0M321.7,727.3h0M317.8,734.2h0M319.1,749.7h0M312.5,718.4h0M323.2,749.4h0M318.8,738.4h0M305.6,733.2h0M313.9,730.1h0M311.5,721.0h0M321.1,729.5h0M311.3,742.8h0M327.0,727.0h0M315.8,721.4h0M319.6,732.8h0M322.2,732.6h0M308.9,720.5h0M315.1,721.7h0M328.6,753.9h0M315.8,733.6h0M314.8,730.2h0M319.9,747.8h0M313.3,728.0h0M310.3,747.1h0M316.5,738.0h0M324.1,711.5h0M312.0,738.1h0M309.2,738.9h0M318.9,729.0h0M320.3,741.1h0M323.4,745.0h0M312.4,735.6h0M311.4,724.5h0M321.7,744.1h0M323.4,731.8h0M312.0,751.5h0M312.5,732.7h0M310.8,722.1h0M313.5,749.3h0M316.2,733.8h0M326.8,726.0h0M313.2,726.2h0M312.7,725.4h0M320.6,747.9h0M307.6,748.7h0M313.4,754.5h0M317.3,755.4h0M317.9,725.8h0M320.0,722.6h0M322.8,745.3h0M305.9,724.6h0M321.2,730.0h0M314.9,726.9h0M315.4,735.8h0M317.8,732.0h0M315.3,731.8h0M309.1,733.5h0M311.9,746.6h0M307.1,731.6h0M312.9,744.0h0M312.5,732.6h0M320.9,728.2h0M321.3,739.1h0M313.4,730.0h0M316.6,741.4h0M321.3,728.4h0M319.2,736.0h0M315.7,738.7h0M317.1,744.0h0M316.9,734.3h0M325.3,732.4h0M318.7,711.0h0M316.6,729.1h0M316.1,736.5h0M314.3,734.0h0M325.3,732.6h0M310.3,731.7h0M317.6,724.3h0M316.3,744.0h0M323.6,735.4h0M320.6,729.8h0M322.7,718.6h0M315.3,726.1h0M319.5,734.0h0M316.8,741.9h0M313.9,736.6h0M307.6,743.5h0M309.5,740.7h0M313.4,732.7h0M313.6,759.5h0M316.5,723.3h0M319.8,735.4h0M323.8,732.7h0M315.1,754.2h0M321.4,745.6h0M317.6,733.5h0M312.6,730.1h0M325.3,731.0h0M318.0,726.8h0M315.3,733.1h0M327.2,741.5h0M325.3,732.5h0M329.4,731.0h0M314.0,740.5h0M313.9,738.7h0M326.7,737.9h0M315.9,744.9h0M313.6,733.6h0M316.4,738.9h0M315.1,737.7h0M311.2,736.2h0M328.8,744.3h0M308.7,743.1h0M321.6,743.0h0M321.6,746.2h0M312.8,740.2h0M312.7,725.2h0M315.8,725.1h0M310.6,731.0h0M322.2,735.4h0M312.4,730.9h0M324.5,740.3h0M314.5,731.8h0M313.3,739.2h0M316.7,753.0h0M315.8,718.3h0M319.9,741.1h0M305.6,742.0h0M320.1,727.4h0M312.9,734.0h0M321.7,721.5h0M325.8,732.8h0M311.7,725.9h0M315.2,722.5h0M309.3,728.9h0M319.7,733.7h0M315.3,732.0h0M319.9,724.8h0M316.7,736.1h0M320.0,728.0h0M310.8,754.8h0M321.5,743.1h0M318.0,740.0h0M322.9,737.9h0M318.1,746.5h0M318.5,747.3h0M319.2,724.2h0M311.3,729.6h0M315.5,747.2h0M315.3,750.1h0M317.8,743.4h0M318.2,717.4h0M319.2,721.2h0M310.5,730.1h0M326.8,721.9h0M323.4,734.6h0M321.1,750.4h0M322.1,729.1h0M309.4,727.6h0M321.0,736.3h0M308.9,743.2h0M318.0,745.3h0M310.4,744.6h0M315.7,744.3h0M320.5,723.9h0M319.0,750.3h0M312.6,727.5h0M322.7,731.1h0M312.3,717.8h0M315.2,739.6h0M320.6,725.4h0M322.2,734.0h0M316.7,733.7h0M330.9,727.2h0M314.0,737.1h0M317.9,748.3h0M317.5,721.8h0M317.6,724.9h0M326.7,733.4h0M313.9,738.3h0M321.6,737.8h0M313.6,740.6h0M318.7,718.0h0M321.1,736.0h0M324.1,722.7h0M320.2,728.1h0M317.0,728.1h0M318.8,730.9h0M317.3,722.5h0M312.4,738.9h0M316.4,721.9h0M316.1,734.7h0M315.9,746.7h0M317.5,723.7h0M314.1,733.1h0M314.7,737.5h0M321.4,723.6h0M329.9,744.9h0M309.2,722.8h0M309.0,737.3h0M312.3,723.0h0M323.1,750.5h0M316.3,750.4h0M314.4,732.9h0M314.6,747.2h0M314.9,728.7h0M318.6,731.9h0M317.8,730.2h0M308.8,748.6h0M316.4,745.3h0M308.1,733.4h0M314.4,732.0h0M312.9,731.7h0M321.0,719.0h0M313.0,743.4h0M323.3,742.8h0M314.1,740.5h0M323.4,738.0h0M319.3,744.8h0M316.4,740.2h0M310.6,747.6h0M316.5,732.9h0M319.4,744.3h0M322.0,734.5h0M319.9,735.0h0M311.5,736.0h0M318.5,732.1h0M322.5,725.5h0M323.9,734.2h0M316.6,743.7h0M316.5,741.6h0M307.6,722.1h0M328.3,721.0h0M315.1,729.3h0M306.3,733.9h0M313.5,740.1h0M320.6,714.7h0M328.8,728.4h0M318.4,736.8h0M320.3,733.3h0M315.9,734.0h0M326.6,751.6h0M322.6,722.6h0M322.3,733.0h0M316.2,741.8h0M315.2,742.5h0M319.9,744.3h0M313.6,737.1h0M311.9,733.7h0M318.3,739.5h0M329.4,717.1h0M321.1,748.1h0M320.0,728.5h0M315.2,739.0h0M309.8,727.7h0M320.4,733.3h0M322.5,744.6h0M310.7,730.3h0M315.9,741.5h0M317.7,725.8h0M314.5,737.3h0M313.0,738.4h0M316.0,729.5h0M311.2,737.5h0M314.8,738.9h0M308.0,718.6h0M314.5,728.3h0M310.5,726.6h0M325.7,734.9h0M323.2,741.4h0M316.5,740.2h0M328.0,745.9h0M323.9,739.8h0M322.9,721.1h0M311.6,737.8h0M315.1,729.6h0M323.0,742.4h0M309.4,745.7h0M314.8,738.0h0M311.7,740.4h0M316.3,740.1h0M314.5,715.7h0M311.6,734.7h0M304.4,739.5h0M308.3,750.8h0M315.1,735.6h0M315.3,755.5h0M311.6,731.4h0M317.7,726.1h0M317.8,739.3h0M324.4,724.6h0M311.8,741.6h0M315.8,746.1h0M311.6,733.1h0M316.1,747.3h0M319.0,738.2h0M316.3,749.9h0M319.4,721.7h0M309.6,746.8h0M318.6,728.7h0M318.4,753.1h0M310.9,724.4h0M308.4,739.0h0M310.1,738.4h0M316.0,743.0h0M313.0,732.1h0M322.7,746.4h0M311.8,733.5h0M308.6,725.2h0M324.3,730.4h0M314.9,737.3h0M318.7,729.6h0M317.8,730.6h0M315.4,736.8h0M305.9,737.9h0M312.5,731.7h0M311.8,730.9h0M318.5,737.8h0M311.0,737.6h0M320.6,737.9h0M322.6,756.4h0M301.1,729.3h0M316.2,741.2h0M307.5,747.3h0M321.2,724.8h0M312.3,751.8h0M323.7,723.1h0M315.6,736.5h0M320.7,728.7h0M314.3,726.4h0M308.9,750.9h0M315.1,718.3h0M316.9,718.4h0M326.2,729.1h0M319.4,747.4h0M312.4,739.9h0M320.3,734.3h0M317.6,757.2h0M319.1,730.7h0M314.8,715.9h0M317.5,738.8h0M320.2,724.6h0M316.7,744.6h0M316.3,731.2h0M314.9,738.5h0M327.3,735.1h0M317.1,735.5h0M302.9,731.4h0M320.5,723.1h0M316.5,723.9h0M321.9,735.4h0M316.0,725.1h0M320.0,736.7h0M314.7,743.8h0M315.6,743.2h0M319.3,743.2h0M318.4,743.7h0M317.3,723.2h0M321.1,745.4h0M312.5,737.9h0M313.1,744.0h0M325.2,738.1h0M311.1,735.4h0M314.7,739.6h0M313.1,730.9h0M317.2,747.7h0M308.6,747.4h0M319.6,737.0h0M322.2,711.4h0M312.0,730.2h0M317.2,723.1h0M319.1,757.8h0M317.0,736.9h0M309.5,733.1h0M321.7,718.8h0M325.3,739.3h0M325.8,739.6h0M313.4,754.4h0M313.4,722.8h0M307.2,729.7h0M317.0,728.4h0M320.0,746.9h0M314.2,732.3h0M314.3,721.1h0M323.8,738.4h0M317.5,730.2h0M320.1,711.3h0M314.4,737.4h0M308.4,723.8h0M317.2,715.9h0M314.8,737.7h0M311.9,742.8h0M318.9,706.3h0M321.9,736.3h0" stroke="#8a8a8a" stroke-width="0.90" stroke-linecap="round" opacity="1.0"/>
<path d="M347.7,723.3h0M348.4,730.9h0M352.3,736.4h0M339.5,747.8h0M341.2,735.1h0M354.3,724.4h0M354.7,737.8h0M356.9,728.6h0" stroke="#777" stroke-width="0.80" stroke-linecap="round" opacity="1.0"/>
<rect x="300.30" y="704.40" width="31.40" height="67.40" fill="none" stroke="#444" stroke-width="1.2"/>
<text x="0" y="0" font-size="8.6" text-anchor="start" font-weight="normal" fill="#111" transform="translate(301.70 695.60) rotate(0) scale(0.93 1)">T Reg Negative</text>
<text x="0" y="0" font-size="8.6" text-anchor="middle" font-weight="normal" fill="#111" transform="translate(384.00 599.80) rotate(0) scale(0.93 1)">WT Post Sort-Singlets</text>
<line x1="62.60" y1="855.40" x2="62.60" y2="1218.30" stroke="#222" stroke-width="1.5"/>
<path d="M59.95,855.90 L62.60,849.90 L65.25,855.90 Z" fill="#222"/>
<line x1="83.20" y1="1242.20" x2="254.10" y2="1242.20" stroke="#222" stroke-width="1.5"/>
<path d="M253.60,1239.55 L259.60,1242.20 L253.60,1244.85 Z" fill="#222"/>
<text x="0" y="0" font-size="9.9" text-anchor="middle" font-weight="normal" fill="#111" transform="translate(56.90 1036.50) rotate(-90) scale(0.86 1)">CD4</text>
<text x="169.00" y="1254.50" font-size="8.6" text-anchor="middle" font-weight="normal" fill="#111">FoxP3-mRFP</text>
<rect x="90.60" y="845.00" width="173.20" height="174.00" fill="none" stroke="#bcbcbc" stroke-width="1.8"/>
<line x1="86.50" y1="1007.50" x2="90.10" y2="1007.50" stroke="#111" stroke-width="1.3"/>
<line x1="86.50" y1="950.50" x2="90.10" y2="950.50" stroke="#111" stroke-width="1.3"/>
<line x1="86.50" y1="903.20" x2="90.10" y2="903.20" stroke="#111" stroke-width="1.3"/>
<line x1="86.50" y1="861.40" x2="90.10" y2="861.40" stroke="#111" stroke-width="1.3"/>
<line x1="87.90" y1="973.30" x2="90.10" y2="973.30" stroke="#111" stroke-width="0.8"/>
<line x1="87.90" y1="984.70" x2="90.10" y2="984.70" stroke="#111" stroke-width="0.8"/>
<line x1="87.90" y1="967.60" x2="90.10" y2="967.60" stroke="#111" stroke-width="0.8"/>
<line x1="87.90" y1="990.40" x2="90.10" y2="990.40" stroke="#111" stroke-width="0.8"/>
<line x1="87.90" y1="961.90" x2="90.10" y2="961.90" stroke="#111" stroke-width="0.8"/>
<line x1="87.90" y1="996.10" x2="90.10" y2="996.10" stroke="#111" stroke-width="0.8"/>
<line x1="87.90" y1="956.20" x2="90.10" y2="956.20" stroke="#111" stroke-width="0.8"/>
<line x1="87.90" y1="1001.80" x2="90.10" y2="1001.80" stroke="#111" stroke-width="0.8"/>
<line x1="87.90" y1="976.72" x2="90.10" y2="976.72" stroke="#111" stroke-width="0.8"/>
<line x1="87.90" y1="981.28" x2="90.10" y2="981.28" stroke="#111" stroke-width="0.8"/>
<line x1="87.90" y1="936.26" x2="90.10" y2="936.26" stroke="#111" stroke-width="0.8"/>
<line x1="87.90" y1="890.62" x2="90.10" y2="890.62" stroke="#111" stroke-width="0.8"/>
<line x1="87.90" y1="927.93" x2="90.10" y2="927.93" stroke="#111" stroke-width="0.8"/>
<line x1="87.90" y1="883.26" x2="90.10" y2="883.26" stroke="#111" stroke-width="0.8"/>
<line x1="87.90" y1="922.02" x2="90.10" y2="922.02" stroke="#111" stroke-width="0.8"/>
<line x1="87.90" y1="878.03" x2="90.10" y2="878.03" stroke="#111" stroke-width="0.8"/>
<line x1="87.90" y1="917.44" x2="90.10" y2="917.44" stroke="#111" stroke-width="0.8"/>
<line x1="87.90" y1="873.98" x2="90.10" y2="873.98" stroke="#111" stroke-width="0.8"/>
<line x1="87.90" y1="913.69" x2="90.10" y2="913.69" stroke="#111" stroke-width="0.8"/>
<line x1="87.90" y1="870.67" x2="90.10" y2="870.67" stroke="#111" stroke-width="0.8"/>
<line x1="87.90" y1="910.53" x2="90.10" y2="910.53" stroke="#111" stroke-width="0.8"/>
<line x1="87.90" y1="867.87" x2="90.10" y2="867.87" stroke="#111" stroke-width="0.8"/>
<line x1="87.90" y1="907.78" x2="90.10" y2="907.78" stroke="#111" stroke-width="0.8"/>
<line x1="87.90" y1="865.45" x2="90.10" y2="865.45" stroke="#111" stroke-width="0.8"/>
<line x1="87.90" y1="905.36" x2="90.10" y2="905.36" stroke="#111" stroke-width="0.8"/>
<line x1="87.90" y1="863.31" x2="90.10" y2="863.31" stroke="#111" stroke-width="0.8"/>
<rect x="87.10" y="975.80" width="3.00" height="6.40" fill="#111" stroke="none" stroke-width="1"/>
<line x1="102.20" y1="1019.50" x2="102.20" y2="1023.10" stroke="#111" stroke-width="1.3"/>
<line x1="157.80" y1="1019.50" x2="157.80" y2="1023.10" stroke="#111" stroke-width="1.3"/>
<line x1="204.70" y1="1019.50" x2="204.70" y2="1023.10" stroke="#111" stroke-width="1.3"/>
<line x1="247.00" y1="1019.50" x2="247.00" y2="1023.10" stroke="#111" stroke-width="1.3"/>
<line x1="135.56" y1="1019.50" x2="135.56" y2="1021.70" stroke="#111" stroke-width="0.8"/>
<line x1="124.44" y1="1019.50" x2="124.44" y2="1021.70" stroke="#111" stroke-width="0.8"/>
<line x1="141.12" y1="1019.50" x2="141.12" y2="1021.70" stroke="#111" stroke-width="0.8"/>
<line x1="118.88" y1="1019.50" x2="118.88" y2="1021.70" stroke="#111" stroke-width="0.8"/>
<line x1="146.68" y1="1019.50" x2="146.68" y2="1021.70" stroke="#111" stroke-width="0.8"/>
<line x1="113.32" y1="1019.50" x2="113.32" y2="1021.70" stroke="#111" stroke-width="0.8"/>
<line x1="152.24" y1="1019.50" x2="152.24" y2="1021.70" stroke="#111" stroke-width="0.8"/>
<line x1="107.76" y1="1019.50" x2="107.76" y2="1021.70" stroke="#111" stroke-width="0.8"/>
<line x1="132.22" y1="1019.50" x2="132.22" y2="1021.70" stroke="#111" stroke-width="0.8"/>
<line x1="127.78" y1="1019.50" x2="127.78" y2="1021.70" stroke="#111" stroke-width="0.8"/>
<line x1="171.92" y1="1019.50" x2="171.92" y2="1021.70" stroke="#111" stroke-width="0.8"/>
<line x1="217.43" y1="1019.50" x2="217.43" y2="1021.70" stroke="#111" stroke-width="0.8"/>
<line x1="180.18" y1="1019.50" x2="180.18" y2="1021.70" stroke="#111" stroke-width="0.8"/>
<line x1="224.88" y1="1019.50" x2="224.88" y2="1021.70" stroke="#111" stroke-width="0.8"/>
<line x1="186.04" y1="1019.50" x2="186.04" y2="1021.70" stroke="#111" stroke-width="0.8"/>
<line x1="230.17" y1="1019.50" x2="230.17" y2="1021.70" stroke="#111" stroke-width="0.8"/>
<line x1="190.58" y1="1019.50" x2="190.58" y2="1021.70" stroke="#111" stroke-width="0.8"/>
<line x1="234.27" y1="1019.50" x2="234.27" y2="1021.70" stroke="#111" stroke-width="0.8"/>
<line x1="194.30" y1="1019.50" x2="194.30" y2="1021.70" stroke="#111" stroke-width="0.8"/>
<line x1="237.62" y1="1019.50" x2="237.62" y2="1021.70" stroke="#111" stroke-width="0.8"/>
<line x1="197.44" y1="1019.50" x2="197.44" y2="1021.70" stroke="#111" stroke-width="0.8"/>
<line x1="240.45" y1="1019.50" x2="240.45" y2="1021.70" stroke="#111" stroke-width="0.8"/>
<line x1="200.15" y1="1019.50" x2="200.15" y2="1021.70" stroke="#111" stroke-width="0.8"/>
<line x1="242.90" y1="1019.50" x2="242.90" y2="1021.70" stroke="#111" stroke-width="0.8"/>
<line x1="202.55" y1="1019.50" x2="202.55" y2="1021.70" stroke="#111" stroke-width="0.8"/>
<line x1="245.06" y1="1019.50" x2="245.06" y2="1021.70" stroke="#111" stroke-width="0.8"/>
<rect x="126.50" y="1019.50" width="7.00" height="3.00" fill="#111" stroke="none" stroke-width="1"/>
<text x="0" y="0" font-size="8.3" text-anchor="end" font-weight="normal" fill="#111" transform="translate(78.30 864.79) rotate(0) scale(0.91 1)">10</text>
<text x="0" y="0" font-size="5.8100000000000005" text-anchor="start" font-weight="normal" fill="#111" transform="translate(78.50 861.80) rotate(0) scale(0.91 1)">5</text>
<text x="0" y="0" font-size="8.3" text-anchor="end" font-weight="normal" fill="#111" transform="translate(78.30 906.59) rotate(0) scale(0.91 1)">10</text>
<text x="0" y="0" font-size="5.8100000000000005" text-anchor="start" font-weight="normal" fill="#111" transform="translate(78.50 903.60) rotate(0) scale(0.91 1)">4</text>
<text x="0" y="0" font-size="8.3" text-anchor="end" font-weight="normal" fill="#111" transform="translate(78.30 953.89) rotate(0) scale(0.91 1)">10</text>
<text x="0" y="0" font-size="5.8100000000000005" text-anchor="start" font-weight="normal" fill="#111" transform="translate(78.50 950.90) rotate(0) scale(0.91 1)">3</text>
<text x="0" y="0" font-size="8.3" text-anchor="end" font-weight="normal" fill="#111" transform="translate(78.30 982.39) rotate(0) scale(0.91 1)">0</text>
<text x="0" y="0" font-size="8.3" text-anchor="end" font-weight="normal" fill="#111" transform="translate(78.30 1010.89) rotate(0) scale(0.91 1)">-10</text>
<text x="0" y="0" font-size="5.8100000000000005" text-anchor="start" font-weight="normal" fill="#111" transform="translate(78.50 1007.90) rotate(0) scale(0.91 1)">3</text>
<text x="0" y="0" font-size="8.3" text-anchor="middle" font-weight="normal" fill="#111" transform="translate(105.50 1034.49) rotate(0) scale(0.91 1)">-10<tspan font-size="5.64" dy="-3.15">3</tspan></text>
<text x="0" y="0" font-size="8.3" text-anchor="middle" font-weight="normal" fill="#111" transform="translate(133.30 1034.49) rotate(0) scale(0.91 1)">0</text>
<text x="0" y="0" font-size="8.3" text-anchor="middle" font-weight="normal" fill="#111" transform="translate(161.10 1034.49) rotate(0) scale(0.91 1)">10<tspan font-size="5.64" dy="-3.15">3</tspan></text>
<text x="0" y="0" font-size="8.3" text-anchor="middle" font-weight="normal" fill="#111" transform="translate(208.00 1034.49) rotate(0) scale(0.91 1)">10<tspan font-size="5.64" dy="-3.15">4</tspan></text>
<text x="0" y="0" font-size="8.3" text-anchor="middle" font-weight="normal" fill="#111" transform="translate(250.30 1034.49) rotate(0) scale(0.91 1)">10<tspan font-size="5.64" dy="-3.15">5</tspan></text>
<path d="M131.0,911.9h0M131.5,911.0h0M131.5,892.8h0M129.8,916.9h0M132.0,920.9h0M129.7,924.3h0M129.3,918.6h0M130.6,916.4h0M129.5,916.8h0M129.0,916.8h0M130.9,917.7h0M131.8,914.6h0M129.0,928.5h0M130.7,904.0h0M129.4,905.2h0M131.6,900.7h0M131.7,917.4h0M130.5,919.6h0M127.8,895.9h0M128.2,895.7h0M128.5,917.7h0M131.6,908.4h0M127.2,914.0h0M132.6,902.2h0M130.8,898.0h0M130.6,923.1h0M131.9,896.9h0M129.6,910.2h0M129.4,903.8h0M130.1,908.7h0M130.3,913.4h0M131.1,919.2h0M133.7,897.1h0M129.5,906.7h0M131.0,904.4h0M129.6,911.1h0M131.1,923.2h0M129.1,905.3h0M130.1,900.2h0M130.2,915.8h0M128.9,895.1h0M133.9,916.9h0M130.0,929.3h0M130.3,903.6h0M133.1,912.4h0M131.5,909.8h0M131.9,900.9h0M133.1,908.8h0M130.4,912.6h0M129.8,911.6h0M129.5,923.8h0M130.0,904.0h0M129.8,912.4h0M130.1,916.0h0M128.9,901.5h0M131.4,921.5h0M130.9,900.5h0M130.8,914.0h0M132.5,903.4h0M130.9,910.8h0M131.5,925.7h0M131.0,916.2h0M132.7,906.7h0M131.1,913.3h0M133.0,904.2h0M132.5,892.6h0M131.3,914.3h0M134.1,911.7h0M132.9,921.3h0M129.3,925.6h0M132.5,913.1h0M128.4,907.6h0M130.3,907.2h0M131.9,911.9h0M133.3,915.4h0M131.4,912.8h0M131.4,912.0h0M130.3,926.4h0M131.3,907.5h0M131.8,917.0h0M132.4,918.1h0M131.6,909.7h0M130.5,905.0h0M130.9,927.3h0M131.2,916.3h0M130.7,913.0h0M130.5,895.5h0M129.0,891.3h0M132.0,909.3h0M132.1,920.5h0M130.6,894.4h0M128.9,926.0h0M128.3,919.4h0M130.8,918.8h0M130.1,911.0h0M131.7,917.1h0M129.0,905.2h0M131.3,909.1h0M131.7,906.6h0M130.6,896.9h0M130.1,909.9h0M128.7,910.4h0M129.7,913.4h0M129.7,902.3h0M132.3,924.5h0M132.3,916.0h0M128.4,906.9h0M131.4,912.5h0M131.6,905.0h0M129.8,894.3h0M129.6,922.4h0M128.9,902.4h0M132.7,923.8h0M129.9,920.7h0M131.5,908.3h0M130.6,905.1h0M131.2,916.8h0M129.2,903.8h0M130.4,906.8h0M129.9,898.9h0M130.2,904.8h0M128.4,928.7h0M129.1,913.0h0M129.9,895.4h0M131.4,909.6h0M130.6,905.9h0M130.2,916.0h0M130.7,910.9h0M131.7,896.3h0M132.0,902.0h0M129.7,902.0h0M131.8,898.3h0M133.2,896.8h0M132.1,899.9h0M130.1,895.3h0M129.2,895.4h0M131.0,906.8h0M132.8,911.0h0M131.8,924.0h0M129.7,904.6h0M129.6,902.5h0M130.0,912.8h0M132.7,911.6h0M130.9,905.1h0M129.4,902.4h0M132.4,920.5h0M129.1,922.0h0M129.6,917.3h0M131.5,917.4h0M131.2,899.4h0M131.0,900.6h0M132.6,921.9h0M129.8,892.6h0M131.3,899.6h0M129.2,909.8h0M132.5,908.2h0M129.9,898.5h0M129.5,896.0h0M129.0,927.4h0M129.5,918.6h0M132.6,907.5h0M128.8,900.7h0M131.0,902.7h0M131.7,915.4h0M130.3,914.4h0M130.4,896.2h0M130.2,918.9h0M129.8,910.6h0M129.5,903.7h0M131.8,903.6h0M129.9,911.2h0M130.9,919.9h0M133.2,915.2h0M129.6,900.3h0M131.0,903.2h0M130.2,922.3h0M131.1,928.3h0M130.0,906.2h0M130.1,899.9h0M131.5,923.9h0M130.4,907.5h0M128.9,909.8h0M130.2,905.2h0M129.2,910.9h0M130.4,910.6h0M132.7,913.6h0M129.5,902.7h0M127.5,913.4h0M128.9,916.2h0M127.7,902.9h0M130.9,904.8h0M131.8,911.2h0M130.6,905.5h0M129.9,914.5h0M131.9,894.8h0M131.7,908.8h0M132.9,918.8h0M131.0,907.7h0M131.4,900.9h0M130.4,908.1h0M131.8,911.6h0M129.2,903.7h0M128.5,917.7h0M128.0,905.1h0M129.0,897.3h0M133.8,914.1h0M130.9,918.0h0M131.5,927.8h0M128.3,900.6h0M127.4,911.1h0M132.5,903.4h0M132.2,914.4h0M130.0,906.0h0M130.5,916.7h0M131.5,907.5h0M130.6,910.8h0M130.4,911.1h0M129.4,898.3h0M132.7,920.9h0M130.9,919.3h0M132.6,909.3h0M129.6,911.7h0M129.8,913.5h0M131.3,890.0h0M132.4,908.0h0M132.2,890.9h0M129.9,912.5h0M131.9,924.6h0M133.4,909.6h0M128.8,901.8h0M132.2,904.0h0M131.7,908.6h0M130.1,915.0h0M131.2,915.9h0M130.6,900.8h0M131.3,895.0h0M131.0,907.5h0M127.7,917.0h0M134.5,900.6h0M128.7,903.8h0M132.3,929.7h0M130.9,899.5h0M132.1,897.7h0M129.9,908.3h0M132.9,915.7h0M131.1,912.8h0M130.7,920.9h0M131.3,920.5h0M131.6,913.0h0M131.1,894.6h0M128.2,908.9h0M129.8,916.5h0M133.9,919.4h0M128.4,902.5h0M129.8,914.2h0M131.1,929.4h0M131.9,909.2h0M129.1,918.2h0M129.2,908.7h0M130.2,917.5h0M130.2,903.4h0M131.7,895.6h0M131.1,908.5h0M132.6,902.9h0M130.8,912.0h0M129.9,903.2h0M130.0,911.1h0M129.4,904.0h0M129.3,900.0h0M129.5,894.7h0M131.4,910.9h0M130.2,920.8h0M131.4,911.1h0M128.2,907.5h0M129.3,897.3h0M130.3,921.9h0M131.9,921.9h0M130.9,899.2h0M131.2,919.0h0M128.7,900.8h0M129.6,903.7h0M128.6,909.7h0M132.2,922.0h0M133.6,898.0h0M131.3,917.9h0M129.5,907.2h0M130.9,900.6h0M130.9,895.5h0M129.8,902.4h0M130.3,921.6h0M128.9,915.6h0M133.5,906.1h0M130.9,898.9h0M129.7,897.9h0M129.3,901.3h0M133.6,912.0h0M130.8,910.0h0M129.8,904.6h0M130.1,904.8h0M131.7,904.7h0M130.5,901.0h0M129.0,908.7h0M135.2,907.5h0M130.7,920.0h0M130.2,894.5h0M129.5,917.4h0M128.5,930.2h0M128.9,922.7h0M130.4,906.0h0M131.8,900.5h0M128.7,907.4h0M130.2,908.2h0M132.1,910.3h0M128.6,904.5h0M127.1,902.4h0M128.3,906.8h0M133.0,920.5h0M128.9,904.3h0M133.9,900.0h0M131.9,902.4h0M131.8,917.2h0M128.9,925.5h0M128.8,929.3h0M132.1,916.6h0M130.2,914.7h0M128.5,906.1h0M129.9,917.2h0M129.7,907.6h0M130.7,918.7h0M134.0,903.6h0M134.0,914.9h0M132.9,896.1h0M131.4,923.7h0M130.7,901.7h0M130.8,906.5h0M129.9,909.4h0M131.2,907.1h0M128.1,914.0h0M133.8,925.0h0M130.8,910.7h0M127.9,905.1h0M130.0,917.2h0M128.3,904.5h0M131.8,903.8h0M132.8,924.8h0M132.0,899.2h0M130.7,900.8h0M131.2,903.0h0M131.9,916.1h0M131.4,899.6h0M130.1,921.1h0M131.0,901.4h0M130.9,920.3h0M131.2,915.1h0M129.9,916.2h0M130.9,897.9h0M131.4,893.9h0M131.6,899.4h0M127.9,930.6h0M130.3,911.3h0M131.5,906.0h0M127.1,920.0h0M128.5,910.5h0M132.3,897.4h0M129.4,898.0h0M129.3,913.3h0M132.2,905.5h0M130.7,915.9h0M132.6,899.4h0M131.0,929.0h0M129.4,897.0h0M129.9,917.3h0M126.6,901.3h0M129.5,924.2h0M131.9,918.0h0M131.0,916.9h0M133.4,901.0h0M129.2,917.4h0M130.7,914.9h0M130.3,904.0h0M131.4,913.3h0M131.2,910.2h0M128.9,906.2h0M133.2,896.2h0M131.2,910.8h0M130.8,908.9h0M131.0,916.8h0M129.4,922.7h0M132.3,908.8h0M133.2,896.6h0M128.7,923.1h0M132.3,916.7h0M134.0,910.5h0M130.4,909.2h0M133.9,900.6h0M129.9,907.0h0M130.1,899.4h0M130.5,910.9h0M130.6,903.0h0M129.5,900.3h0M131.7,910.4h0M129.6,902.9h0M128.9,920.1h0M131.6,900.0h0M129.7,912.9h0M132.1,904.6h0M132.9,911.7h0M131.3,909.9h0M132.6,914.1h0M130.8,905.4h0M131.5,918.0h0M128.6,900.7h0M129.8,913.1h0M132.0,929.5h0M129.8,893.3h0M129.7,894.9h0M129.8,929.6h0M131.1,924.3h0M129.6,916.3h0M128.8,914.6h0M131.5,899.4h0M131.8,909.2h0M130.7,902.1h0M129.3,901.5h0M132.2,897.7h0M129.2,901.2h0M126.9,915.3h0M127.7,925.3h0M131.3,908.1h0M133.6,915.4h0M131.8,907.0h0M130.5,901.3h0M127.6,914.0h0M131.5,911.5h0M131.7,907.8h0M130.5,897.2h0M128.8,906.4h0M132.7,910.0h0M132.9,907.2h0M131.2,916.1h0M131.3,903.5h0M126.8,927.6h0M131.1,920.3h0M133.1,902.5h0M130.8,919.3h0M128.3,901.5h0M131.3,906.9h0M129.4,894.5h0M129.0,917.6h0M131.7,902.2h0M131.5,901.7h0M133.1,911.4h0M131.2,924.4h0M131.3,904.4h0M129.9,894.1h0M132.5,918.1h0M132.0,897.8h0M130.9,914.4h0M129.7,904.3h0M130.3,906.0h0M130.6,919.5h0M131.9,909.0h0M128.7,924.1h0M131.0,919.5h0M128.1,926.0h0M131.3,925.7h0M130.9,906.3h0M130.7,905.9h0M131.6,909.4h0M129.2,900.4h0M131.3,910.3h0M130.6,905.8h0M133.0,904.3h0M130.7,922.3h0M132.0,907.8h0M130.6,890.9h0M131.4,912.5h0M130.5,914.1h0M133.7,915.6h0M130.8,898.0h0M132.4,906.3h0M131.2,900.3h0M129.8,906.5h0M130.6,907.4h0M129.1,921.0h0M132.7,896.9h0M131.4,917.3h0M131.2,898.0h0M129.8,915.5h0M129.5,898.3h0M129.1,917.8h0M130.8,909.1h0M130.3,915.9h0M129.0,902.5h0M131.7,914.2h0M129.6,896.8h0M131.4,904.4h0M132.1,924.2h0M128.8,920.6h0M129.8,904.8h0M131.1,911.6h0M130.4,907.8h0M128.7,909.8h0M130.4,919.1h0M131.8,909.5h0M131.7,917.1h0M129.8,912.8h0M131.5,909.6h0M131.9,908.9h0M130.1,899.5h0M129.2,902.4h0M129.0,922.0h0M130.9,905.6h0M132.3,905.5h0M129.1,899.2h0M129.6,924.9h0M129.9,901.6h0M129.1,913.1h0M131.0,903.8h0M129.6,907.0h0M131.7,909.9h0M132.1,916.3h0M131.5,906.7h0M128.3,904.7h0M128.3,905.2h0M133.4,911.8h0M129.4,913.7h0M132.1,897.5h0M130.5,903.4h0M130.9,891.4h0M128.5,920.9h0M129.6,915.4h0M127.3,923.2h0M130.9,908.9h0M131.0,917.0h0M130.0,919.9h0M130.6,907.3h0M129.0,926.0h0M133.1,899.3h0M130.0,917.4h0M130.8,906.0h0M127.2,900.8h0M127.9,916.3h0M128.7,902.7h0M131.9,917.3h0M133.0,901.9h0M133.2,910.6h0M131.2,918.4h0M127.5,898.6h0M133.0,912.6h0M130.8,906.2h0M129.0,911.7h0M132.5,894.8h0M131.0,901.8h0M131.3,898.8h0M129.8,905.0h0M131.9,910.1h0M129.1,905.2h0M130.6,909.4h0M133.0,919.8h0M129.4,902.8h0M132.3,919.2h0M126.2,913.5h0M130.7,907.7h0M130.8,900.6h0M130.3,915.2h0M130.2,909.9h0M132.1,894.4h0M128.6,897.3h0M129.0,905.7h0M131.5,918.9h0M128.9,920.8h0M132.4,924.8h0M132.0,902.1h0M127.8,903.9h0M131.3,912.0h0M130.5,901.5h0M130.6,915.3h0M131.2,914.6h0M130.6,918.3h0M130.1,907.6h0M129.2,923.7h0M130.9,912.5h0M130.9,922.8h0M133.2,905.5h0M132.4,904.3h0M131.7,911.3h0M130.7,912.0h0M129.5,913.6h0M130.4,921.1h0M128.3,916.4h0M129.1,925.5h0M131.5,912.7h0M129.6,910.3h0M130.2,909.7h0M130.6,918.1h0M131.7,925.3h0M128.8,909.7h0M130.1,916.1h0M130.2,902.7h0M129.2,903.8h0M131.8,910.5h0M129.6,929.1h0M128.8,907.0h0M132.4,917.9h0M129.2,922.5h0M131.3,919.5h0M132.8,917.1h0M132.1,906.3h0M132.7,926.0h0M130.1,902.6h0M132.0,905.6h0M129.7,898.1h0M130.6,919.7h0M132.4,916.4h0M132.6,921.6h0M129.6,919.8h0M129.3,900.4h0M131.5,917.0h0M128.1,896.9h0M130.3,908.3h0M131.5,904.7h0M130.4,908.7h0M131.2,904.8h0M130.0,911.5h0M130.8,896.1h0M133.3,898.6h0M131.1,903.6h0M130.9,920.2h0M128.8,899.8h0M131.8,918.4h0M128.9,910.9h0M130.7,917.9h0M131.0,922.2h0M130.0,915.6h0M132.4,897.0h0M128.9,909.6h0M128.3,908.8h0M131.7,915.0h0M131.5,905.3h0M132.0,916.7h0M132.6,914.4h0M128.8,903.8h0M131.0,911.6h0M129.8,912.1h0M131.9,913.8h0M128.8,911.3h0M131.1,927.6h0M127.9,924.8h0M129.1,891.4h0M130.1,910.7h0M131.1,900.0h0M129.5,911.4h0M128.9,908.4h0M133.6,906.3h0M129.4,914.1h0M132.4,903.0h0M131.5,890.8h0M130.6,904.7h0M130.2,913.8h0M129.2,914.5h0M131.1,909.6h0M130.8,918.0h0M129.6,925.1h0M131.6,910.6h0M130.1,904.5h0M132.5,898.5h0M130.6,908.7h0M131.6,902.3h0M131.9,905.2h0M130.7,914.7h0M129.7,913.6h0M128.7,902.5h0M131.1,917.0h0M129.2,926.8h0M130.3,903.3h0M133.0,919.7h0M128.4,902.6h0M131.8,909.8h0M133.0,921.7h0M132.4,910.6h0M131.0,903.6h0M130.2,892.4h0M128.8,925.4h0M130.7,906.8h0M132.5,912.5h0M133.7,897.3h0M128.1,919.2h0M132.0,911.4h0M129.7,920.8h0M131.5,908.2h0M130.0,917.9h0M132.9,903.9h0M131.6,913.7h0M131.9,903.3h0M130.8,906.4h0M128.9,905.9h0M128.7,911.6h0M130.2,922.1h0M128.6,903.1h0M131.0,926.0h0M132.2,924.8h0M129.6,905.5h0M130.7,926.6h0M130.0,915.1h0M130.8,916.7h0M129.8,906.8h0M131.1,918.6h0M131.1,925.4h0M129.8,901.9h0M131.4,913.9h0M129.8,900.0h0M132.7,896.5h0M129.4,908.7h0M132.3,900.1h0M131.2,909.3h0M133.3,919.1h0M131.9,907.3h0M131.3,895.6h0M128.2,902.7h0M129.3,906.4h0M131.6,918.7h0M132.9,905.4h0M129.8,901.6h0" stroke="#111" stroke-width="1.00" stroke-linecap="round" opacity="1.0"/>
<path d="M160.5,924.4h0M175.2,909.5h0M169.2,909.8h0M202.3,902.7h0M187.2,901.2h0M170.7,926.2h0M175.8,900.2h0M181.3,904.8h0M167.7,910.7h0M174.7,910.1h0M178.2,903.6h0M175.4,911.2h0M191.2,910.8h0M173.7,921.4h0M176.0,912.4h0M191.4,909.1h0M172.6,915.3h0M172.8,906.3h0M162.5,910.7h0M154.6,908.0h0M160.1,913.6h0M179.2,907.7h0M166.3,901.4h0M174.4,914.3h0M166.9,922.0h0M167.4,922.4h0M172.0,928.4h0M184.6,917.7h0M186.9,906.2h0M179.2,920.5h0M167.7,923.1h0M172.7,918.2h0M185.5,908.4h0M159.9,920.5h0M196.9,915.9h0M198.2,905.7h0M184.7,914.0h0M184.8,910.6h0M201.6,909.1h0M176.6,920.7h0M162.6,902.6h0M167.6,914.0h0M174.4,915.2h0M196.8,908.3h0M158.7,922.5h0M202.7,911.1h0M196.8,910.3h0M174.9,901.4h0M178.2,903.7h0M166.8,928.1h0M180.9,925.0h0M160.1,913.8h0M153.3,905.0h0M176.5,908.4h0M176.8,913.8h0M164.5,910.3h0M189.7,904.9h0M156.5,921.4h0M162.3,895.6h0M162.7,898.7h0M147.0,907.7h0M174.2,893.7h0M175.4,909.0h0M159.4,908.1h0M172.2,916.8h0M171.7,905.8h0M180.2,913.2h0M174.3,902.9h0M171.7,915.2h0M174.5,911.0h0M170.1,908.4h0M161.8,899.2h0M168.4,907.0h0M193.9,912.2h0M189.0,903.3h0M171.1,897.0h0M170.6,907.3h0M172.1,916.1h0M184.5,902.2h0M163.5,921.9h0M189.3,917.4h0M167.5,909.6h0M182.6,910.1h0M172.5,924.7h0M201.8,896.9h0M177.5,918.9h0M171.2,911.5h0M169.2,895.9h0M176.2,919.6h0M155.2,901.9h0M161.9,900.2h0M195.4,907.7h0M171.2,906.8h0M174.2,912.4h0M176.0,907.5h0M173.7,908.6h0M185.8,931.2h0M162.5,921.5h0M192.4,898.5h0M179.5,904.7h0M174.8,901.8h0M183.6,908.7h0M148.6,906.1h0M204.6,911.5h0M173.9,906.0h0M175.7,907.6h0M175.8,930.2h0M159.3,912.0h0M180.6,898.0h0M177.8,907.1h0" stroke="#444" stroke-width="0.80" stroke-linecap="round" opacity="1.0"/>
<path d="M188.6,909.8h0M164.1,894.2h0M180.2,913.9h0M183.0,907.2h0M172.7,915.4h0M171.6,897.5h0M155.7,921.9h0M172.1,894.2h0M159.2,909.7h0M164.9,923.5h0M177.1,903.5h0M182.8,911.7h0M188.4,893.7h0M166.9,907.5h0M199.6,913.2h0M194.1,911.1h0M200.5,909.4h0M163.9,914.9h0M145.3,909.9h0M159.0,911.3h0M180.0,903.7h0M169.2,913.0h0M190.2,911.9h0M177.2,911.8h0M168.6,911.2h0M181.5,911.6h0M161.1,905.3h0M163.8,906.2h0M193.4,915.8h0M177.0,920.1h0M176.2,908.4h0M198.9,906.7h0M152.2,901.3h0M176.2,909.0h0M171.3,913.0h0M168.4,900.6h0M176.3,905.3h0M167.3,901.4h0M186.6,898.4h0M172.5,906.4h0M151.8,901.2h0M162.1,916.3h0M159.6,899.0h0M191.7,903.2h0M186.1,917.3h0M189.0,917.6h0M179.2,897.3h0M171.5,910.8h0M159.2,917.7h0M158.0,907.2h0M186.0,903.3h0M148.0,904.9h0M170.5,925.3h0M154.7,911.3h0M183.4,907.7h0M143.1,907.3h0M174.6,908.1h0M175.6,911.9h0M164.2,910.7h0M191.2,901.2h0" stroke="#333" stroke-width="0.80" stroke-linecap="round" opacity="1.0"/>
<rect x="134.80" y="886.30" width="80.30" height="48.80" fill="none" stroke="#222" stroke-width="1.2"/>
<text x="174.00" y="864.40" font-size="7.8" text-anchor="middle" font-weight="normal" fill="#111">CD4+RFP+</text>
<text x="174.00" y="873.70" font-size="7.8" text-anchor="middle" font-weight="normal" fill="#111">2.72</text>
<text x="268.30" y="864.80" font-size="7.8" text-anchor="start" font-weight="normal" fill="#111">WT</text>
<rect x="90.80" y="1047.00" width="173.40" height="173.80" fill="none" stroke="#bcbcbc" stroke-width="1.8"/>
<line x1="86.70" y1="1209.80" x2="90.30" y2="1209.80" stroke="#111" stroke-width="1.3"/>
<line x1="86.70" y1="1151.00" x2="90.30" y2="1151.00" stroke="#111" stroke-width="1.3"/>
<line x1="86.70" y1="1105.00" x2="90.30" y2="1105.00" stroke="#111" stroke-width="1.3"/>
<line x1="86.70" y1="1063.00" x2="90.30" y2="1063.00" stroke="#111" stroke-width="1.3"/>
<line x1="88.10" y1="1174.52" x2="90.30" y2="1174.52" stroke="#111" stroke-width="0.8"/>
<line x1="88.10" y1="1186.28" x2="90.30" y2="1186.28" stroke="#111" stroke-width="0.8"/>
<line x1="88.10" y1="1168.64" x2="90.30" y2="1168.64" stroke="#111" stroke-width="0.8"/>
<line x1="88.10" y1="1192.16" x2="90.30" y2="1192.16" stroke="#111" stroke-width="0.8"/>
<line x1="88.10" y1="1162.76" x2="90.30" y2="1162.76" stroke="#111" stroke-width="0.8"/>
<line x1="88.10" y1="1198.04" x2="90.30" y2="1198.04" stroke="#111" stroke-width="0.8"/>
<line x1="88.10" y1="1156.88" x2="90.30" y2="1156.88" stroke="#111" stroke-width="0.8"/>
<line x1="88.10" y1="1203.92" x2="90.30" y2="1203.92" stroke="#111" stroke-width="0.8"/>
<line x1="88.10" y1="1178.05" x2="90.30" y2="1178.05" stroke="#111" stroke-width="0.8"/>
<line x1="88.10" y1="1182.75" x2="90.30" y2="1182.75" stroke="#111" stroke-width="0.8"/>
<line x1="88.10" y1="1137.15" x2="90.30" y2="1137.15" stroke="#111" stroke-width="0.8"/>
<line x1="88.10" y1="1092.36" x2="90.30" y2="1092.36" stroke="#111" stroke-width="0.8"/>
<line x1="88.10" y1="1129.05" x2="90.30" y2="1129.05" stroke="#111" stroke-width="0.8"/>
<line x1="88.10" y1="1084.96" x2="90.30" y2="1084.96" stroke="#111" stroke-width="0.8"/>
<line x1="88.10" y1="1123.31" x2="90.30" y2="1123.31" stroke="#111" stroke-width="0.8"/>
<line x1="88.10" y1="1079.71" x2="90.30" y2="1079.71" stroke="#111" stroke-width="0.8"/>
<line x1="88.10" y1="1118.85" x2="90.30" y2="1118.85" stroke="#111" stroke-width="0.8"/>
<line x1="88.10" y1="1075.64" x2="90.30" y2="1075.64" stroke="#111" stroke-width="0.8"/>
<line x1="88.10" y1="1115.21" x2="90.30" y2="1115.21" stroke="#111" stroke-width="0.8"/>
<line x1="88.10" y1="1072.32" x2="90.30" y2="1072.32" stroke="#111" stroke-width="0.8"/>
<line x1="88.10" y1="1112.13" x2="90.30" y2="1112.13" stroke="#111" stroke-width="0.8"/>
<line x1="88.10" y1="1069.51" x2="90.30" y2="1069.51" stroke="#111" stroke-width="0.8"/>
<line x1="88.10" y1="1109.46" x2="90.30" y2="1109.46" stroke="#111" stroke-width="0.8"/>
<line x1="88.10" y1="1067.07" x2="90.30" y2="1067.07" stroke="#111" stroke-width="0.8"/>
<line x1="88.10" y1="1107.10" x2="90.30" y2="1107.10" stroke="#111" stroke-width="0.8"/>
<line x1="88.10" y1="1064.92" x2="90.30" y2="1064.92" stroke="#111" stroke-width="0.8"/>
<rect x="87.30" y="1177.20" width="3.00" height="6.40" fill="#111" stroke="none" stroke-width="1"/>
<line x1="102.20" y1="1221.30" x2="102.20" y2="1224.90" stroke="#111" stroke-width="1.3"/>
<line x1="157.80" y1="1221.30" x2="157.80" y2="1224.90" stroke="#111" stroke-width="1.3"/>
<line x1="204.70" y1="1221.30" x2="204.70" y2="1224.90" stroke="#111" stroke-width="1.3"/>
<line x1="247.00" y1="1221.30" x2="247.00" y2="1224.90" stroke="#111" stroke-width="1.3"/>
<line x1="135.56" y1="1221.30" x2="135.56" y2="1223.50" stroke="#111" stroke-width="0.8"/>
<line x1="124.44" y1="1221.30" x2="124.44" y2="1223.50" stroke="#111" stroke-width="0.8"/>
<line x1="141.12" y1="1221.30" x2="141.12" y2="1223.50" stroke="#111" stroke-width="0.8"/>
<line x1="118.88" y1="1221.30" x2="118.88" y2="1223.50" stroke="#111" stroke-width="0.8"/>
<line x1="146.68" y1="1221.30" x2="146.68" y2="1223.50" stroke="#111" stroke-width="0.8"/>
<line x1="113.32" y1="1221.30" x2="113.32" y2="1223.50" stroke="#111" stroke-width="0.8"/>
<line x1="152.24" y1="1221.30" x2="152.24" y2="1223.50" stroke="#111" stroke-width="0.8"/>
<line x1="107.76" y1="1221.30" x2="107.76" y2="1223.50" stroke="#111" stroke-width="0.8"/>
<line x1="132.22" y1="1221.30" x2="132.22" y2="1223.50" stroke="#111" stroke-width="0.8"/>
<line x1="127.78" y1="1221.30" x2="127.78" y2="1223.50" stroke="#111" stroke-width="0.8"/>
<line x1="171.92" y1="1221.30" x2="171.92" y2="1223.50" stroke="#111" stroke-width="0.8"/>
<line x1="217.43" y1="1221.30" x2="217.43" y2="1223.50" stroke="#111" stroke-width="0.8"/>
<line x1="180.18" y1="1221.30" x2="180.18" y2="1223.50" stroke="#111" stroke-width="0.8"/>
<line x1="224.88" y1="1221.30" x2="224.88" y2="1223.50" stroke="#111" stroke-width="0.8"/>
<line x1="186.04" y1="1221.30" x2="186.04" y2="1223.50" stroke="#111" stroke-width="0.8"/>
<line x1="230.17" y1="1221.30" x2="230.17" y2="1223.50" stroke="#111" stroke-width="0.8"/>
<line x1="190.58" y1="1221.30" x2="190.58" y2="1223.50" stroke="#111" stroke-width="0.8"/>
<line x1="234.27" y1="1221.30" x2="234.27" y2="1223.50" stroke="#111" stroke-width="0.8"/>
<line x1="194.30" y1="1221.30" x2="194.30" y2="1223.50" stroke="#111" stroke-width="0.8"/>
<line x1="237.62" y1="1221.30" x2="237.62" y2="1223.50" stroke="#111" stroke-width="0.8"/>
<line x1="197.44" y1="1221.30" x2="197.44" y2="1223.50" stroke="#111" stroke-width="0.8"/>
<line x1="240.45" y1="1221.30" x2="240.45" y2="1223.50" stroke="#111" stroke-width="0.8"/>
<line x1="200.15" y1="1221.30" x2="200.15" y2="1223.50" stroke="#111" stroke-width="0.8"/>
<line x1="242.90" y1="1221.30" x2="242.90" y2="1223.50" stroke="#111" stroke-width="0.8"/>
<line x1="202.55" y1="1221.30" x2="202.55" y2="1223.50" stroke="#111" stroke-width="0.8"/>
<line x1="245.06" y1="1221.30" x2="245.06" y2="1223.50" stroke="#111" stroke-width="0.8"/>
<rect x="126.50" y="1221.30" width="7.00" height="3.00" fill="#111" stroke="none" stroke-width="1"/>
<text x="0" y="0" font-size="8.3" text-anchor="end" font-weight="normal" fill="#111" transform="translate(78.30 1066.39) rotate(0) scale(0.91 1)">10</text>
<text x="0" y="0" font-size="5.8100000000000005" text-anchor="start" font-weight="normal" fill="#111" transform="translate(78.50 1063.40) rotate(0) scale(0.91 1)">5</text>
<text x="0" y="0" font-size="8.3" text-anchor="end" font-weight="normal" fill="#111" transform="translate(78.30 1108.39) rotate(0) scale(0.91 1)">10</text>
<text x="0" y="0" font-size="5.8100000000000005" text-anchor="start" font-weight="normal" fill="#111" transform="translate(78.50 1105.40) rotate(0) scale(0.91 1)">4</text>
<text x="0" y="0" font-size="8.3" text-anchor="end" font-weight="normal" fill="#111" transform="translate(78.30 1154.39) rotate(0) scale(0.91 1)">10</text>
<text x="0" y="0" font-size="5.8100000000000005" text-anchor="start" font-weight="normal" fill="#111" transform="translate(78.50 1151.40) rotate(0) scale(0.91 1)">3</text>
<text x="0" y="0" font-size="8.3" text-anchor="end" font-weight="normal" fill="#111" transform="translate(78.30 1183.79) rotate(0) scale(0.91 1)">0</text>
<text x="0" y="0" font-size="8.3" text-anchor="end" font-weight="normal" fill="#111" transform="translate(78.30 1213.19) rotate(0) scale(0.91 1)">-10</text>
<text x="0" y="0" font-size="5.8100000000000005" text-anchor="start" font-weight="normal" fill="#111" transform="translate(78.50 1210.20) rotate(0) scale(0.91 1)">3</text>
<text x="0" y="0" font-size="8.3" text-anchor="middle" font-weight="normal" fill="#111" transform="translate(105.50 1236.79) rotate(0) scale(0.91 1)">-10<tspan font-size="5.64" dy="-3.15">3</tspan></text>
<text x="0" y="0" font-size="8.3" text-anchor="middle" font-weight="normal" fill="#111" transform="translate(133.30 1236.79) rotate(0) scale(0.91 1)">0</text>
<text x="0" y="0" font-size="8.3" text-anchor="middle" font-weight="normal" fill="#111" transform="translate(161.10 1236.79) rotate(0) scale(0.91 1)">10<tspan font-size="5.64" dy="-3.15">3</tspan></text>
<text x="0" y="0" font-size="8.3" text-anchor="middle" font-weight="normal" fill="#111" transform="translate(208.00 1236.79) rotate(0) scale(0.91 1)">10<tspan font-size="5.64" dy="-3.15">4</tspan></text>
<text x="0" y="0" font-size="8.3" text-anchor="middle" font-weight="normal" fill="#111" transform="translate(250.30 1236.79) rotate(0) scale(0.91 1)">10<tspan font-size="5.64" dy="-3.15">5</tspan></text>
<path d="M132.0,1100.0h0M131.0,1077.7h0M130.6,1083.4h0M133.4,1091.6h0M132.1,1097.1h0M127.1,1099.4h0M128.4,1116.7h0M130.0,1095.7h0M130.5,1088.0h0M129.1,1103.2h0M130.4,1101.3h0M129.9,1105.2h0M127.8,1098.1h0M131.1,1112.4h0M131.1,1106.5h0M132.5,1116.9h0M130.6,1116.1h0M129.4,1100.2h0M130.3,1089.6h0M132.4,1107.2h0M130.1,1088.9h0M132.1,1102.0h0M130.4,1087.5h0M129.8,1093.4h0M131.5,1085.2h0M131.5,1111.7h0M132.6,1088.6h0M131.0,1091.5h0M132.8,1102.7h0M133.0,1095.4h0M131.0,1098.9h0M131.3,1105.6h0M131.5,1105.6h0M132.7,1097.9h0M132.3,1098.8h0M130.6,1099.2h0M131.7,1098.5h0M131.6,1088.1h0M133.1,1103.9h0M130.8,1091.8h0M130.7,1086.1h0M131.0,1099.6h0M132.4,1098.5h0M130.6,1102.5h0M132.8,1109.1h0M131.8,1104.2h0M130.7,1095.3h0M132.8,1093.7h0M132.6,1111.4h0M131.9,1102.8h0M130.0,1103.6h0M131.3,1101.2h0M129.4,1100.0h0M131.3,1089.2h0M132.5,1108.4h0M130.6,1109.5h0M126.7,1093.4h0M131.4,1107.1h0M131.0,1102.0h0M132.9,1090.9h0M133.1,1085.5h0M129.9,1093.2h0M129.4,1096.8h0M130.3,1087.3h0M131.3,1081.1h0M131.6,1096.2h0M130.4,1079.3h0M130.7,1107.2h0M130.1,1107.5h0M130.1,1107.6h0M127.9,1100.4h0M133.1,1081.5h0M130.7,1105.2h0M130.4,1101.4h0M130.8,1112.7h0M131.0,1103.1h0M132.1,1085.4h0M130.7,1098.2h0M131.6,1110.1h0M129.0,1111.6h0M127.6,1107.6h0M129.4,1121.4h0M132.0,1090.3h0M132.7,1105.2h0M132.1,1093.4h0M129.2,1107.1h0M131.8,1074.5h0M132.3,1113.8h0M130.9,1098.1h0M130.4,1074.7h0M131.2,1087.0h0M131.9,1091.0h0M135.0,1095.8h0M131.7,1100.2h0M128.7,1106.7h0M128.8,1087.9h0M133.3,1085.9h0M130.4,1094.1h0M132.1,1117.2h0M130.9,1096.6h0M129.2,1100.3h0M131.7,1110.6h0M132.1,1087.3h0M129.8,1102.5h0M129.2,1089.8h0M130.9,1096.9h0M130.8,1114.4h0M129.0,1083.1h0M129.8,1107.8h0M130.4,1105.4h0M130.4,1087.1h0M129.3,1116.3h0M132.1,1103.6h0M131.4,1098.7h0M133.1,1113.6h0M130.2,1109.9h0M131.4,1098.4h0M130.3,1090.2h0M129.5,1092.2h0M129.6,1094.3h0M130.3,1103.2h0M131.2,1079.0h0M132.9,1106.9h0M130.7,1095.4h0M133.6,1124.0h0M130.3,1089.0h0M130.9,1104.8h0M129.8,1099.2h0M131.6,1098.7h0M132.8,1089.2h0M130.4,1098.9h0M129.6,1100.8h0M133.2,1106.0h0M130.7,1121.5h0M131.5,1106.3h0M129.4,1097.6h0M131.2,1092.5h0M130.7,1096.0h0M131.4,1116.0h0M130.2,1097.5h0M128.8,1102.2h0M129.0,1088.0h0M132.9,1103.3h0M130.5,1083.4h0M131.4,1098.4h0M130.4,1087.9h0M128.9,1090.8h0M131.5,1099.1h0M128.9,1099.3h0M132.9,1107.6h0M131.7,1100.3h0M129.6,1099.0h0M133.5,1109.3h0M128.8,1093.6h0M129.4,1093.5h0M133.0,1097.5h0M131.7,1103.4h0M129.7,1114.2h0M130.4,1106.8h0M132.6,1103.7h0M129.6,1111.7h0M130.3,1091.5h0M130.9,1109.7h0M131.9,1110.9h0M129.9,1085.6h0M130.4,1111.0h0M129.0,1091.7h0M130.6,1118.4h0M132.0,1090.6h0M129.4,1084.0h0M129.2,1104.8h0M132.5,1100.3h0M127.5,1085.8h0M128.6,1083.3h0M128.9,1087.7h0M126.6,1078.6h0M133.1,1084.2h0M130.9,1101.2h0M129.0,1088.9h0M131.5,1093.0h0M133.1,1108.4h0M132.4,1101.7h0M131.8,1088.1h0M129.8,1103.3h0M131.5,1098.8h0M128.5,1095.3h0M129.5,1090.8h0M130.0,1091.0h0M131.5,1113.0h0M134.0,1110.0h0M131.7,1105.6h0M129.9,1097.5h0M132.7,1082.9h0M128.8,1094.2h0M129.3,1090.1h0M129.9,1107.2h0M127.5,1091.7h0M130.3,1079.0h0M131.2,1109.9h0M129.8,1096.3h0M130.0,1111.3h0M127.4,1109.0h0M131.5,1090.8h0M131.0,1101.2h0M130.3,1108.4h0M129.4,1098.2h0M131.2,1077.9h0M131.7,1097.7h0M129.5,1107.3h0M128.3,1101.7h0M129.9,1122.3h0M130.3,1099.8h0M129.9,1119.7h0M131.1,1100.0h0M131.3,1110.7h0M132.2,1098.2h0M130.5,1099.1h0M129.7,1106.3h0M129.8,1081.0h0M128.5,1090.7h0M130.0,1113.1h0M131.7,1107.7h0M130.2,1093.6h0M129.8,1096.1h0M128.9,1100.5h0M129.7,1092.7h0M130.8,1096.3h0M130.6,1099.7h0M131.4,1101.2h0M129.3,1095.7h0M131.0,1108.7h0M134.3,1105.5h0M133.1,1098.1h0M129.5,1091.2h0M129.2,1104.7h0M130.6,1093.0h0M132.5,1097.1h0M129.7,1081.0h0M131.6,1100.1h0M131.2,1106.4h0M131.6,1111.7h0M131.3,1105.6h0M131.5,1101.3h0M132.8,1075.4h0M130.3,1099.6h0M133.1,1094.4h0M128.8,1100.2h0M129.5,1101.4h0M131.4,1105.5h0M132.4,1091.8h0M130.3,1105.2h0M130.0,1112.5h0M129.1,1086.3h0M129.6,1114.4h0M131.8,1101.1h0M130.9,1111.3h0M130.0,1107.4h0M130.9,1091.3h0M131.3,1091.7h0M132.2,1091.2h0M131.7,1113.2h0M131.1,1089.2h0M129.8,1094.7h0M125.4,1085.7h0M130.3,1086.6h0M128.3,1105.4h0M129.3,1109.6h0M131.5,1102.4h0M131.4,1102.8h0M131.5,1086.9h0M129.6,1105.1h0M129.3,1117.6h0M131.4,1088.9h0M131.1,1104.9h0M130.2,1119.2h0M132.1,1120.5h0M129.9,1107.3h0M131.2,1085.2h0M129.1,1088.2h0M129.2,1103.2h0M127.2,1086.3h0M130.2,1086.9h0M130.8,1094.9h0M131.5,1078.3h0M130.8,1101.9h0M129.9,1106.1h0M129.6,1086.4h0M131.0,1080.0h0M132.5,1101.1h0M132.7,1090.2h0M131.1,1115.3h0M132.0,1099.1h0M130.2,1085.8h0M130.9,1096.1h0M129.9,1114.5h0M129.7,1121.6h0M134.7,1081.1h0M130.4,1095.0h0M129.2,1096.2h0M130.9,1106.6h0M128.7,1112.7h0M131.8,1098.6h0M129.8,1109.3h0M128.9,1092.4h0M132.6,1098.0h0M127.7,1103.6h0M129.7,1074.1h0M129.8,1099.5h0M129.8,1115.7h0M133.6,1104.8h0M130.9,1113.9h0M131.3,1107.6h0M131.1,1106.5h0M130.3,1089.6h0M131.3,1099.3h0M130.5,1095.8h0M131.0,1123.8h0M130.0,1107.4h0M129.5,1116.2h0M129.8,1104.5h0M132.3,1092.8h0M130.8,1085.8h0M129.1,1112.1h0M131.8,1099.6h0M127.5,1106.5h0M128.5,1111.8h0M132.3,1092.3h0M129.6,1103.1h0M132.2,1112.3h0M130.1,1097.8h0M132.2,1111.8h0M133.9,1080.6h0M131.6,1121.3h0M131.3,1104.8h0M129.1,1099.4h0M132.9,1106.0h0M130.6,1098.9h0M130.5,1107.5h0M132.1,1096.9h0M132.0,1082.4h0M130.0,1084.8h0M128.7,1102.4h0M131.8,1112.4h0M131.9,1105.8h0M130.5,1093.5h0M132.5,1108.8h0M133.6,1100.7h0M134.5,1089.5h0M131.9,1087.2h0M131.9,1096.3h0M132.7,1094.0h0M130.5,1081.0h0M132.4,1087.0h0M132.1,1114.5h0M130.8,1108.3h0M131.5,1110.6h0M130.2,1097.1h0M133.5,1088.3h0M131.4,1099.8h0M132.1,1108.2h0M132.2,1087.8h0M131.7,1088.2h0M132.3,1096.9h0M131.7,1089.6h0M130.6,1113.0h0M131.2,1088.7h0M131.3,1110.0h0M133.6,1104.8h0M130.5,1105.1h0M127.3,1106.7h0M133.6,1096.3h0M129.0,1091.1h0M129.8,1088.2h0M132.6,1105.3h0M129.8,1105.6h0M132.4,1095.6h0M129.8,1102.2h0M131.1,1095.0h0M133.1,1084.6h0M127.7,1101.2h0M131.6,1091.7h0M128.9,1098.3h0M131.2,1086.3h0M130.2,1089.7h0M130.9,1085.6h0M130.0,1095.4h0M130.1,1079.0h0M131.1,1110.4h0M132.6,1103.0h0M130.7,1101.8h0M133.5,1085.9h0M130.3,1102.9h0M129.5,1075.8h0M129.6,1109.4h0M130.5,1093.8h0M130.9,1082.3h0M130.3,1111.1h0M132.5,1088.3h0M129.2,1093.7h0M131.2,1104.3h0M128.1,1093.2h0M128.5,1114.1h0M133.4,1087.5h0M126.7,1120.4h0M132.3,1096.9h0M131.1,1098.4h0M128.5,1108.3h0M130.8,1098.4h0M131.2,1105.6h0M130.7,1100.4h0M130.3,1083.8h0M128.5,1098.4h0M132.1,1092.5h0M130.5,1095.4h0M128.4,1092.1h0M131.6,1093.2h0M132.5,1095.4h0M131.0,1106.7h0M133.3,1105.5h0M130.5,1087.7h0M131.3,1088.5h0M130.8,1113.6h0M130.7,1092.4h0M129.2,1103.6h0M133.9,1100.3h0M131.2,1116.6h0M130.0,1117.1h0M131.8,1092.5h0M133.1,1113.0h0M133.4,1085.9h0M131.5,1095.4h0M130.7,1085.5h0M131.0,1111.8h0M132.0,1079.0h0M131.2,1100.8h0M132.8,1093.8h0M131.7,1106.8h0M132.1,1103.9h0M131.6,1103.1h0M128.2,1115.1h0M129.2,1095.4h0M131.0,1114.1h0M131.8,1119.3h0M130.0,1085.8h0M133.3,1101.5h0M128.6,1103.8h0M129.9,1088.3h0M128.5,1079.1h0M130.5,1095.9h0M129.7,1089.4h0M128.6,1093.5h0M129.8,1110.3h0M131.4,1097.8h0M128.1,1116.9h0M129.4,1089.4h0M130.9,1076.6h0M130.2,1097.0h0M131.8,1119.5h0M128.3,1094.5h0M126.5,1104.3h0M128.7,1092.5h0M129.0,1105.1h0M129.9,1102.4h0M128.4,1097.0h0M131.0,1119.2h0M132.3,1093.0h0M127.8,1089.6h0M130.4,1089.3h0M131.5,1099.3h0M132.2,1093.5h0M131.3,1114.1h0M133.5,1101.1h0M130.5,1098.4h0M132.7,1081.3h0M132.0,1089.5h0M130.8,1084.6h0M129.4,1095.5h0M130.3,1109.9h0M130.7,1103.1h0M132.2,1104.4h0M131.5,1105.2h0M130.3,1115.5h0M129.3,1101.1h0M134.3,1109.5h0M131.5,1108.4h0M130.7,1107.1h0M129.2,1085.1h0M127.6,1102.2h0M129.7,1094.2h0M129.4,1084.7h0M128.8,1098.2h0M132.0,1102.7h0M131.5,1120.0h0M130.6,1102.0h0M131.4,1112.0h0M132.1,1100.1h0M128.9,1098.0h0M132.1,1100.1h0M132.8,1120.5h0M131.7,1100.3h0M129.2,1119.6h0M129.2,1096.1h0M130.6,1090.2h0M130.3,1103.0h0M128.8,1100.9h0M129.7,1098.9h0M132.0,1090.4h0M131.8,1089.6h0M129.0,1095.0h0M133.4,1113.7h0M131.2,1104.3h0M130.7,1104.8h0M129.9,1093.2h0M132.1,1082.0h0M133.5,1089.0h0M131.2,1121.9h0M130.5,1100.5h0M132.2,1077.3h0M129.7,1109.6h0M128.2,1110.5h0M131.6,1081.1h0M130.6,1104.7h0M132.2,1098.5h0M130.6,1087.5h0M128.1,1098.6h0M128.6,1111.6h0M129.1,1110.4h0M131.8,1105.6h0M131.1,1100.7h0M127.1,1111.9h0M132.4,1098.0h0M126.7,1089.6h0M128.6,1077.0h0M128.1,1109.0h0M131.6,1081.2h0M134.5,1107.7h0M130.3,1105.5h0M132.6,1099.0h0M135.1,1092.7h0M128.2,1091.4h0M132.5,1083.2h0M129.6,1087.7h0M130.7,1102.1h0M131.9,1099.6h0M128.5,1082.7h0M128.5,1112.2h0M133.3,1092.0h0M132.0,1109.1h0M130.5,1098.0h0M134.8,1097.8h0M129.0,1095.9h0M130.2,1095.5h0M132.7,1103.5h0M127.3,1120.2h0M129.9,1108.9h0M128.9,1095.1h0M130.3,1087.5h0M128.2,1094.7h0M131.3,1105.9h0M134.0,1105.1h0M129.8,1107.1h0M133.1,1091.6h0M131.5,1104.0h0M130.3,1079.3h0M127.9,1110.8h0M132.1,1112.2h0M131.9,1111.4h0M131.7,1082.8h0M129.4,1094.4h0M131.3,1111.6h0M129.4,1092.5h0M129.2,1111.3h0M129.9,1099.9h0M132.6,1096.5h0M129.0,1090.2h0M131.4,1097.2h0M132.3,1089.3h0M132.8,1097.9h0M130.7,1098.8h0M130.8,1097.1h0M129.6,1108.4h0M128.9,1088.9h0M128.4,1083.9h0M129.4,1099.8h0M130.2,1089.9h0M128.0,1098.5h0M132.4,1115.7h0M128.0,1100.0h0M132.7,1084.5h0M131.0,1102.1h0M132.3,1103.9h0M129.9,1117.3h0M127.6,1120.3h0M132.5,1098.5h0M131.8,1091.7h0M130.1,1084.0h0M129.6,1111.5h0M134.1,1093.0h0M131.0,1091.5h0M129.2,1093.7h0M134.0,1107.9h0M130.9,1094.1h0M130.2,1117.4h0M131.2,1103.4h0M131.6,1090.1h0M131.9,1094.6h0M130.9,1099.2h0M130.5,1089.1h0M129.1,1100.1h0M132.0,1114.8h0M129.6,1098.2h0M131.6,1099.6h0M130.0,1106.3h0M133.0,1083.6h0M129.7,1107.2h0M131.6,1115.9h0M130.6,1092.8h0M131.9,1105.8h0M131.5,1092.6h0M130.0,1096.2h0M129.4,1102.2h0M130.8,1115.2h0M131.2,1105.7h0M129.0,1101.1h0M128.8,1103.4h0M131.8,1089.3h0M132.3,1108.0h0M128.1,1082.8h0M132.6,1093.9h0M132.8,1092.2h0M128.5,1096.4h0M128.3,1098.6h0M133.9,1097.8h0M127.8,1097.1h0M132.4,1087.8h0M133.4,1083.5h0M130.5,1106.1h0M129.7,1086.4h0M130.5,1094.1h0M132.6,1095.1h0M130.4,1089.9h0M130.1,1104.1h0M133.1,1108.4h0M128.8,1102.5h0M129.9,1092.3h0M131.4,1113.7h0M131.8,1112.1h0M133.2,1087.1h0M130.7,1105.0h0M129.7,1111.3h0M129.0,1088.5h0M128.3,1088.4h0M130.7,1096.8h0M129.9,1098.2h0M130.0,1122.0h0M129.0,1096.3h0M132.2,1088.5h0M127.2,1087.1h0M131.0,1093.7h0M130.7,1108.6h0M129.0,1096.0h0M127.8,1105.4h0M131.8,1096.7h0M129.9,1086.5h0M130.2,1097.6h0M131.4,1094.3h0M130.5,1098.8h0M127.6,1109.3h0M132.6,1086.6h0M129.6,1096.4h0M131.9,1116.6h0M129.8,1105.0h0M131.5,1090.8h0M132.0,1115.7h0M133.2,1096.2h0M129.5,1093.8h0M131.4,1099.5h0M132.0,1109.3h0M129.5,1120.0h0M132.3,1097.7h0M131.2,1098.9h0M128.1,1100.6h0M130.0,1104.4h0M130.2,1076.3h0M127.3,1096.1h0M129.3,1091.0h0M129.2,1090.4h0M129.1,1115.2h0M129.5,1084.9h0M132.5,1095.5h0M129.7,1093.6h0M128.9,1105.5h0M132.6,1086.2h0M130.3,1106.2h0M128.5,1104.3h0M130.2,1113.4h0M128.4,1110.6h0M130.9,1105.4h0M129.9,1102.6h0M130.6,1112.2h0M126.6,1089.0h0M129.6,1088.4h0M130.4,1092.1h0M133.2,1086.7h0M132.4,1107.7h0M130.6,1098.8h0M128.8,1099.9h0M129.7,1104.9h0M129.2,1087.2h0M129.3,1111.8h0M131.3,1097.9h0M129.9,1086.6h0M131.6,1105.0h0M133.4,1098.6h0M132.6,1092.9h0M130.4,1099.1h0M130.7,1109.5h0M133.1,1089.1h0M128.7,1112.1h0M129.2,1101.0h0M129.8,1115.2h0M129.9,1085.3h0M132.8,1099.5h0M133.7,1097.0h0M130.0,1111.6h0M129.0,1080.1h0M131.6,1075.8h0M131.3,1103.3h0M131.0,1094.1h0M129.1,1089.4h0M130.7,1083.4h0M126.6,1080.4h0M131.4,1088.8h0M131.8,1078.2h0M130.5,1097.2h0M131.2,1102.3h0M127.5,1108.5h0M130.2,1101.0h0M131.4,1099.0h0M132.8,1094.3h0M132.4,1094.8h0M129.1,1094.7h0M131.5,1100.3h0M130.5,1086.0h0M130.6,1108.2h0M130.0,1091.8h0M129.2,1103.3h0M129.0,1112.2h0M130.2,1117.6h0M133.4,1101.9h0M131.1,1088.1h0M132.5,1095.6h0M130.3,1086.6h0M129.1,1094.1h0M128.8,1096.9h0M131.3,1103.4h0M131.4,1083.3h0M131.1,1083.0h0M130.2,1094.8h0M131.6,1081.4h0M129.2,1094.5h0M131.5,1103.6h0M130.4,1092.8h0M129.5,1077.7h0M132.2,1103.6h0M133.7,1117.1h0M129.3,1118.3h0M130.6,1107.5h0M131.5,1106.6h0M131.5,1088.0h0M131.1,1121.1h0M128.5,1095.6h0M128.9,1102.0h0M130.3,1121.1h0M131.7,1077.7h0M130.2,1092.9h0M129.0,1085.6h0M132.6,1111.7h0M130.1,1099.9h0M132.4,1093.1h0M133.7,1091.8h0M132.5,1095.5h0M131.2,1113.1h0M129.6,1097.6h0M129.4,1110.8h0M130.3,1096.2h0M131.1,1092.8h0M128.7,1095.4h0M130.1,1087.5h0M131.4,1101.6h0M130.9,1093.8h0M130.7,1095.7h0M129.8,1102.0h0M129.5,1092.1h0M131.9,1097.1h0M128.7,1105.8h0M129.8,1105.4h0M130.2,1110.5h0M128.3,1096.8h0M129.7,1107.5h0M132.1,1099.9h0M133.2,1094.7h0M131.1,1107.0h0M130.7,1103.6h0M131.4,1113.6h0M131.4,1117.0h0M131.0,1101.3h0M132.1,1102.4h0M130.1,1105.5h0M126.4,1103.2h0M129.6,1109.1h0M133.5,1108.4h0M131.5,1083.9h0M128.8,1088.2h0M129.8,1092.2h0M133.1,1096.1h0M127.9,1081.5h0M131.7,1094.0h0M131.4,1096.2h0M130.5,1121.1h0M135.1,1083.1h0M133.9,1108.6h0M130.5,1117.9h0M128.4,1102.3h0M129.6,1083.0h0M131.4,1093.0h0M127.4,1082.1h0M131.6,1119.3h0M131.9,1093.4h0M133.2,1110.2h0M131.0,1086.4h0M130.2,1105.0h0M129.5,1105.9h0M131.2,1105.8h0M128.5,1081.3h0M130.3,1102.4h0M132.6,1089.3h0M131.1,1093.4h0M130.9,1084.7h0M129.8,1080.4h0M130.0,1108.2h0M128.9,1089.0h0M131.3,1085.3h0M133.9,1104.6h0M131.2,1093.8h0M131.5,1082.8h0M127.4,1093.3h0M129.0,1088.2h0M130.6,1081.7h0M130.8,1095.3h0M131.8,1099.9h0M131.2,1083.7h0M129.8,1104.8h0M132.7,1093.1h0M131.0,1111.5h0M132.9,1107.0h0M130.2,1089.1h0M129.9,1089.4h0M130.5,1092.7h0M130.7,1098.7h0M131.8,1083.9h0M130.6,1090.5h0M130.2,1091.5h0M129.5,1108.3h0M130.2,1106.7h0M132.1,1091.6h0M133.6,1096.8h0M126.9,1080.4h0M131.2,1096.2h0M130.2,1119.2h0M132.5,1109.1h0M130.2,1106.0h0M131.2,1103.8h0M129.4,1097.0h0M128.3,1097.9h0M131.5,1102.4h0M131.9,1099.6h0M132.7,1094.1h0M129.0,1096.8h0M134.3,1118.6h0M131.2,1082.5h0M132.0,1101.7h0M130.8,1111.0h0M130.3,1095.5h0M130.8,1106.4h0M129.8,1103.8h0M130.5,1084.7h0M133.2,1118.2h0M129.0,1116.6h0M131.8,1111.3h0M128.1,1097.7h0M129.8,1092.8h0M130.8,1113.2h0M131.1,1083.8h0M128.4,1117.9h0M132.2,1080.9h0M130.9,1096.2h0M132.6,1097.5h0M129.4,1108.1h0M131.1,1097.2h0M130.2,1112.2h0M130.7,1094.4h0M130.6,1100.2h0M128.7,1083.6h0M132.4,1104.4h0M131.7,1104.0h0M130.1,1118.3h0M129.9,1119.1h0M130.6,1093.3h0M130.1,1105.1h0M128.2,1116.1h0M129.9,1118.7h0M132.0,1096.8h0M128.8,1106.3h0M131.1,1101.3h0M130.9,1096.5h0M130.9,1097.8h0M130.3,1117.0h0M130.0,1085.2h0M131.9,1114.7h0M134.3,1091.6h0M130.2,1106.1h0M131.5,1099.0h0M133.1,1093.3h0M131.8,1084.9h0M132.1,1116.1h0M129.6,1114.8h0M133.5,1101.5h0M131.0,1095.3h0M128.8,1115.6h0M133.7,1100.0h0M129.7,1099.5h0M129.9,1086.7h0M130.6,1095.0h0M131.1,1096.9h0M129.2,1101.4h0M130.6,1091.8h0M133.8,1093.5h0M130.7,1103.3h0M130.2,1086.1h0M130.3,1090.8h0M130.6,1100.2h0M132.6,1077.0h0M129.6,1097.4h0M130.3,1101.6h0M128.5,1077.3h0M133.2,1098.8h0M128.9,1099.1h0M131.7,1098.7h0M128.2,1100.1h0M130.6,1092.0h0M129.4,1109.2h0M131.3,1105.8h0M130.3,1110.7h0M129.5,1098.4h0M129.2,1107.3h0M129.5,1103.8h0M133.0,1091.0h0M129.5,1099.4h0M133.0,1105.5h0M133.4,1110.0h0M132.9,1084.0h0M131.1,1106.7h0M129.6,1085.9h0M129.7,1119.4h0M127.7,1121.5h0M130.0,1090.2h0M129.1,1107.3h0M131.8,1101.2h0M131.9,1088.6h0M131.2,1108.0h0M131.5,1089.7h0M129.0,1107.0h0M128.9,1087.0h0M132.2,1110.9h0M130.2,1077.4h0M132.8,1100.7h0M129.0,1094.5h0M131.5,1092.1h0M127.7,1084.0h0M132.7,1106.3h0M130.4,1098.9h0M129.7,1110.6h0M130.3,1105.6h0M131.7,1088.9h0M135.6,1094.3h0M130.9,1100.4h0M133.5,1093.0h0M130.1,1091.0h0M133.0,1099.5h0M129.8,1103.6h0M129.7,1089.2h0M131.4,1103.3h0M129.6,1086.9h0M130.5,1082.2h0M130.5,1107.0h0M129.5,1100.2h0M129.3,1094.3h0M131.5,1092.3h0M133.0,1099.8h0M132.2,1107.6h0M131.9,1092.7h0M131.6,1104.0h0M130.8,1098.0h0M128.7,1103.1h0M130.4,1118.0h0M130.3,1092.0h0M132.2,1084.0h0M133.9,1094.5h0M130.4,1096.3h0M132.2,1085.8h0M130.9,1104.2h0M129.7,1103.3h0M128.4,1086.0h0M129.2,1111.9h0M128.6,1096.0h0M130.4,1102.6h0M131.2,1105.8h0M131.0,1089.9h0M131.9,1085.7h0M130.4,1094.6h0M129.4,1102.4h0M127.7,1108.3h0M132.9,1079.0h0M132.0,1092.4h0M131.2,1091.1h0M129.7,1105.4h0M130.6,1095.5h0M128.5,1106.5h0M128.9,1113.1h0M132.6,1095.8h0M130.7,1103.3h0M130.6,1108.4h0M131.9,1111.7h0M129.2,1102.9h0M128.9,1093.7h0M131.2,1107.2h0M129.8,1091.7h0M130.2,1098.8h0M133.5,1105.8h0M132.2,1090.0h0M129.0,1091.6h0M130.8,1122.8h0M129.1,1102.9h0M127.6,1102.6h0M130.7,1100.3h0M132.3,1112.1h0M131.8,1092.8h0M128.8,1108.5h0M129.2,1086.5h0M128.8,1102.6h0M126.9,1113.3h0M131.3,1105.1h0M133.6,1106.5h0M128.3,1105.0h0M131.0,1113.9h0M134.9,1112.0h0M128.4,1095.8h0M128.7,1099.2h0M129.0,1113.7h0M129.6,1092.6h0M131.5,1088.7h0M129.7,1098.0h0M131.7,1120.0h0M128.4,1098.5h0M130.9,1112.7h0M132.0,1085.2h0M129.0,1098.0h0M128.6,1088.7h0M128.0,1083.2h0M130.2,1091.5h0M131.2,1098.2h0M131.4,1117.7h0M130.2,1078.8h0M131.3,1099.3h0M130.8,1096.9h0" stroke="#111" stroke-width="1.00" stroke-linecap="round" opacity="1.0"/>
<path d="M153.1,1099.8h0M165.0,1105.0h0M181.4,1104.8h0M160.5,1094.8h0M167.5,1104.2h0M165.5,1100.4h0M151.0,1106.8h0M159.7,1098.8h0M154.1,1106.9h0M174.5,1103.0h0M171.6,1104.8h0M184.5,1110.3h0M164.6,1116.3h0M176.2,1110.2h0M158.8,1096.8h0M170.7,1101.0h0M168.9,1106.5h0M186.6,1110.1h0M185.1,1108.2h0M141.3,1097.6h0M160.4,1097.1h0M173.2,1117.6h0M171.5,1095.5h0M178.7,1113.0h0M155.8,1103.8h0M189.6,1105.4h0M177.4,1103.3h0M163.2,1101.5h0M172.1,1101.1h0M172.6,1112.3h0M164.3,1098.9h0M159.5,1100.7h0M157.1,1101.0h0M175.3,1094.6h0M153.1,1111.7h0M168.2,1102.2h0M156.6,1089.6h0M177.5,1097.2h0M154.5,1109.8h0M148.4,1091.7h0M160.0,1111.2h0M173.1,1100.5h0M176.2,1105.9h0M168.0,1099.9h0M158.8,1099.9h0M160.1,1118.1h0M165.2,1103.7h0M145.6,1102.0h0M163.1,1102.1h0M153.9,1089.8h0M161.7,1102.3h0M168.3,1099.0h0M161.7,1096.4h0M152.8,1106.2h0M152.3,1114.6h0M169.0,1098.2h0M165.7,1118.7h0M157.0,1103.1h0M160.4,1088.5h0M168.7,1107.3h0M178.7,1101.6h0M161.0,1111.7h0M155.6,1094.1h0M170.7,1099.5h0M158.6,1107.5h0M154.3,1117.8h0M152.4,1102.6h0M154.0,1103.0h0M160.3,1108.5h0M160.2,1109.2h0M177.7,1098.3h0M175.5,1097.3h0M172.5,1109.7h0M170.1,1095.7h0M161.1,1101.4h0M157.0,1097.4h0M163.4,1105.4h0M155.1,1106.9h0M153.4,1085.7h0M166.3,1122.7h0M174.8,1108.2h0M165.5,1111.5h0M172.6,1090.6h0M151.8,1099.4h0M163.6,1104.1h0M165.3,1096.2h0M174.7,1096.9h0M167.6,1101.0h0M164.1,1096.6h0M161.9,1095.9h0M162.2,1105.6h0M152.3,1111.4h0M168.9,1100.2h0M159.0,1099.5h0M157.3,1112.6h0M157.7,1108.9h0M162.0,1100.8h0M175.3,1105.4h0M174.4,1099.8h0M182.4,1099.8h0M184.0,1107.4h0M155.0,1106.1h0M178.3,1107.3h0M162.1,1110.7h0M154.3,1098.1h0M166.4,1110.0h0M163.2,1106.7h0M184.3,1111.5h0M177.0,1114.0h0M164.8,1115.9h0M167.7,1098.2h0M164.4,1105.3h0M170.0,1114.0h0M162.0,1109.0h0M165.7,1107.9h0M178.5,1104.1h0M164.2,1114.8h0M162.6,1104.2h0M162.6,1112.6h0M173.8,1085.1h0M160.4,1105.8h0M163.5,1101.9h0M164.5,1086.0h0M147.7,1099.6h0M171.2,1091.5h0M164.4,1105.9h0M160.7,1107.6h0M173.9,1107.8h0M181.6,1099.2h0M171.0,1100.8h0M172.6,1117.3h0M160.5,1102.4h0M164.5,1098.5h0M161.1,1108.9h0M145.1,1105.2h0M164.0,1110.2h0M153.1,1106.3h0M170.2,1097.3h0M151.2,1101.6h0M169.9,1108.9h0M179.1,1111.0h0M171.2,1104.4h0M146.1,1103.6h0M162.4,1099.3h0M173.4,1101.5h0M160.7,1084.4h0M147.9,1112.9h0M161.5,1098.9h0M167.4,1090.4h0M167.3,1098.0h0M170.6,1099.5h0M146.1,1122.0h0M164.2,1089.1h0M158.1,1103.4h0M145.3,1107.3h0M167.8,1097.9h0M163.4,1114.7h0M164.4,1105.4h0M156.6,1108.2h0M162.3,1117.2h0M158.4,1100.3h0M176.8,1095.9h0M162.3,1105.6h0M146.8,1104.8h0M154.0,1106.3h0M160.8,1098.1h0M177.2,1100.3h0M164.5,1105.5h0M144.1,1099.8h0M159.3,1109.0h0M148.3,1109.5h0M152.7,1094.5h0M164.2,1100.3h0M155.5,1108.6h0M174.8,1108.3h0M168.7,1104.6h0M161.8,1110.1h0M149.3,1114.1h0M153.5,1099.1h0M160.9,1114.1h0M181.2,1106.7h0M157.3,1116.2h0M160.3,1107.1h0M145.7,1099.8h0M173.7,1103.5h0M170.5,1096.6h0M159.4,1107.2h0M155.4,1105.9h0M166.0,1080.5h0M165.8,1113.2h0M153.3,1104.2h0M161.5,1105.8h0M149.4,1104.4h0M166.8,1102.7h0M160.2,1102.0h0M163.9,1102.4h0M161.8,1117.9h0M158.8,1105.1h0M164.5,1119.3h0M158.3,1106.0h0M151.7,1109.0h0M147.2,1107.1h0M156.0,1112.3h0M170.2,1088.4h0M150.9,1098.1h0M162.2,1109.1h0M165.2,1104.7h0M163.7,1092.5h0M143.0,1087.0h0M165.6,1097.6h0M156.4,1101.9h0M166.6,1104.8h0M167.9,1099.3h0M149.3,1113.0h0M164.0,1115.2h0M167.7,1099.2h0M177.5,1114.3h0M184.5,1096.5h0M148.6,1108.7h0M153.9,1114.6h0M168.5,1092.4h0M153.4,1094.4h0M159.0,1105.7h0M170.6,1110.3h0M170.1,1103.6h0M160.1,1093.2h0M169.2,1107.4h0M166.9,1118.5h0M162.2,1120.3h0M187.8,1098.7h0M166.5,1110.0h0M156.2,1104.8h0M177.3,1110.3h0M162.5,1095.4h0M156.1,1107.9h0M164.8,1099.0h0M181.3,1102.8h0M159.3,1093.0h0M150.1,1108.9h0M175.5,1093.7h0M157.6,1107.0h0M180.4,1083.5h0M153.0,1105.4h0M171.4,1112.4h0M176.1,1094.9h0M171.0,1101.9h0M158.1,1101.4h0M159.9,1098.2h0M143.5,1109.6h0M176.7,1112.8h0M177.5,1099.2h0M167.5,1096.9h0M178.5,1106.8h0M155.6,1100.4h0M154.2,1097.6h0M153.7,1105.3h0M170.2,1123.9h0M165.9,1103.3h0M180.4,1109.8h0M156.1,1104.9h0M156.1,1098.1h0M151.2,1088.7h0M160.2,1111.0h0M170.1,1101.4h0M147.6,1110.4h0M170.8,1113.8h0M166.5,1122.3h0M169.5,1092.6h0M148.5,1111.5h0M169.9,1108.8h0M173.1,1090.1h0M153.8,1111.7h0M162.3,1108.8h0M144.2,1109.5h0M159.8,1104.5h0M160.1,1087.9h0M151.5,1103.8h0M174.2,1097.6h0M158.2,1101.8h0M159.5,1106.6h0M166.1,1107.6h0M176.9,1104.6h0M174.2,1114.6h0M152.9,1120.8h0M152.3,1102.3h0M170.4,1090.4h0M155.3,1107.8h0M173.5,1117.8h0M174.0,1101.1h0M175.4,1103.3h0M160.6,1097.0h0M167.9,1106.4h0M161.2,1098.5h0M152.0,1105.2h0M185.1,1111.2h0M160.1,1114.9h0M161.6,1101.1h0M153.3,1104.5h0M167.0,1099.0h0M153.8,1094.8h0M167.1,1107.0h0M158.1,1109.7h0M153.4,1098.3h0M172.2,1106.3h0M150.6,1098.8h0M168.8,1093.0h0M167.4,1097.3h0M170.9,1094.3h0M162.7,1102.1h0M155.3,1099.8h0M170.6,1117.4h0M172.5,1101.3h0M167.9,1109.2h0M159.0,1112.0h0M175.6,1112.1h0M157.7,1114.7h0M175.5,1095.6h0M179.2,1104.2h0M163.3,1094.4h0M179.8,1106.3h0M156.0,1108.7h0M156.3,1094.4h0M159.7,1104.5h0M177.2,1105.1h0M173.1,1112.4h0M163.8,1102.9h0M154.6,1093.0h0M164.3,1115.0h0M171.6,1090.5h0M165.7,1109.6h0M168.5,1107.6h0M172.2,1114.7h0M150.0,1104.4h0M173.5,1103.2h0M186.4,1116.5h0M166.8,1111.3h0M161.5,1105.8h0M154.2,1100.4h0M172.6,1107.9h0M174.7,1120.7h0M165.8,1109.8h0M141.7,1099.4h0M176.2,1108.5h0M165.6,1110.5h0M163.8,1102.7h0M142.6,1101.8h0M184.2,1100.5h0M142.9,1107.6h0M176.9,1121.8h0M157.6,1103.3h0M166.4,1110.1h0M165.2,1092.6h0M173.9,1110.0h0M158.9,1096.7h0M156.1,1109.1h0M159.2,1095.5h0M152.5,1109.1h0M146.0,1105.1h0M158.6,1098.2h0M161.4,1100.3h0M165.0,1107.6h0M155.9,1093.6h0M153.9,1104.8h0M149.7,1109.0h0M170.5,1112.9h0M154.1,1112.7h0M161.0,1101.6h0M161.0,1111.7h0M142.1,1103.4h0M160.0,1109.4h0M175.6,1109.6h0M163.1,1097.9h0M181.2,1080.7h0M161.2,1101.4h0M180.9,1110.1h0M155.2,1107.0h0M156.1,1111.1h0M171.7,1103.7h0M144.0,1116.3h0M151.4,1109.3h0M141.1,1090.3h0M171.4,1103.3h0M158.6,1100.5h0M168.4,1115.5h0M178.5,1114.1h0M164.8,1098.0h0M177.7,1099.5h0M167.2,1100.1h0M185.7,1097.1h0M186.0,1103.0h0M189.1,1111.7h0M168.1,1109.3h0M160.2,1104.6h0M162.8,1093.4h0M153.4,1120.5h0M171.1,1114.4h0M154.9,1090.9h0M166.6,1096.8h0M168.7,1112.3h0M165.7,1095.8h0M154.4,1111.7h0M167.2,1080.3h0M145.5,1105.2h0M145.3,1109.4h0M137.5,1111.6h0M174.3,1113.7h0M157.1,1102.2h0M166.5,1116.4h0M156.1,1089.0h0M175.7,1095.3h0M169.6,1103.7h0M162.9,1112.4h0M170.5,1096.4h0M180.3,1105.8h0M162.2,1096.9h0M143.7,1102.2h0M176.2,1085.6h0M144.8,1097.4h0M155.3,1103.2h0M161.0,1107.0h0M171.8,1100.4h0M171.2,1105.5h0M146.7,1108.1h0M158.8,1116.0h0M182.0,1111.1h0M161.3,1111.6h0M173.7,1096.9h0M160.3,1115.4h0M160.0,1100.0h0M147.1,1100.3h0M166.9,1106.8h0M165.8,1084.1h0M171.4,1114.8h0M164.4,1094.9h0M158.7,1100.1h0M162.1,1103.1h0M163.9,1101.3h0M155.6,1095.0h0M162.0,1101.7h0M149.8,1105.6h0M170.2,1094.7h0M156.6,1092.7h0M150.8,1108.9h0M153.3,1105.2h0M173.3,1106.9h0M162.5,1111.5h0M155.3,1094.5h0M168.6,1094.3h0M172.4,1099.7h0M170.3,1106.8h0M173.2,1105.9h0M151.8,1114.4h0M174.0,1105.3h0M158.4,1091.2h0M165.6,1119.7h0M165.9,1104.3h0M174.5,1108.1h0M161.3,1093.5h0M187.6,1107.9h0M176.4,1100.3h0M144.5,1103.9h0M168.8,1099.9h0M163.9,1103.1h0M177.3,1112.2h0M179.8,1108.5h0M160.1,1104.7h0M144.1,1101.0h0M171.7,1102.8h0M162.6,1105.0h0M168.0,1110.5h0M160.5,1102.2h0M154.2,1111.8h0M175.6,1102.4h0M164.0,1095.0h0M178.6,1092.9h0M167.2,1112.6h0M180.9,1102.6h0M154.6,1095.6h0M182.1,1106.1h0M170.8,1096.3h0M153.5,1105.5h0M158.9,1098.9h0M143.9,1102.8h0M171.0,1106.5h0M170.3,1103.3h0M151.2,1104.0h0M162.4,1100.8h0M161.6,1100.4h0M163.9,1111.4h0M144.7,1107.8h0M152.7,1098.7h0M156.7,1098.1h0M181.3,1104.1h0M183.4,1107.2h0M175.0,1103.2h0M171.1,1100.8h0M161.9,1115.6h0M178.3,1116.6h0M174.6,1108.6h0M159.8,1119.9h0M153.7,1103.5h0M160.1,1093.8h0M148.1,1104.3h0M157.3,1108.4h0M152.6,1083.8h0M182.5,1109.9h0M163.3,1094.0h0M164.6,1093.9h0M159.8,1088.7h0M166.2,1099.8h0M161.5,1114.5h0M164.6,1102.6h0M167.5,1085.6h0M159.2,1111.1h0" stroke="#222" stroke-width="0.90" stroke-linecap="round" opacity="1.0"/>
<path d="M148.6,1109.7h0M189.9,1103.7h0M183.1,1108.6h0M192.4,1101.9h0M174.3,1091.1h0M174.9,1119.9h0M152.3,1080.7h0M154.5,1081.9h0M167.0,1086.2h0M183.3,1085.5h0M193.2,1109.1h0M148.6,1112.9h0M186.0,1115.7h0M174.0,1109.7h0M177.9,1102.9h0M155.5,1098.6h0M170.0,1111.7h0M182.7,1107.7h0M162.4,1098.6h0M142.9,1098.5h0M169.6,1080.3h0M142.4,1103.7h0M167.6,1100.6h0M155.5,1104.8h0M165.6,1121.5h0M172.6,1113.8h0M193.5,1100.7h0M174.1,1100.4h0M173.7,1116.5h0M181.3,1118.1h0M193.7,1102.0h0M146.1,1105.6h0M154.1,1082.0h0M194.2,1122.3h0M166.3,1099.6h0M175.2,1109.6h0M156.8,1086.7h0M162.2,1104.4h0M172.0,1105.9h0M153.1,1108.7h0M169.5,1102.3h0M163.3,1113.0h0M178.5,1102.9h0M166.6,1114.0h0M188.4,1088.3h0M162.9,1120.2h0M157.3,1110.0h0M175.1,1089.5h0M142.2,1103.1h0M162.1,1093.6h0M176.8,1113.6h0M164.9,1106.6h0M177.0,1107.5h0M157.2,1103.5h0M162.5,1110.4h0M158.0,1099.1h0M189.7,1103.2h0M138.5,1105.1h0M155.1,1095.8h0M146.8,1109.0h0M158.7,1103.6h0M141.7,1099.8h0M152.7,1097.7h0M148.7,1110.6h0M171.0,1112.5h0M184.8,1097.8h0M155.7,1100.3h0M164.0,1103.5h0M162.9,1113.7h0M159.0,1098.1h0M161.8,1110.2h0M161.4,1114.9h0M158.8,1102.6h0M146.9,1105.5h0M147.0,1120.0h0M156.1,1102.1h0M172.3,1110.8h0M168.0,1093.3h0M138.0,1105.1h0M182.1,1096.3h0M152.3,1104.3h0M173.4,1122.4h0M162.6,1110.8h0M155.4,1119.0h0M150.3,1101.1h0M153.7,1097.7h0M159.9,1097.9h0M141.9,1094.7h0M157.2,1085.2h0M159.2,1123.8h0M138.7,1102.8h0M175.8,1099.1h0M158.5,1126.6h0M165.1,1097.1h0M171.7,1107.6h0M180.6,1093.0h0M150.9,1113.2h0M154.9,1085.2h0" stroke="#555" stroke-width="0.80" stroke-linecap="round" opacity="1.0"/>
<rect x="136.30" y="1076.80" width="78.70" height="51.90" fill="none" stroke="#222" stroke-width="1.2"/>
<text x="175.60" y="1059.90" font-size="7.8" text-anchor="middle" font-weight="normal" fill="#111">CD4+RFP+</text>
<text x="175.60" y="1070.80" font-size="7.8" text-anchor="middle" font-weight="normal" fill="#111">4.92</text>
<text x="269.20" y="1070.80" font-size="7.8" text-anchor="start" font-weight="normal" fill="#111">AhR<tspan font-size="5.2" dy="-2.8">-/-</tspan></text>
<rect x="362.80" y="1000.30" width="35.50" height="30.20" fill="#da8e84" stroke="#9a1a30" stroke-width="1.1"/>
<rect x="414.70" y="937.00" width="35.50" height="93.50" fill="#939bc6" stroke="#34467a" stroke-width="1.1"/>
<line x1="380.60" y1="996.10" x2="380.60" y2="1005.50" stroke="#111" stroke-width="1.3"/>
<line x1="371.60" y1="996.10" x2="389.60" y2="996.10" stroke="#111" stroke-width="1.3"/>
<line x1="371.60" y1="1005.50" x2="389.60" y2="1005.50" stroke="#111" stroke-width="1.3"/>
<line x1="432.40" y1="914.40" x2="432.40" y2="961.00" stroke="#111" stroke-width="1.3"/>
<line x1="423.40" y1="914.40" x2="441.40" y2="914.40" stroke="#111" stroke-width="1.3"/>
<line x1="423.40" y1="961.00" x2="441.40" y2="961.00" stroke="#111" stroke-width="1.3"/>
<circle cx="380.6" cy="980.5" r="2.8" fill="#b8102f"/>
<circle cx="371.2" cy="1000.3" r="2.8" fill="#b8102f"/>
<circle cx="380.6" cy="1000.3" r="2.8" fill="#b8102f"/>
<circle cx="389.6" cy="999.6" r="2.8" fill="#b8102f"/>
<circle cx="385.1" cy="1007.9" r="2.8" fill="#b8102f"/>
<circle cx="375.7" cy="1016.2" r="2.8" fill="#b8102f"/>
<circle cx="432.4" cy="875.2" r="2.8" fill="#2f4c86"/>
<circle cx="432.4" cy="885.6" r="2.8" fill="#2f4c86"/>
<circle cx="432.4" cy="917.2" r="2.8" fill="#2f4c86"/>
<circle cx="432.4" cy="945.7" r="2.8" fill="#2f4c86"/>
<circle cx="432.4" cy="980.5" r="2.8" fill="#2f4c86"/>
<circle cx="432.4" cy="1020.8" r="2.8" fill="#2f4c86"/>
<line x1="354.00" y1="871.60" x2="354.00" y2="1031.10" stroke="#111" stroke-width="1.4"/>
<line x1="353.30" y1="1030.50" x2="458.90" y2="1030.50" stroke="#111" stroke-width="1.5"/>
<line x1="350.50" y1="1030.50" x2="354.00" y2="1030.50" stroke="#111" stroke-width="1.2"/>
<text x="345.80" y="1033.30" font-size="7.8" text-anchor="end" font-weight="normal" fill="#111">0</text>
<line x1="350.50" y1="1004.43" x2="354.00" y2="1004.43" stroke="#111" stroke-width="1.2"/>
<text x="347.10" y="1007.23" font-size="7.8" text-anchor="end" font-weight="normal" fill="#111">1×10<tspan font-size="6.0" dx="0.7" dy="-3.2">2</tspan></text>
<line x1="350.50" y1="978.36" x2="354.00" y2="978.36" stroke="#111" stroke-width="1.2"/>
<text x="347.10" y="981.16" font-size="7.8" text-anchor="end" font-weight="normal" fill="#111">2×10<tspan font-size="6.0" dx="0.7" dy="-3.2">2</tspan></text>
<line x1="350.50" y1="952.29" x2="354.00" y2="952.29" stroke="#111" stroke-width="1.2"/>
<text x="347.10" y="955.09" font-size="7.8" text-anchor="end" font-weight="normal" fill="#111">3×10<tspan font-size="6.0" dx="0.7" dy="-3.2">2</tspan></text>
<line x1="350.50" y1="926.22" x2="354.00" y2="926.22" stroke="#111" stroke-width="1.2"/>
<text x="347.10" y="929.02" font-size="7.8" text-anchor="end" font-weight="normal" fill="#111">4×10<tspan font-size="6.0" dx="0.7" dy="-3.2">2</tspan></text>
<line x1="350.50" y1="900.15" x2="354.00" y2="900.15" stroke="#111" stroke-width="1.2"/>
<text x="347.10" y="902.95" font-size="7.8" text-anchor="end" font-weight="normal" fill="#111">5×10<tspan font-size="6.0" dx="0.7" dy="-3.2">2</tspan></text>
<line x1="350.50" y1="874.08" x2="354.00" y2="874.08" stroke="#111" stroke-width="1.2"/>
<text x="347.10" y="876.88" font-size="7.8" text-anchor="end" font-weight="normal" fill="#111">6×10<tspan font-size="6.0" dx="0.7" dy="-3.2">2</tspan></text>
<line x1="380.10" y1="1030.50" x2="380.10" y2="1033.70" stroke="#111" stroke-width="1.2"/>
<line x1="432.20" y1="1030.50" x2="432.20" y2="1033.70" stroke="#111" stroke-width="1.2"/>
<line x1="370.50" y1="853.30" x2="438.30" y2="853.30" stroke="#111" stroke-width="1.2"/>
<text x="404.20" y="850.50" font-size="7.5" text-anchor="middle" font-weight="normal" fill="#111">*</text>
<text x="0" y="0" font-size="9.2" text-anchor="middle" font-weight="normal" fill="#111" transform="translate(317.30 950.85) rotate(-90) scale(1.0 1)">Number of RFP<tspan font-size="5.8" dy="-3.2">+</tspan><tspan dy="3.2"> pT</tspan><tspan font-size="7.0" dy="2">regs</tspan></text>
<text x="386.20" y="1042.80" font-size="8.5" text-anchor="end" font-weight="normal" fill="#111" transform="rotate(-45 386.20 1042.80)">WT</text>
<text x="439.50" y="1045.00" font-size="8.5" text-anchor="end" font-weight="normal" fill="#111" transform="rotate(-45 439.50 1045.00)">AhR<tspan font-size="5.6" dy="-3">-/-</tspan></text>
<rect x="363.00" y="1207.00" width="35.50" height="32.60" fill="#da8e84" stroke="#9a1a30" stroke-width="1.1"/>
<rect x="416.90" y="1182.70" width="35.50" height="56.90" fill="#939bc6" stroke="#34467a" stroke-width="1.1"/>
<line x1="381.00" y1="1201.80" x2="381.00" y2="1212.90" stroke="#111" stroke-width="1.3"/>
<line x1="372.00" y1="1201.80" x2="390.00" y2="1201.80" stroke="#111" stroke-width="1.3"/>
<line x1="372.00" y1="1212.90" x2="390.00" y2="1212.90" stroke="#111" stroke-width="1.3"/>
<line x1="434.50" y1="1168.10" x2="434.50" y2="1199.00" stroke="#111" stroke-width="1.3"/>
<line x1="425.50" y1="1168.10" x2="443.50" y2="1168.10" stroke="#111" stroke-width="1.3"/>
<line x1="425.50" y1="1199.00" x2="443.50" y2="1199.00" stroke="#111" stroke-width="1.3"/>
<circle cx="381.0" cy="1190.3" r="2.8" fill="#b8102f"/>
<circle cx="371.2" cy="1201.4" r="2.8" fill="#b8102f"/>
<circle cx="381.0" cy="1202.5" r="2.8" fill="#b8102f"/>
<circle cx="390.3" cy="1200.7" r="2.8" fill="#b8102f"/>
<circle cx="385.8" cy="1221.6" r="2.8" fill="#b8102f"/>
<circle cx="375.7" cy="1225.0" r="2.8" fill="#b8102f"/>
<circle cx="434.5" cy="1112.1" r="2.8" fill="#2f4c86"/>
<circle cx="434.5" cy="1174.0" r="2.8" fill="#2f4c86"/>
<circle cx="425.1" cy="1199.0" r="2.8" fill="#2f4c86"/>
<circle cx="434.5" cy="1203.5" r="2.8" fill="#2f4c86"/>
<circle cx="443.5" cy="1197.2" r="2.8" fill="#2f4c86"/>
<circle cx="434.5" cy="1216.4" r="2.8" fill="#2f4c86"/>
<line x1="354.60" y1="1077.40" x2="354.60" y2="1240.20" stroke="#111" stroke-width="1.4"/>
<line x1="353.90" y1="1239.60" x2="460.50" y2="1239.60" stroke="#111" stroke-width="1.5"/>
<line x1="351.10" y1="1239.60" x2="354.60" y2="1239.60" stroke="#111" stroke-width="1.2"/>
<text x="348.80" y="1242.40" font-size="7.8" text-anchor="end" font-weight="normal" fill="#111">0</text>
<line x1="351.10" y1="1199.64" x2="354.60" y2="1199.64" stroke="#111" stroke-width="1.2"/>
<text x="348.80" y="1202.44" font-size="7.8" text-anchor="end" font-weight="normal" fill="#111">3</text>
<line x1="351.10" y1="1159.68" x2="354.60" y2="1159.68" stroke="#111" stroke-width="1.2"/>
<text x="348.80" y="1162.48" font-size="7.8" text-anchor="end" font-weight="normal" fill="#111">6</text>
<line x1="351.10" y1="1119.72" x2="354.60" y2="1119.72" stroke="#111" stroke-width="1.2"/>
<text x="348.80" y="1122.52" font-size="7.8" text-anchor="end" font-weight="normal" fill="#111">9</text>
<line x1="351.10" y1="1079.76" x2="354.60" y2="1079.76" stroke="#111" stroke-width="1.2"/>
<text x="348.80" y="1082.56" font-size="7.8" text-anchor="end" font-weight="normal" fill="#111">12</text>
<line x1="381.00" y1="1239.60" x2="381.00" y2="1242.80" stroke="#111" stroke-width="1.2"/>
<line x1="434.50" y1="1239.60" x2="434.50" y2="1242.80" stroke="#111" stroke-width="1.2"/>
<text x="0" y="0" font-size="9.2" text-anchor="middle" font-weight="normal" fill="#111" transform="translate(329.80 1157.60) rotate(-90) scale(1.0 1)">Frequency of RFP<tspan font-size="5.8" dy="-3.2">+</tspan><tspan dy="3.2"> pT</tspan><tspan font-size="7.0" dy="2">regs</tspan></text>
<text x="386.60" y="1252.30" font-size="8.5" text-anchor="end" font-weight="normal" fill="#111" transform="rotate(-45 386.60 1252.30)">WT</text>
<text x="442.00" y="1254.50" font-size="8.5" text-anchor="end" font-weight="normal" fill="#111" transform="rotate(-45 442.00 1254.50)">AhR<tspan font-size="5.6" dy="-3">-/-</tspan></text>
</svg><div id="brd"></div></div></body></html>
